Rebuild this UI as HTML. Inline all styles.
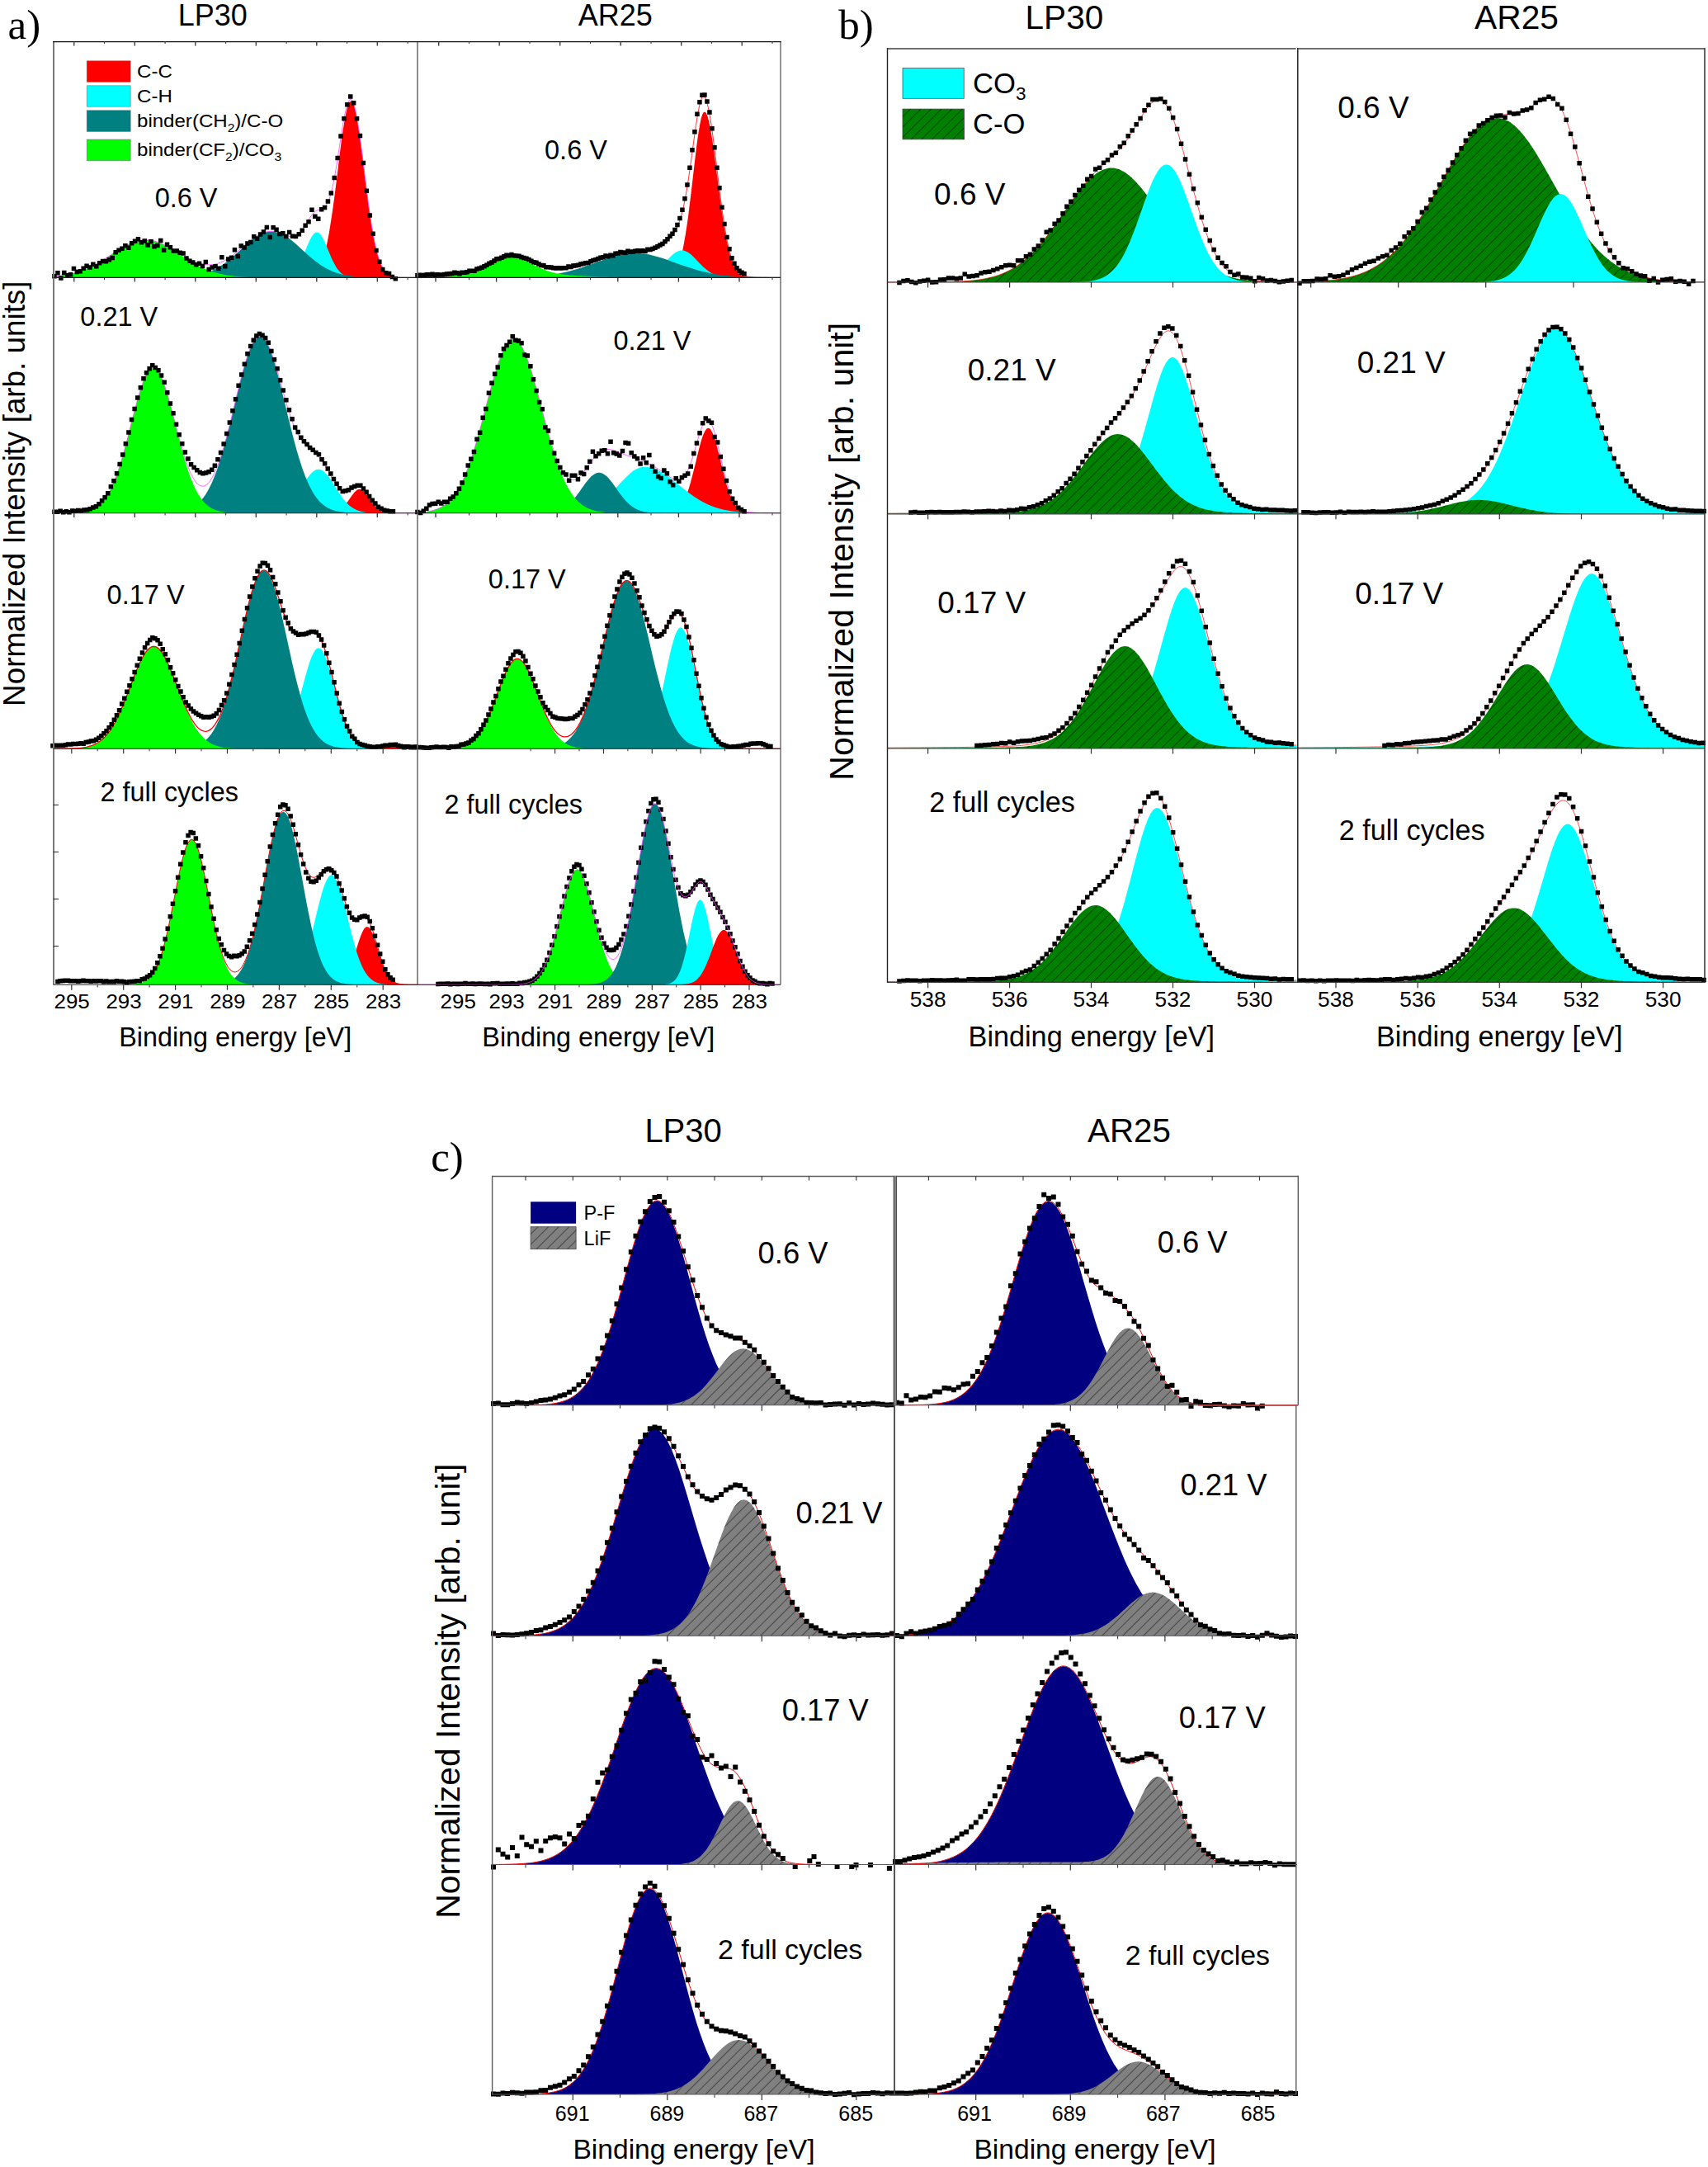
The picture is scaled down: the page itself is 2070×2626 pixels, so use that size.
<!DOCTYPE html><html><head><meta charset="utf-8"><title>XPS spectra</title><style>html,body{margin:0;padding:0;background:#fff}svg{display:block}</style></head><body><svg width="2070" height="2626" viewBox="0 0 2070 2626"><defs><pattern id="hatch" width="8.87" height="8.87" patternUnits="userSpaceOnUse" patternTransform="rotate(-45)"><line x1="-1" y1="4.4" x2="10" y2="4.4" stroke="#000" stroke-opacity="0.85" stroke-width="0.55"/></pattern></defs><rect width="2070" height="2626" fill="#fff"/><path d="M362.9,336.4L362.9,336.3L364.7,336.2L366.5,336.2L368.2,336L370,335.9L371.8,335.6L373.6,335.2L375.4,334.8L377.2,334.1L378.9,333.2L380.7,332L382.5,330.4L384.3,328.4L386.1,325.8L387.9,322.6L389.6,318.5L391.4,313.6L393.2,307.8L395,300.8L396.8,292.7L398.6,283.5L400.3,273L402.1,261.5L403.9,248.9L405.7,235.4L407.5,221.4L409.3,207L411,192.6L412.8,178.5L414.6,165.3L416.4,153.2L418.2,142.6L420,134L421.7,127.6L423.5,123.7L425.3,122.4L427.1,123.7L428.9,127.6L430.6,134L432.4,142.6L434.2,153.2L436,165.3L437.8,178.5L439.6,192.6L441.3,207L443.1,221.4L444.9,235.4L446.7,248.9L448.5,261.5L450.3,273L452,283.5L453.8,292.7L455.6,300.8L457.4,307.8L459.2,313.6L461,318.5L462.7,322.6L464.5,325.8L466.3,328.4L468.1,330.4L469.9,332L471.7,333.2L473.4,334.1L475.2,334.8L477,335.2L478.8,335.6L480.6,335.9L482.4,336L484.1,336.2L485.9,336.2L487.7,336.3L487.7,336.4Z" fill="#ff0000"/>
<path d="M330.6,336.4L330.6,336.4L332.1,336.4L333.6,336.3L335.1,336.3L336.7,336.3L338.2,336.2L339.7,336.1L341.3,336L342.8,335.8L344.3,335.6L345.8,335.3L347.4,334.9L348.9,334.3L350.4,333.7L351.9,332.8L353.5,331.8L355,330.6L356.5,329L358,327.3L359.6,325.2L361.1,322.8L362.6,320.1L364.2,317.1L365.7,313.9L367.2,310.5L368.7,306.8L370.3,303.1L371.8,299.4L373.3,295.8L374.8,292.4L376.4,289.3L377.9,286.6L379.4,284.4L380.9,282.7L382.5,281.7L384,281.4L385.5,281.7L387.1,282.7L388.6,284.4L390.1,286.6L391.6,289.3L393.2,292.4L394.7,295.8L396.2,299.4L397.7,303.1L399.3,306.8L400.8,310.5L402.3,313.9L403.8,317.1L405.4,320.1L406.9,322.8L408.4,325.2L410,327.3L411.5,329L413,330.6L414.5,331.8L416.1,332.8L417.6,333.7L419.1,334.3L420.6,334.9L422.2,335.3L423.7,335.6L425.2,335.8L426.7,336L428.3,336.1L429.8,336.2L431.3,336.3L432.9,336.3L434.4,336.3L435.9,336.4L437.4,336.4L437.4,336.4Z" fill="#00ffff"/>
<path d="M184.7,336.4L184.7,336.4L188.8,336.4L192.9,336.3L197.1,336.3L201.2,336.3L205.3,336.2L209.4,336.1L213.6,336L217.7,335.8L221.8,335.6L225.9,335.2L230.1,334.8L234.2,334.3L238.3,333.6L242.4,332.8L246.5,331.7L250.7,330.4L254.8,328.9L258.9,327.1L263,325L267.2,322.5L271.3,319.8L275.4,316.8L279.5,313.5L283.6,310L287.8,306.3L291.9,302.5L296,298.8L300.1,295.1L304.3,291.6L308.4,288.5L312.5,285.7L316.6,283.4L320.8,281.8L324.9,280.7L329,280.4L333.1,280.7L337.2,281.8L341.4,283.4L345.5,285.7L349.6,288.5L353.7,291.6L357.9,295.1L362,298.8L366.1,302.5L370.2,306.3L374.4,310L378.5,313.5L382.6,316.8L386.7,319.8L390.8,322.5L395,325L399.1,327.1L403.2,328.9L407.3,330.4L411.5,331.7L415.6,332.8L419.7,333.6L423.8,334.3L427.9,334.8L432.1,335.2L436.2,335.6L440.3,335.8L444.4,336L448.6,336.1L452.7,336.2L456.8,336.3L460.9,336.3L465.1,336.3L469.2,336.4L473.3,336.4L473.3,336.4Z" fill="#008080"/>
<path d="M64.5,336.4L64.5,335.1L69.2,334.7L73.9,334.1L78.5,333.4L83.2,332.6L87.9,331.5L92.6,330.2L97.2,328.8L101.9,327L106.6,325L111.3,322.8L115.9,320.3L120.6,317.6L125.3,314.8L130,311.8L134.6,308.7L139.3,305.6L144,302.7L148.7,299.8L153.3,297.3L158,295L162.7,293.2L167.4,291.9L172.1,291.1L176.7,290.8L181.4,291.1L186.1,291.9L190.8,293.3L195.4,295.2L200.1,297.4L204.8,300L209.5,302.8L214.1,305.8L218.8,308.9L223.5,312L228.2,314.9L232.8,317.8L237.5,320.5L242.2,322.9L246.9,325.2L251.6,327.1L256.2,328.8L260.9,330.3L265.6,331.6L270.3,332.6L274.9,333.5L279.6,334.1L284.3,334.7L289,335.1L293.6,335.5L298.3,335.7L303,335.9L307.7,336L312.3,336.2L317,336.2L321.7,336.3L326.4,336.3L331,336.3L335.7,336.4L340.4,336.4L340.4,336.4Z" fill="#00ff00"/>
<path d="M64.5,335.1L67,334.9L69.5,334.6L72,334.3L74.5,334L77,333.7L79.5,333.2L82,332.8L84.5,332.3L87.1,331.7L89.6,331.1L92.1,330.4L94.6,329.6L97.1,328.8L99.6,327.9L102.1,326.9L104.6,325.9L107.1,324.8L109.6,323.6L112.1,322.4L114.6,321.1L117.1,319.7L119.6,318.2L122.1,316.7L124.6,315.2L127.1,313.6L129.6,312L132.2,310.4L134.7,308.7L137.2,307.1L139.7,305.4L142.2,303.8L144.7,302.2L147.2,300.7L149.7,299.3L152.2,297.9L154.7,296.6L157.2,295.4L159.7,294.3L162.2,293.4L164.7,292.6L167.2,291.9L169.7,291.4L172.2,291L174.8,290.8L177.3,290.8L179.8,290.9L182.3,291.2L184.8,291.6L187.3,292.2L189.8,292.9L192.3,293.8L194.8,294.8L197.3,295.9L199.8,297.1L202.3,298.4L204.8,299.8L207.3,301.3L209.8,302.7L212.3,304.3L214.8,305.8L217.3,307.3L219.9,308.8L222.4,310.3L224.9,311.8L227.4,313.2L229.9,314.5L232.4,315.7L234.9,316.8L237.4,317.8L239.9,318.7L242.4,319.4L244.9,320L247.4,320.5L249.9,320.8L252.4,320.9L254.9,320.8L257.4,320.6L259.9,320.2L262.4,319.6L265,318.9L267.5,318L270,316.9L272.5,315.6L275,314.2L277.5,312.6L280,310.9L282.5,309.1L285,307.2L287.5,305.1L290,303.1L292.5,300.9L295,298.8L297.5,296.7L300,294.6L302.5,292.5L305,290.6L307.6,288.7L310.1,287L312.6,285.4L315.1,284L317.6,282.8L320.1,281.9L322.6,281.1L325.1,280.6L327.6,280.4L330.1,280.3L332.6,280.6L335.1,281L337.6,281.7L340.1,282.5L342.6,283.5L345.1,284.5L347.6,285.4L350.1,286.2L352.7,286.7L355.2,286.8L357.7,286.2L360.2,285L362.7,282.9L365.2,280.1L367.7,276.6L370.2,272.6L372.7,268.4L375.2,264.4L377.7,260.8L380.2,257.9L382.7,255.9L385.2,254.7L387.7,253.9L390.2,253.2L392.7,251.8L395.2,249.2L397.8,244.6L400.3,237.5L402.8,227.8L405.3,215.5L407.8,200.9L410.3,184.9L412.8,168.4L415.3,152.7L417.8,138.9L420.3,128.3L422.8,121.7L425.3,119.9L427.8,123.1L430.3,131.2L432.8,143.7L435.3,159.7L437.8,178.3L440.4,198.3L442.9,218.7L445.4,238.5L447.9,256.9L450.4,273.5L452.9,287.8L455.4,299.7L457.9,309.4L460.4,317L462.9,322.8L465.4,327.1L467.9,330.2L470.4,332.3L472.9,333.8L475.4,334.8L477.9,335.4L480.4,335.8L482.9,336.1L485.5,336.2L488,336.3L490.5,336.3L493,336.4L495.5,336.4L498,336.4L500.5,336.4L503,336.4L505.5,336.4" fill="none" stroke="#ff40ff" stroke-width="0.8"/>
<path d="M63.2,331.9h5.5v5.5h-5.5zM67.2,328.1h5.5v5.5h-5.5zM71.1,334.2h5.5v5.5h-5.5zM75,327.8h5.5v5.5h-5.5zM78.9,330.9h5.5v5.5h-5.5zM82.8,330.1h5.5v5.5h-5.5zM86.7,322.7h5.5v5.5h-5.5zM90.6,326.8h5.5v5.5h-5.5zM94.5,326.1h5.5v5.5h-5.5zM98.4,322.4h5.5v5.5h-5.5zM102.3,319.6h5.5v5.5h-5.5zM106.2,321.3h5.5v5.5h-5.5zM110.1,317.5h5.5v5.5h-5.5zM114,320.1h5.5v5.5h-5.5zM117.9,316h5.5v5.5h-5.5zM121.8,313.8h5.5v5.5h-5.5zM125.7,314h5.5v5.5h-5.5zM129.6,312h5.5v5.5h-5.5zM133.5,309.8h5.5v5.5h-5.5zM137.4,303.1h5.5v5.5h-5.5zM141.3,300.4h5.5v5.5h-5.5zM145.2,298.5h5.5v5.5h-5.5zM149.1,295.1h5.5v5.5h-5.5zM153,297.4h5.5v5.5h-5.5zM156.9,291.9h5.5v5.5h-5.5zM160.8,289.5h5.5v5.5h-5.5zM164.7,286.9h5.5v5.5h-5.5zM168.6,290.9h5.5v5.5h-5.5zM172.5,289.3h5.5v5.5h-5.5zM176.4,294.2h5.5v5.5h-5.5zM180.3,290.1h5.5v5.5h-5.5zM184.2,296h5.5v5.5h-5.5zM188.1,294.8h5.5v5.5h-5.5zM192,288.7h5.5v5.5h-5.5zM195.9,300.4h5.5v5.5h-5.5zM199.8,293.4h5.5v5.5h-5.5zM203.7,297h5.5v5.5h-5.5zM207.6,301.2h5.5v5.5h-5.5zM211.5,301.3h5.5v5.5h-5.5zM215.4,303.5h5.5v5.5h-5.5zM219.3,304.2h5.5v5.5h-5.5zM223.2,310.3h5.5v5.5h-5.5zM227.1,313.4h5.5v5.5h-5.5zM231,315.3h5.5v5.5h-5.5zM234.9,318.1h5.5v5.5h-5.5zM238.8,316.5h5.5v5.5h-5.5zM242.7,319.7h5.5v5.5h-5.5zM246.6,314.7h5.5v5.5h-5.5zM250.5,323.7h5.5v5.5h-5.5zM254.4,321.2h5.5v5.5h-5.5zM258.3,320.1h5.5v5.5h-5.5zM262.2,322.4h5.5v5.5h-5.5zM266.1,308.9h5.5v5.5h-5.5zM270,320h5.5v5.5h-5.5zM273.9,311.3h5.5v5.5h-5.5zM277.8,309.4h5.5v5.5h-5.5zM281.7,299.9h5.5v5.5h-5.5zM285.6,307.7h5.5v5.5h-5.5zM289.5,295.3h5.5v5.5h-5.5zM293.4,297.3h5.5v5.5h-5.5zM297.2,292.3h5.5v5.5h-5.5zM301.1,290.7h5.5v5.5h-5.5zM305,283.9h5.5v5.5h-5.5zM308.9,286.6h5.5v5.5h-5.5zM312.8,281.3h5.5v5.5h-5.5zM316.7,278.3h5.5v5.5h-5.5zM320.6,272.7h5.5v5.5h-5.5zM324.5,284.8h5.5v5.5h-5.5zM328.4,273.1h5.5v5.5h-5.5zM332.3,275.4h5.5v5.5h-5.5zM336.2,280.8h5.5v5.5h-5.5zM340.1,279.9h5.5v5.5h-5.5zM344,283.8h5.5v5.5h-5.5zM347.9,278.7h5.5v5.5h-5.5zM351.8,283.4h5.5v5.5h-5.5zM355.7,283.8h5.5v5.5h-5.5zM359.6,281.1h5.5v5.5h-5.5zM363.5,276.4h5.5v5.5h-5.5zM367.4,270.4h5.5v5.5h-5.5zM371.3,266h5.5v5.5h-5.5zM375.2,251.5h5.5v5.5h-5.5zM379.1,259.5h5.5v5.5h-5.5zM383,262.5h5.5v5.5h-5.5zM386.9,251h5.5v5.5h-5.5zM390.8,248.8h5.5v5.5h-5.5zM394.7,241.3h5.5v5.5h-5.5zM398.6,231.3h5.5v5.5h-5.5zM402.5,212.8h5.5v5.5h-5.5zM406.4,188.7h5.5v5.5h-5.5zM410.3,162.2h5.5v5.5h-5.5zM414.2,140.9h5.5v5.5h-5.5zM418.1,124.1h5.5v5.5h-5.5zM422,114.2h5.5v5.5h-5.5zM425.9,121.9h5.5v5.5h-5.5zM429.8,141.1h5.5v5.5h-5.5zM433.7,161.8h5.5v5.5h-5.5zM437.6,194.8h5.5v5.5h-5.5zM441.5,228.4h5.5v5.5h-5.5zM445.4,258.3h5.5v5.5h-5.5zM449.3,280.4h5.5v5.5h-5.5zM453.2,300.8h5.5v5.5h-5.5zM457.1,314.5h5.5v5.5h-5.5zM461,323.7h5.5v5.5h-5.5zM464.9,328h5.5v5.5h-5.5zM468.8,328.7h5.5v5.5h-5.5zM472.7,332.7h5.5v5.5h-5.5zM476.6,335.1h5.5v5.5h-5.5z" fill="#000"/>
<path d="M799.2,336.4L799.2,336.3L800.8,336.2L802.4,336.2L803.9,336L805.5,335.9L807.1,335.6L808.7,335.3L810.2,334.8L811.8,334.2L813.4,333.3L815,332.1L816.5,330.6L818.1,328.6L819.7,326.1L821.3,322.9L822.8,319L824.4,314.2L826,308.4L827.6,301.7L829.1,293.8L830.7,284.8L832.3,274.6L833.9,263.4L835.4,251.3L837,238.4L838.6,224.9L840.2,211.2L841.8,197.6L843.3,184.4L844.9,172.1L846.5,161.1L848.1,151.6L849.6,144.1L851.2,138.8L852.8,135.9L854.4,135.5L855.9,137.3L857.5,141.1L859.1,146.8L860.7,154.2L862.2,163.1L863.8,173.3L865.4,184.4L867,196.3L868.5,208.6L870.1,220.9L871.7,233.2L873.3,245.1L874.8,256.5L876.4,267.1L878,277L879.6,286L881.2,294L882.7,301.2L884.3,307.4L885.9,312.8L887.5,317.4L889,321.2L890.6,324.4L892.2,327L893.8,329.2L895.3,330.9L896.9,332.2L898.5,333.3L900.1,334.1L901.6,334.7L903.2,335.2L904.8,335.5L906.4,335.8L907.9,335.9L909.5,336.1L911.1,336.2L912.7,336.3L914.2,336.3L914.2,336.4Z" fill="#ff0000"/>
<path d="M752.3,336.4L752.3,336.4L754.4,336.4L756.5,336.4L758.7,336.3L760.8,336.3L762.9,336.3L765,336.2L767.1,336.1L769.2,336L771.4,335.9L773.5,335.7L775.6,335.5L777.7,335.2L779.8,334.8L781.9,334.3L784.1,333.6L786.2,332.9L788.3,332L790.4,330.9L792.5,329.7L794.6,328.2L796.8,326.6L798.9,324.8L801,322.9L803.1,320.8L805.2,318.7L807.3,316.4L809.5,314.2L811.6,312.1L813.7,310L815.8,308.1L817.9,306.5L820,305.2L822.2,304.2L824.3,303.6L826.4,303.4L828.5,303.6L830.6,304.2L832.8,305.2L834.9,306.5L837,308.1L839.1,310L841.2,312.1L843.3,314.2L845.5,316.4L847.6,318.7L849.7,320.8L851.8,322.9L853.9,324.8L856,326.6L858.2,328.2L860.3,329.7L862.4,330.9L864.5,332L866.6,332.9L868.7,333.6L870.9,334.3L873,334.8L875.1,335.2L877.2,335.5L879.3,335.7L881.4,335.9L883.6,336L885.7,336.1L887.8,336.2L889.9,336.3L892,336.3L894.1,336.3L896.3,336.4L898.4,336.4L900.5,336.4L900.5,336.4Z" fill="#00ffff"/>
<path d="M578.9,336.4L578.9,336.4L584.4,336.4L589.9,336.4L595.3,336.3L600.8,336.3L606.3,336.3L611.8,336.2L617.3,336.2L622.7,336.1L628.2,336L633.7,335.8L639.2,335.6L644.6,335.3L650.1,334.9L655.6,334.5L661.1,333.9L666.6,333.2L672,332.4L677.5,331.4L683,330.3L688.5,329L694,327.6L699.4,325.9L704.9,324.2L710.4,322.3L715.9,320.4L721.4,318.4L726.8,316.4L732.3,314.5L737.8,312.6L743.3,311L748.8,309.5L754.2,308.4L759.7,307.5L765.2,307L770.7,306.9L776.1,307.1L781.6,307.7L787.1,308.6L792.6,309.9L798.1,311.4L803.5,313.1L809,314.9L814.5,316.9L820,318.9L825.5,320.9L830.9,322.8L836.4,324.6L841.9,326.3L847.4,327.9L852.9,329.3L858.3,330.6L863.8,331.7L869.3,332.6L874.8,333.4L880.3,334.1L885.7,334.6L891.2,335L896.7,335.4L902.2,335.6L907.6,335.8L913.1,336L918.6,336.1L924.1,336.2L929.6,336.3L935,336.3L940.5,336.3L946,336.4L946,336.4Z" fill="#008080"/>
<path d="M505.5,336.4L505.5,335.7L508.2,335.6L510.9,335.5L513.5,335.4L516.2,335.4L518.9,335.3L521.6,335.2L524.2,335.1L526.9,335L529.6,334.8L532.3,334.7L535,334.6L537.6,334.4L540.3,334.3L543,334.1L545.7,333.9L548.3,333.7L551,333.5L553.7,333.2L556.4,332.9L559,332.6L561.7,332.2L564.4,331.7L567.1,331.2L569.8,330.6L572.4,329.9L575.1,329.1L577.8,328.2L580.5,327.2L583.1,326.1L585.8,324.9L588.5,323.6L591.2,322.3L593.9,320.9L596.5,319.5L599.2,318.1L601.9,316.7L604.6,315.4L607.2,314.3L609.9,313.3L612.6,312.5L615.3,311.9L617.9,311.5L620.6,311.4L623.3,311.6L626,312L628.7,312.6L631.3,313.4L634,314.5L636.7,315.6L639.4,316.9L642,318.3L644.7,319.7L647.4,321.1L650.1,322.5L652.8,323.8L655.4,325.1L658.1,326.2L660.8,327.3L663.5,328.3L666.1,329.1L668.8,329.9L671.5,330.6L674.2,331.2L676.9,331.7L679.5,332.1L682.2,332.5L684.9,332.8L687.6,333.1L690.2,333.4L692.9,333.6L695.6,333.8L698.3,334L700.9,334.2L703.6,334.3L706.3,334.5L709,334.6L711.7,334.7L714.3,334.8L717,335L719.7,335.1L722.4,335.2L725,335.3L727.7,335.4L730.4,335.4L733.1,335.5L735.8,335.6L738.4,335.7L741.1,335.7L743.8,335.8L746.5,335.8L749.1,335.9L751.8,336L754.5,336L757.2,336L759.8,336.1L762.5,336.1L765.2,336.1L767.9,336.2L770.6,336.2L773.2,336.2L775.9,336.2L778.6,336.3L781.3,336.3L783.9,336.3L786.6,336.3L789.3,336.3L792,336.3L794.7,336.3L797.3,336.3L800,336.4L802.7,336.4L805.4,336.4L808,336.4L810.7,336.4L813.4,336.4L816.1,336.4L818.7,336.4L821.4,336.4L824.1,336.4L826.8,336.4L829.5,336.4L832.1,336.4L834.8,336.4L837.5,336.4L840.2,336.4L842.8,336.4L845.5,336.4L848.2,336.4L848.2,336.4Z" fill="#00ff00"/>
<path d="M505.5,335.7L508,335.6L510.5,335.5L513,335.5L515.5,335.4L518,335.3L520.5,335.2L523,335.1L525.5,335L528,334.9L530.5,334.8L533,334.7L535.5,334.6L538,334.4L540.5,334.3L543,334.1L545.5,333.9L548,333.7L550.6,333.5L553.1,333.3L555.6,333L558.1,332.7L560.6,332.4L563.1,332L565.6,331.5L568.1,331L570.6,330.4L573.1,329.7L575.6,329L578.1,328.1L580.6,327.2L583.1,326.1L585.6,325L588.1,323.8L590.6,322.5L593.1,321.2L595.6,319.9L598.1,318.6L600.6,317.3L603.1,316L605.6,314.8L608.1,313.8L610.6,312.9L613.1,312.1L615.6,311.6L618.1,311.2L620.6,311.1L623.1,311.2L625.6,311.5L628.1,312L630.6,312.7L633.1,313.5L635.6,314.5L638.2,315.5L640.7,316.7L643.2,317.8L645.7,319L648.2,320.2L650.7,321.3L653.2,322.3L655.7,323.2L658.2,324.1L660.7,324.8L663.2,325.4L665.7,325.9L668.2,326.3L670.7,326.6L673.2,326.8L675.7,326.8L678.2,326.8L680.7,326.7L683.2,326.5L685.7,326.2L688.2,325.9L690.7,325.4L693.2,325L695.7,324.5L698.2,323.9L700.7,323.3L703.2,322.6L705.7,321.9L708.2,321.2L710.7,320.5L713.2,319.7L715.7,318.9L718.2,318.1L720.7,317.3L723.2,316.5L725.8,315.7L728.3,314.9L730.8,314L733.3,313.3L735.8,312.5L738.3,311.7L740.8,311L743.3,310.4L745.8,309.7L748.3,309.1L750.8,308.6L753.3,308.1L755.8,307.7L758.3,307.3L760.8,307L763.3,306.8L765.8,306.6L768.3,306.4L770.8,306.2L773.3,306.1L775.8,306L778.3,305.8L780.8,305.6L783.3,305.3L785.8,304.9L788.3,304.4L790.8,303.6L793.3,302.7L795.8,301.6L798.3,300.2L800.8,298.6L803.3,296.9L805.8,294.8L808.3,292.6L810.8,290.1L813.3,287.3L815.9,283.9L818.4,279.9L820.9,274.9L823.4,268.6L825.9,260.5L828.4,250.5L830.9,238.1L833.4,223.4L835.9,206.7L838.4,188.6L840.9,170L843.4,152.3L845.9,136.7L848.4,124.8L850.9,117.8L853.4,116.5L855.9,121L858.4,130.3L860.9,143.8L863.4,160.8L865.9,180.1L868.4,200.7L870.9,221.5L873.4,241.4L875.9,259.8L878.4,276.2L880.9,290.1L883.4,301.7L885.9,310.9L888.4,318.1L890.9,323.5L893.4,327.5L895.9,330.3L898.4,332.3L900.9,333.6L903.5,334.5L906,335.1L908.5,335.5L911,335.7L913.5,335.9L916,336L918.5,336.1L921,336.1L923.5,336.2L926,336.2L928.5,336.2L931,336.3L933.5,336.3L936,336.3L938.5,336.3L941,336.3L943.5,336.3L946,336.4" fill="none" stroke="#ff0000" stroke-width="0.8"/>
<path d="M503.2,330.9h5.5v5.5h-5.5zM506.2,330.6h5.5v5.5h-5.5zM509.2,331h5.5v5.5h-5.5zM512.2,330.5h5.5v5.5h-5.5zM515.2,330.1h5.5v5.5h-5.5zM518.2,330.2h5.5v5.5h-5.5zM521.2,329.5h5.5v5.5h-5.5zM524.2,330.6h5.5v5.5h-5.5zM527.2,330h5.5v5.5h-5.5zM530.2,330.3h5.5v5.5h-5.5zM533.2,330.2h5.5v5.5h-5.5zM536.2,329.7h5.5v5.5h-5.5zM539.2,329.3h5.5v5.5h-5.5zM542.2,329h5.5v5.5h-5.5zM545.2,328.7h5.5v5.5h-5.5zM548.2,327.6h5.5v5.5h-5.5zM551.2,328h5.5v5.5h-5.5zM554.2,328.9h5.5v5.5h-5.5zM557.2,327.6h5.5v5.5h-5.5zM560.2,327.6h5.5v5.5h-5.5zM563.2,326.9h5.5v5.5h-5.5zM566.2,325.4h5.5v5.5h-5.5zM569.2,325.4h5.5v5.5h-5.5zM572.2,325.4h5.5v5.5h-5.5zM575.2,323.2h5.5v5.5h-5.5zM578.2,322.4h5.5v5.5h-5.5zM581.2,321.6h5.5v5.5h-5.5zM584.2,320.1h5.5v5.5h-5.5zM587.2,318.4h5.5v5.5h-5.5zM590.2,316.6h5.5v5.5h-5.5zM593.2,315.2h5.5v5.5h-5.5zM596.2,313.3h5.5v5.5h-5.5zM599.2,310.9h5.5v5.5h-5.5zM602.2,310.8h5.5v5.5h-5.5zM605.2,309.5h5.5v5.5h-5.5zM608.2,308.1h5.5v5.5h-5.5zM611.2,306.6h5.5v5.5h-5.5zM614.2,307h5.5v5.5h-5.5zM617.2,305.7h5.5v5.5h-5.5zM620.2,307.1h5.5v5.5h-5.5zM623.2,307.3h5.5v5.5h-5.5zM626.2,307.5h5.5v5.5h-5.5zM629.2,308.8h5.5v5.5h-5.5zM632.2,309.8h5.5v5.5h-5.5zM635.2,310.5h5.5v5.5h-5.5zM638.2,311.7h5.5v5.5h-5.5zM641.2,313.4h5.5v5.5h-5.5zM644.2,315h5.5v5.5h-5.5zM647.2,315.5h5.5v5.5h-5.5zM650.2,317.3h5.5v5.5h-5.5zM653.2,318.7h5.5v5.5h-5.5zM656.2,319h5.5v5.5h-5.5zM659.2,320.9h5.5v5.5h-5.5zM662.2,321h5.5v5.5h-5.5zM665.2,321.2h5.5v5.5h-5.5zM668.2,321.9h5.5v5.5h-5.5zM671.2,322.3h5.5v5.5h-5.5zM674.2,321.9h5.5v5.5h-5.5zM677.2,322.2h5.5v5.5h-5.5zM680.2,322h5.5v5.5h-5.5zM683.2,321.9h5.5v5.5h-5.5zM686.2,320.3h5.5v5.5h-5.5zM689.2,320.7h5.5v5.5h-5.5zM692.2,319.3h5.5v5.5h-5.5zM695.2,319h5.5v5.5h-5.5zM698.2,318.6h5.5v5.5h-5.5zM701.2,317.3h5.5v5.5h-5.5zM704.2,316.7h5.5v5.5h-5.5zM707.2,315.9h5.5v5.5h-5.5zM710.2,315.7h5.5v5.5h-5.5zM713.2,314.1h5.5v5.5h-5.5zM716.2,312.7h5.5v5.5h-5.5zM719.2,311.9h5.5v5.5h-5.5zM722.2,310.7h5.5v5.5h-5.5zM725.2,309.4h5.5v5.5h-5.5zM728.2,309h5.5v5.5h-5.5zM731.2,307.3h5.5v5.5h-5.5zM734.2,308.1h5.5v5.5h-5.5zM737.2,306.6h5.5v5.5h-5.5zM740.2,306.9h5.5v5.5h-5.5zM743.2,304.5h5.5v5.5h-5.5zM746.2,304.2h5.5v5.5h-5.5zM749.2,302.8h5.5v5.5h-5.5zM752.2,303.3h5.5v5.5h-5.5zM755.2,303.6h5.5v5.5h-5.5zM758.2,301.6h5.5v5.5h-5.5zM761.2,302.6h5.5v5.5h-5.5zM764.2,302.3h5.5v5.5h-5.5zM767.2,301.6h5.5v5.5h-5.5zM770.2,301.1h5.5v5.5h-5.5zM773.2,301.5h5.5v5.5h-5.5zM776.2,300.9h5.5v5.5h-5.5zM779.2,301.7h5.5v5.5h-5.5zM782.2,299.5h5.5v5.5h-5.5zM785.2,299.7h5.5v5.5h-5.5zM788.2,298.8h5.5v5.5h-5.5zM791.2,297.4h5.5v5.5h-5.5zM794.2,296.1h5.5v5.5h-5.5zM797.2,294.3h5.5v5.5h-5.5zM800.2,292.8h5.5v5.5h-5.5zM803.2,290h5.5v5.5h-5.5zM806.2,287h5.5v5.5h-5.5zM809.2,283.6h5.5v5.5h-5.5zM812.2,280.5h5.5v5.5h-5.5zM815.2,275.8h5.5v5.5h-5.5zM818.2,269.7h5.5v5.5h-5.5zM821.2,261.7h5.5v5.5h-5.5zM824.2,251.4h5.5v5.5h-5.5zM827.2,238h5.5v5.5h-5.5zM830.2,221.3h5.5v5.5h-5.5zM833.2,200.6h5.5v5.5h-5.5zM836.2,179.1h5.5v5.5h-5.5zM839.2,157.1h5.5v5.5h-5.5zM842.2,135.4h5.5v5.5h-5.5zM845.2,121.1h5.5v5.5h-5.5zM848.2,112.4h5.5v5.5h-5.5zM851.2,112.3h5.5v5.5h-5.5zM854.2,120.3h5.5v5.5h-5.5zM857.2,133.2h5.5v5.5h-5.5zM860.2,153.1h5.5v5.5h-5.5zM863.2,176.1h5.5v5.5h-5.5zM866.2,200.4h5.5v5.5h-5.5zM869.2,225h5.5v5.5h-5.5zM872.2,248.4h5.5v5.5h-5.5zM875.2,268.8h5.5v5.5h-5.5zM878.2,284.7h5.5v5.5h-5.5zM881.2,298.9h5.5v5.5h-5.5zM884.2,310h5.5v5.5h-5.5zM887.2,316.5h5.5v5.5h-5.5zM890.2,322h5.5v5.5h-5.5zM893.2,325.6h5.5v5.5h-5.5zM896.2,327.5h5.5v5.5h-5.5zM899.2,329.1h5.5v5.5h-5.5z" fill="#000"/>
<path d="M389.2,621.7L389.2,621.7L390.7,621.7L392.2,621.7L393.7,621.6L395.2,621.6L396.7,621.6L398.3,621.5L399.8,621.4L401.3,621.3L402.8,621.1L404.3,620.8L405.8,620.5L407.3,620L408.8,619.5L410.3,618.8L411.8,617.9L413.4,616.8L414.9,615.6L416.4,614.1L417.9,612.4L419.4,610.6L420.9,608.6L422.4,606.4L423.9,604.2L425.4,602L426.9,599.9L428.5,597.9L430,596.1L431.5,594.7L433,593.6L434.5,592.9L436,592.7L437.5,592.9L439,593.6L440.5,594.7L442,596.1L443.5,597.9L445.1,599.9L446.6,602L448.1,604.2L449.6,606.4L451.1,608.6L452.6,610.6L454.1,612.4L455.6,614.1L457.1,615.6L458.6,616.8L460.2,617.9L461.7,618.8L463.2,619.5L464.7,620L466.2,620.5L467.7,620.8L469.2,621.1L470.7,621.3L472.2,621.4L473.7,621.5L475.3,621.6L476.8,621.6L478.3,621.6L479.8,621.7L481.3,621.7L482.8,621.7L482.8,621.7Z" fill="#ff0000"/>
<path d="M308,621.7L308,621.7L310.2,621.7L312.5,621.6L314.7,621.6L316.9,621.6L319.1,621.5L321.4,621.4L323.6,621.3L325.8,621.1L328.1,620.9L330.3,620.6L332.5,620.2L334.7,619.7L337,619.1L339.2,618.3L341.4,617.3L343.7,616.1L345.9,614.6L348.1,612.9L350.3,610.9L352.6,608.6L354.8,606L357,603.1L359.3,600L361.5,596.7L363.7,593.2L365.9,589.6L368.2,586.1L370.4,582.6L372.6,579.3L374.9,576.3L377.1,573.7L379.3,571.6L381.5,570L383.8,569L386,568.7L388.2,569L390.5,570L392.7,571.6L394.9,573.7L397.1,576.3L399.4,579.3L401.6,582.6L403.8,586.1L406.1,589.6L408.3,593.2L410.5,596.7L412.7,600L415,603.1L417.2,606L419.4,608.6L421.7,610.9L423.9,612.9L426.1,614.6L428.3,616.1L430.6,617.3L432.8,618.3L435,619.1L437.3,619.7L439.5,620.2L441.7,620.6L443.9,620.9L446.2,621.1L448.4,621.3L450.6,621.4L452.9,621.5L455.1,621.6L457.3,621.6L459.5,621.6L461.8,621.7L464,621.7L464,621.7Z" fill="#00ffff"/>
<path d="M194.1,621.7L194.1,621.6L197.6,621.5L201,621.5L204.5,621.3L207.9,621.2L211.4,620.9L214.8,620.5L218.3,620.1L221.7,619.4L225.2,618.5L228.6,617.3L232.1,615.7L235.6,613.7L239,611.1L242.5,607.9L245.9,603.8L249.4,598.9L252.8,593.1L256.3,586.1L259.7,578L263.2,568.8L266.6,558.3L270.1,546.8L273.5,534.2L277,520.7L280.5,506.7L283.9,492.3L287.4,477.9L290.8,463.8L294.3,450.6L297.7,438.5L301.2,427.9L304.6,419.3L308.1,412.9L311.5,409L315,407.7L318.5,409L321.9,412.9L325.4,419.3L328.8,427.9L332.3,438.5L335.7,450.6L339.2,463.8L342.6,477.9L346.1,492.3L349.5,506.7L353,520.7L356.5,534.2L359.9,546.8L363.4,558.3L366.8,568.8L370.3,578L373.7,586.1L377.2,593.1L380.6,598.9L384.1,603.8L387.5,607.9L391,611.1L394.4,613.7L397.9,615.7L401.4,617.3L404.8,618.5L408.3,619.4L411.7,620.1L415.2,620.5L418.6,620.9L422.1,621.2L425.5,621.3L429,621.5L432.4,621.5L435.9,621.6L435.9,621.7Z" fill="#008080"/>
<path d="M80.4,621.7L80.4,621.6L83.4,621.6L86.4,621.5L89.4,621.4L92.4,621.2L95.4,621L98.5,620.8L101.5,620.3L104.5,619.8L107.5,619.1L110.5,618.1L113.5,616.8L116.5,615.1L119.5,613L122.5,610.3L125.5,607L128.5,603L131.5,598.2L134.6,592.5L137.6,585.8L140.6,578.2L143.6,569.7L146.6,560.2L149.6,549.8L152.6,538.8L155.6,527.3L158.6,515.4L161.6,503.6L164.6,492.1L167.6,481.2L170.7,471.3L173.7,462.6L176.7,455.5L179.7,450.3L182.7,447.1L185.7,446L188.7,447.1L191.7,450.3L194.7,455.5L197.7,462.6L200.7,471.3L203.8,481.2L206.8,492.1L209.8,503.6L212.8,515.4L215.8,527.3L218.8,538.8L221.8,549.8L224.8,560.2L227.8,569.7L230.8,578.2L233.8,585.8L236.8,592.5L239.9,598.2L242.9,603L245.9,607L248.9,610.3L251.9,613L254.9,615.1L257.9,616.8L260.9,618.1L263.9,619.1L266.9,619.8L269.9,620.3L272.9,620.8L276,621L279,621.2L282,621.4L285,621.5L288,621.6L291,621.6L291,621.7Z" fill="#00ff00"/>
<path d="M64.5,621.7L67,621.7L69.5,621.7L72,621.7L74.5,621.7L77,621.6L79.5,621.6L82,621.6L84.5,621.5L87.1,621.5L89.6,621.4L92.1,621.3L94.6,621.1L97.1,620.9L99.6,620.6L102.1,620.2L104.6,619.8L107.1,619.2L109.6,618.4L112.1,617.4L114.6,616.2L117.1,614.7L119.6,612.9L122.1,610.7L124.6,608.1L127.1,605L129.6,601.3L132.2,597.1L134.7,592.3L137.2,586.8L139.7,580.6L142.2,573.8L144.7,566.3L147.2,558.2L149.7,549.5L152.2,540.3L154.7,530.8L157.2,521L159.7,511.1L162.2,501.3L164.7,491.8L167.2,482.6L169.7,474.2L172.2,466.5L174.8,459.9L177.3,454.4L179.8,450.2L182.3,447.4L184.8,446.1L187.3,446.3L189.8,447.9L192.3,451.1L194.8,455.6L197.3,461.3L199.8,468.2L202.3,476L204.8,484.6L207.3,493.7L209.8,503.2L212.3,512.8L214.8,522.4L217.3,531.8L219.9,540.8L222.4,549.3L224.9,557.2L227.4,564.4L229.9,570.7L232.4,576.1L234.9,580.7L237.4,584.3L239.9,586.9L242.4,588.5L244.9,589.2L247.4,588.9L249.9,587.7L252.4,585.5L254.9,582.4L257.4,578.4L259.9,573.5L262.4,567.7L265,561.2L267.5,553.9L270,545.9L272.5,537.2L275,528L277.5,518.3L280,508.2L282.5,497.9L285,487.5L287.5,477.1L290,467L292.5,457.1L295,447.8L297.5,439.1L300,431.2L302.5,424.3L305,418.4L307.6,413.8L310.1,410.4L312.6,408.3L315.1,407.6L317.6,408.3L320.1,410.3L322.6,413.7L325.1,418.2L327.6,423.9L330.1,430.6L332.6,438.1L335.1,446.2L337.6,454.9L340.1,463.8L342.6,472.8L345.1,481.7L347.6,490.3L350.1,498.5L352.7,506.2L355.2,513.1L357.7,519.3L360.2,524.7L362.7,529.3L365.2,533.1L367.7,536.4L370.2,539.1L372.7,541.4L375.2,543.4L377.7,545.4L380.2,547.5L382.7,549.7L385.2,552.3L387.7,555.2L390.2,558.6L392.7,562.4L395.2,566.5L397.8,570.9L400.3,575.4L402.8,579.9L405.3,584.2L407.8,588.2L410.3,591.5L412.8,594.1L415.3,595.9L417.8,596.7L420.3,596.5L422.8,595.6L425.3,594.1L427.8,592.5L430.3,591L432.8,590.1L435.3,590.1L437.8,591.1L440.4,593.2L442.9,596.1L445.4,599.6L447.9,603.5L450.4,607.2L452.9,610.7L455.4,613.7L457.9,616.1L460.4,618L462.9,619.3L465.4,620.2L467.9,620.8L470.4,621.2L472.9,621.4L475.4,621.6L477.9,621.6L480.4,621.7L482.9,621.7L485.5,621.7L488,621.7L490.5,621.7L493,621.7L495.5,621.7L498,621.7L500.5,621.7L503,621.7L505.5,621.7" fill="none" stroke="#ff40ff" stroke-width="0.8"/>
<path d="M63.2,617.5h5.5v5.5h-5.5zM66.8,617.5h5.5v5.5h-5.5zM70.4,616.6h5.5v5.5h-5.5zM74,618h5.5v5.5h-5.5zM77.6,616.9h5.5v5.5h-5.5zM81.2,617.9h5.5v5.5h-5.5zM84.8,616.2h5.5v5.5h-5.5zM88.4,616.5h5.5v5.5h-5.5zM92,615.7h5.5v5.5h-5.5zM95.6,616.3h5.5v5.5h-5.5zM99.2,615.3h5.5v5.5h-5.5zM102.8,614.9h5.5v5.5h-5.5zM106.4,614.1h5.5v5.5h-5.5zM110,612.3h5.5v5.5h-5.5zM113.6,611.1h5.5v5.5h-5.5zM117.2,608h5.5v5.5h-5.5zM120.8,604.1h5.5v5.5h-5.5zM124.4,600.1h5.5v5.5h-5.5zM128,594.9h5.5v5.5h-5.5zM131.6,587h5.5v5.5h-5.5zM135.2,580h5.5v5.5h-5.5zM138.8,571h5.5v5.5h-5.5zM142.4,559.8h5.5v5.5h-5.5zM146,548.2h5.5v5.5h-5.5zM149.6,535h5.5v5.5h-5.5zM153.2,521.2h5.5v5.5h-5.5zM156.8,505.8h5.5v5.5h-5.5zM160.4,492.8h5.5v5.5h-5.5zM164,479.3h5.5v5.5h-5.5zM167.6,467h5.5v5.5h-5.5zM171.2,456h5.5v5.5h-5.5zM174.8,449.1h5.5v5.5h-5.5zM178.4,444h5.5v5.5h-5.5zM182,440.1h5.5v5.5h-5.5zM185.6,442.8h5.5v5.5h-5.5zM189.2,446.1h5.5v5.5h-5.5zM192.8,452.2h5.5v5.5h-5.5zM196.4,460.4h5.5v5.5h-5.5zM200,473.1h5.5v5.5h-5.5zM203.6,486.3h5.5v5.5h-5.5zM207.2,497.9h5.5v5.5h-5.5zM210.8,511.6h5.5v5.5h-5.5zM214.4,524.1h5.5v5.5h-5.5zM218,535.1h5.5v5.5h-5.5zM221.6,545.2h5.5v5.5h-5.5zM225.2,553.3h5.5v5.5h-5.5zM228.8,560h5.5v5.5h-5.5zM232.4,563.8h5.5v5.5h-5.5zM236,567h5.5v5.5h-5.5zM239.6,569.8h5.5v5.5h-5.5zM243.2,571h5.5v5.5h-5.5zM246.8,570.3h5.5v5.5h-5.5zM250.4,568.9h5.5v5.5h-5.5zM254,566.6h5.5v5.5h-5.5zM257.6,561.5h5.5v5.5h-5.5zM261.2,554h5.5v5.5h-5.5zM264.8,545.8h5.5v5.5h-5.5zM268.4,535.2h5.5v5.5h-5.5zM272,522.7h5.5v5.5h-5.5zM275.6,509.3h5.5v5.5h-5.5zM279.2,494.9h5.5v5.5h-5.5zM282.8,481.1h5.5v5.5h-5.5zM286.4,464.5h5.5v5.5h-5.5zM290,451.2h5.5v5.5h-5.5zM293.6,438.6h5.5v5.5h-5.5zM297.2,426.1h5.5v5.5h-5.5zM300.9,416.8h5.5v5.5h-5.5zM304.5,409.6h5.5v5.5h-5.5zM308.1,404.3h5.5v5.5h-5.5zM311.7,401.8h5.5v5.5h-5.5zM315.3,403.5h5.5v5.5h-5.5zM318.9,406.7h5.5v5.5h-5.5zM322.5,412.6h5.5v5.5h-5.5zM326.1,422.8h5.5v5.5h-5.5zM329.7,432.9h5.5v5.5h-5.5zM333.3,444.1h5.5v5.5h-5.5zM336.9,458h5.5v5.5h-5.5zM340.5,470.2h5.5v5.5h-5.5zM344.1,482.1h5.5v5.5h-5.5zM347.7,494.1h5.5v5.5h-5.5zM351.3,504.9h5.5v5.5h-5.5zM354.9,515.3h5.5v5.5h-5.5zM358.5,520.7h5.5v5.5h-5.5zM362.1,527.6h5.5v5.5h-5.5zM365.7,532h5.5v5.5h-5.5zM369.3,535.7h5.5v5.5h-5.5zM372.9,539.8h5.5v5.5h-5.5zM376.5,542.6h5.5v5.5h-5.5zM380.1,545.7h5.5v5.5h-5.5zM383.7,547.9h5.5v5.5h-5.5zM387.3,553.9h5.5v5.5h-5.5zM390.9,559.1h5.5v5.5h-5.5zM394.5,565.3h5.5v5.5h-5.5zM398.1,571.3h5.5v5.5h-5.5zM401.7,577.7h5.5v5.5h-5.5zM405.3,583.6h5.5v5.5h-5.5zM408.9,588.9h5.5v5.5h-5.5zM412.5,592.7h5.5v5.5h-5.5zM416.1,591.9h5.5v5.5h-5.5zM419.7,590.9h5.5v5.5h-5.5zM423.3,588.3h5.5v5.5h-5.5zM426.9,586.7h5.5v5.5h-5.5zM430.5,585.6h5.5v5.5h-5.5zM434.1,585.6h5.5v5.5h-5.5zM437.7,589.2h5.5v5.5h-5.5zM441.3,593.4h5.5v5.5h-5.5zM444.9,598.8h5.5v5.5h-5.5zM448.5,603.5h5.5v5.5h-5.5zM452.1,607.3h5.5v5.5h-5.5zM455.7,611.4h5.5v5.5h-5.5zM459.3,613.6h5.5v5.5h-5.5zM462.9,615.4h5.5v5.5h-5.5zM466.5,616.2h5.5v5.5h-5.5zM470.1,616.9h5.5v5.5h-5.5zM473.7,617h5.5v5.5h-5.5z" fill="#000"/>
<path d="M799.9,621.7L799.9,621.6L801.6,621.6L803.2,621.6L804.9,621.5L806.6,621.4L808.3,621.3L809.9,621.1L811.6,620.9L813.3,620.6L814.9,620.2L816.6,619.6L818.3,618.8L820,617.8L821.6,616.6L823.3,615L825,613.1L826.6,610.7L828.3,607.9L830,604.6L831.7,600.7L833.3,596.2L835,591.2L836.7,585.6L838.3,579.6L840,573.1L841.7,566.3L843.4,559.4L845,552.5L846.7,545.7L848.4,539.3L850,533.5L851.7,528.4L853.4,524.3L855.1,521.2L856.7,519.3L858.4,518.7L860.1,519.3L861.7,521.2L863.4,524.3L865.1,528.4L866.8,533.5L868.4,539.3L870.1,545.7L871.8,552.5L873.4,559.4L875.1,566.3L876.8,573.1L878.5,579.6L880.1,585.6L881.8,591.2L883.5,596.2L885.1,600.7L886.8,604.6L888.5,607.9L890.2,610.7L891.8,613.1L893.5,615L895.2,616.6L896.8,617.8L898.5,618.8L900.2,619.6L901.9,620.2L903.5,620.6L905.2,620.9L906.9,621.1L908.5,621.3L910.2,621.4L911.9,621.5L913.6,621.6L915.2,621.6L916.9,621.6L916.9,621.7Z" fill="#ff0000"/>
<path d="M659.9,621.7L659.9,621.7L663.4,621.7L666.8,621.6L670.3,621.6L673.8,621.6L677.3,621.5L680.7,621.4L684.2,621.3L687.7,621.1L691.1,620.8L694.6,620.5L698.1,620.1L701.6,619.6L705,618.9L708.5,618L712,616.9L715.5,615.6L718.9,614.1L722.4,612.2L725.9,610L729.3,607.6L732.8,604.8L736.3,601.7L739.8,598.4L743.2,594.8L746.7,591.1L750.2,587.3L753.6,583.5L757.1,579.9L760.6,576.4L764.1,573.3L767.5,570.6L771,568.4L774.5,566.9L777.9,565.9L781.4,565.7L784.9,566L788.4,566.6L791.8,567.6L795.3,568.9L798.8,570.6L802.2,572.5L805.7,574.7L809.2,577.1L812.7,579.7L816.1,582.4L819.6,585.2L823.1,588L826.6,590.8L830,593.5L833.5,596.2L837,598.8L840.4,601.3L843.9,603.6L847.4,605.8L850.9,607.8L854.3,609.6L857.8,611.3L861.3,612.8L864.7,614.1L868.2,615.3L871.7,616.3L875.2,617.2L878.6,618L882.1,618.6L885.6,619.2L889,619.7L892.5,620.1L896,620.4L899.5,620.7L902.9,620.9L906.4,621.1L909.9,621.2L913.4,621.3L916.8,621.4L920.3,621.5L923.8,621.5L927.2,621.6L930.7,621.6L934.2,621.6L937.7,621.6L941.1,621.7L944.6,621.7L944.6,621.7Z" fill="#00ffff"/>
<path d="M644.1,621.7L644.1,621.7L646.4,621.7L648.8,621.6L651.1,621.6L653.5,621.6L655.8,621.5L658.1,621.4L660.5,621.3L662.8,621.2L665.2,621L667.5,620.7L669.8,620.3L672.2,619.9L674.5,619.3L676.9,618.5L679.2,617.6L681.5,616.5L683.9,615.1L686.2,613.6L688.6,611.7L690.9,609.6L693.2,607.2L695.6,604.5L697.9,601.7L700.3,598.6L702.6,595.4L704.9,592.1L707.3,588.8L709.6,585.6L712,582.5L714.3,579.7L716.6,577.3L719,575.4L721.3,573.9L723.7,573L726,572.7L728.3,573L730.7,573.9L733,575.4L735.4,577.3L737.7,579.7L740,582.5L742.4,585.6L744.7,588.8L747.1,592.1L749.4,595.4L751.7,598.6L754.1,601.7L756.4,604.5L758.8,607.2L761.1,609.6L763.4,611.7L765.8,613.6L768.1,615.1L770.5,616.5L772.8,617.6L775.1,618.5L777.5,619.3L779.8,619.9L782.2,620.3L784.5,620.7L786.8,621L789.2,621.2L791.5,621.3L793.9,621.4L796.2,621.5L798.5,621.6L800.9,621.6L803.2,621.6L805.6,621.7L807.9,621.7L807.9,621.7Z" fill="#008080"/>
<path d="M505.5,621.7L505.5,621.2L509.3,621L513,620.6L516.8,620.2L520.5,619.6L524.3,618.7L528,617.6L531.8,616.1L535.6,614.2L539.3,611.8L543.1,608.7L546.8,604.9L550.6,600.2L554.3,594.6L558.1,587.9L561.9,580.1L565.6,571.1L569.4,561L573.1,549.7L576.9,537.4L580.6,524.3L584.4,510.4L588.1,496.2L591.9,481.9L595.7,468L599.4,454.7L603.2,442.6L606.9,431.9L610.7,423.1L614.4,416.5L618.2,412.3L622,410.7L625.7,411.7L629.5,415.3L633.2,421.4L637,429.7L640.7,439.9L644.5,451.7L648.3,464.8L652,478.6L655.8,492.8L659.5,507.1L663.3,521L667,534.4L670.8,546.9L674.5,558.4L678.3,568.8L682.1,578.1L685.8,586.2L689.6,593.1L693.3,599L697.1,603.9L700.8,607.9L704.6,611.1L708.4,613.7L712.1,615.7L715.9,617.3L719.6,618.5L723.4,619.4L727.1,620.1L730.9,620.6L734.7,620.9L738.4,621.2L742.2,621.3L745.9,621.5L749.7,621.5L753.4,621.6L753.4,621.7Z" fill="#00ff00"/>
<path d="M505.5,621.2L508,621.1L510.5,620.9L513,620.6L515.5,620.4L518,620L520.5,619.6L523,619L525.5,618.4L528,617.6L530.5,616.7L533,615.6L535.5,614.2L538,612.7L540.5,610.9L543,608.7L545.5,606.3L548,603.5L550.6,600.3L553.1,596.6L555.6,592.5L558.1,588L560.6,582.9L563.1,577.3L565.6,571.2L568.1,564.6L570.6,557.5L573.1,549.9L575.6,541.8L578.1,533.3L580.6,524.4L583.1,515.3L585.6,505.9L588.1,496.4L590.6,486.9L593.1,477.4L595.6,468.2L598.1,459.2L600.6,450.7L603.1,442.8L605.6,435.5L608.1,428.9L610.6,423.3L613.1,418.6L615.6,414.9L618.1,412.4L620.6,411L623.1,410.7L625.6,411.7L628.1,413.8L630.6,417L633.1,421.2L635.6,426.5L638.2,432.6L640.7,439.6L643.2,447.3L645.7,455.6L648.2,464.4L650.7,473.5L653.2,482.8L655.7,492.2L658.2,501.7L660.7,511L663.2,520L665.7,528.7L668.2,537L670.7,544.8L673.2,551.9L675.7,558.5L678.2,564.3L680.7,569.3L683.2,573.5L685.7,576.8L688.2,579.3L690.7,580.9L693.2,581.6L695.7,581.6L698.2,580.7L700.7,579.1L703.2,576.9L705.7,574.1L708.2,571L710.7,567.6L713.2,564.1L715.7,560.5L718.2,557.1L720.7,554L723.2,551.2L725.8,548.9L728.3,547L730.8,545.7L733.3,544.8L735.8,544.4L738.3,544.5L740.8,544.9L743.3,545.6L745.8,546.4L748.3,547.4L750.8,548.5L753.3,549.5L755.8,550.5L758.3,551.4L760.8,552.3L763.3,553.1L765.8,553.8L768.3,554.5L770.8,555.3L773.3,556.1L775.8,556.9L778.3,557.9L780.8,559.1L783.3,560.3L785.8,561.6L788.3,562.9L790.8,564.2L793.3,565.7L795.8,567.2L798.3,568.8L800.8,570.4L803.3,572.1L805.8,573.8L808.3,575.6L810.8,577.2L813.3,578.8L815.9,580.1L818.4,581L820.9,581.5L823.4,581.4L825.9,580.3L828.4,578.3L830.9,575L833.4,570.5L835.9,564.6L838.4,557.5L840.9,549.5L843.4,540.8L845.9,532.1L848.4,523.9L850.9,516.9L853.4,511.7L855.9,508.8L858.4,508.5L860.9,511L863.4,516.2L865.9,523.6L868.4,532.9L870.9,543.4L873.4,554.4L875.9,565.3L878.4,575.7L880.9,585.1L883.4,593.3L885.9,600.1L888.4,605.7L890.9,610.1L893.4,613.4L895.9,615.9L898.4,617.7L900.9,618.9L903.5,619.8L906,620.4L908.5,620.8L911,621L913.5,621.2L916,621.3L918.5,621.4L921,621.5L923.5,621.5L926,621.6L928.5,621.6L931,621.6L933.5,621.6L936,621.6L938.5,621.7L941,621.7L943.5,621.7L946,621.7" fill="none" stroke="#ff40ff" stroke-width="0.8"/>
<path d="M503.2,617.7h5.5v5.5h-5.5zM506.9,618.8h5.5v5.5h-5.5zM510.5,616.5h5.5v5.5h-5.5zM514.1,613.4h5.5v5.5h-5.5zM517.7,609.3h5.5v5.5h-5.5zM521.3,607.7h5.5v5.5h-5.5zM524.9,607.4h5.5v5.5h-5.5zM528.5,605.6h5.5v5.5h-5.5zM532.1,607.3h5.5v5.5h-5.5zM535.7,605.4h5.5v5.5h-5.5zM539.3,605.6h5.5v5.5h-5.5zM542.9,601.4h5.5v5.5h-5.5zM546.5,599.2h5.5v5.5h-5.5zM550.1,595h5.5v5.5h-5.5zM553.7,589.5h5.5v5.5h-5.5zM557.3,582.2h5.5v5.5h-5.5zM560.9,572.2h5.5v5.5h-5.5zM564.5,561.2h5.5v5.5h-5.5zM568.1,553.4h5.5v5.5h-5.5zM571.7,544.7h5.5v5.5h-5.5zM575.3,529.6h5.5v5.5h-5.5zM578.9,521.6h5.5v5.5h-5.5zM582.5,503.4h5.5v5.5h-5.5zM586.1,492.8h5.5v5.5h-5.5zM589.7,473.6h5.5v5.5h-5.5zM593.3,461.5h5.5v5.5h-5.5zM596.9,450.4h5.5v5.5h-5.5zM600.5,442.3h5.5v5.5h-5.5zM604.1,428.1h5.5v5.5h-5.5zM607.7,420.1h5.5v5.5h-5.5zM611.3,415.8h5.5v5.5h-5.5zM614.9,411.6h5.5v5.5h-5.5zM618.5,404.9h5.5v5.5h-5.5zM622.1,409.5h5.5v5.5h-5.5zM625.7,410.2h5.5v5.5h-5.5zM629.3,412.9h5.5v5.5h-5.5zM632.9,427.3h5.5v5.5h-5.5zM636.5,428.3h5.5v5.5h-5.5zM640.1,440.9h5.5v5.5h-5.5zM643.7,457h5.5v5.5h-5.5zM647.3,470.7h5.5v5.5h-5.5zM650.9,484.7h5.5v5.5h-5.5zM654.5,492.9h5.5v5.5h-5.5zM658.1,515.1h5.5v5.5h-5.5zM661.7,519.2h5.5v5.5h-5.5zM665.3,533.2h5.5v5.5h-5.5zM668.9,546.4h5.5v5.5h-5.5zM672.5,555.8h5.5v5.5h-5.5zM676.1,563.7h5.5v5.5h-5.5zM679.7,570h5.5v5.5h-5.5zM683.3,572.2h5.5v5.5h-5.5zM686.9,579.6h5.5v5.5h-5.5zM690.5,573.4h5.5v5.5h-5.5zM694.1,573.6h5.5v5.5h-5.5zM697.7,577.9h5.5v5.5h-5.5zM701.3,570.3h5.5v5.5h-5.5zM704.9,571.8h5.5v5.5h-5.5zM708.5,563.9h5.5v5.5h-5.5zM712.1,556.6h5.5v5.5h-5.5zM715.7,544.5h5.5v5.5h-5.5zM719.3,550h5.5v5.5h-5.5zM722.9,547h5.5v5.5h-5.5zM726.5,543.5h5.5v5.5h-5.5zM730.1,543.1h5.5v5.5h-5.5zM733.7,547.1h5.5v5.5h-5.5zM737.3,532.6h5.5v5.5h-5.5zM740.9,546h5.5v5.5h-5.5zM744.5,547.2h5.5v5.5h-5.5zM748.1,549.3h5.5v5.5h-5.5zM751.7,543.8h5.5v5.5h-5.5zM755.3,533.7h5.5v5.5h-5.5zM758.9,534.6h5.5v5.5h-5.5zM762.5,546h5.5v5.5h-5.5zM766.1,550.2h5.5v5.5h-5.5zM769.7,553.1h5.5v5.5h-5.5zM773.3,559.3h5.5v5.5h-5.5zM776.9,552h5.5v5.5h-5.5zM780.5,557.9h5.5v5.5h-5.5zM784.1,548.8h5.5v5.5h-5.5zM787.7,562.6h5.5v5.5h-5.5zM791.3,568.4h5.5v5.5h-5.5zM794.9,574.8h5.5v5.5h-5.5zM798.5,576.8h5.5v5.5h-5.5zM802.1,567.3h5.5v5.5h-5.5zM805.7,571.1h5.5v5.5h-5.5zM809.3,581h5.5v5.5h-5.5zM812.9,584.9h5.5v5.5h-5.5zM816.5,577.1h5.5v5.5h-5.5zM820.1,580.5h5.5v5.5h-5.5zM823.7,576.1h5.5v5.5h-5.5zM827.3,573.6h5.5v5.5h-5.5zM830.9,571.2h5.5v5.5h-5.5zM834.5,562.6h5.5v5.5h-5.5zM838.1,546.7h5.5v5.5h-5.5zM841.7,534.3h5.5v5.5h-5.5zM845.3,521.9h5.5v5.5h-5.5zM848.9,510.1h5.5v5.5h-5.5zM852.5,504.3h5.5v5.5h-5.5zM856.1,507.2h5.5v5.5h-5.5zM859.7,509.6h5.5v5.5h-5.5zM863.3,526.7h5.5v5.5h-5.5zM866.9,533.3h5.5v5.5h-5.5zM870.5,550.7h5.5v5.5h-5.5zM874.1,565.5h5.5v5.5h-5.5zM877.7,579.7h5.5v5.5h-5.5zM881.3,593h5.5v5.5h-5.5zM884.9,601.4h5.5v5.5h-5.5zM888.5,606.8h5.5v5.5h-5.5zM892.1,612.6h5.5v5.5h-5.5zM895.7,614.8h5.5v5.5h-5.5zM899.3,617.1h5.5v5.5h-5.5z" fill="#000"/>
<path d="M436,907.3L436,907.3L437.5,907.3L439,907.3L440.5,907.3L442,907.3L443.6,907.3L445.1,907.3L446.6,907.2L448.1,907.2L449.6,907.2L451.1,907.1L452.6,907.1L454.1,907L455.6,906.8L457.2,906.7L458.7,906.5L460.2,906.3L461.7,906.1L463.2,905.8L464.7,905.5L466.2,905.3L467.7,905L469.2,904.8L470.8,904.6L472.3,904.4L473.8,904.3L475.3,904.3L476.8,904.3L478.3,904.5L479.8,904.6L481.3,904.8L482.8,905.1L484.3,905.4L485.9,905.6L487.4,905.9L488.9,906.2L490.4,906.4L491.9,906.6L493.4,906.7L494.9,906.9L496.4,907L497.9,907.1L499.5,907.1L501,907.2L502.5,907.2L504,907.3L505.5,907.3L505.5,907.3Z" fill="#ff0000"/>
<path d="M309.9,907.3L309.9,907.2L312.1,907.2L314.3,907.2L316.5,907.1L318.6,907L320.8,906.8L323,906.6L325.2,906.4L327.3,906L329.5,905.5L331.7,904.8L333.9,903.9L336,902.7L338.2,901.3L340.4,899.4L342.5,897.1L344.7,894.3L346.9,891L349.1,887L351.2,882.4L353.4,877.1L355.6,871.2L357.8,864.6L359.9,857.4L362.1,849.7L364.3,841.7L366.4,833.5L368.6,825.3L370.8,817.3L373,809.7L375.1,802.8L377.3,796.8L379.5,791.9L381.7,788.3L383.8,786.1L386,785.3L388.2,786.1L390.3,788.3L392.5,791.9L394.7,796.8L396.9,802.8L399,809.7L401.2,817.3L403.4,825.3L405.6,833.5L407.7,841.7L409.9,849.7L412.1,857.4L414.2,864.6L416.4,871.2L418.6,877.1L420.8,882.4L422.9,887L425.1,891L427.3,894.3L429.5,897.1L431.6,899.4L433.8,901.3L436,902.7L438.1,903.9L440.3,904.8L442.5,905.5L444.7,906L446.8,906.4L449,906.6L451.2,906.8L453.4,907L455.5,907.1L457.7,907.2L459.9,907.2L462.1,907.2L462.1,907.3Z" fill="#00ffff"/>
<path d="M208.6,907.3L208.6,907.2L211.7,907.1L214.9,907L218.1,906.9L221.3,906.7L224.4,906.5L227.6,906.1L230.8,905.6L234,905L237.1,904.1L240.3,902.8L243.5,901.3L246.7,899.2L249.8,896.6L253,893.3L256.2,889.3L259.4,884.3L262.5,878.4L265.7,871.4L268.9,863.2L272.1,853.9L275.2,843.3L278.4,831.7L281.6,819L284.8,805.4L287.9,791.2L291.1,776.7L294.3,762.1L297.5,748L300.6,734.6L303.8,722.4L307,711.7L310.2,703L313.3,696.6L316.5,692.6L319.7,691.3L322.9,692.6L326.1,696.6L329.2,703L332.4,711.7L335.6,722.4L338.8,734.6L341.9,748L345.1,762.1L348.3,776.7L351.5,791.2L354.6,805.4L357.8,819L361,831.7L364.2,843.3L367.3,853.9L370.5,863.2L373.7,871.4L376.9,878.4L380,884.3L383.2,889.3L386.4,893.3L389.6,896.6L392.7,899.2L395.9,901.3L399.1,902.8L402.3,904.1L405.4,905L408.6,905.6L411.8,906.1L415,906.5L418.1,906.7L421.3,906.9L424.5,907L427.7,907.1L430.8,907.2L430.8,907.3Z" fill="#008080"/>
<path d="M75.2,907.3L75.2,907.2L78.3,907.2L81.5,907.2L84.7,907.1L87.9,907L91,906.8L94.2,906.6L97.4,906.3L100.6,906L103.7,905.4L106.9,904.7L110.1,903.8L113.3,902.7L116.4,901.2L119.6,899.3L122.8,896.9L126,894.1L129.1,890.7L132.3,886.7L135.5,882L138.7,876.6L141.8,870.6L145,863.9L148.2,856.6L151.4,848.8L154.5,840.6L157.7,832.3L160.9,824L164.1,815.8L167.2,808.1L170.4,801.1L173.6,795L176.8,790L179.9,786.3L183.1,784.1L186.3,783.3L189.5,784.1L192.7,786.3L195.8,790L199,795L202.2,801.1L205.4,808.1L208.5,815.8L211.7,824L214.9,832.3L218.1,840.6L221.2,848.8L224.4,856.6L227.6,863.9L230.8,870.6L233.9,876.6L237.1,882L240.3,886.7L243.5,890.7L246.6,894.1L249.8,896.9L253,899.3L256.2,901.2L259.3,902.7L262.5,903.8L265.7,904.7L268.9,905.4L272,906L275.2,906.3L278.4,906.6L281.6,906.8L284.7,907L287.9,907.1L291.1,907.2L294.3,907.2L297.4,907.2L297.4,907.3Z" fill="#00ff00"/>
<path d="M64.5,907.3L67,907.3L69.5,907.3L72,907.3L74.5,907.2L77,907.2L79.5,907.2L82,907.1L84.5,907.1L87.1,907L89.6,906.9L92.1,906.8L94.6,906.6L97.1,906.4L99.6,906.1L102.1,905.7L104.6,905.3L107.1,904.7L109.6,904L112.1,903.1L114.6,902.1L117.1,900.8L119.6,899.3L122.1,897.5L124.6,895.4L127.1,892.9L129.6,890.1L132.2,886.9L134.7,883.3L137.2,879.2L139.7,874.8L142.2,869.9L144.7,864.6L147.2,858.9L149.7,853L152.2,846.7L154.7,840.2L157.2,833.6L159.7,827L162.2,820.5L164.7,814.2L167.2,808.2L169.7,802.6L172.2,797.5L174.8,793.1L177.3,789.4L179.8,786.5L182.3,784.5L184.8,783.5L187.3,783.4L189.8,784.2L192.3,786L194.8,788.7L197.3,792.2L199.8,796.4L202.3,801.4L204.8,806.8L207.3,812.7L209.8,819L212.3,825.4L214.8,831.9L217.3,838.5L219.9,844.8L222.4,851L224.9,856.8L227.4,862.3L229.9,867.3L232.4,871.8L234.9,875.7L237.4,879.1L239.9,881.9L242.4,884L244.9,885.4L247.4,886.2L249.9,886.3L252.4,885.6L254.9,884.1L257.4,881.9L259.9,878.9L262.4,875.1L265,870.4L267.5,864.9L270,858.5L272.5,851.3L275,843.3L277.5,834.5L280,824.9L282.5,814.8L285,804.1L287.5,793L290,781.6L292.5,770.1L295,758.7L297.5,747.6L300,737L302.5,727.1L305,718L307.6,710L310.1,703.2L312.6,697.9L315.1,694L317.6,691.6L320.1,690.9L322.6,691.8L325.1,694.2L327.6,698L330.1,703.2L332.6,709.4L335.1,716.5L337.6,724.1L340.1,732L342.6,739.7L345.1,747L347.6,753.4L350.1,758.9L352.7,763.1L355.2,766.3L357.7,768.4L360.2,769.8L362.7,770.5L365.2,770.7L367.7,770.4L370.2,769.8L372.7,768.9L375.2,767.9L377.7,767.2L380.2,767.1L382.7,767.8L385.2,769.8L387.7,773.2L390.2,778L392.7,784.3L395.2,791.8L397.8,800.5L400.3,810L402.8,819.9L405.3,830.1L407.8,840.1L410.3,849.7L412.8,858.8L415.3,867.1L417.8,874.4L420.3,880.9L422.8,886.5L425.3,891.1L427.8,894.9L430.3,898L432.8,900.4L435.3,902.3L437.8,903.7L440.4,904.8L442.9,905.5L445.4,906.1L447.9,906.4L450.4,906.6L452.9,906.7L455.4,906.6L457.9,906.5L460.4,906.2L462.9,905.8L465.4,905.4L467.9,904.9L470.4,904.6L472.9,904.4L475.4,904.3L477.9,904.4L480.4,904.7L482.9,905.1L485.5,905.6L488,906L490.5,906.4L493,906.7L495.5,906.9L498,907.1L500.5,907.2L503,907.2L505.5,907.3" fill="none" stroke="#ff0000" stroke-width="1.3"/>
<path d="M61.2,901.1h5.5v5.5h-5.5zM64.3,900.6h5.5v5.5h-5.5zM67.4,900.7h5.5v5.5h-5.5zM70.5,900.5h5.5v5.5h-5.5zM73.6,900.5h5.5v5.5h-5.5zM76.7,900h5.5v5.5h-5.5zM79.8,899.3h5.5v5.5h-5.5zM82.9,899.3h5.5v5.5h-5.5zM86,898.8h5.5v5.5h-5.5zM89.1,898.8h5.5v5.5h-5.5zM92.2,898.4h5.5v5.5h-5.5zM95.3,898.1h5.5v5.5h-5.5zM98.4,898.4h5.5v5.5h-5.5zM101.5,896.8h5.5v5.5h-5.5zM104.6,896.2h5.5v5.5h-5.5zM107.7,895.2h5.5v5.5h-5.5zM110.8,895h5.5v5.5h-5.5zM113.9,893.5h5.5v5.5h-5.5zM117,891.4h5.5v5.5h-5.5zM120.1,889h5.5v5.5h-5.5zM123.2,886h5.5v5.5h-5.5zM126.3,883h5.5v5.5h-5.5zM129.4,878.9h5.5v5.5h-5.5zM132.5,875h5.5v5.5h-5.5zM135.6,869.6h5.5v5.5h-5.5zM138.7,863.9h5.5v5.5h-5.5zM141.8,858h5.5v5.5h-5.5zM144.9,850.2h5.5v5.5h-5.5zM148,843.4h5.5v5.5h-5.5zM151.1,835.4h5.5v5.5h-5.5zM154.2,828.1h5.5v5.5h-5.5zM157.3,820h5.5v5.5h-5.5zM160.4,811.7h5.5v5.5h-5.5zM163.5,803.5h5.5v5.5h-5.5zM166.6,795.4h5.5v5.5h-5.5zM169.7,788.3h5.5v5.5h-5.5zM172.8,782h5.5v5.5h-5.5zM175.9,776.7h5.5v5.5h-5.5zM179,772.7h5.5v5.5h-5.5zM182.1,770.1h5.5v5.5h-5.5zM185.2,771.1h5.5v5.5h-5.5zM188.3,773.1h5.5v5.5h-5.5zM191.4,777.4h5.5v5.5h-5.5zM194.5,783.9h5.5v5.5h-5.5zM197.6,790h5.5v5.5h-5.5zM200.7,796.9h5.5v5.5h-5.5zM203.8,806h5.5v5.5h-5.5zM206.9,813.1h5.5v5.5h-5.5zM210,820.9h5.5v5.5h-5.5zM213.1,828.7h5.5v5.5h-5.5zM216.2,835.3h5.5v5.5h-5.5zM219.3,842h5.5v5.5h-5.5zM222.4,848.3h5.5v5.5h-5.5zM225.5,852.2h5.5v5.5h-5.5zM228.6,856.2h5.5v5.5h-5.5zM231.7,859.2h5.5v5.5h-5.5zM234.8,861.4h5.5v5.5h-5.5zM237.9,863.5h5.5v5.5h-5.5zM241,864.9h5.5v5.5h-5.5zM244.1,866.4h5.5v5.5h-5.5zM247.2,866.1h5.5v5.5h-5.5zM250.3,866.5h5.5v5.5h-5.5zM253.4,865.8h5.5v5.5h-5.5zM256.5,864.6h5.5v5.5h-5.5zM259.6,861.9h5.5v5.5h-5.5zM262.7,857.8h5.5v5.5h-5.5zM265.8,851.7h5.5v5.5h-5.5zM268.9,846h5.5v5.5h-5.5zM272,837.3h5.5v5.5h-5.5zM275.1,826.6h5.5v5.5h-5.5zM278.2,814.8h5.5v5.5h-5.5zM281.3,802.7h5.5v5.5h-5.5zM284.4,790.4h5.5v5.5h-5.5zM287.5,776.7h5.5v5.5h-5.5zM290.6,761.4h5.5v5.5h-5.5zM293.7,747.7h5.5v5.5h-5.5zM296.8,734.1h5.5v5.5h-5.5zM299.9,720.2h5.5v5.5h-5.5zM303.1,708.2h5.5v5.5h-5.5zM306.2,698.1h5.5v5.5h-5.5zM309.3,689.5h5.5v5.5h-5.5zM312.4,683.3h5.5v5.5h-5.5zM315.5,679.5h5.5v5.5h-5.5zM318.6,679.7h5.5v5.5h-5.5zM321.7,682.6h5.5v5.5h-5.5zM324.8,688.1h5.5v5.5h-5.5zM327.9,696.7h5.5v5.5h-5.5zM331,704.9h5.5v5.5h-5.5zM334.1,715.3h5.5v5.5h-5.5zM337.2,725.9h5.5v5.5h-5.5zM340.3,736.9h5.5v5.5h-5.5zM343.4,745.4h5.5v5.5h-5.5zM346.5,752.3h5.5v5.5h-5.5zM349.6,759h5.5v5.5h-5.5zM352.7,762.3h5.5v5.5h-5.5zM355.8,764.3h5.5v5.5h-5.5zM358.9,766.5h5.5v5.5h-5.5zM362,765.8h5.5v5.5h-5.5zM365.1,765.9h5.5v5.5h-5.5zM368.2,765.3h5.5v5.5h-5.5zM371.3,764h5.5v5.5h-5.5zM374.4,762.8h5.5v5.5h-5.5zM377.5,762.8h5.5v5.5h-5.5zM380.6,763.5h5.5v5.5h-5.5zM383.7,767.2h5.5v5.5h-5.5zM386.8,772.3h5.5v5.5h-5.5zM389.9,779.2h5.5v5.5h-5.5zM393,789.1h5.5v5.5h-5.5zM396.1,800.5h5.5v5.5h-5.5zM399.2,811.8h5.5v5.5h-5.5zM402.3,824.1h5.5v5.5h-5.5zM405.4,837.3h5.5v5.5h-5.5zM408.5,849.4h5.5v5.5h-5.5zM411.6,859.7h5.5v5.5h-5.5zM414.7,869.1h5.5v5.5h-5.5zM417.8,877.2h5.5v5.5h-5.5zM420.9,883.2h5.5v5.5h-5.5zM424,889.5h5.5v5.5h-5.5zM427.1,892.6h5.5v5.5h-5.5zM430.2,896.7h5.5v5.5h-5.5zM433.3,898.8h5.5v5.5h-5.5zM436.4,899.8h5.5v5.5h-5.5zM439.5,900.6h5.5v5.5h-5.5zM442.6,901.5h5.5v5.5h-5.5zM445.7,902.1h5.5v5.5h-5.5zM448.8,902.4h5.5v5.5h-5.5zM451.9,902.4h5.5v5.5h-5.5zM455,902h5.5v5.5h-5.5zM458.1,901.9h5.5v5.5h-5.5zM461.2,901.3h5.5v5.5h-5.5zM464.3,900.6h5.5v5.5h-5.5zM467.4,900.4h5.5v5.5h-5.5zM470.5,899.8h5.5v5.5h-5.5zM473.6,899.8h5.5v5.5h-5.5zM476.7,899.5h5.5v5.5h-5.5zM479.8,900.7h5.5v5.5h-5.5zM482.9,901.5h5.5v5.5h-5.5zM486,902h5.5v5.5h-5.5zM489.1,902.3h5.5v5.5h-5.5zM492.2,902.3h5.5v5.5h-5.5zM495.3,903h5.5v5.5h-5.5zM498.4,902.8h5.5v5.5h-5.5zM501.5,902.3h5.5v5.5h-5.5z" fill="#000"/>
<path d="M752.9,907.3L752.9,907.2L754.9,907.2L757,907.1L759,907L761.1,906.9L763.2,906.7L765.2,906.5L767.3,906.2L769.3,905.7L771.4,905.1L773.5,904.3L775.5,903.2L777.6,901.8L779.6,900L781.7,897.8L783.8,895L785.8,891.7L787.9,887.6L790,882.9L792,877.3L794.1,870.9L796.1,863.8L798.2,855.8L800.3,847.2L802.3,837.9L804.4,828.3L806.4,818.4L808.5,808.5L810.6,798.9L812.6,789.7L814.7,781.4L816.8,774.2L818.8,768.3L820.9,763.9L822.9,761.2L825,760.3L827.1,761.2L829.1,763.9L831.2,768.3L833.2,774.2L835.3,781.4L837.4,789.7L839.4,798.9L841.5,808.5L843.6,818.4L845.6,828.3L847.7,837.9L849.7,847.2L851.8,855.8L853.9,863.8L855.9,870.9L858,877.3L860,882.9L862.1,887.6L864.2,891.7L866.2,895L868.3,897.8L870.4,900L872.4,901.8L874.5,903.2L876.5,904.3L878.6,905.1L880.7,905.7L882.7,906.2L884.8,906.5L886.8,906.7L888.9,906.9L891,907L893,907.1L895.1,907.2L897.1,907.2L897.1,907.3Z" fill="#00ffff"/>
<path d="M646.3,907.3L646.3,907.2L649.5,907.1L652.8,907.1L656,906.9L659.2,906.8L662.5,906.5L665.7,906.2L668.9,905.7L672.2,905.1L675.4,904.2L678.6,903.1L681.8,901.6L685.1,899.7L688.3,897.2L691.5,894.1L694.8,890.3L698,885.7L701.2,880.1L704.5,873.5L707.7,865.8L710.9,857L714.2,847L717.4,836L720.6,824.1L723.9,811.3L727.1,797.9L730.3,784.2L733.5,770.5L736.8,757.2L740,744.6L743.2,733.1L746.5,723L749.7,714.9L752.9,708.8L756.2,705.1L759.4,703.8L762.6,705.1L765.9,708.8L769.1,714.9L772.3,723L775.6,733.1L778.8,744.6L782,757.2L785.3,770.5L788.5,784.2L791.7,797.9L794.9,811.3L798.2,824.1L801.4,836L804.6,847L807.9,857L811.1,865.8L814.3,873.5L817.6,880.1L820.8,885.7L824,890.3L827.3,894.1L830.5,897.2L833.7,899.7L837,901.6L840.2,903.1L843.4,904.2L846.6,905.1L849.9,905.7L853.1,906.2L856.3,906.5L859.6,906.8L862.8,906.9L866,907.1L869.3,907.1L872.5,907.2L872.5,907.3Z" fill="#008080"/>
<path d="M531.1,907.3L531.1,907.2L533.8,907.2L536.5,907.2L539.3,907.1L542,907L544.8,906.9L547.5,906.7L550.2,906.5L553,906.1L555.7,905.7L558.5,905L561.2,904.2L564,903.2L566.7,901.9L569.4,900.2L572.2,898.2L574.9,895.7L577.7,892.7L580.4,889.2L583.1,885.1L585.9,880.3L588.6,875L591.4,869.1L594.1,862.7L596.8,855.9L599.6,848.7L602.3,841.4L605.1,834L607.8,826.9L610.6,820.1L613.3,814L616,808.6L618.8,804.2L621.5,801L624.3,799L627,798.3L629.7,799L632.5,801L635.2,804.2L638,808.6L640.7,814L643.4,820.1L646.2,826.9L648.9,834L651.7,841.4L654.4,848.7L657.2,855.9L659.9,862.7L662.6,869.1L665.4,875L668.1,880.3L670.9,885.1L673.6,889.2L676.3,892.7L679.1,895.7L681.8,898.2L684.6,900.2L687.3,901.9L690,903.2L692.8,904.2L695.5,905L698.3,905.7L701,906.1L703.8,906.5L706.5,906.7L709.2,906.9L712,907L714.7,907.1L717.5,907.2L720.2,907.2L722.9,907.2L722.9,907.3Z" fill="#00ff00"/>
<path d="M505.5,907.3L508,907.3L510.5,907.3L513,907.3L515.5,907.3L518,907.3L520.5,907.3L523,907.3L525.5,907.3L528,907.3L530.5,907.3L533,907.2L535.5,907.2L538,907.1L540.5,907.1L543,907L545.5,906.8L548,906.7L550.6,906.4L553.1,906.1L555.6,905.7L558.1,905.2L560.6,904.5L563.1,903.6L565.6,902.5L568.1,901.1L570.6,899.4L573.1,897.4L575.6,895L578.1,892.2L580.6,888.9L583.1,885.1L585.6,880.9L588.1,876.1L590.6,870.8L593.1,865.1L595.6,859L598.1,852.6L600.6,846L603.1,839.3L605.6,832.6L608.1,826.1L610.6,820L613.1,814.3L615.6,809.4L618.1,805.2L620.6,801.9L623.1,799.6L625.6,798.5L628.1,798.4L630.6,799.5L633.1,801.6L635.6,804.8L638.2,808.9L640.7,813.8L643.2,819.4L645.7,825.5L648.2,831.9L650.7,838.5L653.2,845.1L655.7,851.7L658.2,858L660.7,864L663.2,869.5L665.7,874.5L668.2,879L670.7,882.9L673.2,886.1L675.7,888.8L678.2,890.8L680.7,892.1L683.2,892.8L685.7,892.9L688.2,892.4L690.7,891.2L693.2,889.3L695.7,886.8L698.2,883.7L700.7,879.8L703.2,875.2L705.7,869.9L708.2,863.9L710.7,857.2L713.2,849.7L715.7,841.6L718.2,832.9L720.7,823.5L723.2,813.7L725.8,803.5L728.3,793L730.8,782.3L733.3,771.7L735.8,761.3L738.3,751.3L740.8,741.7L743.3,733L745.8,725.1L748.3,718.2L750.8,712.6L753.3,708.2L755.8,705.2L758.3,703.7L760.8,703.7L763.3,705.1L765.8,707.8L768.3,711.8L770.8,716.9L773.3,722.9L775.8,729.6L778.3,736.7L780.8,743.9L783.3,750.8L785.8,757.3L788.3,762.9L790.8,767.5L793.3,770.7L795.8,772.4L798.3,772.6L800.8,771.3L803.3,768.7L805.8,764.9L808.3,760.3L810.8,755.4L813.3,750.7L815.9,746.6L818.4,743.7L820.9,742.4L823.4,743L825.9,745.7L828.4,750.7L830.9,757.7L833.4,766.7L835.9,777.3L838.4,789.1L840.9,801.7L843.4,814.5L845.9,827.2L848.4,839.4L850.9,850.7L853.4,861L855.9,870.1L858.4,877.9L860.9,884.5L863.4,889.9L865.9,894.3L868.4,897.8L870.9,900.4L873.4,902.4L875.9,903.9L878.4,905L880.9,905.7L883.4,906.3L885.9,906.6L888.4,906.9L890.9,907L893.4,907.1L895.9,907.2L898.4,907.2L900.9,907.3L903.5,907.3L906,907.3L908.5,907.3L911,907.3L913.5,907.3L916,907.3L918.5,907.3L921,907.3L923.5,907.3L926,907.3L928.5,907.3L931,907.3L933.5,907.3L936,907.3L938.5,907.3L941,907.3L943.5,907.3L946,907.3" fill="none" stroke="#ff0000" stroke-width="1.3"/>
<path d="M487.2,902.9h5.5v5.5h-5.5zM490.2,902h5.5v5.5h-5.5zM493.2,902.6h5.5v5.5h-5.5zM496.2,902.6h5.5v5.5h-5.5zM499.2,902.8h5.5v5.5h-5.5zM502.2,902.9h5.5v5.5h-5.5zM505.2,902.8h5.5v5.5h-5.5zM508.2,903h5.5v5.5h-5.5zM511.2,903.3h5.5v5.5h-5.5zM514.2,903.4h5.5v5.5h-5.5zM517.2,903.5h5.5v5.5h-5.5zM520.2,902.9h5.5v5.5h-5.5zM523.2,902.8h5.5v5.5h-5.5zM526.2,902.3h5.5v5.5h-5.5zM529.2,902.7h5.5v5.5h-5.5zM532.2,902.8h5.5v5.5h-5.5zM535.2,902.6h5.5v5.5h-5.5zM538.2,902.8h5.5v5.5h-5.5zM541.2,903.4h5.5v5.5h-5.5zM544.2,902h5.5v5.5h-5.5zM547.2,902.4h5.5v5.5h-5.5zM550.2,901.7h5.5v5.5h-5.5zM553.2,901.4h5.5v5.5h-5.5zM556.2,899.4h5.5v5.5h-5.5zM559.2,899.2h5.5v5.5h-5.5zM562.2,898.3h5.5v5.5h-5.5zM565.2,897.3h5.5v5.5h-5.5zM568.2,894.5h5.5v5.5h-5.5zM571.2,892.7h5.5v5.5h-5.5zM574.2,888.7h5.5v5.5h-5.5zM577.2,886.1h5.5v5.5h-5.5zM580.2,881h5.5v5.5h-5.5zM583.2,875.4h5.5v5.5h-5.5zM586.2,870.3h5.5v5.5h-5.5zM589.2,863.3h5.5v5.5h-5.5zM592.2,856.2h5.5v5.5h-5.5zM595.2,848.2h5.5v5.5h-5.5zM598.2,840.7h5.5v5.5h-5.5zM601.2,832h5.5v5.5h-5.5zM604.2,823.2h5.5v5.5h-5.5zM607.2,816.6h5.5v5.5h-5.5zM610.2,808.6h5.5v5.5h-5.5zM613.2,800.9h5.5v5.5h-5.5zM616.2,795.2h5.5v5.5h-5.5zM619.2,790.8h5.5v5.5h-5.5zM622.2,786.9h5.5v5.5h-5.5zM625.2,786.7h5.5v5.5h-5.5zM628.2,788.6h5.5v5.5h-5.5zM631.2,792.6h5.5v5.5h-5.5zM634.2,798.3h5.5v5.5h-5.5zM637.2,805.7h5.5v5.5h-5.5zM640.2,813.6h5.5v5.5h-5.5zM643.2,820h5.5v5.5h-5.5zM646.2,828.3h5.5v5.5h-5.5zM649.2,835.2h5.5v5.5h-5.5zM652.2,842h5.5v5.5h-5.5zM655.2,849h5.5v5.5h-5.5zM658.2,854.1h5.5v5.5h-5.5zM661.2,857.7h5.5v5.5h-5.5zM664.2,861.7h5.5v5.5h-5.5zM667.2,865.4h5.5v5.5h-5.5zM670.2,866.6h5.5v5.5h-5.5zM673.2,867.7h5.5v5.5h-5.5zM676.2,868.1h5.5v5.5h-5.5zM679.2,868.3h5.5v5.5h-5.5zM682.2,868.7h5.5v5.5h-5.5zM685.2,868.6h5.5v5.5h-5.5zM688.2,867.7h5.5v5.5h-5.5zM691.2,867.8h5.5v5.5h-5.5zM694.2,865.4h5.5v5.5h-5.5zM697.2,863.7h5.5v5.5h-5.5zM700.2,861h5.5v5.5h-5.5zM703.2,856.8h5.5v5.5h-5.5zM706.2,851h5.5v5.5h-5.5zM709.2,845h5.5v5.5h-5.5zM712.2,837.3h5.5v5.5h-5.5zM715.2,826.9h5.5v5.5h-5.5zM718.2,816h5.5v5.5h-5.5zM721.2,805.4h5.5v5.5h-5.5zM724.2,793.3h5.5v5.5h-5.5zM727.2,780.8h5.5v5.5h-5.5zM730.2,768.6h5.5v5.5h-5.5zM733.2,755.5h5.5v5.5h-5.5zM736.2,743h5.5v5.5h-5.5zM739.2,731.6h5.5v5.5h-5.5zM742.2,720.3h5.5v5.5h-5.5zM745.2,711.2h5.5v5.5h-5.5zM748.2,702.3h5.5v5.5h-5.5zM751.2,696.4h5.5v5.5h-5.5zM754.2,692.4h5.5v5.5h-5.5zM757.2,691.2h5.5v5.5h-5.5zM760.2,693.2h5.5v5.5h-5.5zM763.2,697.6h5.5v5.5h-5.5zM766.2,704.3h5.5v5.5h-5.5zM769.2,713.1h5.5v5.5h-5.5zM772.2,720.9h5.5v5.5h-5.5zM775.2,731.3h5.5v5.5h-5.5zM778.2,739.8h5.5v5.5h-5.5zM781.2,748.1h5.5v5.5h-5.5zM784.2,755.8h5.5v5.5h-5.5zM787.2,761.6h5.5v5.5h-5.5zM790.2,766.1h5.5v5.5h-5.5zM793.2,768.6h5.5v5.5h-5.5zM796.2,767.8h5.5v5.5h-5.5zM799.2,766h5.5v5.5h-5.5zM802.2,762.4h5.5v5.5h-5.5zM805.2,756.7h5.5v5.5h-5.5zM808.2,750.9h5.5v5.5h-5.5zM811.2,745.1h5.5v5.5h-5.5zM814.2,741.1h5.5v5.5h-5.5zM817.2,738.3h5.5v5.5h-5.5zM820.2,738.6h5.5v5.5h-5.5zM823.2,741h5.5v5.5h-5.5zM826.2,748.2h5.5v5.5h-5.5zM829.2,756.8h5.5v5.5h-5.5zM832.2,769.3h5.5v5.5h-5.5zM835.2,782.6h5.5v5.5h-5.5zM838.2,797.1h5.5v5.5h-5.5zM841.2,813.6h5.5v5.5h-5.5zM844.2,828.4h5.5v5.5h-5.5zM847.2,842.9h5.5v5.5h-5.5zM850.2,855.5h5.5v5.5h-5.5zM853.2,866.4h5.5v5.5h-5.5zM856.2,875.3h5.5v5.5h-5.5zM859.2,882.4h5.5v5.5h-5.5zM862.2,888.2h5.5v5.5h-5.5zM865.2,893.2h5.5v5.5h-5.5zM868.2,896.2h5.5v5.5h-5.5zM871.2,899.1h5.5v5.5h-5.5zM874.2,899.9h5.5v5.5h-5.5zM877.2,901.3h5.5v5.5h-5.5zM880.2,902.2h5.5v5.5h-5.5zM883.2,902.4h5.5v5.5h-5.5zM886.2,902h5.5v5.5h-5.5zM889.2,902h5.5v5.5h-5.5zM892.2,901.4h5.5v5.5h-5.5zM895.2,901.3h5.5v5.5h-5.5zM898.2,900.4h5.5v5.5h-5.5zM901.2,899.8h5.5v5.5h-5.5zM904.2,899.7h5.5v5.5h-5.5zM907.2,898.5h5.5v5.5h-5.5zM910.2,898.2h5.5v5.5h-5.5zM913.2,898.3h5.5v5.5h-5.5zM916.2,898h5.5v5.5h-5.5zM919.2,898h5.5v5.5h-5.5zM922.2,898.9h5.5v5.5h-5.5zM925.2,900.3h5.5v5.5h-5.5zM928.2,901.5h5.5v5.5h-5.5zM931.2,901.7h5.5v5.5h-5.5z" fill="#000"/>
<path d="M393.8,1193.2L393.8,1193.2L395.3,1193.1L396.8,1193.1L398.3,1193.1L399.8,1193L401.3,1192.9L402.8,1192.8L404.3,1192.6L405.8,1192.4L407.3,1192L408.8,1191.6L410.3,1191L411.8,1190.3L413.3,1189.3L414.8,1188.1L416.3,1186.7L417.9,1184.9L419.4,1182.7L420.9,1180.2L422.4,1177.2L423.9,1173.8L425.4,1170.1L426.9,1165.9L428.4,1161.5L429.9,1156.8L431.4,1151.9L432.9,1147.1L434.4,1142.3L435.9,1137.7L437.4,1133.6L438.9,1129.9L440.4,1126.9L441.9,1124.7L443.4,1123.4L444.9,1122.9L446.4,1123.4L447.9,1124.7L449.4,1126.9L450.9,1129.9L452.4,1133.6L453.9,1137.7L455.4,1142.3L456.9,1147.1L458.4,1151.9L459.9,1156.8L461.4,1161.5L462.9,1165.9L464.4,1170.1L465.9,1173.8L467.4,1177.2L468.9,1180.2L470.4,1182.7L471.9,1184.9L473.5,1186.7L475,1188.1L476.5,1189.3L478,1190.3L479.5,1191L481,1191.6L482.5,1192L484,1192.4L485.5,1192.6L487,1192.8L488.5,1192.9L490,1193L491.5,1193.1L493,1193.1L494.5,1193.1L496,1193.2L496,1193.2Z" fill="#ff0000"/>
<path d="M325.8,1193.2L325.8,1193.1L328,1193.1L330.2,1193L332.4,1193L334.5,1192.9L336.7,1192.7L338.9,1192.5L341.1,1192.2L343.2,1191.8L345.4,1191.2L347.6,1190.5L349.8,1189.5L351.9,1188.2L354.1,1186.6L356.3,1184.6L358.4,1182.1L360.6,1179.1L362.8,1175.4L365,1171.1L367.1,1166.1L369.3,1160.3L371.5,1153.8L373.7,1146.6L375.8,1138.8L378,1130.4L380.2,1121.7L382.3,1112.8L384.5,1103.8L386.7,1095.1L388.9,1086.8L391,1079.3L393.2,1072.8L395.4,1067.4L397.6,1063.5L399.7,1061L401.9,1060.2L404.1,1061L406.2,1063.5L408.4,1067.4L410.6,1072.8L412.8,1079.3L414.9,1086.8L417.1,1095.1L419.3,1103.8L421.5,1112.8L423.6,1121.7L425.8,1130.4L428,1138.8L430.1,1146.6L432.3,1153.8L434.5,1160.3L436.7,1166.1L438.8,1171.1L441,1175.4L443.2,1179.1L445.4,1182.1L447.5,1184.6L449.7,1186.6L451.9,1188.2L454,1189.5L456.2,1190.5L458.4,1191.2L460.6,1191.8L462.7,1192.2L464.9,1192.5L467.1,1192.7L469.3,1192.9L471.4,1193L473.6,1193L475.8,1193.1L477.9,1193.1L477.9,1193.2Z" fill="#00ffff"/>
<path d="M253.7,1193.2L253.7,1193.1L256.3,1193L258.8,1193L261.4,1192.8L264,1192.7L266.5,1192.4L269.1,1192.1L271.6,1191.6L274.2,1190.9L276.8,1190L279.3,1188.9L281.9,1187.3L284.5,1185.3L287,1182.8L289.6,1179.6L292.1,1175.7L294.7,1170.9L297.3,1165.2L299.8,1158.4L302.4,1150.4L305,1141.4L307.5,1131.2L310.1,1119.8L312.6,1107.5L315.2,1094.4L317.8,1080.6L320.3,1066.5L322.9,1052.4L325.5,1038.6L328,1025.7L330.6,1013.8L333.1,1003.5L335.7,995.1L338.3,988.8L340.8,985L343.4,983.7L346,985L348.5,988.8L351.1,995.1L353.7,1003.5L356.2,1013.8L358.8,1025.7L361.3,1038.6L363.9,1052.4L366.5,1066.5L369,1080.6L371.6,1094.4L374.2,1107.5L376.7,1119.8L379.3,1131.2L381.8,1141.4L384.4,1150.4L387,1158.4L389.5,1165.2L392.1,1170.9L394.7,1175.7L397.2,1179.6L399.8,1182.8L402.3,1185.3L404.9,1187.3L407.5,1188.9L410,1190L412.6,1190.9L415.2,1191.6L417.7,1192.1L420.3,1192.4L422.8,1192.7L425.4,1192.8L428,1193L430.5,1193L433.1,1193.1L433.1,1193.2Z" fill="#008080"/>
<path d="M151.6,1193.2L151.6,1193.1L153.9,1193.1L156.2,1193L158.5,1192.9L160.8,1192.7L163.1,1192.5L165.4,1192.2L167.7,1191.8L170,1191.3L172.3,1190.6L174.6,1189.6L176.9,1188.3L179.2,1186.6L181.6,1184.5L183.9,1181.8L186.2,1178.5L188.5,1174.5L190.8,1169.7L193.1,1163.9L195.4,1157.3L197.7,1149.7L200,1141.1L202.3,1131.6L204.6,1121.2L206.9,1110.2L209.2,1098.6L211.5,1086.8L213.8,1074.9L216.2,1063.4L218.5,1052.4L220.8,1042.5L223.1,1033.8L225.4,1026.8L227.7,1021.5L230,1018.3L232.3,1017.2L234.6,1018.3L236.9,1021.5L239.2,1026.8L241.5,1033.8L243.8,1042.5L246.1,1052.4L248.4,1063.4L250.8,1074.9L253.1,1086.8L255.4,1098.6L257.7,1110.2L260,1121.2L262.3,1131.6L264.6,1141.1L266.9,1149.7L269.2,1157.3L271.5,1163.9L273.8,1169.7L276.1,1174.5L278.4,1178.5L280.7,1181.8L283,1184.5L285.4,1186.6L287.7,1188.3L290,1189.6L292.3,1190.6L294.6,1191.3L296.9,1191.8L299.2,1192.2L301.5,1192.5L303.8,1192.7L306.1,1192.9L308.4,1193L310.7,1193.1L313,1193.1L313,1193.2Z" fill="#00ff00"/>
<path d="M180,1186L182.5,1183.5L185,1180.3L187.5,1176.3L190,1171.4L192.5,1165.4L195,1158.4L197.5,1150.3L200,1141L202.5,1130.6L205,1119.3L207.5,1107.1L210,1094.4L212.6,1081.6L215.1,1068.8L217.6,1056.6L220.1,1045.4L222.6,1035.6L225.1,1027.6L227.6,1021.7L230.1,1018.2L232.6,1017.2L235.1,1018.8L237.6,1022.8L240.1,1029.2L242.6,1037.7L245.1,1047.8L247.6,1059.3L250.1,1071.6L252.6,1084.4L255.1,1097.2L257.6,1109.7L260.1,1121.6L262.6,1132.6L265.1,1142.5L267.6,1151.3L270.1,1158.8L272.6,1165L275.1,1170L277.6,1173.7L280.2,1176.3L282.7,1177.7L285.2,1178L287.7,1177.2L290.2,1175.3L292.7,1172.3L295.2,1168.2L297.7,1162.9L300.2,1156.5L302.7,1148.9L305.2,1140.1L307.7,1130.2L310.2,1119.1L312.7,1107.1L315.2,1094.3L317.7,1080.9L320.2,1067.1L322.7,1053.3L325.2,1039.8L327.7,1027L330.2,1015.2L332.7,1004.8L335.2,996.1L337.7,989.3L340.2,984.8L342.8,982.4L345.3,982.4L347.8,984.6L350.3,988.8L352.8,994.8L355.3,1002.2L357.8,1010.6L360.3,1019.5L362.8,1028.5L365.3,1037.2L367.8,1045L370.3,1051.7L372.8,1057L375.3,1060.7L377.8,1062.8L380.3,1063.3L382.8,1062.6L385.3,1060.8L387.8,1058.3L390.3,1055.5L392.8,1053L395.3,1051.1L397.8,1050.3L400.3,1050.7L402.8,1052.7L405.3,1056.3L407.9,1061.4L410.4,1067.9L412.9,1075.5L415.4,1083.7L417.9,1092L420.4,1099.7L422.9,1106.4L425.4,1111.5L427.9,1114.8L430.4,1116.2L432.9,1116L435.4,1114.7L437.9,1113.1L440.4,1112L442.9,1112.2L445.4,1114L447.9,1117.9L450.4,1123.7L452.9,1131.1L455.4,1139.5L457.9,1148.3L460.4,1157L462.9,1165L465.4,1172L467.9,1177.8L470.4,1182.4L472.9,1185.9L475.5,1188.5L478,1190.2L480.5,1191.4L483,1192.1L485.5,1192.6L488,1192.9L490.5,1193L493,1193.1L495.5,1193.2L498,1193.2L500.5,1193.2L503,1193.2L505.5,1193.2" fill="none" stroke="#ff0000" stroke-width="1.0"/>
<path d="M67.2,1186.7h5.5v5.5h-5.5zM70.3,1186.1h5.5v5.5h-5.5zM73.4,1185.7h5.5v5.5h-5.5zM76.5,1185.5h5.5v5.5h-5.5zM79.6,1185.6h5.5v5.5h-5.5zM82.7,1186h5.5v5.5h-5.5zM85.8,1185.9h5.5v5.5h-5.5zM88.9,1186.1h5.5v5.5h-5.5zM92,1186.5h5.5v5.5h-5.5zM95.1,1186.1h5.5v5.5h-5.5zM98.2,1185.6h5.5v5.5h-5.5zM101.3,1185.9h5.5v5.5h-5.5zM104.4,1186.1h5.5v5.5h-5.5zM107.5,1186.4h5.5v5.5h-5.5zM110.6,1186.1h5.5v5.5h-5.5zM113.7,1186.3h5.5v5.5h-5.5zM116.8,1186.1h5.5v5.5h-5.5zM119.9,1186h5.5v5.5h-5.5zM123,1187.1h5.5v5.5h-5.5zM126.1,1186.3h5.5v5.5h-5.5zM129.2,1186.9h5.5v5.5h-5.5zM132.3,1186.8h5.5v5.5h-5.5zM135.4,1187h5.5v5.5h-5.5zM138.5,1186.1h5.5v5.5h-5.5zM141.6,1186.4h5.5v5.5h-5.5zM144.7,1186.5h5.5v5.5h-5.5zM147.8,1187.1h5.5v5.5h-5.5zM150.9,1187.4h5.5v5.5h-5.5zM154,1187h5.5v5.5h-5.5zM157.1,1186.7h5.5v5.5h-5.5zM160.2,1186.6h5.5v5.5h-5.5zM163.3,1186h5.5v5.5h-5.5zM166.4,1185.9h5.5v5.5h-5.5zM169.5,1184.1h5.5v5.5h-5.5zM172.6,1183.3h5.5v5.5h-5.5zM175.7,1180.9h5.5v5.5h-5.5zM178.8,1178.9h5.5v5.5h-5.5zM181.9,1175.4h5.5v5.5h-5.5zM185,1170.8h5.5v5.5h-5.5zM188.1,1163.9h5.5v5.5h-5.5zM191.2,1155.9h5.5v5.5h-5.5zM194.3,1146.6h5.5v5.5h-5.5zM197.4,1135.2h5.5v5.5h-5.5zM200.5,1122.4h5.5v5.5h-5.5zM203.6,1108h5.5v5.5h-5.5zM206.7,1092.4h5.5v5.5h-5.5zM209.8,1076.9h5.5v5.5h-5.5zM212.9,1060.4h5.5v5.5h-5.5zM216,1044.4h5.5v5.5h-5.5zM219.1,1030.2h5.5v5.5h-5.5zM222.2,1018h5.5v5.5h-5.5zM225.3,1009.8h5.5v5.5h-5.5zM228.4,1005.8h5.5v5.5h-5.5zM231.5,1006.8h5.5v5.5h-5.5zM234.6,1013.3h5.5v5.5h-5.5zM237.7,1022h5.5v5.5h-5.5zM240.8,1034.9h5.5v5.5h-5.5zM243.9,1048.9h5.5v5.5h-5.5zM247,1064.8h5.5v5.5h-5.5zM250.1,1080.7h5.5v5.5h-5.5zM253.2,1096.3h5.5v5.5h-5.5zM256.3,1110.6h5.5v5.5h-5.5zM259.4,1124h5.5v5.5h-5.5zM262.5,1134.7h5.5v5.5h-5.5zM265.6,1142.1h5.5v5.5h-5.5zM268.7,1148.7h5.5v5.5h-5.5zM271.8,1153.3h5.5v5.5h-5.5zM274.9,1155.8h5.5v5.5h-5.5zM278,1156.9h5.5v5.5h-5.5zM281.1,1155.6h5.5v5.5h-5.5zM284.2,1156.1h5.5v5.5h-5.5zM287.3,1154.9h5.5v5.5h-5.5zM290.4,1152.9h5.5v5.5h-5.5zM293.5,1150.2h5.5v5.5h-5.5zM296.6,1144.4h5.5v5.5h-5.5zM299.8,1137.1h5.5v5.5h-5.5zM302.9,1128.5h5.5v5.5h-5.5zM306,1117.8h5.5v5.5h-5.5zM309.1,1105.2h5.5v5.5h-5.5zM312.2,1090.7h5.5v5.5h-5.5zM315.3,1074.2h5.5v5.5h-5.5zM318.4,1057.6h5.5v5.5h-5.5zM321.5,1040.9h5.5v5.5h-5.5zM324.6,1023.2h5.5v5.5h-5.5zM327.7,1008.8h5.5v5.5h-5.5zM330.8,994.9h5.5v5.5h-5.5zM333.9,984.5h5.5v5.5h-5.5zM337,975.1h5.5v5.5h-5.5zM340.1,972.2h5.5v5.5h-5.5zM343.2,973h5.5v5.5h-5.5zM346.3,977.6h5.5v5.5h-5.5zM349.4,986.2h5.5v5.5h-5.5zM352.5,996.5h5.5v5.5h-5.5zM355.6,1008h5.5v5.5h-5.5zM358.7,1021h5.5v5.5h-5.5zM361.8,1033h5.5v5.5h-5.5zM364.9,1044.3h5.5v5.5h-5.5zM368,1054.3h5.5v5.5h-5.5zM371.1,1061.4h5.5v5.5h-5.5zM374.2,1065.6h5.5v5.5h-5.5zM377.3,1066.1h5.5v5.5h-5.5zM380.4,1064.6h5.5v5.5h-5.5zM383.5,1060.8h5.5v5.5h-5.5zM386.6,1057.1h5.5v5.5h-5.5zM389.7,1053h5.5v5.5h-5.5zM392.8,1050.9h5.5v5.5h-5.5zM395.9,1050.1h5.5v5.5h-5.5zM399,1051.9h5.5v5.5h-5.5zM402.1,1054.8h5.5v5.5h-5.5zM405.2,1059.3h5.5v5.5h-5.5zM408.3,1068h5.5v5.5h-5.5zM411.4,1076.3h5.5v5.5h-5.5zM414.5,1086h5.5v5.5h-5.5zM417.6,1095.9h5.5v5.5h-5.5zM420.7,1103.6h5.5v5.5h-5.5zM423.8,1109.2h5.5v5.5h-5.5zM426.9,1111.6h5.5v5.5h-5.5zM430,1112.1h5.5v5.5h-5.5zM433.1,1109.2h5.5v5.5h-5.5zM436.2,1108h5.5v5.5h-5.5zM439.3,1107.2h5.5v5.5h-5.5zM442.4,1108.6h5.5v5.5h-5.5zM445.5,1113.7h5.5v5.5h-5.5zM448.6,1122h5.5v5.5h-5.5zM451.7,1131.6h5.5v5.5h-5.5zM454.8,1142.5h5.5v5.5h-5.5zM457.9,1153.2h5.5v5.5h-5.5zM461,1162.6h5.5v5.5h-5.5zM464.1,1171.9h5.5v5.5h-5.5zM467.2,1177.9h5.5v5.5h-5.5zM470.3,1181.9h5.5v5.5h-5.5zM473.4,1184.6h5.5v5.5h-5.5z" fill="#000"/>
<path d="M618.8,1193.2L618.8,1193.1L621.1,1193.1L623.4,1193L625.7,1193L628,1192.8L630.3,1192.7L632.6,1192.4L634.9,1192.1L637.2,1191.7L639.5,1191.1L641.8,1190.3L644.1,1189.3L646.4,1188L648.8,1186.3L651.1,1184.2L653.4,1181.6L655.7,1178.4L658,1174.5L660.3,1170L662.6,1164.7L664.9,1158.7L667.2,1151.9L669.5,1144.3L671.8,1136.1L674.1,1127.4L676.4,1118.2L678.7,1108.8L681,1099.4L683.4,1090.3L685.7,1081.6L688,1073.8L690.3,1066.9L692.6,1061.3L694.9,1057.1L697.2,1054.6L699.5,1053.7L701.8,1054.6L704.1,1057.1L706.4,1061.3L708.7,1066.9L711,1073.8L713.3,1081.6L715.6,1090.3L718,1099.4L720.3,1108.8L722.6,1118.2L724.9,1127.4L727.2,1136.1L729.5,1144.3L731.8,1151.9L734.1,1158.7L736.4,1164.7L738.7,1170L741,1174.5L743.3,1178.4L745.6,1181.6L747.9,1184.2L750.2,1186.3L752.6,1188L754.9,1189.3L757.2,1190.3L759.5,1191.1L761.8,1191.7L764.1,1192.1L766.4,1192.4L768.7,1192.7L771,1192.8L773.3,1193L775.6,1193L777.9,1193.1L780.2,1193.1L780.2,1193.2Z" fill="#00ff00"/>
<path d="M708,1193.2L708,1193.1L710.5,1193L712.9,1192.9L715.4,1192.8L717.8,1192.6L720.3,1192.4L722.7,1192L725.2,1191.5L727.6,1190.8L730.1,1189.9L732.5,1188.7L735,1187.1L737.4,1185L739.9,1182.3L742.3,1179L744.8,1174.9L747.2,1169.9L749.7,1163.8L752.1,1156.7L754.6,1148.4L757,1138.9L759.5,1128.2L761.9,1116.3L764.4,1103.4L766.8,1089.6L769.3,1075.2L771.7,1060.4L774.2,1045.7L776.6,1031.3L779.1,1017.7L781.5,1005.3L784,994.5L786.4,985.6L788.9,979.1L791.3,975.1L793.8,973.7L796.3,975.1L798.7,979.1L801.2,985.6L803.6,994.5L806.1,1005.3L808.5,1017.7L811,1031.3L813.4,1045.7L815.9,1060.4L818.3,1075.2L820.8,1089.6L823.2,1103.4L825.7,1116.3L828.1,1128.2L830.6,1138.9L833,1148.4L835.5,1156.7L837.9,1163.8L840.4,1169.9L842.8,1174.9L845.3,1179L847.7,1182.3L850.2,1185L852.6,1187.1L855.1,1188.7L857.5,1189.9L860,1190.8L862.4,1191.5L864.9,1192L867.3,1192.4L869.8,1192.6L872.2,1192.8L874.7,1192.9L877.1,1193L879.6,1193.1L879.6,1193.2Z" fill="#008080"/>
<path d="M799.1,1193.2L799.1,1193.1L800.6,1193.1L802.1,1193.1L803.6,1193L805.1,1192.9L806.6,1192.8L808.1,1192.6L809.6,1192.3L811.1,1191.9L812.6,1191.4L814.1,1190.6L815.6,1189.7L817.1,1188.5L818.6,1186.9L820.1,1184.9L821.6,1182.5L823.1,1179.5L824.6,1176L826.1,1171.8L827.6,1167L829.1,1161.6L830.6,1155.5L832.1,1149L833.6,1142L835.1,1134.7L836.6,1127.3L838.1,1120L839.6,1113.1L841.1,1106.7L842.6,1101.1L844.1,1096.5L845.6,1093L847.1,1090.9L848.6,1090.2L850.1,1090.9L851.6,1093L853.1,1096.5L854.6,1101.1L856.1,1106.7L857.6,1113.1L859.1,1120L860.6,1127.3L862.1,1134.7L863.6,1142L865.1,1149L866.6,1155.5L868.1,1161.6L869.6,1167L871.1,1171.8L872.6,1176L874.1,1179.5L875.6,1182.5L877.1,1184.9L878.6,1186.9L880.1,1188.5L881.6,1189.7L883.1,1190.6L884.6,1191.4L886.1,1191.9L887.6,1192.3L889.1,1192.6L890.6,1192.8L892.1,1192.9L893.6,1193L895.1,1193.1L896.6,1193.1L898.1,1193.1L898.1,1193.2Z" fill="#00ffff"/>
<path d="M818.8,1193.2L818.8,1193.2L820.5,1193.1L822.1,1193.1L823.8,1193.1L825.5,1193L827.2,1193L828.8,1192.8L830.5,1192.7L832.2,1192.5L833.8,1192.2L835.5,1191.8L837.2,1191.3L838.9,1190.7L840.5,1189.9L842.2,1188.9L843.9,1187.7L845.5,1186.1L847.2,1184.3L848.9,1182.2L850.6,1179.6L852.2,1176.8L853.9,1173.5L855.6,1169.9L857.2,1166L858.9,1161.9L860.6,1157.5L862.3,1153L863.9,1148.6L865.6,1144.2L867.3,1140.1L868.9,1136.3L870.6,1133.1L872.3,1130.4L874,1128.4L875.6,1127.2L877.3,1126.8L879,1127.2L880.6,1128.4L882.3,1130.4L884,1133.1L885.7,1136.3L887.3,1140.1L889,1144.2L890.7,1148.6L892.3,1153L894,1157.5L895.7,1161.9L897.4,1166L899,1169.9L900.7,1173.5L902.4,1176.8L904,1179.6L905.7,1182.2L907.4,1184.3L909.1,1186.1L910.7,1187.7L912.4,1188.9L914.1,1189.9L915.7,1190.7L917.4,1191.3L919.1,1191.8L920.8,1192.2L922.4,1192.5L924.1,1192.7L925.8,1192.8L927.4,1193L929.1,1193L930.8,1193.1L932.5,1193.1L934.1,1193.1L935.8,1193.2L935.8,1193.2Z" fill="#ff0000"/>
<path d="M528.2,1189.7h5.5v5.5h-5.5zM531.2,1189.6h5.5v5.5h-5.5zM534.2,1189.6h5.5v5.5h-5.5zM537.2,1189.5h5.5v5.5h-5.5zM540.2,1189.2h5.5v5.5h-5.5zM543.2,1190h5.5v5.5h-5.5zM546.2,1189.6h5.5v5.5h-5.5zM549.2,1189.6h5.5v5.5h-5.5zM552.2,1189.7h5.5v5.5h-5.5zM555.2,1189.5h5.5v5.5h-5.5zM558.2,1189.4h5.5v5.5h-5.5zM561.2,1188.7h5.5v5.5h-5.5zM564.2,1189.4h5.5v5.5h-5.5zM567.2,1189.5h5.5v5.5h-5.5zM570.2,1189.2h5.5v5.5h-5.5zM573.2,1189.8h5.5v5.5h-5.5zM576.2,1189.6h5.5v5.5h-5.5zM579.2,1189.3h5.5v5.5h-5.5zM582.2,1189.6h5.5v5.5h-5.5zM585.2,1189.7h5.5v5.5h-5.5zM588.2,1189.6h5.5v5.5h-5.5zM591.2,1189.9h5.5v5.5h-5.5zM594.2,1189.1h5.5v5.5h-5.5zM597.2,1189.1h5.5v5.5h-5.5zM600.2,1188.7h5.5v5.5h-5.5zM603.2,1189.5h5.5v5.5h-5.5zM606.2,1189.5h5.5v5.5h-5.5zM609.2,1189.5h5.5v5.5h-5.5zM612.2,1189.3h5.5v5.5h-5.5zM615.2,1189.4h5.5v5.5h-5.5zM618.2,1189.1h5.5v5.5h-5.5zM621.2,1189.4h5.5v5.5h-5.5zM624.2,1189.6h5.5v5.5h-5.5zM627.2,1188.5h5.5v5.5h-5.5zM630.2,1188.8h5.5v5.5h-5.5zM633.2,1187.8h5.5v5.5h-5.5zM636.2,1187.6h5.5v5.5h-5.5zM639.2,1186.5h5.5v5.5h-5.5zM642.2,1185.6h5.5v5.5h-5.5zM645.2,1183.4h5.5v5.5h-5.5zM648.2,1180.4h5.5v5.5h-5.5zM651.2,1176.8h5.5v5.5h-5.5zM654.2,1172.6h5.5v5.5h-5.5zM657.2,1166.8h5.5v5.5h-5.5zM660.2,1160.5h5.5v5.5h-5.5zM663.2,1151.8h5.5v5.5h-5.5zM666.2,1142.5h5.5v5.5h-5.5zM669.2,1132h5.5v5.5h-5.5zM672.2,1120h5.5v5.5h-5.5zM675.2,1108.1h5.5v5.5h-5.5zM678.2,1095.7h5.5v5.5h-5.5zM681.2,1083.3h5.5v5.5h-5.5zM684.2,1071.7h5.5v5.5h-5.5zM687.2,1061.3h5.5v5.5h-5.5zM690.2,1052.9h5.5v5.5h-5.5zM693.2,1047.4h5.5v5.5h-5.5zM696.2,1044.7h5.5v5.5h-5.5zM699.2,1045.8h5.5v5.5h-5.5zM702.2,1050.6h5.5v5.5h-5.5zM705.2,1058.6h5.5v5.5h-5.5zM708.2,1068.3h5.5v5.5h-5.5zM711.2,1079h5.5v5.5h-5.5zM714.2,1090.9h5.5v5.5h-5.5zM717.2,1102.3h5.5v5.5h-5.5zM720.2,1114.1h5.5v5.5h-5.5zM723.2,1124.4h5.5v5.5h-5.5zM726.2,1133.6h5.5v5.5h-5.5zM729.2,1140.4h5.5v5.5h-5.5zM732.2,1145.5h5.5v5.5h-5.5zM735.2,1148.4h5.5v5.5h-5.5zM738.2,1148.7h5.5v5.5h-5.5zM741.2,1148.2h5.5v5.5h-5.5zM744.2,1145.8h5.5v5.5h-5.5zM747.2,1141.7h5.5v5.5h-5.5zM750.2,1136.1h5.5v5.5h-5.5zM753.2,1129.2h5.5v5.5h-5.5zM756.2,1119.8h5.5v5.5h-5.5zM759.2,1107.5h5.5v5.5h-5.5zM762.2,1093.2h5.5v5.5h-5.5zM765.2,1077.3h5.5v5.5h-5.5zM768.2,1060.5h5.5v5.5h-5.5zM771.2,1042.5h5.5v5.5h-5.5zM774.2,1024.4h5.5v5.5h-5.5zM777.2,1008.3h5.5v5.5h-5.5zM780.2,992.9h5.5v5.5h-5.5zM783.2,979.9h5.5v5.5h-5.5zM786.2,970.7h5.5v5.5h-5.5zM789.2,966h5.5v5.5h-5.5zM792.2,965.4h5.5v5.5h-5.5zM795.2,969.5h5.5v5.5h-5.5zM798.2,978.2h5.5v5.5h-5.5zM801.2,989.7h5.5v5.5h-5.5zM804.2,1004.3h5.5v5.5h-5.5zM807.2,1019.6h5.5v5.5h-5.5zM810.2,1036h5.5v5.5h-5.5zM813.2,1050.7h5.5v5.5h-5.5zM816.2,1063.4h5.5v5.5h-5.5zM819.2,1072.8h5.5v5.5h-5.5zM822.2,1079.9h5.5v5.5h-5.5zM825.2,1082.1h5.5v5.5h-5.5zM828.2,1083.1h5.5v5.5h-5.5zM831.2,1081.5h5.5v5.5h-5.5zM834.2,1077.9h5.5v5.5h-5.5zM837.2,1073.9h5.5v5.5h-5.5zM840.2,1069.2h5.5v5.5h-5.5zM843.2,1065.8h5.5v5.5h-5.5zM846.2,1064.3h5.5v5.5h-5.5zM849.2,1065.8h5.5v5.5h-5.5zM852.2,1069.6h5.5v5.5h-5.5zM855.2,1075.3h5.5v5.5h-5.5zM858.2,1081.5h5.5v5.5h-5.5zM861.2,1086.8h5.5v5.5h-5.5zM864.2,1092.5h5.5v5.5h-5.5zM867.2,1097.3h5.5v5.5h-5.5zM870.2,1102.6h5.5v5.5h-5.5zM873.2,1108.8h5.5v5.5h-5.5zM876.2,1114.5h5.5v5.5h-5.5zM879.2,1121.5h5.5v5.5h-5.5zM882.2,1129.1h5.5v5.5h-5.5zM885.2,1137.3h5.5v5.5h-5.5zM888.2,1145h5.5v5.5h-5.5zM891.2,1153.3h5.5v5.5h-5.5zM894.2,1161.7h5.5v5.5h-5.5zM897.2,1168.6h5.5v5.5h-5.5zM900.2,1174.4h5.5v5.5h-5.5zM903.2,1179.1h5.5v5.5h-5.5zM906.2,1182.2h5.5v5.5h-5.5zM909.2,1185.2h5.5v5.5h-5.5zM912.2,1186.4h5.5v5.5h-5.5zM915.2,1188.5h5.5v5.5h-5.5zM918.2,1189h5.5v5.5h-5.5zM921.2,1188.7h5.5v5.5h-5.5zM924.2,1189.3h5.5v5.5h-5.5zM927.2,1189.9h5.5v5.5h-5.5zM930.2,1188.7h5.5v5.5h-5.5zM933.2,1189.2h5.5v5.5h-5.5z" fill="#000"/>
<path d="M505.5,1193.2L508,1193.2L510.5,1193.2L513,1193.2L515.5,1193.2L518,1193.2L520.5,1193.2L523,1193.2L525.5,1193.2L528,1193.2L530.5,1193.2L533,1193.2L535.5,1193.2L538,1193.2L540.5,1193.2L543,1193.2L545.5,1193.2L548,1193.2L550.6,1193.2L553.1,1193.2L555.6,1193.2L558.1,1193.2L560.6,1193.2L563.1,1193.2L565.6,1193.2L568.1,1193.2L570.6,1193.2L573.1,1193.2L575.6,1193.2L578.1,1193.2L580.6,1193.2L583.1,1193.2L585.6,1193.2L588.1,1193.2L590.6,1193.2L593.1,1193.2L595.6,1193.2L598.1,1193.2L600.6,1193.2L603.1,1193.2L605.6,1193.2L608.1,1193.2L610.6,1193.2L613.1,1193.2L615.6,1193.2L618.1,1193.1L620.6,1193.1L623.1,1193L625.6,1193L628.1,1192.8L630.6,1192.6L633.1,1192.4L635.6,1192L638.2,1191.5L640.7,1190.7L643.2,1189.8L645.7,1188.5L648.2,1186.8L650.7,1184.6L653.2,1181.8L655.7,1178.4L658.2,1174.2L660.7,1169.2L663.2,1163.3L665.7,1156.5L668.2,1148.8L670.7,1140.2L673.2,1131L675.7,1121.2L678.2,1111.1L680.7,1100.8L683.2,1090.9L685.7,1081.5L688.2,1073L690.7,1065.7L693.2,1060L695.7,1056L698.2,1053.9L700.7,1053.9L703.2,1055.9L705.7,1059.8L708.2,1065.5L710.7,1072.6L713.2,1081L715.7,1090.2L718.2,1100L720.7,1109.9L723.2,1119.7L725.8,1128.9L728.3,1137.4L730.8,1145L733.3,1151.3L735.8,1156.4L738.3,1160L740.8,1162.1L743.3,1162.6L745.8,1161.5L748.3,1158.7L750.8,1154.3L753.3,1148.2L755.8,1140.4L758.3,1131.1L760.8,1120.2L763.3,1108.1L765.8,1094.7L768.3,1080.5L770.8,1065.7L773.3,1050.7L775.8,1035.9L778.3,1021.8L780.8,1008.7L783.3,997.2L785.8,987.7L788.3,980.4L790.8,975.7L793.3,973.7L795.8,974.6L798.3,978.3L800.8,984.5L803.3,993.2L805.8,1003.7L808.3,1015.7L810.8,1028.6L813.3,1041.5L815.9,1053.7L818.4,1064.5L820.9,1073.3L823.4,1079.9L825.9,1084.1L828.4,1086.3L830.9,1086.8L833.4,1085.7L835.9,1083.4L838.4,1080.1L840.9,1076.3L843.4,1072.5L845.9,1069.7L848.4,1068.4L850.9,1068.9L853.4,1071.3L855.9,1075.2L858.4,1079.8L860.9,1084.7L863.4,1089.5L865.9,1094L868.4,1098.3L870.9,1102.6L873.4,1107L875.9,1111.8L878.4,1116.9L880.9,1122.4L883.4,1128.4L885.9,1134.9L888.4,1141.7L890.9,1148.7L893.4,1155.7L895.9,1162.4L898.4,1168.6L900.9,1174L903.5,1178.7L906,1182.5L908.5,1185.5L911,1187.8L913.5,1189.6L916,1190.8L918.5,1191.7L921,1192.2L923.5,1192.6L926,1192.9L928.5,1193L931,1193.1L933.5,1193.1L936,1193.2L938.5,1193.2L941,1193.2L943.5,1193.2L946,1193.2" fill="none" stroke="#ff40ff" stroke-width="0.8"/>
<path d="M1120.8,342L1120.8,341.9L1127.3,341.9L1133.9,341.8L1140.4,341.8L1146.9,341.6L1153.5,341.5L1160,341.2L1166.5,340.9L1173.1,340.5L1179.6,339.8L1186.1,339L1192.7,338L1199.2,336.6L1205.7,334.9L1212.2,332.7L1218.8,330L1225.3,326.7L1231.8,322.7L1238.4,318L1244.9,312.6L1251.4,306.3L1258,299.3L1264.5,291.6L1271,283.2L1277.6,274.3L1284.1,265L1290.6,255.6L1297.2,246.2L1303.7,237.1L1310.2,228.6L1316.8,221L1323.3,214.5L1329.8,209.3L1336.4,205.7L1342.9,203.7L1349.4,203.5L1355.9,205L1362.5,208.2L1369,213L1375.5,219.2L1382.1,226.6L1388.6,234.8L1395.1,243.8L1401.7,253.1L1408.2,262.6L1414.7,271.9L1421.3,280.9L1427.8,289.5L1434.3,297.4L1440.9,304.6L1447.4,311L1453.9,316.7L1460.5,321.5L1467,325.7L1473.5,329.2L1480.1,332L1486.6,334.3L1493.1,336.2L1499.6,337.7L1506.2,338.8L1512.7,339.7L1519.2,340.3L1525.8,340.8L1532.3,341.2L1538.8,341.4L1545.4,341.6L1551.9,341.7L1558.4,341.8L1565,341.9L1571.5,341.9L1571.5,342Z" fill="#008000"/>
<path d="M1120.8,342L1120.8,341.9L1127.3,341.9L1133.9,341.8L1140.4,341.8L1146.9,341.6L1153.5,341.5L1160,341.2L1166.5,340.9L1173.1,340.5L1179.6,339.8L1186.1,339L1192.7,338L1199.2,336.6L1205.7,334.9L1212.2,332.7L1218.8,330L1225.3,326.7L1231.8,322.7L1238.4,318L1244.9,312.6L1251.4,306.3L1258,299.3L1264.5,291.6L1271,283.2L1277.6,274.3L1284.1,265L1290.6,255.6L1297.2,246.2L1303.7,237.1L1310.2,228.6L1316.8,221L1323.3,214.5L1329.8,209.3L1336.4,205.7L1342.9,203.7L1349.4,203.5L1355.9,205L1362.5,208.2L1369,213L1375.5,219.2L1382.1,226.6L1388.6,234.8L1395.1,243.8L1401.7,253.1L1408.2,262.6L1414.7,271.9L1421.3,280.9L1427.8,289.5L1434.3,297.4L1440.9,304.6L1447.4,311L1453.9,316.7L1460.5,321.5L1467,325.7L1473.5,329.2L1480.1,332L1486.6,334.3L1493.1,336.2L1499.6,337.7L1506.2,338.8L1512.7,339.7L1519.2,340.3L1525.8,340.8L1532.3,341.2L1538.8,341.4L1545.4,341.6L1551.9,341.7L1558.4,341.8L1565,341.9L1571.5,341.9L1571.5,342Z" fill="url(#hatch)"/>
<path d="M1295.4,342L1295.4,341.9L1298.8,341.9L1302.2,341.8L1305.6,341.8L1308.9,341.6L1312.3,341.5L1315.7,341.2L1319.1,340.9L1322.4,340.5L1325.8,339.9L1329.2,339.1L1332.6,338L1335.9,336.7L1339.3,334.9L1342.7,332.8L1346.1,330.1L1349.5,326.8L1352.8,322.9L1356.2,318.3L1359.6,312.9L1363,306.7L1366.3,299.7L1369.7,292L1373.1,283.6L1376.5,274.7L1379.8,265.3L1383.2,255.7L1386.6,246.1L1390,236.7L1393.3,227.9L1396.7,219.8L1400.1,212.8L1403.5,207.1L1406.8,202.8L1410.2,200.2L1413.6,199.3L1417,200.2L1420.4,202.8L1423.7,207.1L1427.1,212.8L1430.5,219.8L1433.9,227.9L1437.2,236.7L1440.6,246.1L1444,255.7L1447.4,265.3L1450.7,274.7L1454.1,283.6L1457.5,292L1460.9,299.7L1464.2,306.7L1467.6,312.9L1471,318.3L1474.4,322.9L1477.7,326.8L1481.1,330.1L1484.5,332.8L1487.9,334.9L1491.3,336.7L1494.6,338L1498,339.1L1501.4,339.9L1504.8,340.5L1508.1,340.9L1511.5,341.2L1514.9,341.5L1518.3,341.6L1521.6,341.8L1525,341.8L1528.4,341.9L1531.8,341.9L1531.8,342Z" fill="#00ffff"/>
<path d="M1075.5,342L1078,342L1080.5,342L1083,342L1085.5,342L1088,342L1090.5,342L1093,342L1095.5,342L1098,342L1100.6,342L1103.1,342L1105.6,342L1108.1,342L1110.6,342L1113.1,342L1115.6,342L1118.1,341.9L1120.6,341.9L1123.1,341.9L1125.6,341.9L1128.1,341.9L1130.6,341.9L1133.1,341.8L1135.6,341.8L1138.1,341.8L1140.6,341.8L1143.1,341.7L1145.6,341.7L1148.1,341.6L1150.7,341.6L1153.2,341.5L1155.7,341.4L1158.2,341.3L1160.7,341.2L1163.2,341.1L1165.7,341L1168.2,340.8L1170.7,340.6L1173.2,340.4L1175.7,340.2L1178.2,340L1180.7,339.7L1183.2,339.4L1185.7,339.1L1188.2,338.7L1190.7,338.3L1193.2,337.9L1195.7,337.4L1198.2,336.8L1200.8,336.2L1203.3,335.6L1205.8,334.9L1208.3,334.1L1210.8,333.2L1213.3,332.3L1215.8,331.3L1218.3,330.2L1220.8,329L1223.3,327.7L1225.8,326.4L1228.3,324.9L1230.8,323.4L1233.3,321.7L1235.8,319.9L1238.3,318L1240.8,316L1243.3,313.9L1245.8,311.7L1248.3,309.4L1250.9,306.9L1253.4,304.4L1255.9,301.7L1258.4,298.9L1260.9,296L1263.4,293L1265.9,289.9L1268.4,286.7L1270.9,283.4L1273.4,280L1275.9,276.6L1278.4,273.1L1280.9,269.6L1283.4,266L1285.9,262.4L1288.4,258.7L1290.9,255.1L1293.4,251.5L1295.9,247.8L1298.4,244.3L1301,240.7L1303.5,237.2L1306,233.8L1308.5,230.5L1311,227.3L1313.5,224.1L1316,221.1L1318.5,218.1L1321,215.3L1323.5,212.6L1326,210L1328.5,207.5L1331,205.1L1333.5,202.8L1336,200.5L1338.5,198.2L1341,196L1343.5,193.8L1346,191.5L1348.6,189.2L1351.1,186.8L1353.6,184.2L1356.1,181.6L1358.6,178.7L1361.1,175.7L1363.6,172.4L1366.1,169L1368.6,165.3L1371.1,161.5L1373.6,157.5L1376.1,153.4L1378.6,149.3L1381.1,145.1L1383.6,141L1386.1,137L1388.6,133.3L1391.1,129.8L1393.6,126.8L1396.1,124.3L1398.7,122.4L1401.2,121.2L1403.7,120.8L1406.2,121.2L1408.7,122.4L1411.2,124.6L1413.7,127.7L1416.2,131.8L1418.7,136.7L1421.2,142.6L1423.7,149.2L1426.2,156.6L1428.7,164.6L1431.2,173.2L1433.7,182.2L1436.2,191.6L1438.7,201.2L1441.2,210.8L1443.7,220.5L1446.2,230.1L1448.8,239.4L1451.3,248.5L1453.8,257.3L1456.3,265.6L1458.8,273.4L1461.3,280.7L1463.8,287.5L1466.3,293.8L1468.8,299.6L1471.3,304.8L1473.8,309.5L1476.3,313.7L1478.8,317.4L1481.3,320.8L1483.8,323.7L1486.3,326.3L1488.8,328.5L1491.3,330.4L1493.8,332.1L1496.3,333.5L1498.9,334.8L1501.4,335.8L1503.9,336.7L1506.4,337.5L1508.9,338.2L1511.4,338.7L1513.9,339.2L1516.4,339.6L1518.9,339.9L1521.4,340.2L1523.9,340.5L1526.4,340.7L1528.9,340.9L1531.4,341L1533.9,341.2L1536.4,341.3L1538.9,341.4L1541.4,341.5L1543.9,341.6L1546.4,341.6L1549,341.7L1551.5,341.7L1554,341.8L1556.5,341.8L1559,341.8L1561.5,341.9L1564,341.9L1566.5,341.9L1569,341.9L1571.5,341.9" fill="none" stroke="#ff0000" stroke-width="0.7"/>
<path d="M1087.2,339.8h5.5v5.5h-5.5zM1092.2,337.7h5.5v5.5h-5.5zM1097.2,336.9h5.5v5.5h-5.5zM1102.1,338.8h5.5v5.5h-5.5zM1107.1,339.9h5.5v5.5h-5.5zM1112,338.2h5.5v5.5h-5.5zM1117,337.4h5.5v5.5h-5.5zM1121.9,336.4h5.5v5.5h-5.5zM1126.9,339.3h5.5v5.5h-5.5zM1131.8,339.1h5.5v5.5h-5.5zM1136.8,336.2h5.5v5.5h-5.5zM1141.7,336.1h5.5v5.5h-5.5zM1146.7,334.2h5.5v5.5h-5.5zM1151.6,334.2h5.5v5.5h-5.5zM1156.6,334.9h5.5v5.5h-5.5zM1161.5,334.2h5.5v5.5h-5.5zM1166.5,329.5h5.5v5.5h-5.5zM1171.4,332.2h5.5v5.5h-5.5zM1176.4,331.7h5.5v5.5h-5.5zM1181.3,331h5.5v5.5h-5.5zM1186.3,328.2h5.5v5.5h-5.5zM1191.2,326.9h5.5v5.5h-5.5zM1196.2,326.4h5.5v5.5h-5.5zM1201.1,324.8h5.5v5.5h-5.5zM1206.1,323.1h5.5v5.5h-5.5zM1211,321.1h5.5v5.5h-5.5zM1216,319.1h5.5v5.5h-5.5zM1220.9,318.4h5.5v5.5h-5.5zM1225.9,318.9h5.5v5.5h-5.5zM1230.8,313.1h5.5v5.5h-5.5zM1235.8,312.9h5.5v5.5h-5.5zM1240.7,307.9h5.5v5.5h-5.5zM1245.7,305.6h5.5v5.5h-5.5zM1250.6,299.2h5.5v5.5h-5.5zM1255.6,295.2h5.5v5.5h-5.5zM1260.5,288.3h5.5v5.5h-5.5zM1265.5,278.4h5.5v5.5h-5.5zM1270.4,276.3h5.5v5.5h-5.5zM1275.4,268.5h5.5v5.5h-5.5zM1280.3,264.3h5.5v5.5h-5.5zM1285.3,255.9h5.5v5.5h-5.5zM1290.2,247.5h5.5v5.5h-5.5zM1295.2,241.4h5.5v5.5h-5.5zM1300.1,233.8h5.5v5.5h-5.5zM1305.1,227.5h5.5v5.5h-5.5zM1310,222.6h5.5v5.5h-5.5zM1315,214.6h5.5v5.5h-5.5zM1319.9,210.8h5.5v5.5h-5.5zM1324.9,202.2h5.5v5.5h-5.5zM1329.8,200.6h5.5v5.5h-5.5zM1334.8,194.5h5.5v5.5h-5.5zM1339.7,191h5.5v5.5h-5.5zM1344.7,185.3h5.5v5.5h-5.5zM1349.6,182.5h5.5v5.5h-5.5zM1354.6,175.1h5.5v5.5h-5.5zM1359.5,170.6h5.5v5.5h-5.5zM1364.5,162h5.5v5.5h-5.5zM1369.4,155.3h5.5v5.5h-5.5zM1374.4,147.9h5.5v5.5h-5.5zM1379.3,140.8h5.5v5.5h-5.5zM1384.3,130.9h5.5v5.5h-5.5zM1389.2,124.4h5.5v5.5h-5.5zM1394.2,117.8h5.5v5.5h-5.5zM1399.1,117.8h5.5v5.5h-5.5zM1404.1,116.9h5.5v5.5h-5.5zM1409,120.8h5.5v5.5h-5.5zM1414,128.6h5.5v5.5h-5.5zM1418.9,139.7h5.5v5.5h-5.5zM1423.9,153.8h5.5v5.5h-5.5zM1428.8,171.4h5.5v5.5h-5.5zM1433.8,190.2h5.5v5.5h-5.5zM1438.7,208.4h5.5v5.5h-5.5zM1443.7,226.1h5.5v5.5h-5.5zM1448.6,243.1h5.5v5.5h-5.5zM1453.6,260.6h5.5v5.5h-5.5zM1458.5,275.5h5.5v5.5h-5.5zM1463.5,288.8h5.5v5.5h-5.5zM1468.4,299.8h5.5v5.5h-5.5zM1473.4,309.4h5.5v5.5h-5.5zM1478.3,315.7h5.5v5.5h-5.5zM1483.3,319.9h5.5v5.5h-5.5zM1488.2,326.8h5.5v5.5h-5.5zM1493.2,330.4h5.5v5.5h-5.5zM1498.1,329.3h5.5v5.5h-5.5zM1503.1,333.3h5.5v5.5h-5.5zM1508,333.6h5.5v5.5h-5.5zM1513,334.6h5.5v5.5h-5.5zM1517.9,337.9h5.5v5.5h-5.5zM1522.9,333.7h5.5v5.5h-5.5zM1527.8,334.9h5.5v5.5h-5.5zM1532.8,337.3h5.5v5.5h-5.5zM1537.7,336.7h5.5v5.5h-5.5zM1542.7,337.7h5.5v5.5h-5.5zM1547.6,339.1h5.5v5.5h-5.5zM1552.6,338.2h5.5v5.5h-5.5zM1557.5,337.6h5.5v5.5h-5.5zM1562.5,336.7h5.5v5.5h-5.5z" fill="#000"/>
<path d="M1571.5,342L1571.5,341.7L1579.1,341.5L1586.7,341.3L1594.3,341L1601.9,340.5L1609.5,339.9L1617.1,339.1L1624.8,338L1632.4,336.6L1640,334.7L1647.6,332.3L1655.2,329.3L1662.8,325.6L1670.4,321L1678,315.6L1685.6,309.1L1693.2,301.5L1700.8,292.9L1708.4,283.1L1716,272.3L1723.7,260.5L1731.3,247.9L1738.9,234.7L1746.5,221.2L1754.1,207.7L1761.7,194.5L1769.3,182.1L1776.9,170.8L1784.5,161L1792.1,153.1L1799.7,147.2L1807.3,143.7L1814.9,142.7L1822.6,144.2L1830.2,148.1L1837.8,154.3L1845.4,162.6L1853,172.6L1860.6,184.1L1868.2,196.7L1875.8,209.9L1883.4,223.5L1891,236.9L1898.6,250L1906.2,262.5L1913.8,274.2L1921.5,284.8L1929.1,294.4L1936.7,302.9L1944.3,310.3L1951.9,316.6L1959.5,321.9L1967.1,326.3L1974.7,329.9L1982.3,332.8L1989.9,335L1997.5,336.8L2005.1,338.2L2012.7,339.3L2020.4,340L2028,340.6L2035.6,341L2043.2,341.3L2050.8,341.5L2058.4,341.7L2066,341.8L2066,342Z" fill="#008000"/>
<path d="M1571.5,342L1571.5,341.7L1579.1,341.5L1586.7,341.3L1594.3,341L1601.9,340.5L1609.5,339.9L1617.1,339.1L1624.8,338L1632.4,336.6L1640,334.7L1647.6,332.3L1655.2,329.3L1662.8,325.6L1670.4,321L1678,315.6L1685.6,309.1L1693.2,301.5L1700.8,292.9L1708.4,283.1L1716,272.3L1723.7,260.5L1731.3,247.9L1738.9,234.7L1746.5,221.2L1754.1,207.7L1761.7,194.5L1769.3,182.1L1776.9,170.8L1784.5,161L1792.1,153.1L1799.7,147.2L1807.3,143.7L1814.9,142.7L1822.6,144.2L1830.2,148.1L1837.8,154.3L1845.4,162.6L1853,172.6L1860.6,184.1L1868.2,196.7L1875.8,209.9L1883.4,223.5L1891,236.9L1898.6,250L1906.2,262.5L1913.8,274.2L1921.5,284.8L1929.1,294.4L1936.7,302.9L1944.3,310.3L1951.9,316.6L1959.5,321.9L1967.1,326.3L1974.7,329.9L1982.3,332.8L1989.9,335L1997.5,336.8L2005.1,338.2L2012.7,339.3L2020.4,340L2028,340.6L2035.6,341L2043.2,341.3L2050.8,341.5L2058.4,341.7L2066,341.8L2066,342Z" fill="url(#hatch)"/>
<path d="M1782.2,342L1782.2,341.9L1785.3,341.9L1788.4,341.9L1791.6,341.8L1794.7,341.7L1797.8,341.6L1800.9,341.4L1804,341.2L1807.2,340.8L1810.3,340.4L1813.4,339.8L1816.5,339L1819.6,338L1822.8,336.7L1825.9,335.1L1829,333.1L1832.1,330.6L1835.2,327.7L1838.4,324.2L1841.5,320.2L1844.6,315.5L1847.7,310.3L1850.8,304.5L1854,298.2L1857.1,291.5L1860.2,284.5L1863.3,277.3L1866.4,270.1L1869.6,263.1L1872.7,256.4L1875.8,250.4L1878.9,245.1L1882,240.8L1885.2,237.6L1888.3,235.7L1891.4,235L1894.5,235.7L1897.6,237.6L1900.8,240.8L1903.9,245.1L1907,250.4L1910.1,256.4L1913.2,263.1L1916.4,270.1L1919.5,277.3L1922.6,284.5L1925.7,291.5L1928.8,298.2L1932,304.5L1935.1,310.3L1938.2,315.5L1941.3,320.2L1944.4,324.2L1947.6,327.7L1950.7,330.6L1953.8,333.1L1956.9,335.1L1960,336.7L1963.2,338L1966.3,339L1969.4,339.8L1972.5,340.4L1975.6,340.8L1978.8,341.2L1981.9,341.4L1985,341.6L1988.1,341.7L1991.2,341.8L1994.4,341.9L1997.5,341.9L2000.6,341.9L2000.6,342Z" fill="#00ffff"/>
<path d="M1571.5,341.7L1574,341.6L1576.5,341.6L1579,341.5L1581.5,341.5L1584.1,341.4L1586.6,341.3L1589.1,341.2L1591.6,341.1L1594.1,341L1596.6,340.8L1599.1,340.7L1601.6,340.5L1604.1,340.4L1606.6,340.2L1609.2,340L1611.7,339.7L1614.2,339.4L1616.7,339.2L1619.2,338.8L1621.7,338.5L1624.2,338.1L1626.7,337.7L1629.2,337.2L1631.7,336.7L1634.3,336.1L1636.8,335.5L1639.3,334.9L1641.8,334.2L1644.3,333.4L1646.8,332.6L1649.3,331.7L1651.8,330.7L1654.3,329.7L1656.8,328.6L1659.4,327.4L1661.9,326.1L1664.4,324.7L1666.9,323.3L1669.4,321.7L1671.9,320L1674.4,318.3L1676.9,316.4L1679.4,314.4L1681.9,312.4L1684.5,310.2L1687,307.8L1689.5,305.4L1692,302.8L1694.5,300.2L1697,297.4L1699.5,294.5L1702,291.4L1704.5,288.2L1707,285L1709.6,281.6L1712.1,278.1L1714.6,274.4L1717.1,270.7L1719.6,266.9L1722.1,262.9L1724.6,258.9L1727.1,254.8L1729.6,250.6L1732.1,246.3L1734.7,242L1737.2,237.7L1739.7,233.2L1742.2,228.8L1744.7,224.3L1747.2,219.9L1749.7,215.4L1752.2,210.9L1754.7,206.5L1757.3,202.1L1759.8,197.8L1762.3,193.5L1764.8,189.4L1767.3,185.3L1769.8,181.3L1772.3,177.5L1774.8,173.8L1777.3,170.2L1779.8,166.8L1782.4,163.6L1784.9,160.5L1787.4,157.7L1789.9,155.1L1792.4,152.6L1794.9,150.4L1797.4,148.4L1799.9,146.6L1802.4,145L1804.9,143.7L1807.5,142.5L1810,141.5L1812.5,140.8L1815,140.1L1817.5,139.6L1820,139.3L1822.5,139L1825,138.7L1827.5,138.5L1830,138.3L1832.6,138L1835.1,137.7L1837.6,137.2L1840.1,136.6L1842.6,135.9L1845.1,135L1847.6,133.9L1850.1,132.6L1852.6,131.1L1855.1,129.5L1857.7,127.8L1860.2,126L1862.7,124.3L1865.2,122.6L1867.7,121.1L1870.2,119.8L1872.7,118.9L1875.2,118.3L1877.7,118.4L1880.2,119L1882.8,120.3L1885.3,122.3L1887.8,125.1L1890.3,128.7L1892.8,133.2L1895.3,138.4L1897.8,144.5L1900.3,151.2L1902.8,158.6L1905.4,166.6L1907.9,175.1L1910.4,183.9L1912.9,193L1915.4,202.3L1917.9,211.6L1920.4,220.9L1922.9,230L1925.4,238.9L1927.9,247.4L1930.5,255.6L1933,263.4L1935.5,270.6L1938,277.4L1940.5,283.7L1943,289.5L1945.5,294.8L1948,299.7L1950.5,304L1953,308L1955.6,311.5L1958.1,314.7L1960.6,317.5L1963.1,320L1965.6,322.3L1968.1,324.3L1970.6,326.1L1973.1,327.7L1975.6,329.1L1978.1,330.4L1980.7,331.5L1983.2,332.5L1985.7,333.5L1988.2,334.3L1990.7,335L1993.2,335.7L1995.7,336.3L1998.2,336.9L2000.7,337.4L2003.2,337.9L2005.8,338.3L2008.3,338.7L2010.8,339L2013.3,339.3L2015.8,339.6L2018.3,339.8L2020.8,340.1L2023.3,340.3L2025.8,340.5L2028.3,340.6L2030.9,340.8L2033.4,340.9L2035.9,341L2038.4,341.2L2040.9,341.3L2043.4,341.3L2045.9,341.4L2048.4,341.5L2050.9,341.5L2053.4,341.6L2056,341.7L2058.5,341.7L2061,341.7L2063.5,341.8L2066,341.8" fill="none" stroke="#ff0000" stroke-width="0.7"/>
<path d="M1572.2,340.4h5.5v5.5h-5.5zM1577.5,337.9h5.5v5.5h-5.5zM1582.8,338.1h5.5v5.5h-5.5zM1588.1,337.8h5.5v5.5h-5.5zM1593.4,335.3h5.5v5.5h-5.5zM1598.7,335.6h5.5v5.5h-5.5zM1604,334.9h5.5v5.5h-5.5zM1609.3,331h5.5v5.5h-5.5zM1614.6,332.5h5.5v5.5h-5.5zM1619.9,331.9h5.5v5.5h-5.5zM1625.2,330.4h5.5v5.5h-5.5zM1630.5,327.4h5.5v5.5h-5.5zM1635.8,324h5.5v5.5h-5.5zM1641.1,321.8h5.5v5.5h-5.5zM1646.4,319.5h5.5v5.5h-5.5zM1651.7,316.5h5.5v5.5h-5.5zM1657,314.6h5.5v5.5h-5.5zM1662.3,313.6h5.5v5.5h-5.5zM1667.6,310.2h5.5v5.5h-5.5zM1672.9,308.1h5.5v5.5h-5.5zM1678.2,306.4h5.5v5.5h-5.5zM1683.5,300.7h5.5v5.5h-5.5zM1688.8,297.3h5.5v5.5h-5.5zM1694.1,292.6h5.5v5.5h-5.5zM1699.4,284h5.5v5.5h-5.5zM1704.7,279.3h5.5v5.5h-5.5zM1710,273.9h5.5v5.5h-5.5zM1715.3,265.8h5.5v5.5h-5.5zM1720.6,254.6h5.5v5.5h-5.5zM1725.9,249.4h5.5v5.5h-5.5zM1731.2,239.2h5.5v5.5h-5.5zM1736.5,230.2h5.5v5.5h-5.5zM1741.8,221h5.5v5.5h-5.5zM1747.1,211.4h5.5v5.5h-5.5zM1752.4,203.5h5.5v5.5h-5.5zM1757.7,194.3h5.5v5.5h-5.5zM1763,185.1h5.5v5.5h-5.5zM1768.3,177h5.5v5.5h-5.5zM1773.6,167.6h5.5v5.5h-5.5zM1778.9,159.6h5.5v5.5h-5.5zM1784.2,156.5h5.5v5.5h-5.5zM1789.5,149.2h5.5v5.5h-5.5zM1794.8,146.7h5.5v5.5h-5.5zM1800.1,142.9h5.5v5.5h-5.5zM1805.4,139.7h5.5v5.5h-5.5zM1810.7,137.5h5.5v5.5h-5.5zM1816,137.2h5.5v5.5h-5.5zM1821.3,139.4h5.5v5.5h-5.5zM1826.6,133.7h5.5v5.5h-5.5zM1831.9,135.3h5.5v5.5h-5.5zM1837.2,134.7h5.5v5.5h-5.5zM1842.5,131.2h5.5v5.5h-5.5zM1847.8,130.3h5.5v5.5h-5.5zM1853.1,128.1h5.5v5.5h-5.5zM1858.4,121.8h5.5v5.5h-5.5zM1863.7,118.4h5.5v5.5h-5.5zM1869,117.4h5.5v5.5h-5.5zM1874.3,114.4h5.5v5.5h-5.5zM1879.6,116.7h5.5v5.5h-5.5zM1884.9,123.7h5.5v5.5h-5.5zM1890.2,128.4h5.5v5.5h-5.5zM1895.5,142.5h5.5v5.5h-5.5zM1900.8,159.6h5.5v5.5h-5.5zM1906.1,175.3h5.5v5.5h-5.5zM1911.4,194.9h5.5v5.5h-5.5zM1916.7,213.4h5.5v5.5h-5.5zM1922,235.6h5.5v5.5h-5.5zM1927.3,250.3h5.5v5.5h-5.5zM1932.6,266.4h5.5v5.5h-5.5zM1937.9,280.5h5.5v5.5h-5.5zM1943.2,292.2h5.5v5.5h-5.5zM1948.5,300.7h5.5v5.5h-5.5zM1953.8,309.1h5.5v5.5h-5.5zM1959.1,315.9h5.5v5.5h-5.5zM1964.4,321.9h5.5v5.5h-5.5zM1969.7,323h5.5v5.5h-5.5zM1975,326.1h5.5v5.5h-5.5zM1980.3,329.3h5.5v5.5h-5.5zM1985.6,331.3h5.5v5.5h-5.5zM1990.9,332.1h5.5v5.5h-5.5zM1996.2,337.6h5.5v5.5h-5.5zM2001.5,334.8h5.5v5.5h-5.5zM2006.8,339.3h5.5v5.5h-5.5zM2012.1,336.4h5.5v5.5h-5.5zM2017.4,335.8h5.5v5.5h-5.5zM2022.7,335.1h5.5v5.5h-5.5zM2028,338.6h5.5v5.5h-5.5zM2033.3,337.7h5.5v5.5h-5.5zM2038.6,338.5h5.5v5.5h-5.5zM2043.9,341.6h5.5v5.5h-5.5zM2049.2,337.8h5.5v5.5h-5.5z" fill="#000"/>
<path d="M1075.5,622.8L1075.5,622.4L1078.9,622.4L1082.2,622.4L1085.6,622.4L1089,622.4L1092.4,622.4L1095.7,622.3L1099.1,622.3L1102.5,622.3L1105.9,622.3L1109.2,622.3L1112.6,622.3L1116,622.3L1119.4,622.3L1122.7,622.3L1126.1,622.3L1129.5,622.2L1132.9,622.2L1136.2,622.2L1139.6,622.2L1143,622.2L1146.4,622.2L1149.7,622.2L1153.1,622.1L1156.5,622.1L1159.9,622.1L1163.2,622.1L1166.6,622.1L1170,622L1173.4,622L1176.7,622L1180.1,622L1183.5,622L1186.8,621.9L1190.2,621.9L1193.6,621.9L1197,621.9L1200.3,621.8L1203.7,621.8L1207.1,621.8L1210.5,621.7L1213.8,621.7L1217.2,621.7L1220.6,621.6L1224,621.6L1227.3,621.6L1230.7,621.5L1234.1,621.5L1237.5,621.4L1240.8,621.4L1244.2,621.3L1247.6,621.3L1251,621.2L1254.3,621.1L1257.7,621.1L1261.1,621L1264.5,620.9L1267.8,620.8L1271.2,620.8L1274.6,620.7L1277.9,620.6L1281.3,620.5L1284.7,620.4L1288.1,620.2L1291.4,620.1L1294.8,620L1298.2,619.8L1301.6,619.6L1304.9,619.4L1308.3,619.2L1311.7,618.9L1315.1,618.6L1318.4,618.2L1321.8,617.7L1325.2,617.1L1328.6,616.4L1331.9,615.5L1335.3,614.4L1338.7,613L1342.1,611.3L1345.4,609.1L1348.8,606.4L1352.2,603.2L1355.6,599.3L1358.9,594.7L1362.3,589.3L1365.7,582.9L1369.1,575.7L1372.4,567.4L1375.8,558.3L1379.2,548.2L1382.5,537.3L1385.9,525.7L1389.3,513.6L1392.7,501.3L1396,489L1399.4,477L1402.8,465.8L1406.2,455.6L1409.5,446.8L1412.9,440L1416.3,435.3L1419.7,433L1423,433.3L1426.4,436.1L1429.8,441.2L1433.2,448.5L1436.5,457.6L1439.9,468L1443.3,479.5L1446.7,491.5L1450,503.9L1453.4,516.2L1456.8,528.2L1460.2,539.6L1463.5,550.3L1466.9,560.2L1470.3,569.2L1473.6,577.3L1477,584.3L1480.4,590.5L1483.8,595.7L1487.1,600.2L1490.5,603.9L1493.9,607L1497.3,609.6L1500.6,611.6L1504,613.3L1507.4,614.7L1510.8,615.7L1514.1,616.6L1517.5,617.3L1520.9,617.8L1524.3,618.3L1527.6,618.7L1531,619L1534.4,619.2L1537.8,619.5L1541.1,619.7L1544.5,619.8L1547.9,620L1551.3,620.1L1554.6,620.3L1558,620.4L1561.4,620.5L1564.8,620.6L1568.1,620.7L1571.5,620.8L1571.5,622.8Z" fill="#00ffff"/>
<path d="M1075.5,622.8L1075.5,622.5L1080.2,622.5L1084.9,622.5L1089.7,622.5L1094.4,622.5L1099.1,622.4L1103.8,622.4L1108.6,622.4L1113.3,622.4L1118,622.4L1122.7,622.4L1127.5,622.4L1132.2,622.3L1136.9,622.3L1141.6,622.3L1146.4,622.3L1151.1,622.2L1155.8,622.2L1160.5,622.2L1165.3,622.2L1170,622.1L1174.7,622.1L1179.4,622.1L1184.1,622L1188.9,622L1193.6,621.9L1198.3,621.8L1203,621.7L1207.8,621.6L1212.5,621.4L1217.2,621.2L1221.9,620.9L1226.7,620.6L1231.4,620.1L1236.1,619.6L1240.8,618.8L1245.6,617.9L1250.3,616.8L1255,615.3L1259.7,613.6L1264.5,611.4L1269.2,608.9L1273.9,605.9L1278.6,602.4L1283.3,598.4L1288.1,593.9L1292.8,588.9L1297.5,583.5L1302.2,577.6L1307,571.5L1311.7,565.2L1316.4,558.8L1321.1,552.5L1325.9,546.5L1330.6,540.9L1335.3,536L1340,531.9L1344.8,528.8L1349.5,526.8L1354.2,526L1358.9,526.5L1363.7,528.2L1368.4,531L1373.1,534.9L1377.8,539.6L1382.5,545L1387.3,550.9L1392,557.2L1396.7,563.5L1401.4,569.9L1406.2,576.1L1410.9,582L1415.6,587.6L1420.3,592.7L1425.1,597.3L1429.8,601.4L1434.5,605.1L1439.2,608.2L1444,610.8L1448.7,613.1L1453.4,614.9L1458.1,616.4L1462.9,617.7L1467.6,618.6L1472.3,619.4L1477,620L1481.7,620.5L1486.5,620.9L1491.2,621.1L1495.9,621.4L1500.6,621.5L1505.4,621.7L1510.1,621.8L1514.8,621.9L1519.5,621.9L1524.3,622L1529,622L1533.7,622.1L1538.4,622.1L1543.2,622.2L1547.9,622.2L1552.6,622.2L1557.3,622.2L1562.1,622.3L1566.8,622.3L1571.5,622.3L1571.5,622.8Z" fill="#008000"/>
<path d="M1075.5,622.8L1075.5,622.5L1080.2,622.5L1084.9,622.5L1089.7,622.5L1094.4,622.5L1099.1,622.4L1103.8,622.4L1108.6,622.4L1113.3,622.4L1118,622.4L1122.7,622.4L1127.5,622.4L1132.2,622.3L1136.9,622.3L1141.6,622.3L1146.4,622.3L1151.1,622.2L1155.8,622.2L1160.5,622.2L1165.3,622.2L1170,622.1L1174.7,622.1L1179.4,622.1L1184.1,622L1188.9,622L1193.6,621.9L1198.3,621.8L1203,621.7L1207.8,621.6L1212.5,621.4L1217.2,621.2L1221.9,620.9L1226.7,620.6L1231.4,620.1L1236.1,619.6L1240.8,618.8L1245.6,617.9L1250.3,616.8L1255,615.3L1259.7,613.6L1264.5,611.4L1269.2,608.9L1273.9,605.9L1278.6,602.4L1283.3,598.4L1288.1,593.9L1292.8,588.9L1297.5,583.5L1302.2,577.6L1307,571.5L1311.7,565.2L1316.4,558.8L1321.1,552.5L1325.9,546.5L1330.6,540.9L1335.3,536L1340,531.9L1344.8,528.8L1349.5,526.8L1354.2,526L1358.9,526.5L1363.7,528.2L1368.4,531L1373.1,534.9L1377.8,539.6L1382.5,545L1387.3,550.9L1392,557.2L1396.7,563.5L1401.4,569.9L1406.2,576.1L1410.9,582L1415.6,587.6L1420.3,592.7L1425.1,597.3L1429.8,601.4L1434.5,605.1L1439.2,608.2L1444,610.8L1448.7,613.1L1453.4,614.9L1458.1,616.4L1462.9,617.7L1467.6,618.6L1472.3,619.4L1477,620L1481.7,620.5L1486.5,620.9L1491.2,621.1L1495.9,621.4L1500.6,621.5L1505.4,621.7L1510.1,621.8L1514.8,621.9L1519.5,621.9L1524.3,622L1529,622L1533.7,622.1L1538.4,622.1L1543.2,622.2L1547.9,622.2L1552.6,622.2L1557.3,622.2L1562.1,622.3L1566.8,622.3L1571.5,622.3L1571.5,622.8Z" fill="url(#hatch)"/>
<path d="M1075.5,622.1L1078,622.1L1080.5,622.1L1083,622.1L1085.5,622.1L1088,622L1090.5,622L1093,622L1095.5,622L1098,622L1100.6,622L1103.1,622L1105.6,621.9L1108.1,621.9L1110.6,621.9L1113.1,621.9L1115.6,621.9L1118.1,621.9L1120.6,621.8L1123.1,621.8L1125.6,621.8L1128.1,621.8L1130.6,621.8L1133.1,621.8L1135.6,621.7L1138.1,621.7L1140.6,621.7L1143.1,621.7L1145.6,621.6L1148.1,621.6L1150.7,621.6L1153.2,621.6L1155.7,621.5L1158.2,621.5L1160.7,621.5L1163.2,621.5L1165.7,621.4L1168.2,621.4L1170.7,621.4L1173.2,621.3L1175.7,621.3L1178.2,621.3L1180.7,621.2L1183.2,621.2L1185.7,621.1L1188.2,621.1L1190.7,621L1193.2,621L1195.7,620.9L1198.2,620.9L1200.8,620.8L1203.3,620.7L1205.8,620.6L1208.3,620.5L1210.8,620.4L1213.3,620.3L1215.8,620.2L1218.3,620L1220.8,619.8L1223.3,619.7L1225.8,619.4L1228.3,619.2L1230.8,618.9L1233.3,618.6L1235.8,618.3L1238.3,617.9L1240.8,617.4L1243.3,616.9L1245.8,616.3L1248.3,615.7L1250.9,615L1253.4,614.2L1255.9,613.3L1258.4,612.4L1260.9,611.3L1263.4,610.1L1265.9,608.8L1268.4,607.4L1270.9,605.8L1273.4,604.1L1275.9,602.3L1278.4,600.3L1280.9,598.2L1283.4,596L1285.9,593.5L1288.4,591L1290.9,588.3L1293.4,585.4L1295.9,582.5L1298.4,579.3L1301,576.1L1303.5,572.8L1306,569.4L1308.5,565.9L1311,562.3L1313.5,558.7L1316,555L1318.5,551.4L1321,547.7L1323.5,544.1L1326,540.5L1328.5,536.9L1331,533.4L1333.5,530L1336,526.6L1338.5,523.3L1341,520.2L1343.5,517L1346,514L1348.6,511L1351.1,508L1353.6,505L1356.1,501.9L1358.6,498.8L1361.1,495.6L1363.6,492.3L1366.1,488.8L1368.6,485.1L1371.1,481.1L1373.6,476.9L1376.1,472.3L1378.6,467.6L1381.1,462.5L1383.6,457.2L1386.1,451.6L1388.6,445.9L1391.1,440.1L1393.6,434.3L1396.1,428.6L1398.7,423.1L1401.2,417.8L1403.7,413.1L1406.2,408.9L1408.7,405.4L1411.2,402.9L1413.7,401.3L1416.2,400.8L1418.7,401.6L1421.2,403.6L1423.7,406.9L1426.2,411.4L1428.7,417.1L1431.2,423.9L1433.7,431.6L1436.2,440.1L1438.7,449.3L1441.2,459L1443.7,469L1446.2,479.2L1448.8,489.5L1451.3,499.7L1453.8,509.7L1456.3,519.4L1458.8,528.8L1461.3,537.7L1463.8,546.2L1466.3,554.1L1468.8,561.4L1471.3,568.2L1473.8,574.4L1476.3,580L1478.8,585.1L1481.3,589.6L1483.8,593.7L1486.3,597.2L1488.8,600.4L1491.3,603.1L1493.8,605.5L1496.3,607.5L1498.9,609.3L1501.4,610.8L1503.9,612.1L1506.4,613.2L1508.9,614.1L1511.4,614.9L1513.9,615.6L1516.4,616.2L1518.9,616.6L1521.4,617.1L1523.9,617.4L1526.4,617.8L1528.9,618L1531.4,618.3L1533.9,618.5L1536.4,618.7L1538.9,618.9L1541.4,619L1543.9,619.2L1546.4,619.3L1549,619.4L1551.5,619.6L1554,619.7L1556.5,619.8L1559,619.9L1561.5,620L1564,620L1566.5,620.1L1569,620.2L1571.5,620.3" fill="none" stroke="#ff0000" stroke-width="0.7"/>
<path d="M1101.2,618.2h5.5v5.5h-5.5zM1106.2,617.7h5.5v5.5h-5.5zM1111.2,618.4h5.5v5.5h-5.5zM1116.1,618.6h5.5v5.5h-5.5zM1121.1,618h5.5v5.5h-5.5zM1126,617.8h5.5v5.5h-5.5zM1131,617.9h5.5v5.5h-5.5zM1135.9,617.8h5.5v5.5h-5.5zM1140.9,617.9h5.5v5.5h-5.5zM1145.8,618h5.5v5.5h-5.5zM1150.8,618h5.5v5.5h-5.5zM1155.7,617.8h5.5v5.5h-5.5zM1160.7,617.8h5.5v5.5h-5.5zM1165.6,617.3h5.5v5.5h-5.5zM1170.6,617.4h5.5v5.5h-5.5zM1175.5,617.9h5.5v5.5h-5.5zM1180.5,617.2h5.5v5.5h-5.5zM1185.4,617.3h5.5v5.5h-5.5zM1190.4,616.9h5.5v5.5h-5.5zM1195.3,616.6h5.5v5.5h-5.5zM1200.3,616.8h5.5v5.5h-5.5zM1205.2,617.3h5.5v5.5h-5.5zM1210.2,616.3h5.5v5.5h-5.5zM1215.1,616.7h5.5v5.5h-5.5zM1220.1,615.4h5.5v5.5h-5.5zM1225,615.7h5.5v5.5h-5.5zM1230,615h5.5v5.5h-5.5zM1234.9,613.6h5.5v5.5h-5.5zM1239.9,613.8h5.5v5.5h-5.5zM1244.8,612.1h5.5v5.5h-5.5zM1249.8,611h5.5v5.5h-5.5zM1254.7,609.1h5.5v5.5h-5.5zM1259.7,607h5.5v5.5h-5.5zM1264.6,604h5.5v5.5h-5.5zM1269.6,601.2h5.5v5.5h-5.5zM1274.5,597.4h5.5v5.5h-5.5zM1279.5,593.1h5.5v5.5h-5.5zM1284.4,589h5.5v5.5h-5.5zM1289.4,582.8h5.5v5.5h-5.5zM1294.3,577.4h5.5v5.5h-5.5zM1299.3,571.5h5.5v5.5h-5.5zM1304.2,564.4h5.5v5.5h-5.5zM1309.2,556.9h5.5v5.5h-5.5zM1314.1,549.7h5.5v5.5h-5.5zM1319.1,543h5.5v5.5h-5.5zM1324,535.6h5.5v5.5h-5.5zM1329,528.6h5.5v5.5h-5.5zM1333.9,521.7h5.5v5.5h-5.5zM1338.9,515.7h5.5v5.5h-5.5zM1343.8,509.3h5.5v5.5h-5.5zM1348.8,503.9h5.5v5.5h-5.5zM1353.7,497.9h5.5v5.5h-5.5zM1358.7,491.2h5.5v5.5h-5.5zM1363.6,484.4h5.5v5.5h-5.5zM1368.6,477h5.5v5.5h-5.5zM1373.5,468.1h5.5v5.5h-5.5zM1378.5,458.3h5.5v5.5h-5.5zM1383.4,447.2h5.5v5.5h-5.5zM1388.4,435.1h5.5v5.5h-5.5zM1393.3,423h5.5v5.5h-5.5zM1398.3,411.1h5.5v5.5h-5.5zM1403.2,401.3h5.5v5.5h-5.5zM1408.2,394.6h5.5v5.5h-5.5zM1413.1,392.9h5.5v5.5h-5.5zM1418.1,395.2h5.5v5.5h-5.5zM1423,403.8h5.5v5.5h-5.5zM1428,416.8h5.5v5.5h-5.5zM1432.9,434.1h5.5v5.5h-5.5zM1437.9,452.5h5.5v5.5h-5.5zM1442.8,472.6h5.5v5.5h-5.5zM1447.8,493.4h5.5v5.5h-5.5zM1452.7,512.2h5.5v5.5h-5.5zM1457.7,530.5h5.5v5.5h-5.5zM1462.6,547.8h5.5v5.5h-5.5zM1467.6,561.7h5.5v5.5h-5.5zM1472.5,573.4h5.5v5.5h-5.5zM1477.5,584.3h5.5v5.5h-5.5zM1482.4,591.5h5.5v5.5h-5.5zM1487.4,597.5h5.5v5.5h-5.5zM1492.3,602.1h5.5v5.5h-5.5zM1497.3,606.6h5.5v5.5h-5.5zM1502.2,609.1h5.5v5.5h-5.5zM1507.2,610.6h5.5v5.5h-5.5zM1512.1,611.7h5.5v5.5h-5.5zM1517.1,613.4h5.5v5.5h-5.5zM1522,614h5.5v5.5h-5.5zM1527,614.7h5.5v5.5h-5.5zM1531.9,614.4h5.5v5.5h-5.5zM1536.9,615.3h5.5v5.5h-5.5zM1541.8,615.2h5.5v5.5h-5.5zM1546.8,615.5h5.5v5.5h-5.5zM1551.7,615.5h5.5v5.5h-5.5zM1556.7,616h5.5v5.5h-5.5zM1561.6,616.2h5.5v5.5h-5.5zM1566.6,616.1h5.5v5.5h-5.5z" fill="#000"/>
<path d="M1571.5,622.8L1571.5,622.1L1576.5,622L1581.5,622L1586.5,622L1591.5,622L1596.5,621.9L1601.5,621.9L1606.5,621.9L1611.5,621.8L1616.5,621.8L1621.4,621.8L1626.4,621.7L1631.4,621.7L1636.4,621.6L1641.4,621.6L1646.4,621.6L1651.4,621.5L1656.4,621.4L1661.4,621.4L1666.4,621.3L1671.4,621.3L1676.4,621.2L1681.4,621.1L1686.4,621L1691.4,620.9L1696.4,620.8L1701.4,620.7L1706.4,620.6L1711.4,620.4L1716.4,620.3L1721.3,620.1L1726.3,619.8L1731.3,619.5L1736.3,619.1L1741.3,618.6L1746.3,617.9L1751.3,617L1756.3,616L1761.3,614.6L1766.3,612.8L1771.3,610.6L1776.3,607.8L1781.3,604.3L1786.3,600.1L1791.3,595.1L1796.3,589L1801.3,581.9L1806.3,573.6L1811.3,564.2L1816.3,553.6L1821.2,541.8L1826.2,529.1L1831.2,515.4L1836.2,501L1841.2,486.2L1846.2,471.4L1851.2,456.8L1856.2,442.9L1861.2,430.2L1866.2,419.1L1871.2,410L1876.2,403.3L1881.2,399.2L1886.2,398.1L1891.2,399.9L1896.2,404.6L1901.2,411.9L1906.2,421.5L1911.2,433.1L1916.2,446.1L1921.1,460.1L1926.1,474.8L1931.1,489.7L1936.1,504.4L1941.1,518.6L1946.1,532.1L1951.1,544.7L1956.1,556.2L1961.1,566.5L1966.1,575.7L1971.1,583.6L1976.1,590.5L1981.1,596.3L1986.1,601.2L1991.1,605.2L1996.1,608.5L2001.1,611.1L2006.1,613.2L2011.1,614.9L2016.1,616.2L2021,617.3L2026,618.1L2031,618.7L2036,619.2L2041,619.6L2046,619.9L2051,620.1L2056,620.3L2061,620.5L2066,620.6L2066,622.8Z" fill="#00ffff"/>
<path d="M1636.2,622.8L1636.2,622.8L1640.7,622.8L1645.1,622.8L1649.6,622.8L1654,622.8L1658.5,622.7L1662.9,622.7L1667.4,622.7L1671.9,622.6L1676.3,622.5L1680.8,622.4L1685.2,622.3L1689.7,622.2L1694.1,622L1698.6,621.7L1703.1,621.4L1707.5,621L1712,620.5L1716.4,620L1720.9,619.3L1725.3,618.6L1729.8,617.8L1734.3,616.8L1738.7,615.8L1743.2,614.8L1747.6,613.7L1752.1,612.5L1756.5,611.4L1761,610.3L1765.5,609.2L1769.9,608.2L1774.4,607.4L1778.8,606.7L1783.3,606.2L1787.7,605.9L1792.2,605.8L1796.7,605.9L1801.1,606.2L1805.6,606.7L1810,607.4L1814.5,608.2L1818.9,609.2L1823.4,610.3L1827.9,611.4L1832.3,612.5L1836.8,613.7L1841.2,614.8L1845.7,615.8L1850.1,616.8L1854.6,617.8L1859.1,618.6L1863.5,619.3L1868,620L1872.4,620.5L1876.9,621L1881.3,621.4L1885.8,621.7L1890.3,622L1894.7,622.2L1899.2,622.3L1903.6,622.4L1908.1,622.5L1912.5,622.6L1917,622.7L1921.5,622.7L1925.9,622.7L1930.4,622.8L1934.8,622.8L1939.3,622.8L1943.7,622.8L1948.2,622.8L1948.2,622.8Z" fill="#008000"/>
<path d="M1636.2,622.8L1636.2,622.8L1640.7,622.8L1645.1,622.8L1649.6,622.8L1654,622.8L1658.5,622.7L1662.9,622.7L1667.4,622.7L1671.9,622.6L1676.3,622.5L1680.8,622.4L1685.2,622.3L1689.7,622.2L1694.1,622L1698.6,621.7L1703.1,621.4L1707.5,621L1712,620.5L1716.4,620L1720.9,619.3L1725.3,618.6L1729.8,617.8L1734.3,616.8L1738.7,615.8L1743.2,614.8L1747.6,613.7L1752.1,612.5L1756.5,611.4L1761,610.3L1765.5,609.2L1769.9,608.2L1774.4,607.4L1778.8,606.7L1783.3,606.2L1787.7,605.9L1792.2,605.8L1796.7,605.9L1801.1,606.2L1805.6,606.7L1810,607.4L1814.5,608.2L1818.9,609.2L1823.4,610.3L1827.9,611.4L1832.3,612.5L1836.8,613.7L1841.2,614.8L1845.7,615.8L1850.1,616.8L1854.6,617.8L1859.1,618.6L1863.5,619.3L1868,620L1872.4,620.5L1876.9,621L1881.3,621.4L1885.8,621.7L1890.3,622L1894.7,622.2L1899.2,622.3L1903.6,622.4L1908.1,622.5L1912.5,622.6L1917,622.7L1921.5,622.7L1925.9,622.7L1930.4,622.8L1934.8,622.8L1939.3,622.8L1943.7,622.8L1948.2,622.8L1948.2,622.8Z" fill="url(#hatch)"/>
<path d="M1571.5,622.1L1574,622.1L1576.5,622L1579,622L1581.5,622L1584.1,622L1586.6,622L1589.1,622L1591.6,622L1594.1,621.9L1596.6,621.9L1599.1,621.9L1601.6,621.9L1604.1,621.9L1606.6,621.9L1609.2,621.9L1611.7,621.8L1614.2,621.8L1616.7,621.8L1619.2,621.8L1621.7,621.8L1624.2,621.7L1626.7,621.7L1629.2,621.7L1631.7,621.7L1634.3,621.7L1636.8,621.6L1639.3,621.6L1641.8,621.6L1644.3,621.6L1646.8,621.5L1649.3,621.5L1651.8,621.5L1654.3,621.4L1656.8,621.4L1659.4,621.3L1661.9,621.3L1664.4,621.3L1666.9,621.2L1669.4,621.1L1671.9,621.1L1674.4,621L1676.9,620.9L1679.4,620.8L1681.9,620.7L1684.5,620.6L1687,620.5L1689.5,620.3L1692,620.2L1694.5,620L1697,619.8L1699.5,619.6L1702,619.4L1704.5,619.1L1707,618.8L1709.6,618.5L1712.1,618.1L1714.6,617.7L1717.1,617.3L1719.6,616.9L1722.1,616.4L1724.6,615.8L1727.1,615.2L1729.6,614.6L1732.1,613.9L1734.7,613.2L1737.2,612.4L1739.7,611.6L1742.2,610.7L1744.7,609.7L1747.2,608.7L1749.7,607.7L1752.2,606.5L1754.7,605.4L1757.3,604.1L1759.8,602.8L1762.3,601.4L1764.8,599.9L1767.3,598.4L1769.8,596.8L1772.3,595L1774.8,593.2L1777.3,591.3L1779.8,589.2L1782.4,587L1784.9,584.7L1787.4,582.2L1789.9,579.6L1792.4,576.8L1794.9,573.8L1797.4,570.6L1799.9,567.2L1802.4,563.6L1804.9,559.8L1807.5,555.7L1810,551.4L1812.5,546.8L1815,541.9L1817.5,536.9L1820,531.5L1822.5,525.9L1825,520.1L1827.5,514.1L1830,507.8L1832.6,501.4L1835.1,494.8L1837.6,488.1L1840.1,481.3L1842.6,474.5L1845.1,467.6L1847.6,460.7L1850.1,454L1852.6,447.3L1855.1,440.9L1857.7,434.7L1860.2,428.7L1862.7,423.2L1865.2,418L1867.7,413.3L1870.2,409.1L1872.7,405.4L1875.2,402.4L1877.7,400L1880.2,398.3L1882.8,397.3L1885.3,397L1887.8,397.4L1890.3,398.6L1892.8,400.4L1895.3,403L1897.8,406.2L1900.3,410.1L1902.8,414.5L1905.4,419.5L1907.9,425L1910.4,430.9L1912.9,437.2L1915.4,443.9L1917.9,450.8L1920.4,457.9L1922.9,465.2L1925.4,472.6L1927.9,480.1L1930.5,487.6L1933,495.1L1935.5,502.4L1938,509.7L1940.5,516.8L1943,523.8L1945.5,530.5L1948,537L1950.5,543.3L1953,549.2L1955.6,554.9L1958.1,560.3L1960.6,565.5L1963.1,570.3L1965.6,574.8L1968.1,579L1970.6,582.9L1973.1,586.6L1975.6,589.9L1978.1,593L1980.7,595.9L1983.2,598.5L1985.7,600.8L1988.2,603L1990.7,604.9L1993.2,606.7L1995.7,608.3L1998.2,609.7L2000.7,611L2003.2,612.1L2005.8,613.1L2008.3,614L2010.8,614.8L2013.3,615.5L2015.8,616.2L2018.3,616.7L2020.8,617.2L2023.3,617.6L2025.8,618L2028.3,618.4L2030.9,618.7L2033.4,618.9L2035.9,619.2L2038.4,619.4L2040.9,619.5L2043.4,619.7L2045.9,619.9L2048.4,620L2050.9,620.1L2053.4,620.2L2056,620.3L2058.5,620.4L2061,620.5L2063.5,620.6L2066,620.6" fill="none" stroke="#ff0000" stroke-width="0.7"/>
<path d="M1577.2,617.9h5.5v5.5h-5.5zM1582.2,618h5.5v5.5h-5.5zM1587.2,618.6h5.5v5.5h-5.5zM1592.1,618.8h5.5v5.5h-5.5zM1597.1,618.2h5.5v5.5h-5.5zM1602,617.9h5.5v5.5h-5.5zM1607,618.1h5.5v5.5h-5.5zM1611.9,618.5h5.5v5.5h-5.5zM1616.9,618.2h5.5v5.5h-5.5zM1621.8,617.6h5.5v5.5h-5.5zM1626.8,618.4h5.5v5.5h-5.5zM1631.7,617.6h5.5v5.5h-5.5zM1636.7,617.7h5.5v5.5h-5.5zM1641.6,617.7h5.5v5.5h-5.5zM1646.6,617.5h5.5v5.5h-5.5zM1651.5,617.8h5.5v5.5h-5.5zM1656.5,617.6h5.5v5.5h-5.5zM1661.4,617h5.5v5.5h-5.5zM1666.4,617.5h5.5v5.5h-5.5zM1671.3,617.4h5.5v5.5h-5.5zM1676.3,617.5h5.5v5.5h-5.5zM1681.2,617h5.5v5.5h-5.5zM1686.2,616.4h5.5v5.5h-5.5zM1691.1,615.9h5.5v5.5h-5.5zM1696.1,615.7h5.5v5.5h-5.5zM1701,615.3h5.5v5.5h-5.5zM1706,614.7h5.5v5.5h-5.5zM1710.9,614h5.5v5.5h-5.5zM1715.9,613h5.5v5.5h-5.5zM1720.8,612.3h5.5v5.5h-5.5zM1725.8,610.8h5.5v5.5h-5.5zM1730.7,609.8h5.5v5.5h-5.5zM1735.7,608.7h5.5v5.5h-5.5zM1740.6,606.9h5.5v5.5h-5.5zM1745.6,604.6h5.5v5.5h-5.5zM1750.5,602.5h5.5v5.5h-5.5zM1755.5,600.2h5.5v5.5h-5.5zM1760.4,597.4h5.5v5.5h-5.5zM1765.4,594.1h5.5v5.5h-5.5zM1770.3,590.6h5.5v5.5h-5.5zM1775.3,586.7h5.5v5.5h-5.5zM1780.2,583h5.5v5.5h-5.5zM1785.2,577.8h5.5v5.5h-5.5zM1790.1,572.2h5.5v5.5h-5.5zM1795.1,566.3h5.5v5.5h-5.5zM1800,558.9h5.5v5.5h-5.5zM1805,551.7h5.5v5.5h-5.5zM1809.9,542.7h5.5v5.5h-5.5zM1814.9,532.8h5.5v5.5h-5.5zM1819.8,522.2h5.5v5.5h-5.5zM1824.8,510.4h5.5v5.5h-5.5zM1829.7,497.9h5.5v5.5h-5.5zM1834.7,484.9h5.5v5.5h-5.5zM1839.6,471.5h5.5v5.5h-5.5zM1844.6,458h5.5v5.5h-5.5zM1849.5,444.6h5.5v5.5h-5.5zM1854.5,432.5h5.5v5.5h-5.5zM1859.4,420.5h5.5v5.5h-5.5zM1864.4,410.9h5.5v5.5h-5.5zM1869.3,402.7h5.5v5.5h-5.5zM1874.3,397.2h5.5v5.5h-5.5zM1879.2,393.7h5.5v5.5h-5.5zM1884.2,393.5h5.5v5.5h-5.5zM1889.1,396h5.5v5.5h-5.5zM1894.1,401.3h5.5v5.5h-5.5zM1899,408.7h5.5v5.5h-5.5zM1904,418.2h5.5v5.5h-5.5zM1908.9,430.9h5.5v5.5h-5.5zM1913.9,443.3h5.5v5.5h-5.5zM1918.8,457.4h5.5v5.5h-5.5zM1923.8,472.2h5.5v5.5h-5.5zM1928.7,487.2h5.5v5.5h-5.5zM1933.7,500.9h5.5v5.5h-5.5zM1938.6,515.4h5.5v5.5h-5.5zM1943.6,528.5h5.5v5.5h-5.5zM1948.5,541.4h5.5v5.5h-5.5zM1953.5,552.8h5.5v5.5h-5.5zM1958.4,562.5h5.5v5.5h-5.5zM1963.4,571.7h5.5v5.5h-5.5zM1968.3,579.9h5.5v5.5h-5.5zM1973.3,586.7h5.5v5.5h-5.5zM1978.2,592.2h5.5v5.5h-5.5zM1983.2,597.5h5.5v5.5h-5.5zM1988.1,601.5h5.5v5.5h-5.5zM1993.1,604.6h5.5v5.5h-5.5zM1998,606.9h5.5v5.5h-5.5zM2003,609.1h5.5v5.5h-5.5zM2007.9,611h5.5v5.5h-5.5zM2012.9,612h5.5v5.5h-5.5zM2017.8,613.5h5.5v5.5h-5.5zM2022.8,614.4h5.5v5.5h-5.5zM2027.7,614.2h5.5v5.5h-5.5zM2032.7,615.5h5.5v5.5h-5.5zM2037.6,615.6h5.5v5.5h-5.5zM2042.6,615.9h5.5v5.5h-5.5zM2047.5,616.3h5.5v5.5h-5.5zM2052.5,616.5h5.5v5.5h-5.5zM2057.4,616.5h5.5v5.5h-5.5zM2062.4,616.7h5.5v5.5h-5.5z" fill="#000"/>
<path d="M1075.5,907L1075.5,906.5L1078.9,906.5L1082.4,906.5L1085.8,906.5L1089.3,906.5L1092.7,906.5L1096.2,906.4L1099.6,906.4L1103.1,906.4L1106.5,906.4L1109.9,906.4L1113.4,906.4L1116.8,906.4L1120.3,906.4L1123.7,906.3L1127.2,906.3L1130.6,906.3L1134.1,906.3L1137.5,906.3L1140.9,906.3L1144.4,906.2L1147.8,906.2L1151.3,906.2L1154.7,906.2L1158.2,906.2L1161.6,906.2L1165.1,906.1L1168.5,906.1L1171.9,906.1L1175.4,906.1L1178.8,906L1182.3,906L1185.7,906L1189.2,906L1192.6,905.9L1196.1,905.9L1199.5,905.9L1202.9,905.8L1206.4,905.8L1209.8,905.8L1213.3,905.7L1216.7,905.7L1220.2,905.6L1223.6,905.6L1227.1,905.6L1230.5,905.5L1233.9,905.5L1237.4,905.4L1240.8,905.4L1244.3,905.3L1247.7,905.2L1251.2,905.2L1254.6,905.1L1258.1,905L1261.5,905L1264.9,904.9L1268.4,904.8L1271.8,904.7L1275.3,904.6L1278.7,904.5L1282.2,904.4L1285.6,904.3L1289.1,904.2L1292.5,904L1295.9,903.9L1299.4,903.8L1302.8,903.6L1306.3,903.4L1309.7,903.2L1313.2,903L1316.6,902.8L1320.1,902.5L1323.5,902.2L1326.9,901.8L1330.4,901.4L1333.8,900.9L1337.3,900.3L1340.7,899.5L1344.2,898.6L1347.6,897.5L1351.1,896.1L1354.5,894.4L1357.9,892.3L1361.4,889.8L1364.8,886.7L1368.3,882.9L1371.7,878.5L1375.2,873.3L1378.6,867.2L1382.1,860.2L1385.5,852.2L1388.9,843.3L1392.4,833.5L1395.8,822.7L1399.3,811.3L1402.7,799.3L1406.2,786.8L1409.6,774.3L1413.1,761.9L1416.5,750.1L1419.9,739.2L1423.4,729.6L1426.8,721.7L1430.3,716L1433.7,712.7L1437.2,712.1L1440.6,714.1L1444.1,718.6L1447.5,725.4L1450.9,734.2L1454.4,744.5L1457.8,755.9L1461.3,768.1L1464.7,780.6L1468.2,793.1L1471.6,805.4L1475.1,817.1L1478.5,828.2L1481.9,838.5L1485.4,847.9L1488.8,856.3L1492.3,863.8L1495.7,870.4L1499.2,876L1502.6,880.8L1506.1,884.9L1509.5,888.3L1512.9,891.1L1516.4,893.4L1519.8,895.3L1523.3,896.8L1526.7,898.1L1530.2,899.1L1533.6,899.9L1537.1,900.6L1540.5,901.2L1543.9,901.6L1547.4,902L1550.8,902.3L1554.3,902.6L1557.7,902.9L1561.2,903.1L1564.6,903.3L1568.1,903.5L1571.5,903.7L1571.5,907Z" fill="#00ffff"/>
<path d="M1075.5,907L1075.5,906.7L1079.9,906.7L1084.2,906.7L1088.6,906.7L1092.9,906.7L1097.3,906.6L1101.6,906.6L1106,906.6L1110.3,906.6L1114.7,906.6L1119,906.6L1123.4,906.6L1127.7,906.5L1132.1,906.5L1136.4,906.5L1140.8,906.5L1145.1,906.5L1149.5,906.5L1153.8,906.4L1158.2,906.4L1162.5,906.4L1166.9,906.4L1171.2,906.3L1175.6,906.3L1179.9,906.3L1184.3,906.2L1188.6,906.2L1193,906.2L1197.3,906.1L1201.7,906.1L1206,906L1210.4,905.9L1214.7,905.8L1219.1,905.7L1223.4,905.6L1227.8,905.5L1232.1,905.3L1236.5,905L1240.8,904.7L1245.2,904.2L1249.5,903.7L1253.9,903L1258.2,902L1262.6,900.9L1266.9,899.4L1271.3,897.6L1275.6,895.4L1280,892.7L1284.3,889.5L1288.7,885.7L1293,881.3L1297.4,876.2L1301.7,870.4L1306.1,864.1L1310.4,857.1L1314.8,849.6L1319.1,841.8L1323.5,833.6L1327.9,825.4L1332.2,817.3L1336.6,809.5L1340.9,802.3L1345.3,796L1349.6,790.7L1354,786.7L1358.3,784.1L1362.7,783L1367,783.6L1371.4,785.7L1375.7,789.4L1380.1,794.3L1384.4,800.4L1388.8,807.3L1393.1,815L1397.5,823L1401.8,831.2L1406.2,839.4L1410.5,847.3L1414.9,855L1419.2,862.1L1423.6,868.6L1427.9,874.6L1432.3,879.8L1436.6,884.4L1441,888.4L1445.3,891.8L1449.7,894.7L1454,897L1458.4,898.9L1462.7,900.5L1467.1,901.7L1471.4,902.7L1475.8,903.5L1480.1,904.1L1484.5,904.5L1488.8,904.9L1493.2,905.2L1497.5,905.4L1501.9,905.6L1506.2,905.7L1510.6,905.8L1514.9,905.9L1519.3,906L1523.6,906L1528,906.1L1532.3,906.1L1536.7,906.2L1541,906.2L1545.4,906.3L1549.7,906.3L1554.1,906.3L1558.4,906.3L1562.8,906.4L1567.1,906.4L1571.5,906.4L1571.5,907Z" fill="#008000"/>
<path d="M1075.5,907L1075.5,906.7L1079.9,906.7L1084.2,906.7L1088.6,906.7L1092.9,906.7L1097.3,906.6L1101.6,906.6L1106,906.6L1110.3,906.6L1114.7,906.6L1119,906.6L1123.4,906.6L1127.7,906.5L1132.1,906.5L1136.4,906.5L1140.8,906.5L1145.1,906.5L1149.5,906.5L1153.8,906.4L1158.2,906.4L1162.5,906.4L1166.9,906.4L1171.2,906.3L1175.6,906.3L1179.9,906.3L1184.3,906.2L1188.6,906.2L1193,906.2L1197.3,906.1L1201.7,906.1L1206,906L1210.4,905.9L1214.7,905.8L1219.1,905.7L1223.4,905.6L1227.8,905.5L1232.1,905.3L1236.5,905L1240.8,904.7L1245.2,904.2L1249.5,903.7L1253.9,903L1258.2,902L1262.6,900.9L1266.9,899.4L1271.3,897.6L1275.6,895.4L1280,892.7L1284.3,889.5L1288.7,885.7L1293,881.3L1297.4,876.2L1301.7,870.4L1306.1,864.1L1310.4,857.1L1314.8,849.6L1319.1,841.8L1323.5,833.6L1327.9,825.4L1332.2,817.3L1336.6,809.5L1340.9,802.3L1345.3,796L1349.6,790.7L1354,786.7L1358.3,784.1L1362.7,783L1367,783.6L1371.4,785.7L1375.7,789.4L1380.1,794.3L1384.4,800.4L1388.8,807.3L1393.1,815L1397.5,823L1401.8,831.2L1406.2,839.4L1410.5,847.3L1414.9,855L1419.2,862.1L1423.6,868.6L1427.9,874.6L1432.3,879.8L1436.6,884.4L1441,888.4L1445.3,891.8L1449.7,894.7L1454,897L1458.4,898.9L1462.7,900.5L1467.1,901.7L1471.4,902.7L1475.8,903.5L1480.1,904.1L1484.5,904.5L1488.8,904.9L1493.2,905.2L1497.5,905.4L1501.9,905.6L1506.2,905.7L1510.6,905.8L1514.9,905.9L1519.3,906L1523.6,906L1528,906.1L1532.3,906.1L1536.7,906.2L1541,906.2L1545.4,906.3L1549.7,906.3L1554.1,906.3L1558.4,906.3L1562.8,906.4L1567.1,906.4L1571.5,906.4L1571.5,907Z" fill="url(#hatch)"/>
<path d="M1075.5,906.2L1078,906.2L1080.5,906.2L1083,906.2L1085.5,906.1L1088,906.1L1090.5,906.1L1093,906.1L1095.5,906.1L1098,906.1L1100.6,906.1L1103.1,906L1105.6,906L1108.1,906L1110.6,906L1113.1,906L1115.6,906L1118.1,905.9L1120.6,905.9L1123.1,905.9L1125.6,905.9L1128.1,905.9L1130.6,905.8L1133.1,905.8L1135.6,905.8L1138.1,905.8L1140.6,905.8L1143.1,905.7L1145.6,905.7L1148.1,905.7L1150.7,905.7L1153.2,905.6L1155.7,905.6L1158.2,905.6L1160.7,905.6L1163.2,905.5L1165.7,905.5L1168.2,905.5L1170.7,905.4L1173.2,905.4L1175.7,905.4L1178.2,905.3L1180.7,905.3L1183.2,905.2L1185.7,905.2L1188.2,905.2L1190.7,905.1L1193.2,905.1L1195.7,905L1198.2,905L1200.8,904.9L1203.3,904.9L1205.8,904.8L1208.3,904.7L1210.8,904.7L1213.3,904.6L1215.8,904.5L1218.3,904.4L1220.8,904.3L1223.3,904.2L1225.8,904.1L1228.3,904L1230.8,903.8L1233.3,903.7L1235.8,903.5L1238.3,903.3L1240.8,903L1243.3,902.7L1245.8,902.4L1248.3,902.1L1250.9,901.7L1253.4,901.2L1255.9,900.7L1258.4,900L1260.9,899.4L1263.4,898.6L1265.9,897.7L1268.4,896.7L1270.9,895.5L1273.4,894.3L1275.9,892.9L1278.4,891.3L1280.9,889.5L1283.4,887.6L1285.9,885.5L1288.4,883.1L1290.9,880.6L1293.4,877.8L1295.9,874.9L1298.4,871.7L1301,868.2L1303.5,864.6L1306,860.7L1308.5,856.6L1311,852.4L1313.5,847.9L1316,843.3L1318.5,838.6L1321,833.7L1323.5,828.8L1326,823.8L1328.5,818.8L1331,813.8L1333.5,808.8L1336,804L1338.5,799.2L1341,794.6L1343.5,790.2L1346,786L1348.6,782L1351.1,778.3L1353.6,774.9L1356.1,771.7L1358.6,768.8L1361.1,766.2L1363.6,763.9L1366.1,761.7L1368.6,759.7L1371.1,757.9L1373.6,756.2L1376.1,754.4L1378.6,752.7L1381.1,750.9L1383.6,748.9L1386.1,746.7L1388.6,744.3L1391.1,741.6L1393.6,738.6L1396.1,735.3L1398.7,731.6L1401.2,727.7L1403.7,723.6L1406.2,719.2L1408.7,714.7L1411.2,710.1L1413.7,705.6L1416.2,701.3L1418.7,697.2L1421.2,693.6L1423.7,690.6L1426.2,688.3L1428.7,686.9L1431.2,686.5L1433.7,687.2L1436.2,689.1L1438.7,692.1L1441.2,696.4L1443.7,701.8L1446.2,708.2L1448.8,715.5L1451.3,723.7L1453.8,732.4L1456.3,741.7L1458.8,751.3L1461.3,761.1L1463.8,771L1466.3,780.8L1468.8,790.5L1471.3,800L1473.8,809.1L1476.3,817.8L1478.8,826.1L1481.3,833.9L1483.8,841.2L1486.3,848L1488.8,854.2L1491.3,859.9L1493.8,865.1L1496.3,869.8L1498.9,874L1501.4,877.7L1503.9,881L1506.4,883.9L1508.9,886.5L1511.4,888.7L1513.9,890.7L1516.4,892.3L1518.9,893.8L1521.4,895.1L1523.9,896.1L1526.4,897.1L1528.9,897.9L1531.4,898.6L1533.9,899.1L1536.4,899.7L1538.9,900.1L1541.4,900.5L1543.9,900.9L1546.4,901.2L1549,901.5L1551.5,901.7L1554,901.9L1556.5,902.1L1559,902.3L1561.5,902.5L1564,902.7L1566.5,902.8L1569,903L1571.5,903.1" fill="none" stroke="#ff0000" stroke-width="0.7"/>
<path d="M1181.2,900.7h5.5v5.5h-5.5zM1186.2,900.5h5.5v5.5h-5.5zM1191.2,900.1h5.5v5.5h-5.5zM1196.1,899.8h5.5v5.5h-5.5zM1201.1,899.1h5.5v5.5h-5.5zM1206,898.7h5.5v5.5h-5.5zM1211,897.8h5.5v5.5h-5.5zM1215.9,897.9h5.5v5.5h-5.5zM1220.9,896.2h5.5v5.5h-5.5zM1225.8,897.5h5.5v5.5h-5.5zM1230.8,896h5.5v5.5h-5.5zM1235.7,895.2h5.5v5.5h-5.5zM1240.7,895.1h5.5v5.5h-5.5zM1245.6,894.7h5.5v5.5h-5.5zM1250.6,893.8h5.5v5.5h-5.5zM1255.5,892.8h5.5v5.5h-5.5zM1260.5,891.5h5.5v5.5h-5.5zM1265.4,890.9h5.5v5.5h-5.5zM1270.4,888.4h5.5v5.5h-5.5zM1275.3,886.2h5.5v5.5h-5.5zM1280.3,882.4h5.5v5.5h-5.5zM1285.2,878.9h5.5v5.5h-5.5zM1290.2,873.8h5.5v5.5h-5.5zM1295.1,867.7h5.5v5.5h-5.5zM1300.1,861.5h5.5v5.5h-5.5zM1305,853.7h5.5v5.5h-5.5zM1310,845.6h5.5v5.5h-5.5zM1314.9,836.4h5.5v5.5h-5.5zM1319.9,827.4h5.5v5.5h-5.5zM1324.8,817.2h5.5v5.5h-5.5zM1329.8,807.2h5.5v5.5h-5.5zM1334.7,797.7h5.5v5.5h-5.5zM1339.7,787.8h5.5v5.5h-5.5zM1344.6,780.9h5.5v5.5h-5.5zM1349.6,773.5h5.5v5.5h-5.5zM1354.5,766.5h5.5v5.5h-5.5zM1359.5,761.2h5.5v5.5h-5.5zM1364.4,757.1h5.5v5.5h-5.5zM1369.4,753.1h5.5v5.5h-5.5zM1374.3,749.4h5.5v5.5h-5.5zM1379.3,746.6h5.5v5.5h-5.5zM1384.2,742.6h5.5v5.5h-5.5zM1389.2,736.9h5.5v5.5h-5.5zM1394.1,729.9h5.5v5.5h-5.5zM1399.1,722.1h5.5v5.5h-5.5zM1404,712.8h5.5v5.5h-5.5zM1409,702.3h5.5v5.5h-5.5zM1413.9,691.9h5.5v5.5h-5.5zM1418.9,683.6h5.5v5.5h-5.5zM1423.8,677.2h5.5v5.5h-5.5zM1428.8,676.5h5.5v5.5h-5.5zM1433.7,680.5h5.5v5.5h-5.5zM1438.7,689.7h5.5v5.5h-5.5zM1443.6,702.8h5.5v5.5h-5.5zM1448.6,718.9h5.5v5.5h-5.5zM1453.5,737.6h5.5v5.5h-5.5zM1458.5,756.9h5.5v5.5h-5.5zM1463.4,776.2h5.5v5.5h-5.5zM1468.4,795.4h5.5v5.5h-5.5zM1473.3,813.4h5.5v5.5h-5.5zM1478.3,829h5.5v5.5h-5.5zM1483.2,843.4h5.5v5.5h-5.5zM1488.2,855.3h5.5v5.5h-5.5zM1493.1,865.1h5.5v5.5h-5.5zM1498.1,872.7h5.5v5.5h-5.5zM1503,879.8h5.5v5.5h-5.5zM1508,884.5h5.5v5.5h-5.5zM1512.9,888.1h5.5v5.5h-5.5zM1517.9,891.2h5.5v5.5h-5.5zM1522.8,893h5.5v5.5h-5.5zM1527.8,894.2h5.5v5.5h-5.5zM1532.7,896.3h5.5v5.5h-5.5zM1537.7,896.6h5.5v5.5h-5.5zM1542.6,897.5h5.5v5.5h-5.5zM1547.6,897.2h5.5v5.5h-5.5zM1552.5,898.1h5.5v5.5h-5.5zM1557.5,898.5h5.5v5.5h-5.5zM1562.4,899.1h5.5v5.5h-5.5z" fill="#000"/>
<path d="M1571.5,907L1571.5,906.2L1575.6,906.2L1579.7,906.2L1583.9,906.2L1588,906.1L1592.1,906.1L1596.2,906.1L1600.3,906.1L1604.5,906.1L1608.6,906L1612.7,906L1616.8,906L1621,906L1625.1,905.9L1629.2,905.9L1633.3,905.9L1637.4,905.8L1641.6,905.8L1645.7,905.8L1649.8,905.7L1653.9,905.7L1658,905.7L1662.2,905.6L1666.3,905.6L1670.4,905.5L1674.5,905.5L1678.6,905.4L1682.8,905.4L1686.9,905.3L1691,905.3L1695.1,905.2L1699.2,905.2L1703.4,905.1L1707.5,905L1711.6,905L1715.7,904.9L1719.8,904.8L1724,904.7L1728.1,904.6L1732.2,904.5L1736.3,904.4L1740.5,904.3L1744.6,904.2L1748.7,904.1L1752.8,903.9L1756.9,903.8L1761.1,903.7L1765.2,903.5L1769.3,903.3L1773.4,903.1L1777.5,902.9L1781.7,902.7L1785.8,902.4L1789.9,902.1L1794,901.8L1798.1,901.4L1802.3,900.9L1806.4,900.4L1810.5,899.7L1814.6,898.9L1818.8,898L1822.9,896.8L1827,895.3L1831.1,893.4L1835.2,891.2L1839.4,888.4L1843.5,885.1L1847.6,881.1L1851.7,876.3L1855.8,870.6L1860,864L1864.1,856.4L1868.2,847.8L1872.3,838.1L1876.4,827.4L1880.6,815.8L1884.7,803.4L1888.8,790.2L1892.9,776.7L1897,763L1901.2,749.5L1905.3,736.6L1909.4,724.7L1913.5,714.2L1917.7,705.7L1921.8,699.4L1925.9,695.8L1930,695.1L1934.1,697.2L1938.3,702.2L1942.4,709.6L1946.5,719.2L1950.6,730.4L1954.7,742.9L1958.9,756.1L1963,769.8L1967.1,783.4L1971.2,796.8L1975.3,809.6L1979.5,821.6L1983.6,832.8L1987.7,843L1991.8,852.2L1995.9,860.3L2000.1,867.4L2004.2,873.5L2008.3,878.7L2012.4,883.1L2016.5,886.8L2020.7,889.8L2024.8,892.3L2028.9,894.4L2033,896L2037.2,897.4L2041.3,898.5L2045.4,899.4L2049.5,900.1L2053.6,900.7L2057.8,901.2L2061.9,901.6L2066,902L2066,907Z" fill="#00ffff"/>
<path d="M1571.5,907L1571.5,906.8L1575.6,906.8L1579.7,906.7L1583.9,906.7L1588,906.7L1592.1,906.7L1596.2,906.7L1600.3,906.7L1604.5,906.7L1608.6,906.7L1612.7,906.7L1616.8,906.7L1621,906.6L1625.1,906.6L1629.2,906.6L1633.3,906.6L1637.4,906.6L1641.6,906.6L1645.7,906.6L1649.8,906.5L1653.9,906.5L1658,906.5L1662.2,906.5L1666.3,906.5L1670.4,906.4L1674.5,906.4L1678.6,906.4L1682.8,906.4L1686.9,906.3L1691,906.3L1695.1,906.3L1699.2,906.2L1703.4,906.2L1707.5,906.1L1711.6,906L1715.7,905.9L1719.8,905.8L1724,905.7L1728.1,905.5L1732.2,905.3L1736.3,905L1740.5,904.6L1744.6,904.1L1748.7,903.5L1752.8,902.6L1756.9,901.6L1761.1,900.3L1765.2,898.7L1769.3,896.7L1773.4,894.4L1777.5,891.6L1781.7,888.2L1785.8,884.4L1789.9,880L1794,875.1L1798.1,869.6L1802.3,863.7L1806.4,857.4L1810.5,850.8L1814.6,844L1818.8,837.3L1822.9,830.7L1827,824.4L1831.1,818.7L1835.2,813.8L1839.4,809.8L1843.5,807L1847.6,805.4L1851.7,805L1855.8,806.1L1860,808.4L1864.1,811.9L1868.2,816.4L1872.3,821.7L1876.4,827.7L1880.6,834.2L1884.7,840.9L1888.8,847.7L1892.9,854.4L1897,860.9L1901.2,867L1905.3,872.6L1909.4,877.8L1913.5,882.4L1917.7,886.5L1921.8,890.1L1925.9,893.1L1930,895.7L1934.1,897.9L1938.3,899.6L1942.4,901L1946.5,902.2L1950.6,903.1L1954.7,903.8L1958.9,904.4L1963,904.8L1967.1,905.1L1971.2,905.4L1975.3,905.6L1979.5,905.8L1983.6,905.9L1987.7,906L1991.8,906.1L1995.9,906.1L2000.1,906.2L2004.2,906.2L2008.3,906.3L2012.4,906.3L2016.5,906.3L2020.7,906.4L2024.8,906.4L2028.9,906.4L2033,906.5L2037.2,906.5L2041.3,906.5L2045.4,906.5L2049.5,906.5L2053.6,906.6L2057.8,906.6L2061.9,906.6L2066,906.6L2066,907Z" fill="#008000"/>
<path d="M1571.5,907L1571.5,906.8L1575.6,906.8L1579.7,906.7L1583.9,906.7L1588,906.7L1592.1,906.7L1596.2,906.7L1600.3,906.7L1604.5,906.7L1608.6,906.7L1612.7,906.7L1616.8,906.7L1621,906.6L1625.1,906.6L1629.2,906.6L1633.3,906.6L1637.4,906.6L1641.6,906.6L1645.7,906.6L1649.8,906.5L1653.9,906.5L1658,906.5L1662.2,906.5L1666.3,906.5L1670.4,906.4L1674.5,906.4L1678.6,906.4L1682.8,906.4L1686.9,906.3L1691,906.3L1695.1,906.3L1699.2,906.2L1703.4,906.2L1707.5,906.1L1711.6,906L1715.7,905.9L1719.8,905.8L1724,905.7L1728.1,905.5L1732.2,905.3L1736.3,905L1740.5,904.6L1744.6,904.1L1748.7,903.5L1752.8,902.6L1756.9,901.6L1761.1,900.3L1765.2,898.7L1769.3,896.7L1773.4,894.4L1777.5,891.6L1781.7,888.2L1785.8,884.4L1789.9,880L1794,875.1L1798.1,869.6L1802.3,863.7L1806.4,857.4L1810.5,850.8L1814.6,844L1818.8,837.3L1822.9,830.7L1827,824.4L1831.1,818.7L1835.2,813.8L1839.4,809.8L1843.5,807L1847.6,805.4L1851.7,805L1855.8,806.1L1860,808.4L1864.1,811.9L1868.2,816.4L1872.3,821.7L1876.4,827.7L1880.6,834.2L1884.7,840.9L1888.8,847.7L1892.9,854.4L1897,860.9L1901.2,867L1905.3,872.6L1909.4,877.8L1913.5,882.4L1917.7,886.5L1921.8,890.1L1925.9,893.1L1930,895.7L1934.1,897.9L1938.3,899.6L1942.4,901L1946.5,902.2L1950.6,903.1L1954.7,903.8L1958.9,904.4L1963,904.8L1967.1,905.1L1971.2,905.4L1975.3,905.6L1979.5,905.8L1983.6,905.9L1987.7,906L1991.8,906.1L1995.9,906.1L2000.1,906.2L2004.2,906.2L2008.3,906.3L2012.4,906.3L2016.5,906.3L2020.7,906.4L2024.8,906.4L2028.9,906.4L2033,906.5L2037.2,906.5L2041.3,906.5L2045.4,906.5L2049.5,906.5L2053.6,906.6L2057.8,906.6L2061.9,906.6L2066,906.6L2066,907Z" fill="url(#hatch)"/>
<path d="M1571.5,906L1574,906L1576.5,906L1579,905.9L1581.5,905.9L1584.1,905.9L1586.6,905.9L1589.1,905.9L1591.6,905.9L1594.1,905.8L1596.6,905.8L1599.1,905.8L1601.6,905.8L1604.1,905.8L1606.6,905.7L1609.2,905.7L1611.7,905.7L1614.2,905.7L1616.7,905.7L1619.2,905.6L1621.7,905.6L1624.2,905.6L1626.7,905.6L1629.2,905.5L1631.7,905.5L1634.3,905.5L1636.8,905.4L1639.3,905.4L1641.8,905.4L1644.3,905.4L1646.8,905.3L1649.3,905.3L1651.8,905.3L1654.3,905.2L1656.8,905.2L1659.4,905.2L1661.9,905.1L1664.4,905.1L1666.9,905L1669.4,905L1671.9,905L1674.4,904.9L1676.9,904.9L1679.4,904.8L1681.9,904.8L1684.5,904.7L1687,904.7L1689.5,904.6L1692,904.6L1694.5,904.5L1697,904.4L1699.5,904.4L1702,904.3L1704.5,904.2L1707,904.1L1709.6,904.1L1712.1,904L1714.6,903.9L1717.1,903.8L1719.6,903.6L1722.1,903.5L1724.6,903.4L1727.1,903.2L1729.6,903L1732.1,902.8L1734.7,902.6L1737.2,902.3L1739.7,902L1742.2,901.7L1744.7,901.3L1747.2,900.8L1749.7,900.3L1752.2,899.7L1754.7,899.1L1757.3,898.3L1759.8,897.4L1762.3,896.5L1764.8,895.4L1767.3,894.2L1769.8,892.8L1772.3,891.2L1774.8,889.5L1777.3,887.6L1779.8,885.5L1782.4,883.3L1784.9,880.8L1787.4,878.1L1789.9,875.2L1792.4,872L1794.9,868.7L1797.4,865.1L1799.9,861.3L1802.4,857.4L1804.9,853.3L1807.5,849L1810,844.5L1812.5,840L1815,835.3L1817.5,830.6L1820,825.8L1822.5,821.1L1825,816.3L1827.5,811.7L1830,807.1L1832.6,802.6L1835.1,798.3L1837.6,794.1L1840.1,790.1L1842.6,786.3L1845.1,782.8L1847.6,779.4L1850.1,776.2L1852.6,773.2L1855.1,770.4L1857.7,767.8L1860.2,765.2L1862.7,762.7L1865.2,760.2L1867.7,757.7L1870.2,755.1L1872.7,752.4L1875.2,749.6L1877.7,746.6L1880.2,743.4L1882.8,740L1885.3,736.4L1887.8,732.6L1890.3,728.5L1892.8,724.3L1895.3,720L1897.8,715.5L1900.3,711L1902.8,706.5L1905.4,702.2L1907.9,698L1910.4,694.1L1912.9,690.5L1915.4,687.5L1917.9,685L1920.4,683.2L1922.9,682.1L1925.4,681.9L1927.9,682.6L1930.5,684.1L1933,686.6L1935.5,690L1938,694.3L1940.5,699.4L1943,705.2L1945.5,711.7L1948,718.7L1950.5,726.3L1953,734.2L1955.6,742.4L1958.1,750.8L1960.6,759.3L1963.1,767.9L1965.6,776.5L1968.1,784.9L1970.6,793.2L1973.1,801.3L1975.6,809.1L1978.1,816.6L1980.7,823.8L1983.2,830.6L1985.7,837.1L1988.2,843.1L1990.7,848.8L1993.2,854.1L1995.7,859L1998.2,863.5L2000.7,867.6L2003.2,871.4L2005.8,874.8L2008.3,878L2010.8,880.8L2013.3,883.3L2015.8,885.5L2018.3,887.5L2020.8,889.3L2023.3,890.9L2025.8,892.3L2028.3,893.6L2030.9,894.7L2033.4,895.6L2035.9,896.5L2038.4,897.2L2040.9,897.9L2043.4,898.5L2045.9,899L2048.4,899.4L2050.9,899.8L2053.4,900.2L2056,900.5L2058.5,900.8L2061,901.1L2063.5,901.3L2066,901.6" fill="none" stroke="#ff0000" stroke-width="0.7"/>
<path d="M1675.2,900.7h5.5v5.5h-5.5zM1680.2,899.8h5.5v5.5h-5.5zM1685.2,900h5.5v5.5h-5.5zM1690.1,899.1h5.5v5.5h-5.5zM1695.1,899.2h5.5v5.5h-5.5zM1700,898h5.5v5.5h-5.5zM1705,897.7h5.5v5.5h-5.5zM1709.9,896.7h5.5v5.5h-5.5zM1714.9,896.3h5.5v5.5h-5.5zM1719.8,896h5.5v5.5h-5.5zM1724.8,895.6h5.5v5.5h-5.5zM1729.7,894.9h5.5v5.5h-5.5zM1734.7,894.6h5.5v5.5h-5.5zM1739.6,894.3h5.5v5.5h-5.5zM1744.6,893.2h5.5v5.5h-5.5zM1749.5,893.3h5.5v5.5h-5.5zM1754.5,891.5h5.5v5.5h-5.5zM1759.4,889.5h5.5v5.5h-5.5zM1764.4,888.1h5.5v5.5h-5.5zM1769.3,886.2h5.5v5.5h-5.5zM1774.3,882.3h5.5v5.5h-5.5zM1779.2,878.7h5.5v5.5h-5.5zM1784.2,874.1h5.5v5.5h-5.5zM1789.1,868.5h5.5v5.5h-5.5zM1794.1,861.7h5.5v5.5h-5.5zM1799,854.1h5.5v5.5h-5.5zM1804,846.3h5.5v5.5h-5.5zM1808.9,837h5.5v5.5h-5.5zM1813.9,828.6h5.5v5.5h-5.5zM1818.8,818.8h5.5v5.5h-5.5zM1823.8,810.3h5.5v5.5h-5.5zM1828.7,801.4h5.5v5.5h-5.5zM1833.7,792.3h5.5v5.5h-5.5zM1838.6,784.3h5.5v5.5h-5.5zM1843.6,776.8h5.5v5.5h-5.5zM1848.5,771.2h5.5v5.5h-5.5zM1853.5,765.5h5.5v5.5h-5.5zM1858.4,760.8h5.5v5.5h-5.5zM1863.4,755.5h5.5v5.5h-5.5zM1868.3,750.3h5.5v5.5h-5.5zM1873.3,745.1h5.5v5.5h-5.5zM1878.2,738.4h5.5v5.5h-5.5zM1883.2,731.3h5.5v5.5h-5.5zM1888.1,723.7h5.5v5.5h-5.5zM1893.1,715.4h5.5v5.5h-5.5zM1898,706.6h5.5v5.5h-5.5zM1903,697.6h5.5v5.5h-5.5zM1907.9,690.2h5.5v5.5h-5.5zM1912.9,683.2h5.5v5.5h-5.5zM1917.8,679.5h5.5v5.5h-5.5zM1922.8,678.1h5.5v5.5h-5.5zM1927.7,680.7h5.5v5.5h-5.5zM1932.7,686.4h5.5v5.5h-5.5zM1937.6,695.5h5.5v5.5h-5.5zM1942.6,707.2h5.5v5.5h-5.5zM1947.5,721.6h5.5v5.5h-5.5zM1952.5,737.4h5.5v5.5h-5.5zM1957.4,753.8h5.5v5.5h-5.5zM1962.4,771.3h5.5v5.5h-5.5zM1967.3,787.3h5.5v5.5h-5.5zM1972.3,803.5h5.5v5.5h-5.5zM1977.2,818.3h5.5v5.5h-5.5zM1982.2,831.5h5.5v5.5h-5.5zM1987.1,842.9h5.5v5.5h-5.5zM1992.1,853h5.5v5.5h-5.5zM1997,862.5h5.5v5.5h-5.5zM2002,870h5.5v5.5h-5.5zM2006.9,876.2h5.5v5.5h-5.5zM2011.9,880.7h5.5v5.5h-5.5zM2016.8,884.6h5.5v5.5h-5.5zM2021.8,887.7h5.5v5.5h-5.5zM2026.7,890.2h5.5v5.5h-5.5zM2031.7,891.8h5.5v5.5h-5.5zM2036.6,893.7h5.5v5.5h-5.5zM2041.6,894.8h5.5v5.5h-5.5zM2046.5,895.9h5.5v5.5h-5.5zM2051.5,896.8h5.5v5.5h-5.5zM2056.4,897.8h5.5v5.5h-5.5zM2061.4,897.6h5.5v5.5h-5.5z" fill="#000"/>
<path d="M1075.5,1190.3L1075.5,1189.8L1079,1189.7L1082.6,1189.7L1086.1,1189.7L1089.7,1189.7L1093.2,1189.7L1096.8,1189.7L1100.3,1189.7L1103.8,1189.6L1107.4,1189.6L1110.9,1189.6L1114.5,1189.6L1118,1189.6L1121.6,1189.6L1125.1,1189.5L1128.6,1189.5L1132.2,1189.5L1135.7,1189.5L1139.3,1189.5L1142.8,1189.4L1146.4,1189.4L1149.9,1189.4L1153.4,1189.4L1157,1189.3L1160.5,1189.3L1164.1,1189.3L1167.6,1189.3L1171.2,1189.2L1174.7,1189.2L1178.2,1189.2L1181.8,1189.1L1185.3,1189.1L1188.9,1189L1192.4,1189L1196,1189L1199.5,1188.9L1203,1188.9L1206.6,1188.8L1210.1,1188.8L1213.7,1188.7L1217.2,1188.6L1220.8,1188.6L1224.3,1188.5L1227.8,1188.5L1231.4,1188.4L1234.9,1188.3L1238.5,1188.2L1242,1188.1L1245.6,1188L1249.1,1187.9L1252.6,1187.8L1256.2,1187.7L1259.7,1187.6L1263.3,1187.4L1266.8,1187.3L1270.4,1187.1L1273.9,1187L1277.4,1186.8L1281,1186.5L1284.5,1186.3L1288.1,1186L1291.6,1185.6L1295.2,1185.2L1298.7,1184.6L1302.2,1184L1305.8,1183.2L1309.3,1182.2L1312.9,1180.9L1316.4,1179.3L1320,1177.4L1323.5,1174.9L1327,1171.9L1330.6,1168.3L1334.1,1163.9L1337.7,1158.7L1341.2,1152.6L1344.8,1145.4L1348.3,1137.2L1351.8,1127.9L1355.4,1117.6L1358.9,1106.3L1362.5,1094L1366,1081.1L1369.6,1067.5L1373.1,1053.7L1376.6,1040L1380.2,1026.7L1383.7,1014.2L1387.3,1003L1390.8,993.4L1394.4,986L1397.9,981.1L1401.4,978.9L1405,979.6L1408.5,983L1412.1,989.2L1415.6,997.6L1419.2,1008L1422.7,1019.8L1426.2,1032.7L1429.8,1046.3L1433.3,1060.1L1436.9,1073.8L1440.4,1087.1L1444,1099.8L1447.5,1111.6L1451,1122.5L1454.6,1132.3L1458.1,1141.1L1461.7,1148.8L1465.2,1155.5L1468.8,1161.2L1472.3,1166L1475.8,1170.1L1479.4,1173.4L1482.9,1176.1L1486.5,1178.3L1490,1180.1L1493.6,1181.5L1497.1,1182.7L1500.6,1183.6L1504.2,1184.3L1507.7,1184.9L1511.3,1185.4L1514.8,1185.8L1518.4,1186.1L1521.9,1186.4L1525.4,1186.6L1529,1186.9L1532.5,1187L1536.1,1187.2L1539.6,1187.4L1543.2,1187.5L1546.7,1187.6L1550.2,1187.8L1553.8,1187.9L1557.3,1188L1560.9,1188.1L1564.4,1188.2L1568,1188.3L1571.5,1188.3L1571.5,1190.3Z" fill="#00ffff"/>
<path d="M1075.5,1190.3L1075.5,1190L1079.9,1190L1084.2,1190L1088.6,1190L1092.9,1190L1097.3,1189.9L1101.6,1189.9L1106,1189.9L1110.3,1189.9L1114.7,1189.9L1119,1189.9L1123.4,1189.9L1127.7,1189.8L1132.1,1189.8L1136.4,1189.8L1140.8,1189.8L1145.1,1189.7L1149.5,1189.7L1153.8,1189.7L1158.2,1189.7L1162.5,1189.6L1166.9,1189.6L1171.2,1189.5L1175.6,1189.5L1179.9,1189.4L1184.3,1189.3L1188.6,1189.2L1193,1189.1L1197.3,1189L1201.7,1188.8L1206,1188.5L1210.4,1188.2L1214.7,1187.7L1219.1,1187.1L1223.4,1186.4L1227.8,1185.5L1232.1,1184.4L1236.5,1183L1240.8,1181.2L1245.2,1179.1L1249.5,1176.6L1253.9,1173.7L1258.2,1170.3L1262.6,1166.4L1266.9,1162L1271.3,1157.1L1275.6,1151.8L1280,1146.1L1284.3,1140.1L1288.7,1134L1293,1127.8L1297.4,1121.7L1301.7,1115.9L1306.1,1110.6L1310.4,1106L1314.8,1102.2L1319.1,1099.3L1323.5,1097.6L1327.9,1097L1332.2,1097.6L1336.6,1099.5L1340.9,1102.4L1345.3,1106.3L1349.6,1111L1354,1116.3L1358.3,1122.1L1362.7,1128.2L1367,1134.4L1371.4,1140.5L1375.7,1146.5L1380.1,1152.1L1384.4,1157.4L1388.8,1162.3L1393.1,1166.7L1397.5,1170.5L1401.8,1173.9L1406.2,1176.8L1410.5,1179.3L1414.9,1181.4L1419.2,1183.1L1423.6,1184.5L1427.9,1185.6L1432.3,1186.5L1436.6,1187.2L1441,1187.7L1445.3,1188.2L1449.7,1188.5L1454,1188.8L1458.4,1189L1462.7,1189.1L1467.1,1189.2L1471.4,1189.3L1475.8,1189.4L1480.1,1189.5L1484.5,1189.5L1488.8,1189.6L1493.2,1189.6L1497.5,1189.7L1501.9,1189.7L1506.2,1189.7L1510.6,1189.7L1514.9,1189.8L1519.3,1189.8L1523.6,1189.8L1528,1189.8L1532.3,1189.9L1536.7,1189.9L1541,1189.9L1545.4,1189.9L1549.7,1189.9L1554.1,1189.9L1558.4,1189.9L1562.8,1190L1567.1,1190L1571.5,1190L1571.5,1190.3Z" fill="#008000"/>
<path d="M1075.5,1190.3L1075.5,1190L1079.9,1190L1084.2,1190L1088.6,1190L1092.9,1190L1097.3,1189.9L1101.6,1189.9L1106,1189.9L1110.3,1189.9L1114.7,1189.9L1119,1189.9L1123.4,1189.9L1127.7,1189.8L1132.1,1189.8L1136.4,1189.8L1140.8,1189.8L1145.1,1189.7L1149.5,1189.7L1153.8,1189.7L1158.2,1189.7L1162.5,1189.6L1166.9,1189.6L1171.2,1189.5L1175.6,1189.5L1179.9,1189.4L1184.3,1189.3L1188.6,1189.2L1193,1189.1L1197.3,1189L1201.7,1188.8L1206,1188.5L1210.4,1188.2L1214.7,1187.7L1219.1,1187.1L1223.4,1186.4L1227.8,1185.5L1232.1,1184.4L1236.5,1183L1240.8,1181.2L1245.2,1179.1L1249.5,1176.6L1253.9,1173.7L1258.2,1170.3L1262.6,1166.4L1266.9,1162L1271.3,1157.1L1275.6,1151.8L1280,1146.1L1284.3,1140.1L1288.7,1134L1293,1127.8L1297.4,1121.7L1301.7,1115.9L1306.1,1110.6L1310.4,1106L1314.8,1102.2L1319.1,1099.3L1323.5,1097.6L1327.9,1097L1332.2,1097.6L1336.6,1099.5L1340.9,1102.4L1345.3,1106.3L1349.6,1111L1354,1116.3L1358.3,1122.1L1362.7,1128.2L1367,1134.4L1371.4,1140.5L1375.7,1146.5L1380.1,1152.1L1384.4,1157.4L1388.8,1162.3L1393.1,1166.7L1397.5,1170.5L1401.8,1173.9L1406.2,1176.8L1410.5,1179.3L1414.9,1181.4L1419.2,1183.1L1423.6,1184.5L1427.9,1185.6L1432.3,1186.5L1436.6,1187.2L1441,1187.7L1445.3,1188.2L1449.7,1188.5L1454,1188.8L1458.4,1189L1462.7,1189.1L1467.1,1189.2L1471.4,1189.3L1475.8,1189.4L1480.1,1189.5L1484.5,1189.5L1488.8,1189.6L1493.2,1189.6L1497.5,1189.7L1501.9,1189.7L1506.2,1189.7L1510.6,1189.7L1514.9,1189.8L1519.3,1189.8L1523.6,1189.8L1528,1189.8L1532.3,1189.9L1536.7,1189.9L1541,1189.9L1545.4,1189.9L1549.7,1189.9L1554.1,1189.9L1558.4,1189.9L1562.8,1190L1567.1,1190L1571.5,1190L1571.5,1190.3Z" fill="url(#hatch)"/>
<path d="M1075.5,1189.5L1078,1189.4L1080.5,1189.4L1083,1189.4L1085.5,1189.4L1088,1189.4L1090.5,1189.4L1093,1189.3L1095.5,1189.3L1098,1189.3L1100.6,1189.3L1103.1,1189.3L1105.6,1189.3L1108.1,1189.2L1110.6,1189.2L1113.1,1189.2L1115.6,1189.2L1118.1,1189.2L1120.6,1189.1L1123.1,1189.1L1125.6,1189.1L1128.1,1189.1L1130.6,1189L1133.1,1189L1135.6,1189L1138.1,1189L1140.6,1188.9L1143.1,1188.9L1145.6,1188.9L1148.1,1188.8L1150.7,1188.8L1153.2,1188.8L1155.7,1188.7L1158.2,1188.7L1160.7,1188.7L1163.2,1188.6L1165.7,1188.6L1168.2,1188.5L1170.7,1188.5L1173.2,1188.4L1175.7,1188.4L1178.2,1188.3L1180.7,1188.2L1183.2,1188.2L1185.7,1188.1L1188.2,1188L1190.7,1187.9L1193.2,1187.8L1195.7,1187.7L1198.2,1187.5L1200.8,1187.4L1203.3,1187.2L1205.8,1187L1208.3,1186.8L1210.8,1186.6L1213.3,1186.3L1215.8,1186L1218.3,1185.6L1220.8,1185.2L1223.3,1184.7L1225.8,1184.2L1228.3,1183.5L1230.8,1182.8L1233.3,1182.1L1235.8,1181.2L1238.3,1180.2L1240.8,1179.1L1243.3,1177.9L1245.8,1176.5L1248.3,1175L1250.9,1173.4L1253.4,1171.6L1255.9,1169.6L1258.4,1167.5L1260.9,1165.2L1263.4,1162.7L1265.9,1160.1L1268.4,1157.3L1270.9,1154.4L1273.4,1151.2L1275.9,1148L1278.4,1144.6L1280.9,1141.1L1283.4,1137.5L1285.9,1133.7L1288.4,1130L1290.9,1126.2L1293.4,1122.3L1295.9,1118.5L1298.4,1114.7L1301,1110.9L1303.5,1107.2L1306,1103.6L1308.5,1100.1L1311,1096.8L1313.5,1093.6L1316,1090.5L1318.5,1087.6L1321,1084.8L1323.5,1082.2L1326,1079.7L1328.5,1077.2L1331,1074.9L1333.5,1072.5L1336,1070.1L1338.5,1067.7L1341,1065.1L1343.5,1062.3L1346,1059.3L1348.6,1056.1L1351.1,1052.5L1353.6,1048.6L1356.1,1044.3L1358.6,1039.7L1361.1,1034.6L1363.6,1029.3L1366.1,1023.6L1368.6,1017.6L1371.1,1011.4L1373.6,1005.1L1376.1,998.8L1378.6,992.5L1381.1,986.5L1383.6,980.8L1386.1,975.5L1388.6,970.9L1391.1,967.1L1393.6,964.2L1396.1,962.3L1398.7,961.6L1401.2,962.1L1403.7,963.9L1406.2,966.9L1408.7,971.2L1411.2,976.7L1413.7,983.3L1416.2,990.8L1418.7,999.1L1421.2,1008.1L1423.7,1017.6L1426.2,1027.5L1428.7,1037.6L1431.2,1047.9L1433.7,1058.1L1436.2,1068.2L1438.7,1078L1441.2,1087.6L1443.7,1096.8L1446.2,1105.5L1448.8,1113.7L1451.3,1121.4L1453.8,1128.6L1456.3,1135.2L1458.8,1141.3L1461.3,1146.8L1463.8,1151.8L1466.3,1156.3L1468.8,1160.3L1471.3,1163.8L1473.8,1166.9L1476.3,1169.7L1478.8,1172.1L1481.3,1174.1L1483.8,1175.9L1486.3,1177.5L1488.8,1178.8L1491.3,1180L1493.8,1180.9L1496.3,1181.8L1498.9,1182.5L1501.4,1183.1L1503.9,1183.7L1506.4,1184.1L1508.9,1184.5L1511.4,1184.8L1513.9,1185.2L1516.4,1185.4L1518.9,1185.7L1521.4,1185.9L1523.9,1186.1L1526.4,1186.2L1528.9,1186.4L1531.4,1186.5L1533.9,1186.7L1536.4,1186.8L1538.9,1186.9L1541.4,1187L1543.9,1187.1L1546.4,1187.2L1549,1187.3L1551.5,1187.4L1554,1187.5L1556.5,1187.6L1559,1187.7L1561.5,1187.7L1564,1187.8L1566.5,1187.9L1569,1188L1571.5,1188" fill="none" stroke="#ff0000" stroke-width="0.7"/>
<path d="M1087.2,1186.2h5.5v5.5h-5.5zM1092.2,1185.7h5.5v5.5h-5.5zM1097.2,1185.3h5.5v5.5h-5.5zM1102.1,1185.6h5.5v5.5h-5.5zM1107.1,1185.4h5.5v5.5h-5.5zM1112,1185.9h5.5v5.5h-5.5zM1117,1185.5h5.5v5.5h-5.5zM1121.9,1185.5h5.5v5.5h-5.5zM1126.9,1185h5.5v5.5h-5.5zM1131.8,1185.2h5.5v5.5h-5.5zM1136.8,1185.2h5.5v5.5h-5.5zM1141.7,1185.4h5.5v5.5h-5.5zM1146.7,1185.3h5.5v5.5h-5.5zM1151.6,1185h5.5v5.5h-5.5zM1156.6,1184.5h5.5v5.5h-5.5zM1161.5,1185.4h5.5v5.5h-5.5zM1166.5,1185.6h5.5v5.5h-5.5zM1171.4,1184h5.5v5.5h-5.5zM1176.4,1184h5.5v5.5h-5.5zM1181.3,1184.2h5.5v5.5h-5.5zM1186.3,1184.1h5.5v5.5h-5.5zM1191.2,1184.1h5.5v5.5h-5.5zM1196.2,1183.9h5.5v5.5h-5.5zM1201.1,1183.8h5.5v5.5h-5.5zM1206.1,1182.8h5.5v5.5h-5.5zM1211,1182.5h5.5v5.5h-5.5zM1216,1182.4h5.5v5.5h-5.5zM1220.9,1181h5.5v5.5h-5.5zM1225.9,1179.9h5.5v5.5h-5.5zM1230.8,1178.4h5.5v5.5h-5.5zM1235.8,1175.8h5.5v5.5h-5.5zM1240.7,1173.7h5.5v5.5h-5.5zM1245.7,1172.2h5.5v5.5h-5.5zM1250.6,1167.7h5.5v5.5h-5.5zM1255.6,1163.5h5.5v5.5h-5.5zM1260.5,1158.7h5.5v5.5h-5.5zM1265.5,1153.5h5.5v5.5h-5.5zM1270.4,1148.4h5.5v5.5h-5.5zM1275.4,1141h5.5v5.5h-5.5zM1280.3,1134.2h5.5v5.5h-5.5zM1285.3,1126.4h5.5v5.5h-5.5zM1290.2,1119.2h5.5v5.5h-5.5zM1295.2,1112.2h5.5v5.5h-5.5zM1300.1,1103.8h5.5v5.5h-5.5zM1305.1,1097.7h5.5v5.5h-5.5zM1310,1090.4h5.5v5.5h-5.5zM1315,1084.6h5.5v5.5h-5.5zM1319.9,1079.5h5.5v5.5h-5.5zM1324.9,1075.1h5.5v5.5h-5.5zM1329.8,1069.9h5.5v5.5h-5.5zM1334.8,1065.2h5.5v5.5h-5.5zM1339.7,1059.9h5.5v5.5h-5.5zM1344.7,1053.9h5.5v5.5h-5.5zM1349.6,1046.2h5.5v5.5h-5.5zM1354.6,1038.2h5.5v5.5h-5.5zM1359.5,1028h5.5v5.5h-5.5zM1364.5,1017.5h5.5v5.5h-5.5zM1369.4,1005.2h5.5v5.5h-5.5zM1374.4,992.2h5.5v5.5h-5.5zM1379.3,980.2h5.5v5.5h-5.5zM1384.3,969.9h5.5v5.5h-5.5zM1389.2,962.4h5.5v5.5h-5.5zM1394.2,958.6h5.5v5.5h-5.5zM1399.1,958.1h5.5v5.5h-5.5zM1404.1,964.4h5.5v5.5h-5.5zM1409,974.5h5.5v5.5h-5.5zM1414,988.2h5.5v5.5h-5.5zM1418.9,1006h5.5v5.5h-5.5zM1423.9,1025.5h5.5v5.5h-5.5zM1428.8,1045.2h5.5v5.5h-5.5zM1433.8,1065.6h5.5v5.5h-5.5zM1438.7,1084.2h5.5v5.5h-5.5zM1443.7,1102.3h5.5v5.5h-5.5zM1448.6,1118.2h5.5v5.5h-5.5zM1453.6,1130.8h5.5v5.5h-5.5zM1458.5,1142.6h5.5v5.5h-5.5zM1463.5,1152.3h5.5v5.5h-5.5zM1468.4,1159.9h5.5v5.5h-5.5zM1473.4,1166.1h5.5v5.5h-5.5zM1478.3,1170.4h5.5v5.5h-5.5zM1483.3,1173.9h5.5v5.5h-5.5zM1488.2,1175.8h5.5v5.5h-5.5zM1493.2,1177.5h5.5v5.5h-5.5zM1498.1,1179.4h5.5v5.5h-5.5zM1503.1,1180.4h5.5v5.5h-5.5zM1508,1180.9h5.5v5.5h-5.5zM1513,1181.6h5.5v5.5h-5.5zM1517.9,1181.9h5.5v5.5h-5.5zM1522.9,1182.3h5.5v5.5h-5.5zM1527.8,1182.6h5.5v5.5h-5.5zM1532.8,1182.8h5.5v5.5h-5.5zM1537.7,1183.6h5.5v5.5h-5.5zM1542.7,1183.2h5.5v5.5h-5.5zM1547.6,1184.3h5.5v5.5h-5.5zM1552.6,1183.8h5.5v5.5h-5.5zM1557.5,1184h5.5v5.5h-5.5zM1562.5,1184h5.5v5.5h-5.5z" fill="#000"/>
<path d="M1571.5,1190.3L1571.5,1189.8L1575.1,1189.8L1578.8,1189.8L1582.4,1189.7L1586,1189.7L1589.7,1189.7L1593.3,1189.7L1597,1189.7L1600.6,1189.7L1604.2,1189.7L1607.9,1189.6L1611.5,1189.6L1615.1,1189.6L1618.8,1189.6L1622.4,1189.6L1626,1189.6L1629.7,1189.5L1633.3,1189.5L1636.9,1189.5L1640.6,1189.5L1644.2,1189.5L1647.9,1189.4L1651.5,1189.4L1655.1,1189.4L1658.8,1189.4L1662.4,1189.3L1666,1189.3L1669.7,1189.3L1673.3,1189.2L1676.9,1189.2L1680.6,1189.2L1684.2,1189.1L1687.9,1189.1L1691.5,1189L1695.1,1189L1698.8,1189L1702.4,1188.9L1706,1188.9L1709.7,1188.8L1713.3,1188.7L1716.9,1188.7L1720.6,1188.6L1724.2,1188.6L1727.8,1188.5L1731.5,1188.4L1735.1,1188.3L1738.8,1188.2L1742.4,1188.1L1746,1188.1L1749.7,1187.9L1753.3,1187.8L1756.9,1187.7L1760.6,1187.6L1764.2,1187.4L1767.8,1187.3L1771.5,1187.1L1775.1,1186.9L1778.8,1186.6L1782.4,1186.4L1786,1186L1789.7,1185.6L1793.3,1185.2L1796.9,1184.6L1800.6,1183.8L1804.2,1182.9L1807.8,1181.8L1811.5,1180.3L1815.1,1178.6L1818.8,1176.4L1822.4,1173.7L1826,1170.4L1829.7,1166.4L1833.3,1161.7L1836.9,1156.2L1840.6,1149.7L1844.2,1142.3L1847.8,1133.9L1851.5,1124.6L1855.1,1114.3L1858.7,1103.3L1862.4,1091.6L1866,1079.3L1869.7,1066.9L1873.3,1054.4L1876.9,1042.4L1880.6,1031L1884.2,1020.8L1887.8,1012.1L1891.5,1005.3L1895.1,1000.7L1898.7,998.6L1902.4,999.1L1906,1002.1L1909.7,1007.5L1913.3,1015.1L1916.9,1024.4L1920.6,1035L1924.2,1046.7L1927.8,1058.9L1931.5,1071.4L1935.1,1083.8L1938.7,1095.9L1942.4,1107.4L1946,1118.2L1949.6,1128.1L1953.3,1137.1L1956.9,1145.1L1960.6,1152.2L1964.2,1158.3L1967.8,1163.5L1971.5,1167.9L1975.1,1171.6L1978.7,1174.7L1982.4,1177.2L1986,1179.3L1989.6,1180.9L1993.3,1182.2L1996.9,1183.3L2000.6,1184.1L2004.2,1184.8L2007.8,1185.4L2011.5,1185.8L2015.1,1186.2L2018.7,1186.5L2022.4,1186.7L2026,1187L2029.6,1187.2L2033.3,1187.3L2036.9,1187.5L2040.5,1187.6L2044.2,1187.8L2047.8,1187.9L2051.5,1188L2055.1,1188.1L2058.7,1188.2L2062.4,1188.3L2066,1188.4L2066,1190.3Z" fill="#00ffff"/>
<path d="M1571.5,1190.3L1571.5,1190L1576.1,1190L1580.7,1190L1585.2,1190L1589.8,1190L1594.4,1190L1599,1189.9L1603.6,1189.9L1608.1,1189.9L1612.7,1189.9L1617.3,1189.9L1621.9,1189.9L1626.4,1189.8L1631,1189.8L1635.6,1189.8L1640.2,1189.8L1644.8,1189.8L1649.3,1189.7L1653.9,1189.7L1658.5,1189.7L1663.1,1189.6L1667.7,1189.6L1672.2,1189.5L1676.8,1189.5L1681.4,1189.4L1686,1189.3L1690.5,1189.2L1695.1,1189.1L1699.7,1188.9L1704.3,1188.7L1708.9,1188.4L1713.4,1188L1718,1187.6L1722.6,1187L1727.2,1186.2L1731.8,1185.2L1736.3,1184L1740.9,1182.5L1745.5,1180.7L1750.1,1178.5L1754.6,1175.9L1759.2,1172.8L1763.8,1169.3L1768.4,1165.3L1773,1160.8L1777.5,1155.9L1782.1,1150.6L1786.7,1145L1791.3,1139.1L1795.9,1133.1L1800.4,1127.2L1805,1121.4L1809.6,1116.1L1814.2,1111.2L1818.8,1107.1L1823.3,1103.8L1827.9,1101.6L1832.5,1100.4L1837.1,1100.5L1841.6,1101.6L1846.2,1103.9L1850.8,1107.2L1855.4,1111.4L1860,1116.2L1864.5,1121.6L1869.1,1127.4L1873.7,1133.3L1878.3,1139.3L1882.9,1145.1L1887.4,1150.8L1892,1156.1L1896.6,1161L1901.2,1165.4L1905.7,1169.4L1910.3,1172.9L1914.9,1176L1919.5,1178.5L1924.1,1180.7L1928.6,1182.6L1933.2,1184L1937.8,1185.3L1942.4,1186.2L1947,1187L1951.5,1187.6L1956.1,1188.1L1960.7,1188.4L1965.3,1188.7L1969.8,1188.9L1974.4,1189.1L1979,1189.2L1983.6,1189.3L1988.2,1189.4L1992.7,1189.5L1997.3,1189.5L2001.9,1189.6L2006.5,1189.6L2011.1,1189.7L2015.6,1189.7L2020.2,1189.7L2024.8,1189.8L2029.4,1189.8L2033.9,1189.8L2038.5,1189.8L2043.1,1189.8L2047.7,1189.9L2052.3,1189.9L2056.8,1189.9L2061.4,1189.9L2066,1189.9L2066,1190.3Z" fill="#008000"/>
<path d="M1571.5,1190.3L1571.5,1190L1576.1,1190L1580.7,1190L1585.2,1190L1589.8,1190L1594.4,1190L1599,1189.9L1603.6,1189.9L1608.1,1189.9L1612.7,1189.9L1617.3,1189.9L1621.9,1189.9L1626.4,1189.8L1631,1189.8L1635.6,1189.8L1640.2,1189.8L1644.8,1189.8L1649.3,1189.7L1653.9,1189.7L1658.5,1189.7L1663.1,1189.6L1667.7,1189.6L1672.2,1189.5L1676.8,1189.5L1681.4,1189.4L1686,1189.3L1690.5,1189.2L1695.1,1189.1L1699.7,1188.9L1704.3,1188.7L1708.9,1188.4L1713.4,1188L1718,1187.6L1722.6,1187L1727.2,1186.2L1731.8,1185.2L1736.3,1184L1740.9,1182.5L1745.5,1180.7L1750.1,1178.5L1754.6,1175.9L1759.2,1172.8L1763.8,1169.3L1768.4,1165.3L1773,1160.8L1777.5,1155.9L1782.1,1150.6L1786.7,1145L1791.3,1139.1L1795.9,1133.1L1800.4,1127.2L1805,1121.4L1809.6,1116.1L1814.2,1111.2L1818.8,1107.1L1823.3,1103.8L1827.9,1101.6L1832.5,1100.4L1837.1,1100.5L1841.6,1101.6L1846.2,1103.9L1850.8,1107.2L1855.4,1111.4L1860,1116.2L1864.5,1121.6L1869.1,1127.4L1873.7,1133.3L1878.3,1139.3L1882.9,1145.1L1887.4,1150.8L1892,1156.1L1896.6,1161L1901.2,1165.4L1905.7,1169.4L1910.3,1172.9L1914.9,1176L1919.5,1178.5L1924.1,1180.7L1928.6,1182.6L1933.2,1184L1937.8,1185.3L1942.4,1186.2L1947,1187L1951.5,1187.6L1956.1,1188.1L1960.7,1188.4L1965.3,1188.7L1969.8,1188.9L1974.4,1189.1L1979,1189.2L1983.6,1189.3L1988.2,1189.4L1992.7,1189.5L1997.3,1189.5L2001.9,1189.6L2006.5,1189.6L2011.1,1189.7L2015.6,1189.7L2020.2,1189.7L2024.8,1189.8L2029.4,1189.8L2033.9,1189.8L2038.5,1189.8L2043.1,1189.8L2047.7,1189.9L2052.3,1189.9L2056.8,1189.9L2061.4,1189.9L2066,1189.9L2066,1190.3Z" fill="url(#hatch)"/>
<path d="M1571.5,1189.5L1574,1189.5L1576.5,1189.5L1579,1189.4L1581.5,1189.4L1584.1,1189.4L1586.6,1189.4L1589.1,1189.4L1591.6,1189.4L1594.1,1189.4L1596.6,1189.3L1599.1,1189.3L1601.6,1189.3L1604.1,1189.3L1606.6,1189.3L1609.2,1189.2L1611.7,1189.2L1614.2,1189.2L1616.7,1189.2L1619.2,1189.2L1621.7,1189.1L1624.2,1189.1L1626.7,1189.1L1629.2,1189.1L1631.7,1189L1634.3,1189L1636.8,1189L1639.3,1189L1641.8,1188.9L1644.3,1188.9L1646.8,1188.9L1649.3,1188.8L1651.8,1188.8L1654.3,1188.8L1656.8,1188.7L1659.4,1188.7L1661.9,1188.7L1664.4,1188.6L1666.9,1188.6L1669.4,1188.5L1671.9,1188.5L1674.4,1188.4L1676.9,1188.4L1679.4,1188.3L1681.9,1188.3L1684.5,1188.2L1687,1188.1L1689.5,1188L1692,1187.9L1694.5,1187.8L1697,1187.7L1699.5,1187.6L1702,1187.4L1704.5,1187.3L1707,1187.1L1709.6,1186.9L1712.1,1186.6L1714.6,1186.4L1717.1,1186.1L1719.6,1185.7L1722.1,1185.3L1724.6,1184.9L1727.1,1184.4L1729.6,1183.8L1732.1,1183.2L1734.7,1182.5L1737.2,1181.7L1739.7,1180.8L1742.2,1179.9L1744.7,1178.8L1747.2,1177.6L1749.7,1176.3L1752.2,1174.9L1754.7,1173.3L1757.3,1171.6L1759.8,1169.7L1762.3,1167.7L1764.8,1165.6L1767.3,1163.3L1769.8,1160.8L1772.3,1158.2L1774.8,1155.5L1777.3,1152.6L1779.8,1149.5L1782.4,1146.4L1784.9,1143.1L1787.4,1139.7L1789.9,1136.2L1792.4,1132.6L1794.9,1129L1797.4,1125.3L1799.9,1121.5L1802.4,1117.7L1804.9,1113.9L1807.5,1110.1L1810,1106.3L1812.5,1102.5L1815,1098.8L1817.5,1095L1820,1091.3L1822.5,1087.6L1825,1083.9L1827.5,1080.2L1830,1076.6L1832.6,1072.9L1835.1,1069.1L1837.6,1065.3L1840.1,1061.4L1842.6,1057.4L1845.1,1053.3L1847.6,1049L1850.1,1044.5L1852.6,1039.9L1855.1,1035.1L1857.7,1030.1L1860.2,1024.9L1862.7,1019.7L1865.2,1014.3L1867.7,1008.9L1870.2,1003.4L1872.7,998.1L1875.2,993L1877.7,988L1880.2,983.5L1882.8,979.4L1885.3,975.9L1887.8,973.1L1890.3,971.1L1892.8,970L1895.3,969.9L1897.8,970.8L1900.3,972.9L1902.8,976L1905.4,980.2L1907.9,985.4L1910.4,991.5L1912.9,998.5L1915.4,1006.2L1917.9,1014.5L1920.4,1023.3L1922.9,1032.4L1925.4,1041.8L1927.9,1051.3L1930.5,1060.8L1933,1070.2L1935.5,1079.4L1938,1088.4L1940.5,1097.1L1943,1105.3L1945.5,1113.2L1948,1120.6L1950.5,1127.5L1953,1134L1955.6,1139.9L1958.1,1145.4L1960.6,1150.3L1963.1,1154.8L1965.6,1158.8L1968.1,1162.4L1970.6,1165.6L1973.1,1168.5L1975.6,1171L1978.1,1173.2L1980.7,1175.1L1983.2,1176.7L1985.7,1178.2L1988.2,1179.4L1990.7,1180.5L1993.2,1181.4L1995.7,1182.2L1998.2,1182.9L2000.7,1183.4L2003.2,1183.9L2005.8,1184.4L2008.3,1184.8L2010.8,1185.1L2013.3,1185.4L2015.8,1185.6L2018.3,1185.9L2020.8,1186.1L2023.3,1186.2L2025.8,1186.4L2028.3,1186.6L2030.9,1186.7L2033.4,1186.8L2035.9,1187L2038.4,1187.1L2040.9,1187.2L2043.4,1187.3L2045.9,1187.4L2048.4,1187.5L2050.9,1187.5L2053.4,1187.6L2056,1187.7L2058.5,1187.8L2061,1187.8L2063.5,1187.9L2066,1188" fill="none" stroke="#ff0000" stroke-width="0.7"/>
<path d="M1572.2,1185.5h5.5v5.5h-5.5zM1577.2,1185.3h5.5v5.5h-5.5zM1582.2,1185.8h5.5v5.5h-5.5zM1587.1,1185.5h5.5v5.5h-5.5zM1592.1,1186h5.5v5.5h-5.5zM1597,1185.5h5.5v5.5h-5.5zM1602,1185.9h5.5v5.5h-5.5zM1606.9,1185.5h5.5v5.5h-5.5zM1611.9,1185.5h5.5v5.5h-5.5zM1616.8,1185.2h5.5v5.5h-5.5zM1621.8,1185.5h5.5v5.5h-5.5zM1626.7,1185.6h5.5v5.5h-5.5zM1631.7,1185.5h5.5v5.5h-5.5zM1636.6,1185.7h5.5v5.5h-5.5zM1641.6,1184.7h5.5v5.5h-5.5zM1646.5,1185.6h5.5v5.5h-5.5zM1651.5,1185h5.5v5.5h-5.5zM1656.4,1184.7h5.5v5.5h-5.5zM1661.4,1184.9h5.5v5.5h-5.5zM1666.3,1185.2h5.5v5.5h-5.5zM1671.3,1184.6h5.5v5.5h-5.5zM1676.2,1184.1h5.5v5.5h-5.5zM1681.2,1184h5.5v5.5h-5.5zM1686.1,1184.7h5.5v5.5h-5.5zM1691.1,1184h5.5v5.5h-5.5zM1696,1183.6h5.5v5.5h-5.5zM1701,1182.8h5.5v5.5h-5.5zM1705.9,1183.2h5.5v5.5h-5.5zM1710.9,1182.6h5.5v5.5h-5.5zM1715.8,1181.6h5.5v5.5h-5.5zM1720.8,1181.7h5.5v5.5h-5.5zM1725.7,1180.5h5.5v5.5h-5.5zM1730.7,1179.7h5.5v5.5h-5.5zM1735.6,1177.7h5.5v5.5h-5.5zM1740.6,1175.9h5.5v5.5h-5.5zM1745.5,1173.5h5.5v5.5h-5.5zM1750.5,1170.3h5.5v5.5h-5.5zM1755.4,1167h5.5v5.5h-5.5zM1760.4,1163.1h5.5v5.5h-5.5zM1765.3,1158.9h5.5v5.5h-5.5zM1770.3,1153.9h5.5v5.5h-5.5zM1775.2,1148.5h5.5v5.5h-5.5zM1780.2,1141.8h5.5v5.5h-5.5zM1785.1,1135.1h5.5v5.5h-5.5zM1790.1,1128.4h5.5v5.5h-5.5zM1795,1121.3h5.5v5.5h-5.5zM1800,1113.9h5.5v5.5h-5.5zM1804.9,1105.9h5.5v5.5h-5.5zM1809.9,1098.2h5.5v5.5h-5.5zM1814.8,1090.9h5.5v5.5h-5.5zM1819.8,1084.2h5.5v5.5h-5.5zM1824.7,1076.8h5.5v5.5h-5.5zM1829.7,1069.6h5.5v5.5h-5.5zM1834.6,1061.4h5.5v5.5h-5.5zM1839.6,1054h5.5v5.5h-5.5zM1844.5,1046.2h5.5v5.5h-5.5zM1849.5,1036.7h5.5v5.5h-5.5zM1854.4,1027h5.5v5.5h-5.5zM1859.4,1016.5h5.5v5.5h-5.5zM1864.3,1005.2h5.5v5.5h-5.5zM1869.3,993.8h5.5v5.5h-5.5zM1874.2,982.5h5.5v5.5h-5.5zM1879.2,971.7h5.5v5.5h-5.5zM1884.1,963.3h5.5v5.5h-5.5zM1889.1,960h5.5v5.5h-5.5zM1894,960.2h5.5v5.5h-5.5zM1899,964.7h5.5v5.5h-5.5zM1903.9,975.1h5.5v5.5h-5.5zM1908.9,989h5.5v5.5h-5.5zM1913.8,1004.7h5.5v5.5h-5.5zM1918.8,1022.3h5.5v5.5h-5.5zM1923.7,1041.2h5.5v5.5h-5.5zM1928.7,1060.2h5.5v5.5h-5.5zM1933.6,1079h5.5v5.5h-5.5zM1938.6,1095.9h5.5v5.5h-5.5zM1943.5,1111.8h5.5v5.5h-5.5zM1948.5,1125.8h5.5v5.5h-5.5zM1953.4,1137.4h5.5v5.5h-5.5zM1958.4,1147.9h5.5v5.5h-5.5zM1963.3,1155.5h5.5v5.5h-5.5zM1968.3,1162.2h5.5v5.5h-5.5zM1973.2,1167.3h5.5v5.5h-5.5zM1978.2,1171.3h5.5v5.5h-5.5zM1983.1,1174.7h5.5v5.5h-5.5zM1988.1,1176.1h5.5v5.5h-5.5zM1993,1177.7h5.5v5.5h-5.5zM1998,1179.7h5.5v5.5h-5.5zM2002.9,1180.6h5.5v5.5h-5.5zM2007.9,1181.5h5.5v5.5h-5.5zM2012.8,1181.9h5.5v5.5h-5.5zM2017.8,1182h5.5v5.5h-5.5zM2022.7,1182.2h5.5v5.5h-5.5zM2027.7,1183.1h5.5v5.5h-5.5zM2032.6,1183.4h5.5v5.5h-5.5zM2037.6,1183.8h5.5v5.5h-5.5zM2042.5,1183.6h5.5v5.5h-5.5zM2047.5,1183.9h5.5v5.5h-5.5zM2052.4,1183.9h5.5v5.5h-5.5zM2057.4,1184h5.5v5.5h-5.5zM2062.3,1184.7h5.5v5.5h-5.5z" fill="#000"/>
<path d="M638.9,1702.8L638.9,1702.7L643.4,1702.6L647.9,1702.5L652.4,1702.4L656.9,1702.2L661.4,1701.9L665.9,1701.5L670.4,1700.9L674.9,1700.1L679.3,1699.1L683.8,1697.7L688.3,1695.9L692.8,1693.5L697.3,1690.5L701.8,1686.8L706.3,1682.1L710.8,1676.5L715.3,1669.7L719.8,1661.6L724.3,1652.3L728.7,1641.5L733.2,1629.4L737.7,1616L742.2,1601.5L746.7,1585.9L751.2,1569.7L755.7,1553L760.2,1536.3L764.7,1520.1L769.2,1504.7L773.6,1490.7L778.1,1478.5L782.6,1468.6L787.1,1461.2L791.6,1456.6L796.1,1455.1L800.6,1456.6L805.1,1461.2L809.6,1468.6L814.1,1478.5L818.6,1490.7L823,1504.7L827.5,1520.1L832,1536.3L836.5,1553L841,1569.7L845.5,1585.9L850,1601.5L854.5,1616L859,1629.4L863.5,1641.5L867.9,1652.3L872.4,1661.6L876.9,1669.7L881.4,1676.5L885.9,1682.1L890.4,1686.8L894.9,1690.5L899.4,1693.5L903.9,1695.9L908.4,1697.7L912.9,1699.1L917.3,1700.1L921.8,1700.9L926.3,1701.5L930.8,1701.9L935.3,1702.2L939.8,1702.4L944.3,1702.5L948.8,1702.6L953.3,1702.7L953.3,1702.8Z" fill="#000080"/>
<path d="M778.4,1702.8L778.4,1702.8L781.9,1702.7L785.4,1702.7L788.9,1702.7L792.4,1702.6L795.9,1702.5L799.4,1702.4L802.8,1702.3L806.3,1702.1L809.8,1701.8L813.3,1701.4L816.8,1700.9L820.3,1700.2L823.8,1699.4L827.3,1698.4L830.7,1697.1L834.2,1695.5L837.7,1693.6L841.2,1691.4L844.7,1688.8L848.2,1685.9L851.7,1682.5L855.2,1678.8L858.6,1674.8L862.1,1670.5L865.6,1666L869.1,1661.4L872.6,1656.8L876.1,1652.3L879.6,1648L883.1,1644.1L886.5,1640.8L890,1638L893.5,1636L897,1634.7L900.5,1634.3L904,1634.7L907.5,1636L911,1638L914.5,1640.8L917.9,1644.1L921.4,1648L924.9,1652.3L928.4,1656.8L931.9,1661.4L935.4,1666L938.9,1670.5L942.4,1674.8L945.8,1678.8L949.3,1682.5L952.8,1685.9L956.3,1688.8L959.8,1691.4L963.3,1693.6L966.8,1695.5L970.3,1697.1L973.7,1698.4L977.2,1699.4L980.7,1700.2L984.2,1700.9L987.7,1701.4L991.2,1701.8L994.7,1702.1L998.2,1702.3L1001.6,1702.4L1005.1,1702.5L1008.6,1702.6L1012.1,1702.7L1015.6,1702.7L1019.1,1702.7L1022.6,1702.8L1022.6,1702.8Z" fill="#808080"/>
<path d="M778.4,1702.8L778.4,1702.8L781.9,1702.7L785.4,1702.7L788.9,1702.7L792.4,1702.6L795.9,1702.5L799.4,1702.4L802.8,1702.3L806.3,1702.1L809.8,1701.8L813.3,1701.4L816.8,1700.9L820.3,1700.2L823.8,1699.4L827.3,1698.4L830.7,1697.1L834.2,1695.5L837.7,1693.6L841.2,1691.4L844.7,1688.8L848.2,1685.9L851.7,1682.5L855.2,1678.8L858.6,1674.8L862.1,1670.5L865.6,1666L869.1,1661.4L872.6,1656.8L876.1,1652.3L879.6,1648L883.1,1644.1L886.5,1640.8L890,1638L893.5,1636L897,1634.7L900.5,1634.3L904,1634.7L907.5,1636L911,1638L914.5,1640.8L917.9,1644.1L921.4,1648L924.9,1652.3L928.4,1656.8L931.9,1661.4L935.4,1666L938.9,1670.5L942.4,1674.8L945.8,1678.8L949.3,1682.5L952.8,1685.9L956.3,1688.8L959.8,1691.4L963.3,1693.6L966.8,1695.5L970.3,1697.1L973.7,1698.4L977.2,1699.4L980.7,1700.2L984.2,1700.9L987.7,1701.4L991.2,1701.8L994.7,1702.1L998.2,1702.3L1001.6,1702.4L1005.1,1702.5L1008.6,1702.6L1012.1,1702.7L1015.6,1702.7L1019.1,1702.7L1022.6,1702.8L1022.6,1702.8Z" fill="url(#hatch)"/>
<path d="M596.6,1702.8L599.1,1702.8L601.6,1702.8L604.1,1702.8L606.6,1702.8L609.1,1702.8L611.6,1702.8L614.1,1702.8L616.6,1702.8L619.1,1702.8L621.6,1702.8L624.1,1702.8L626.6,1702.8L629.1,1702.8L631.6,1702.7L634.1,1702.7L636.6,1702.7L639.1,1702.7L641.6,1702.6L644.1,1702.6L646.6,1702.5L649.1,1702.5L651.6,1702.4L654.1,1702.3L656.6,1702.2L659.2,1702L661.7,1701.9L664.2,1701.6L666.7,1701.4L669.2,1701.1L671.7,1700.7L674.2,1700.3L676.7,1699.7L679.2,1699.1L681.7,1698.4L684.2,1697.6L686.7,1696.6L689.2,1695.5L691.7,1694.2L694.2,1692.7L696.7,1691L699.2,1689.1L701.7,1686.9L704.2,1684.4L706.7,1681.7L709.2,1678.6L711.7,1675.2L714.2,1671.4L716.7,1667.2L719.2,1662.7L721.7,1657.7L724.2,1652.4L726.7,1646.6L729.2,1640.3L731.7,1633.7L734.2,1626.6L736.7,1619.2L739.2,1611.3L741.7,1603.1L744.2,1594.6L746.7,1585.9L749.2,1576.9L751.7,1567.7L754.2,1558.4L756.7,1549.1L759.2,1539.8L761.7,1530.6L764.2,1521.6L766.7,1512.8L769.2,1504.4L771.7,1496.4L774.2,1489L776.7,1482L779.2,1475.8L781.8,1470.3L784.3,1465.5L786.8,1461.6L789.3,1458.5L791.8,1456.4L794.3,1455.1L796.8,1454.9L799.3,1455.5L801.8,1457.1L804.3,1459.5L806.8,1462.9L809.3,1467L811.8,1471.9L814.3,1477.5L816.8,1483.7L819.3,1490.5L821.8,1497.7L824.3,1505.3L826.8,1513.2L829.3,1521.2L831.8,1529.3L834.3,1537.4L836.8,1545.4L839.3,1553.2L841.8,1560.8L844.3,1568L846.8,1574.8L849.3,1581.2L851.8,1587.1L854.3,1592.5L856.8,1597.3L859.3,1601.6L861.8,1605.3L864.3,1608.6L866.8,1611.3L869.3,1613.6L871.8,1615.4L874.3,1616.9L876.8,1618L879.3,1618.9L881.8,1619.7L884.3,1620.3L886.8,1620.9L889.3,1621.5L891.8,1622.1L894.3,1622.9L896.8,1623.9L899.3,1625L901.9,1626.4L904.4,1628.1L906.9,1630L909.4,1632.2L911.9,1634.7L914.4,1637.4L916.9,1640.3L919.4,1643.4L921.9,1646.6L924.4,1650L926.9,1653.5L929.4,1657L931.9,1660.5L934.4,1664L936.9,1667.4L939.4,1670.7L941.9,1673.9L944.4,1676.9L946.9,1679.7L949.4,1682.4L951.9,1684.9L954.4,1687.1L956.9,1689.2L959.4,1691.1L961.9,1692.7L964.4,1694.2L966.9,1695.6L969.4,1696.7L971.9,1697.7L974.4,1698.6L976.9,1699.3L979.4,1699.9L981.9,1700.5L984.4,1700.9L986.9,1701.3L989.4,1701.6L991.9,1701.8L994.4,1702L996.9,1702.2L999.4,1702.3L1001.9,1702.4L1004.4,1702.5L1006.9,1702.6L1009.4,1702.6L1011.9,1702.7L1014.4,1702.7L1016.9,1702.7L1019.4,1702.7L1021.9,1702.8L1024.5,1702.8L1027,1702.8L1029.5,1702.8L1032,1702.8L1034.5,1702.8L1037,1702.8L1039.5,1702.8L1042,1702.8L1044.5,1702.8L1047,1702.8L1049.5,1702.8L1052,1702.8L1054.5,1702.8L1057,1702.8L1059.5,1702.8L1062,1702.8L1064.5,1702.8L1067,1702.8L1069.5,1702.8L1072,1702.8L1074.5,1702.8L1077,1702.8L1079.5,1702.8L1082,1702.8L1084.5,1702.8" fill="none" stroke="#ff0000" stroke-width="1.0"/>
<path d="M595,1698.1h6v6h-6zM600.8,1697.6h6v6h-6zM606.5,1699.2h6v6h-6zM612.2,1699.2h6v6h-6zM618,1698h6v6h-6zM623.8,1696.6h6v6h-6zM629.5,1697.3h6v6h-6zM635.2,1698h6v6h-6zM641,1697h6v6h-6zM646.8,1695.6h6v6h-6zM652.5,1693.9h6v6h-6zM658.2,1693.4h6v6h-6zM664,1692.4h6v6h-6zM669.8,1690.7h6v6h-6zM675.5,1688.6h6v6h-6zM681.2,1687.2h6v6h-6zM687,1684h6v6h-6zM692.8,1680.5h6v6h-6zM698.5,1675.2h6v6h-6zM704.2,1671.1h6v6h-6zM710,1663.2h6v6h-6zM715.8,1655.9h6v6h-6zM721.5,1643.4h6v6h-6zM727.2,1630.6h6v6h-6zM733,1615.6h6v6h-6zM738.8,1597.4h6v6h-6zM744.5,1577.2h6v6h-6zM750.2,1557.5h6v6h-6zM756,1535.3h6v6h-6zM761.8,1514.2h6v6h-6zM767.5,1494.7h6v6h-6zM773.2,1477.4h6v6h-6zM779,1465.2h6v6h-6zM784.8,1453.1h6v6h-6zM790.5,1448h6v6h-6zM796.2,1446.9h6v6h-6zM802,1453.7h6v6h-6zM807.8,1464.3h6v6h-6zM813.5,1478.1h6v6h-6zM819.2,1495.4h6v6h-6zM825,1512.9h6v6h-6zM830.8,1532.2h6v6h-6zM836.5,1548.2h6v6h-6zM842.2,1567h6v6h-6zM848,1581.2h6v6h-6zM853.8,1594.5h6v6h-6zM859.5,1603.4h6v6h-6zM865.2,1609.3h6v6h-6zM871,1612h6v6h-6zM876.8,1614.4h6v6h-6zM882.5,1616.3h6v6h-6zM888.2,1618.4h6v6h-6zM894,1618.5h6v6h-6zM899.8,1623.8h6v6h-6zM905.5,1628.1h6v6h-6zM911.2,1632.8h6v6h-6zM917,1640.9h6v6h-6zM922.8,1647.7h6v6h-6zM928.5,1655.2h6v6h-6zM934.2,1663.9h6v6h-6zM940,1670.9h6v6h-6zM945.8,1677.7h6v6h-6zM951.5,1683.7h6v6h-6zM957.2,1690.1h6v6h-6zM963,1692h6v6h-6zM968.8,1693.6h6v6h-6zM974.5,1696.7h6v6h-6zM980.2,1697.1h6v6h-6zM986,1697.3h6v6h-6zM991.8,1697h6v6h-6zM997.5,1699.4h6v6h-6zM1003.2,1699h6v6h-6zM1009,1698.5h6v6h-6zM1014.8,1698.3h6v6h-6zM1020.5,1699.8h6v6h-6zM1026.2,1697.3h6v6h-6zM1032,1699.4h6v6h-6zM1037.8,1697.9h6v6h-6zM1043.5,1698.9h6v6h-6zM1049.2,1698.4h6v6h-6zM1055,1697.5h6v6h-6zM1060.8,1698.2h6v6h-6zM1066.5,1698.7h6v6h-6zM1072.2,1699.6h6v6h-6zM1078,1699.3h6v6h-6z" fill="#000"/>
<path d="M1103.6,1702.8L1103.6,1702.7L1108.3,1702.6L1113.1,1702.5L1117.9,1702.4L1122.7,1702.2L1127.4,1701.9L1132.2,1701.5L1137,1700.9L1141.7,1700.1L1146.5,1699.1L1151.3,1697.7L1156,1695.9L1160.8,1693.5L1165.6,1690.6L1170.3,1686.8L1175.1,1682.2L1179.9,1676.5L1184.7,1669.8L1189.4,1661.7L1194.2,1652.4L1199,1641.7L1203.7,1629.6L1208.5,1616.3L1213.3,1601.8L1218,1586.3L1222.8,1570L1227.6,1553.4L1232.3,1536.8L1237.1,1520.6L1241.9,1505.3L1246.7,1491.3L1251.4,1479.2L1256.2,1469.2L1261,1461.9L1265.7,1457.3L1270.5,1455.8L1275.3,1457.3L1280,1461.9L1284.8,1469.2L1289.6,1479.2L1294.3,1491.3L1299.1,1505.3L1303.9,1520.6L1308.7,1536.8L1313.4,1553.4L1318.2,1570L1323,1586.3L1327.7,1601.8L1332.5,1616.3L1337.3,1629.6L1342,1641.7L1346.8,1652.4L1351.6,1661.7L1356.3,1669.8L1361.1,1676.5L1365.9,1682.2L1370.7,1686.8L1375.4,1690.6L1380.2,1693.5L1385,1695.9L1389.7,1697.7L1394.5,1699.1L1399.3,1700.1L1404,1700.9L1408.8,1701.5L1413.6,1701.9L1418.3,1702.2L1423.1,1702.4L1427.9,1702.5L1432.7,1702.6L1437.4,1702.7L1437.4,1702.8Z" fill="#000080"/>
<path d="M1254,1702.8L1254,1702.8L1257.2,1702.7L1260.5,1702.7L1263.7,1702.6L1266.9,1702.6L1270.2,1702.5L1273.4,1702.3L1276.6,1702.1L1279.9,1701.8L1283.1,1701.4L1286.3,1700.9L1289.5,1700.2L1292.8,1699.3L1296,1698.2L1299.2,1696.8L1302.5,1695L1305.7,1692.9L1308.9,1690.3L1312.2,1687.3L1315.4,1683.7L1318.6,1679.7L1321.9,1675.1L1325.1,1670.1L1328.3,1664.6L1331.6,1658.7L1334.8,1652.6L1338,1646.3L1341.2,1640L1344.5,1633.9L1347.7,1628.1L1350.9,1622.8L1354.2,1618.2L1357.4,1614.5L1360.6,1611.7L1363.9,1610L1367.1,1609.4L1370.3,1610L1373.6,1611.7L1376.8,1614.5L1380,1618.2L1383.3,1622.8L1386.5,1628.1L1389.7,1633.9L1393,1640L1396.2,1646.3L1399.4,1652.6L1402.6,1658.7L1405.9,1664.6L1409.1,1670.1L1412.3,1675.1L1415.6,1679.7L1418.8,1683.7L1422,1687.3L1425.3,1690.3L1428.5,1692.9L1431.7,1695L1435,1696.8L1438.2,1698.2L1441.4,1699.3L1444.7,1700.2L1447.9,1700.9L1451.1,1701.4L1454.3,1701.8L1457.6,1702.1L1460.8,1702.3L1464,1702.5L1467.3,1702.6L1470.5,1702.6L1473.7,1702.7L1477,1702.7L1480.2,1702.8L1480.2,1702.8Z" fill="#808080"/>
<path d="M1254,1702.8L1254,1702.8L1257.2,1702.7L1260.5,1702.7L1263.7,1702.6L1266.9,1702.6L1270.2,1702.5L1273.4,1702.3L1276.6,1702.1L1279.9,1701.8L1283.1,1701.4L1286.3,1700.9L1289.5,1700.2L1292.8,1699.3L1296,1698.2L1299.2,1696.8L1302.5,1695L1305.7,1692.9L1308.9,1690.3L1312.2,1687.3L1315.4,1683.7L1318.6,1679.7L1321.9,1675.1L1325.1,1670.1L1328.3,1664.6L1331.6,1658.7L1334.8,1652.6L1338,1646.3L1341.2,1640L1344.5,1633.9L1347.7,1628.1L1350.9,1622.8L1354.2,1618.2L1357.4,1614.5L1360.6,1611.7L1363.9,1610L1367.1,1609.4L1370.3,1610L1373.6,1611.7L1376.8,1614.5L1380,1618.2L1383.3,1622.8L1386.5,1628.1L1389.7,1633.9L1393,1640L1396.2,1646.3L1399.4,1652.6L1402.6,1658.7L1405.9,1664.6L1409.1,1670.1L1412.3,1675.1L1415.6,1679.7L1418.8,1683.7L1422,1687.3L1425.3,1690.3L1428.5,1692.9L1431.7,1695L1435,1696.8L1438.2,1698.2L1441.4,1699.3L1444.7,1700.2L1447.9,1700.9L1451.1,1701.4L1454.3,1701.8L1457.6,1702.1L1460.8,1702.3L1464,1702.5L1467.3,1702.6L1470.5,1702.6L1473.7,1702.7L1477,1702.7L1480.2,1702.8L1480.2,1702.8Z" fill="url(#hatch)"/>
<path d="M1084.5,1702.8L1087,1702.8L1089.5,1702.8L1092,1702.8L1094.5,1702.7L1097,1702.7L1099.5,1702.7L1102,1702.7L1104.5,1702.7L1107,1702.6L1109.5,1702.6L1112,1702.5L1114.5,1702.5L1117,1702.4L1119.5,1702.3L1122,1702.2L1124.5,1702.1L1127,1701.9L1129.5,1701.7L1132,1701.5L1134.5,1701.2L1137,1700.9L1139.5,1700.5L1142,1700.1L1144.5,1699.6L1147,1699L1149.5,1698.3L1152,1697.5L1154.5,1696.5L1157,1695.5L1159.5,1694.2L1162,1692.9L1164.5,1691.3L1167,1689.5L1169.5,1687.5L1172,1685.3L1174.5,1682.8L1177,1680.1L1179.5,1677L1182,1673.7L1184.5,1670L1187,1666L1189.5,1661.6L1192,1656.9L1194.5,1651.7L1197,1646.3L1199.5,1640.4L1202,1634.2L1204.5,1627.6L1207,1620.6L1209.5,1613.3L1212,1605.7L1214.5,1597.9L1217,1589.7L1219.5,1581.4L1222,1572.8L1224.5,1564.2L1227,1555.4L1229.5,1546.7L1232,1538L1234.5,1529.4L1237,1521L1239.5,1512.8L1242,1504.9L1244.5,1497.4L1247,1490.3L1249.5,1483.8L1252,1477.8L1254.5,1472.4L1257,1467.7L1259.5,1463.7L1262,1460.5L1264.5,1458L1267,1456.4L1269.5,1455.5L1272,1455.5L1274.5,1456.3L1277,1457.9L1279.5,1460.2L1282,1463.3L1284.5,1467L1287,1471.4L1289.5,1476.4L1292,1481.8L1294.5,1487.7L1297,1493.8L1299.5,1500.2L1302,1506.8L1304.5,1513.4L1307,1519.9L1309.5,1526.3L1312,1532.3L1314.5,1537.9L1317,1543L1319.5,1547.5L1322,1551.3L1324.5,1554.4L1327,1556.9L1329.5,1558.8L1332,1560.3L1334.5,1561.6L1337,1562.8L1339.5,1564.1L1342,1565.6L1344.5,1567.3L1347,1569.2L1349.5,1571.4L1352,1573.7L1354.5,1576L1357,1578.5L1359.5,1580.9L1362,1583.5L1364.5,1586.1L1367,1589L1369.5,1592.1L1372,1595.5L1374.5,1599.3L1377,1603.4L1379.5,1607.9L1382,1612.6L1384.5,1617.7L1387,1622.9L1389.5,1628.3L1392,1633.8L1394.5,1639.3L1397,1644.8L1399.5,1650.1L1402,1655.3L1404.5,1660.3L1407,1665L1409.5,1669.5L1412,1673.6L1414.5,1677.4L1417,1680.8L1419.5,1684L1422,1686.8L1424.5,1689.2L1427,1691.4L1429.5,1693.3L1432,1695L1434.5,1696.4L1437,1697.6L1439.5,1698.6L1442,1699.4L1444.5,1700.1L1447,1700.7L1449.5,1701.1L1452,1701.5L1454.5,1701.8L1457,1702L1459.5,1702.2L1462,1702.3L1464.5,1702.5L1467,1702.5L1469.5,1702.6L1472,1702.7L1474.5,1702.7L1477,1702.7L1479.5,1702.7L1482,1702.8L1484.5,1702.8L1487,1702.8L1489.5,1702.8L1492,1702.8L1494.5,1702.8L1497,1702.8L1499.5,1702.8L1502,1702.8L1504.5,1702.8L1507,1702.8L1509.5,1702.8L1512,1702.8L1514.5,1702.8L1517,1702.8L1519.5,1702.8L1522,1702.8L1524.5,1702.8L1527,1702.8L1529.5,1702.8L1532,1702.8L1534.5,1702.8L1537,1702.8L1539.5,1702.8L1542,1702.8L1544.5,1702.8L1547,1702.8L1549.5,1702.8L1552,1702.8L1554.5,1702.8L1557,1702.8L1559.5,1702.8L1562,1702.8L1564.5,1702.8L1567,1702.8L1569.5,1702.8L1572,1702.8" fill="none" stroke="#ff0000" stroke-width="1.0"/>
<path d="M1084,1696.8h6v6h-6zM1089.8,1697.5h6v6h-6zM1095.5,1688.2h6v6h-6zM1101.2,1693.5h6v6h-6zM1107,1692.6h6v6h-6zM1112.8,1690.1h6v6h-6zM1118.5,1690.2h6v6h-6zM1124.2,1688.5h6v6h-6zM1130,1683.5h6v6h-6zM1135.8,1683.7h6v6h-6zM1141.5,1679h6v6h-6zM1147.2,1679.5h6v6h-6zM1153,1681.3h6v6h-6zM1158.8,1678.2h6v6h-6zM1164.5,1674.6h6v6h-6zM1170.2,1673.8h6v6h-6zM1176,1664.8h6v6h-6zM1181.8,1659.1h6v6h-6zM1187.5,1648.2h6v6h-6zM1193.2,1642.1h6v6h-6zM1199,1628.1h6v6h-6zM1204.8,1611.6h6v6h-6zM1210.5,1594.6h6v6h-6zM1216.2,1580.4h6v6h-6zM1222,1555.2h6v6h-6zM1227.8,1540.3h6v6h-6zM1233.5,1516.6h6v6h-6zM1239.2,1501.7h6v6h-6zM1245,1485.4h6v6h-6zM1250.8,1473.2h6v6h-6zM1256.5,1458.9h6v6h-6zM1262.2,1444.7h6v6h-6zM1268,1448.9h6v6h-6zM1273.8,1447.6h6v6h-6zM1279.5,1456.5h6v6h-6zM1285.2,1471.4h6v6h-6zM1291,1480.8h6v6h-6zM1296.8,1494.7h6v6h-6zM1302.5,1513.7h6v6h-6zM1308.2,1528.7h6v6h-6zM1314,1537.4h6v6h-6zM1319.8,1548.5h6v6h-6zM1325.5,1550.2h6v6h-6zM1331.2,1557.5h6v6h-6zM1337,1564h6v6h-6zM1342.8,1565.3h6v6h-6zM1348.5,1572.9h6v6h-6zM1354.2,1574h6v6h-6zM1360,1579.9h6v6h-6zM1365.8,1589.1h6v6h-6zM1371.5,1598.3h6v6h-6zM1377.2,1604.2h6v6h-6zM1383,1618.7h6v6h-6zM1388.8,1627.4h6v6h-6zM1394.5,1645.1h6v6h-6zM1400.2,1655.5h6v6h-6zM1406,1666.8h6v6h-6zM1411.8,1677.1h6v6h-6zM1417.5,1675.8h6v6h-6zM1423.2,1683.9h6v6h-6zM1429,1693.4h6v6h-6zM1434.8,1693h6v6h-6zM1440.5,1701h6v6h-6zM1446.2,1695.2h6v6h-6zM1452,1696.3h6v6h-6zM1457.8,1700.1h6v6h-6zM1463.5,1700.3h6v6h-6zM1469.2,1699.1h6v6h-6zM1475,1698.7h6v6h-6zM1480.8,1700.6h6v6h-6zM1486.5,1701.7h6v6h-6zM1492.2,1700.4h6v6h-6zM1498,1700.8h6v6h-6zM1503.8,1698h6v6h-6zM1509.5,1699.6h6v6h-6zM1515.2,1699.2h6v6h-6zM1521,1703.6h6v6h-6zM1526.8,1700.7h6v6h-6z" fill="#000"/>
<path d="M618.6,1982.3L618.6,1982.2L623.6,1982.1L628.6,1982L633.6,1981.9L638.5,1981.7L643.5,1981.4L648.5,1980.9L653.5,1980.4L658.5,1979.6L663.5,1978.5L668.5,1977.1L673.5,1975.3L678.5,1972.9L683.5,1969.9L688.5,1966.1L693.5,1961.3L698.5,1955.6L703.4,1948.7L708.4,1940.6L713.4,1931.1L718.4,1920.2L723.4,1908L728.4,1894.4L733.4,1879.6L738.4,1863.9L743.4,1847.4L748.4,1830.5L753.4,1813.6L758.4,1797.1L763.3,1781.6L768.3,1767.4L773.3,1755L778.3,1744.9L783.3,1737.5L788.3,1732.9L793.3,1731.3L798.3,1732.9L803.3,1737.5L808.3,1744.9L813.3,1755L818.3,1767.4L823.3,1781.6L828.2,1797.1L833.2,1813.6L838.2,1830.5L843.2,1847.4L848.2,1863.9L853.2,1879.6L858.2,1894.4L863.2,1908L868.2,1920.2L873.2,1931.1L878.2,1940.6L883.2,1948.7L888.1,1955.6L893.1,1961.3L898.1,1966.1L903.1,1969.9L908.1,1972.9L913.1,1975.3L918.1,1977.1L923.1,1978.5L928.1,1979.6L933.1,1980.4L938.1,1980.9L943.1,1981.4L948.1,1981.7L953,1981.9L958,1982L963,1982.1L968,1982.2L968,1982.3Z" fill="#000080"/>
<path d="M765,1982.3L765,1982.2L768.9,1982.2L772.8,1982.1L776.7,1982L780.6,1981.9L784.5,1981.7L788.4,1981.4L792.3,1981L796.2,1980.5L800.1,1979.8L804,1978.9L807.9,1977.7L811.8,1976.1L815.7,1974.1L819.6,1971.6L823.5,1968.5L827.4,1964.8L831.3,1960.2L835.2,1954.9L839.1,1948.6L843,1941.5L846.9,1933.4L850.8,1924.5L854.7,1914.8L858.6,1904.5L862.5,1893.6L866.4,1882.5L870.3,1871.4L874.2,1860.6L878.1,1850.3L882,1841L885.9,1832.9L889.8,1826.3L893.7,1821.3L897.6,1818.3L901.5,1817.3L905.4,1818.3L909.3,1821.3L913.2,1826.3L917.1,1832.9L921,1841L924.9,1850.3L928.8,1860.6L932.7,1871.4L936.6,1882.5L940.5,1893.6L944.4,1904.5L948.3,1914.8L952.2,1924.5L956.1,1933.4L960,1941.5L963.9,1948.6L967.8,1954.9L971.7,1960.2L975.6,1964.8L979.5,1968.5L983.4,1971.6L987.3,1974.1L991.2,1976.1L995.1,1977.7L999,1978.9L1002.9,1979.8L1006.8,1980.5L1010.7,1981L1014.6,1981.4L1018.5,1981.7L1022.4,1981.9L1026.3,1982L1030.2,1982.1L1034.1,1982.2L1038,1982.2L1038,1982.3Z" fill="#808080"/>
<path d="M765,1982.3L765,1982.2L768.9,1982.2L772.8,1982.1L776.7,1982L780.6,1981.9L784.5,1981.7L788.4,1981.4L792.3,1981L796.2,1980.5L800.1,1979.8L804,1978.9L807.9,1977.7L811.8,1976.1L815.7,1974.1L819.6,1971.6L823.5,1968.5L827.4,1964.8L831.3,1960.2L835.2,1954.9L839.1,1948.6L843,1941.5L846.9,1933.4L850.8,1924.5L854.7,1914.8L858.6,1904.5L862.5,1893.6L866.4,1882.5L870.3,1871.4L874.2,1860.6L878.1,1850.3L882,1841L885.9,1832.9L889.8,1826.3L893.7,1821.3L897.6,1818.3L901.5,1817.3L905.4,1818.3L909.3,1821.3L913.2,1826.3L917.1,1832.9L921,1841L924.9,1850.3L928.8,1860.6L932.7,1871.4L936.6,1882.5L940.5,1893.6L944.4,1904.5L948.3,1914.8L952.2,1924.5L956.1,1933.4L960,1941.5L963.9,1948.6L967.8,1954.9L971.7,1960.2L975.6,1964.8L979.5,1968.5L983.4,1971.6L987.3,1974.1L991.2,1976.1L995.1,1977.7L999,1978.9L1002.9,1979.8L1006.8,1980.5L1010.7,1981L1014.6,1981.4L1018.5,1981.7L1022.4,1981.9L1026.3,1982L1030.2,1982.1L1034.1,1982.2L1038,1982.2L1038,1982.3Z" fill="url(#hatch)"/>
<path d="M596.6,1982.3L599.1,1982.3L601.6,1982.3L604.1,1982.3L606.6,1982.3L609.1,1982.2L611.6,1982.2L614.1,1982.2L616.6,1982.2L619.1,1982.2L621.6,1982.1L624.1,1982.1L626.6,1982.1L629.1,1982L631.6,1981.9L634.1,1981.8L636.6,1981.7L639.1,1981.6L641.6,1981.5L644.1,1981.3L646.6,1981.1L649.1,1980.9L651.6,1980.6L654.1,1980.3L656.6,1979.9L659.2,1979.5L661.7,1979L664.2,1978.4L666.7,1977.7L669.2,1976.9L671.7,1976L674.2,1975L676.7,1973.8L679.2,1972.5L681.7,1971L684.2,1969.4L686.7,1967.5L689.2,1965.4L691.7,1963.1L694.2,1960.6L696.7,1957.8L699.2,1954.7L701.7,1951.3L704.2,1947.6L706.7,1943.6L709.2,1939.2L711.7,1934.5L714.2,1929.5L716.7,1924.1L719.2,1918.4L721.7,1912.3L724.2,1905.9L726.7,1899.1L729.2,1892.1L731.7,1884.7L734.2,1877.1L736.7,1869.3L739.2,1861.2L741.7,1852.9L744.2,1844.6L746.7,1836.1L749.2,1827.6L751.7,1819.1L754.2,1810.7L756.7,1802.4L759.2,1794.3L761.7,1786.4L764.2,1778.9L766.7,1771.7L769.2,1764.9L771.7,1758.6L774.2,1752.8L776.7,1747.6L779.2,1743L781.8,1739L784.3,1735.8L786.8,1733.2L789.3,1731.4L791.8,1730.2L794.3,1729.8L796.8,1730.2L799.3,1731.2L801.8,1732.9L804.3,1735.2L806.8,1738.2L809.3,1741.6L811.8,1745.6L814.3,1750L816.8,1754.7L819.3,1759.7L821.8,1764.9L824.3,1770.2L826.8,1775.6L829.3,1780.9L831.8,1786.1L834.3,1791L836.8,1795.8L839.3,1800.1L841.8,1804.1L844.3,1807.6L846.8,1810.6L849.3,1813.1L851.8,1815.1L854.3,1816.5L856.8,1817.4L859.3,1817.7L861.8,1817.6L864.3,1817L866.8,1816L869.3,1814.7L871.8,1813.1L874.3,1811.3L876.8,1809.5L879.3,1807.6L881.8,1805.8L884.3,1804.2L886.8,1802.8L889.3,1801.7L891.8,1801.1L894.3,1801L896.8,1801.4L899.3,1802.4L901.9,1804L904.4,1806.2L906.9,1809.1L909.4,1812.6L911.9,1816.8L914.4,1821.6L916.9,1826.9L919.4,1832.7L921.9,1838.9L924.4,1845.5L926.9,1852.5L929.4,1859.6L931.9,1867L934.4,1874.4L936.9,1881.8L939.4,1889.2L941.9,1896.5L944.4,1903.6L946.9,1910.4L949.4,1917L951.9,1923.3L954.4,1929.2L956.9,1934.8L959.4,1940L961.9,1944.9L964.4,1949.3L966.9,1953.4L969.4,1957.1L971.9,1960.4L974.4,1963.4L976.9,1966L979.4,1968.4L981.9,1970.5L984.4,1972.3L986.9,1973.9L989.4,1975.2L991.9,1976.4L994.4,1977.4L996.9,1978.3L999.4,1979L1001.9,1979.6L1004.4,1980.1L1006.9,1980.5L1009.4,1980.9L1011.9,1981.2L1014.4,1981.4L1016.9,1981.6L1019.4,1981.7L1021.9,1981.9L1024.5,1982L1027,1982L1029.5,1982.1L1032,1982.1L1034.5,1982.2L1037,1982.2L1039.5,1982.2L1042,1982.2L1044.5,1982.3L1047,1982.3L1049.5,1982.3L1052,1982.3L1054.5,1982.3L1057,1982.3L1059.5,1982.3L1062,1982.3L1064.5,1982.3L1067,1982.3L1069.5,1982.3L1072,1982.3L1074.5,1982.3L1077,1982.3L1079.5,1982.3L1082,1982.3L1084.5,1982.3" fill="none" stroke="#ff0000" stroke-width="1.0"/>
<path d="M595,1976.5h6v6h-6zM600.8,1979.1h6v6h-6zM606.5,1977.9h6v6h-6zM612.2,1978.2h6v6h-6zM618,1978.5h6v6h-6zM623.8,1977.9h6v6h-6zM629.5,1977.3h6v6h-6zM635.2,1976.3h6v6h-6zM641,1974.9h6v6h-6zM646.8,1973.1h6v6h-6zM652.5,1972.2h6v6h-6zM658.2,1969.6h6v6h-6zM664,1968h6v6h-6zM669.8,1965.8h6v6h-6zM675.5,1963.1h6v6h-6zM681.2,1960.2h6v6h-6zM687,1956.5h6v6h-6zM692.8,1950h6v6h-6zM698.5,1943.6h6v6h-6zM704.2,1935.1h6v6h-6zM710,1925.2h6v6h-6zM715.8,1914.7h6v6h-6zM721.5,1900.5h6v6h-6zM727.2,1885.2h6v6h-6zM733,1866.3h6v6h-6zM738.8,1848.7h6v6h-6zM744.5,1829.2h6v6h-6zM750.2,1810.6h6v6h-6zM756,1792h6v6h-6zM761.8,1773.8h6v6h-6zM767.5,1757.8h6v6h-6zM773.2,1744.2h6v6h-6zM779,1735.9h6v6h-6zM784.8,1728.2h6v6h-6zM790.5,1726.6h6v6h-6zM796.2,1727.7h6v6h-6zM802,1732.3h6v6h-6zM807.8,1740.3h6v6h-6zM813.5,1749.8h6v6h-6zM819.2,1761.2h6v6h-6zM825,1773.9h6v6h-6zM830.8,1786.5h6v6h-6zM836.5,1796.2h6v6h-6zM842.2,1804.6h6v6h-6zM848,1809.9h6v6h-6zM853.8,1813.2h6v6h-6zM859.5,1814.8h6v6h-6zM865.2,1811.9h6v6h-6zM871,1807.9h6v6h-6zM876.8,1802.6h6v6h-6zM882.5,1799.6h6v6h-6zM888.2,1796.6h6v6h-6zM894,1797.3h6v6h-6zM899.8,1801.7h6v6h-6zM905.5,1807.4h6v6h-6zM911.2,1817h6v6h-6zM917,1829.9h6v6h-6zM922.8,1846.6h6v6h-6zM928.5,1861.6h6v6h-6zM934.2,1879.4h6v6h-6zM940,1897.4h6v6h-6zM945.8,1911.9h6v6h-6zM951.5,1927.1h6v6h-6zM957.2,1938.8h6v6h-6zM963,1946.9h6v6h-6zM968.8,1954.3h6v6h-6zM974.5,1961.8h6v6h-6zM980.2,1967.2h6v6h-6zM986,1969.6h6v6h-6zM991.8,1973.3h6v6h-6zM997.5,1976.1h6v6h-6zM1003.2,1978.4h6v6h-6zM1009,1976.5h6v6h-6zM1014.8,1979.5h6v6h-6zM1020.5,1980.2h6v6h-6zM1026.2,1978.7h6v6h-6zM1032,1978.2h6v6h-6zM1037.8,1979h6v6h-6zM1043.5,1977.5h6v6h-6zM1049.2,1978.4h6v6h-6zM1055,1978.2h6v6h-6zM1060.8,1978h6v6h-6zM1066.5,1978.8h6v6h-6zM1072.2,1978.2h6v6h-6zM1078,1976.5h6v6h-6z" fill="#000"/>
<path d="M1084.5,1982.3L1084.5,1981.7L1090.9,1981.5L1097.2,1981.1L1103.6,1980.6L1109.9,1979.9L1116.3,1979L1122.6,1977.7L1129,1976L1135.3,1973.8L1141.7,1971L1148,1967.5L1154.4,1963L1160.8,1957.6L1167.1,1951.1L1173.5,1943.3L1179.8,1934.2L1186.2,1923.8L1192.5,1911.9L1198.9,1898.7L1205.2,1884.2L1211.6,1868.7L1218,1852.3L1224.3,1835.5L1230.7,1818.5L1237,1801.8L1243.4,1786L1249.7,1771.4L1256.1,1758.6L1262.4,1747.9L1268.8,1739.8L1275.1,1734.6L1281.5,1732.4L1287.9,1733.3L1294.2,1737.3L1300.6,1744.3L1306.9,1753.9L1313.3,1765.9L1319.6,1779.9L1326,1795.3L1332.3,1811.6L1338.7,1828.5L1345.1,1845.5L1351.4,1862.1L1357.8,1878L1364.1,1892.9L1370.5,1906.7L1376.8,1919.1L1383.2,1930.1L1389.5,1939.8L1395.9,1948.1L1402.2,1955.1L1408.6,1961L1415,1965.8L1421.3,1969.7L1427.7,1972.7L1434,1975.2L1440.4,1977L1446.7,1978.5L1453.1,1979.6L1459.4,1980.3L1465.8,1980.9L1472.2,1981.4L1478.5,1981.7L1484.9,1981.9L1491.2,1982L1497.6,1982.1L1503.9,1982.2L1503.9,1982.3Z" fill="#000080"/>
<path d="M1263.2,1982.3L1263.2,1982.3L1267.1,1982.3L1270.9,1982.2L1274.7,1982.2L1278.5,1982.2L1282.3,1982.1L1286.2,1982L1290,1981.9L1293.8,1981.7L1297.6,1981.5L1301.5,1981.2L1305.3,1980.8L1309.1,1980.3L1312.9,1979.7L1316.7,1978.9L1320.6,1977.9L1324.4,1976.7L1328.2,1975.2L1332,1973.5L1335.8,1971.5L1339.7,1969.3L1343.5,1966.7L1347.3,1963.8L1351.1,1960.7L1355,1957.4L1358.8,1954L1362.6,1950.4L1366.4,1946.9L1370.2,1943.4L1374.1,1940.2L1377.9,1937.2L1381.7,1934.6L1385.5,1932.5L1389.4,1930.9L1393.2,1929.9L1397,1929.6L1400.8,1929.9L1404.6,1930.9L1408.5,1932.5L1412.3,1934.6L1416.1,1937.2L1419.9,1940.2L1423.8,1943.4L1427.6,1946.9L1431.4,1950.4L1435.2,1954L1439,1957.4L1442.9,1960.7L1446.7,1963.8L1450.5,1966.7L1454.3,1969.3L1458.2,1971.5L1462,1973.5L1465.8,1975.2L1469.6,1976.7L1473.4,1977.9L1477.3,1978.9L1481.1,1979.7L1484.9,1980.3L1488.7,1980.8L1492.5,1981.2L1496.4,1981.5L1500.2,1981.7L1504,1981.9L1507.8,1982L1511.7,1982.1L1515.5,1982.2L1519.3,1982.2L1523.1,1982.2L1526.9,1982.3L1530.8,1982.3L1530.8,1982.3Z" fill="#808080"/>
<path d="M1263.2,1982.3L1263.2,1982.3L1267.1,1982.3L1270.9,1982.2L1274.7,1982.2L1278.5,1982.2L1282.3,1982.1L1286.2,1982L1290,1981.9L1293.8,1981.7L1297.6,1981.5L1301.5,1981.2L1305.3,1980.8L1309.1,1980.3L1312.9,1979.7L1316.7,1978.9L1320.6,1977.9L1324.4,1976.7L1328.2,1975.2L1332,1973.5L1335.8,1971.5L1339.7,1969.3L1343.5,1966.7L1347.3,1963.8L1351.1,1960.7L1355,1957.4L1358.8,1954L1362.6,1950.4L1366.4,1946.9L1370.2,1943.4L1374.1,1940.2L1377.9,1937.2L1381.7,1934.6L1385.5,1932.5L1389.4,1930.9L1393.2,1929.9L1397,1929.6L1400.8,1929.9L1404.6,1930.9L1408.5,1932.5L1412.3,1934.6L1416.1,1937.2L1419.9,1940.2L1423.8,1943.4L1427.6,1946.9L1431.4,1950.4L1435.2,1954L1439,1957.4L1442.9,1960.7L1446.7,1963.8L1450.5,1966.7L1454.3,1969.3L1458.2,1971.5L1462,1973.5L1465.8,1975.2L1469.6,1976.7L1473.4,1977.9L1477.3,1978.9L1481.1,1979.7L1484.9,1980.3L1488.7,1980.8L1492.5,1981.2L1496.4,1981.5L1500.2,1981.7L1504,1981.9L1507.8,1982L1511.7,1982.1L1515.5,1982.2L1519.3,1982.2L1523.1,1982.2L1526.9,1982.3L1530.8,1982.3L1530.8,1982.3Z" fill="url(#hatch)"/>
<path d="M1084.5,1981.7L1087,1981.7L1089.5,1981.6L1092,1981.4L1094.5,1981.3L1097,1981.1L1099.5,1981L1102,1980.8L1104.5,1980.5L1107,1980.3L1109.5,1980L1112,1979.6L1114.5,1979.2L1117,1978.8L1119.5,1978.3L1122,1977.8L1124.5,1977.2L1127,1976.6L1129.5,1975.8L1132,1975L1134.5,1974.1L1137,1973.1L1139.5,1972L1142,1970.8L1144.5,1969.5L1147,1968.1L1149.5,1966.5L1152,1964.8L1154.5,1963L1157,1961L1159.5,1958.8L1162,1956.5L1164.5,1953.9L1167,1951.2L1169.5,1948.3L1172,1945.3L1174.5,1942L1177,1938.5L1179.5,1934.7L1182,1930.8L1184.5,1926.7L1187,1922.3L1189.5,1917.7L1192,1912.9L1194.5,1907.9L1197,1902.7L1199.5,1897.3L1202,1891.7L1204.5,1886L1207,1880L1209.5,1873.9L1212,1867.7L1214.5,1861.3L1217,1854.8L1219.5,1848.2L1222,1841.6L1224.5,1834.9L1227,1828.3L1229.5,1821.6L1232,1814.9L1234.5,1808.4L1237,1801.9L1239.5,1795.5L1242,1789.3L1244.5,1783.3L1247,1777.5L1249.5,1771.9L1252,1766.6L1254.5,1761.6L1257,1756.9L1259.5,1752.5L1262,1748.5L1264.5,1745L1267,1741.8L1269.5,1739L1272,1736.7L1274.5,1734.9L1277,1733.5L1279.5,1732.6L1282,1732.1L1284.5,1732.2L1287,1732.7L1289.5,1733.7L1292,1735.1L1294.5,1737L1297,1739.3L1299.5,1742L1302,1745.1L1304.5,1748.6L1307,1752.4L1309.5,1756.5L1312,1760.9L1314.5,1765.6L1317,1770.4L1319.5,1775.4L1322,1780.6L1324.5,1785.9L1327,1791.2L1329.5,1796.6L1332,1802L1334.5,1807.3L1337,1812.6L1339.5,1817.7L1342,1822.8L1344.5,1827.7L1347,1832.4L1349.5,1836.9L1352,1841.3L1354.5,1845.5L1357,1849.4L1359.5,1853.2L1362,1856.7L1364.5,1860.1L1367,1863.4L1369.5,1866.4L1372,1869.4L1374.5,1872.2L1377,1874.9L1379.5,1877.6L1382,1880.3L1384.5,1882.9L1387,1885.6L1389.5,1888.3L1392,1891L1394.5,1893.8L1397,1896.7L1399.5,1899.7L1402,1902.7L1404.5,1905.9L1407,1909.1L1409.5,1912.4L1412,1915.8L1414.5,1919.2L1417,1922.7L1419.5,1926.1L1422,1929.6L1424.5,1933.1L1427,1936.5L1429.5,1939.9L1432,1943.1L1434.5,1946.3L1437,1949.4L1439.5,1952.4L1442,1955.2L1444.5,1957.8L1447,1960.3L1449.5,1962.6L1452,1964.8L1454.5,1966.8L1457,1968.7L1459.5,1970.3L1462,1971.9L1464.5,1973.2L1467,1974.5L1469.5,1975.5L1472,1976.5L1474.5,1977.4L1477,1978.1L1479.5,1978.8L1482,1979.3L1484.5,1979.8L1487,1980.2L1489.5,1980.6L1492,1980.9L1494.5,1981.1L1497,1981.3L1499.5,1981.5L1502,1981.7L1504.5,1981.8L1507,1981.9L1509.5,1982L1512,1982L1514.5,1982.1L1517,1982.1L1519.5,1982.2L1522,1982.2L1524.5,1982.2L1527,1982.2L1529.5,1982.3L1532,1982.3L1534.5,1982.3L1537,1982.3L1539.5,1982.3L1542,1982.3L1544.5,1982.3L1547,1982.3L1549.5,1982.3L1552,1982.3L1554.5,1982.3L1557,1982.3L1559.5,1982.3L1562,1982.3L1564.5,1982.3L1567,1982.3L1569.5,1982.3L1572,1982.3" fill="none" stroke="#ff0000" stroke-width="1.0"/>
<path d="M1084,1979.1h6v6h-6zM1089.8,1980.3h6v6h-6zM1095.5,1976.6h6v6h-6zM1101.2,1974.3h6v6h-6zM1107,1976.4h6v6h-6zM1112.8,1974.6h6v6h-6zM1118.5,1973.5h6v6h-6zM1124.2,1972.6h6v6h-6zM1130,1970.8h6v6h-6zM1135.8,1968.1h6v6h-6zM1141.5,1966.8h6v6h-6zM1147.2,1964.7h6v6h-6zM1153,1960.7h6v6h-6zM1158.8,1953h6v6h-6zM1164.5,1947.2h6v6h-6zM1170.2,1940.7h6v6h-6zM1176,1935h6v6h-6zM1181.8,1923.5h6v6h-6zM1187.5,1912.9h6v6h-6zM1193.2,1902.4h6v6h-6zM1199,1889.6h6v6h-6zM1204.8,1872.9h6v6h-6zM1210.5,1859.4h6v6h-6zM1216.2,1845h6v6h-6zM1222,1830.3h6v6h-6zM1227.8,1815.7h6v6h-6zM1233.5,1800.6h6v6h-6zM1239.2,1784.9h6v6h-6zM1245,1773.1h6v6h-6zM1250.8,1760h6v6h-6zM1256.5,1747h6v6h-6zM1262.2,1740.7h6v6h-6zM1268,1732.4h6v6h-6zM1273.8,1724.3h6v6h-6zM1279.5,1723.7h6v6h-6zM1285.2,1725.4h6v6h-6zM1291,1731.2h6v6h-6zM1296.8,1738.9h6v6h-6zM1302.5,1744.9h6v6h-6zM1308.2,1759.1h6v6h-6zM1314,1766.8h6v6h-6zM1319.8,1779.8h6v6h-6zM1325.5,1791.6h6v6h-6zM1331.2,1806.1h6v6h-6zM1337,1814.8h6v6h-6zM1342.8,1826.4h6v6h-6zM1348.5,1837.1h6v6h-6zM1354.2,1846.3h6v6h-6zM1360,1856.6h6v6h-6zM1365.8,1862.3h6v6h-6zM1371.5,1868.7h6v6h-6zM1377.2,1875.5h6v6h-6zM1383,1885h6v6h-6zM1388.8,1887.9h6v6h-6zM1394.5,1894.2h6v6h-6zM1400.2,1902.5h6v6h-6zM1406,1908.7h6v6h-6zM1411.8,1915.1h6v6h-6zM1417.5,1924.6h6v6h-6zM1423.2,1931h6v6h-6zM1429,1940.7h6v6h-6zM1434.8,1948.1h6v6h-6zM1440.5,1953.5h6v6h-6zM1446.2,1960.4h6v6h-6zM1452,1966.1h6v6h-6zM1457.8,1967.7h6v6h-6zM1463.5,1971.2h6v6h-6zM1469.2,1973h6v6h-6zM1475,1976.3h6v6h-6zM1480.8,1977.2h6v6h-6zM1486.5,1977.1h6v6h-6zM1492.2,1978.7h6v6h-6zM1498,1978.9h6v6h-6zM1503.8,1978.6h6v6h-6zM1509.5,1979.9h6v6h-6zM1515.2,1978.9h6v6h-6zM1521,1980.8h6v6h-6zM1526.8,1978.7h6v6h-6zM1532.5,1976.3h6v6h-6zM1538.2,1978.6h6v6h-6zM1544,1979.7h6v6h-6zM1549.8,1981.1h6v6h-6zM1555.5,1980.6h6v6h-6zM1561.2,1979.6h6v6h-6zM1567,1980.1h6v6h-6z" fill="#000"/>
<path d="M603.2,2259.5L603.2,2259.4L608.7,2259.3L614.2,2259.2L619.7,2259.1L625.1,2258.9L630.6,2258.6L636.1,2258.2L641.6,2257.7L647.1,2256.9L652.6,2255.9L658,2254.6L663.5,2252.8L669,2250.6L674.5,2247.7L680,2244.1L685.5,2239.7L690.9,2234.2L696.4,2227.7L701.9,2220L707.4,2211L712.9,2200.7L718.3,2189.1L723.8,2176.2L729.3,2162.2L734.8,2147.3L740.3,2131.7L745.8,2115.7L751.2,2099.7L756.7,2084.1L762.2,2069.3L767.7,2055.9L773.2,2044.2L778.7,2034.6L784.1,2027.5L789.6,2023.2L795.1,2021.7L800.6,2023.2L806.1,2027.5L811.5,2034.6L817,2044.2L822.5,2055.9L828,2069.3L833.5,2084.1L839,2099.7L844.4,2115.7L849.9,2131.7L855.4,2147.3L860.9,2162.2L866.4,2176.2L871.9,2189.1L877.3,2200.7L882.8,2211L888.3,2220L893.8,2227.7L899.3,2234.2L904.7,2239.7L910.2,2244.1L915.7,2247.7L921.2,2250.6L926.7,2252.8L932.2,2254.6L937.6,2255.9L943.1,2256.9L948.6,2257.7L954.1,2258.2L959.6,2258.6L965.1,2258.9L970.5,2259.1L976,2259.2L981.5,2259.3L987,2259.4L987,2259.5Z" fill="#000080"/>
<path d="M806.7,2259.5L806.7,2259.5L809.2,2259.4L811.7,2259.4L814.2,2259.4L816.7,2259.3L819.2,2259.2L821.7,2259.1L824.2,2258.9L826.7,2258.7L829.2,2258.3L831.7,2257.9L834.2,2257.3L836.7,2256.6L839.2,2255.7L841.7,2254.5L844.2,2253L846.7,2251.3L849.2,2249.2L851.7,2246.6L854.2,2243.7L856.7,2240.4L859.2,2236.6L861.7,2232.4L864.1,2227.9L866.6,2223L869.1,2218L871.6,2212.7L874.1,2207.5L876.6,2202.5L879.1,2197.7L881.6,2193.3L884.1,2189.5L886.6,2186.4L889.1,2184.1L891.6,2182.7L894.1,2182.2L896.6,2182.7L899.1,2184.1L901.6,2186.4L904.1,2189.5L906.6,2193.3L909.1,2197.7L911.6,2202.5L914.1,2207.5L916.6,2212.7L919.1,2218L921.6,2223L924.1,2227.9L926.5,2232.4L929,2236.6L931.5,2240.4L934,2243.7L936.5,2246.6L939,2249.2L941.5,2251.3L944,2253L946.5,2254.5L949,2255.7L951.5,2256.6L954,2257.3L956.5,2257.9L959,2258.3L961.5,2258.7L964,2258.9L966.5,2259.1L969,2259.2L971.5,2259.3L974,2259.4L976.5,2259.4L979,2259.4L981.5,2259.5L981.5,2259.5Z" fill="#808080"/>
<path d="M806.7,2259.5L806.7,2259.5L809.2,2259.4L811.7,2259.4L814.2,2259.4L816.7,2259.3L819.2,2259.2L821.7,2259.1L824.2,2258.9L826.7,2258.7L829.2,2258.3L831.7,2257.9L834.2,2257.3L836.7,2256.6L839.2,2255.7L841.7,2254.5L844.2,2253L846.7,2251.3L849.2,2249.2L851.7,2246.6L854.2,2243.7L856.7,2240.4L859.2,2236.6L861.7,2232.4L864.1,2227.9L866.6,2223L869.1,2218L871.6,2212.7L874.1,2207.5L876.6,2202.5L879.1,2197.7L881.6,2193.3L884.1,2189.5L886.6,2186.4L889.1,2184.1L891.6,2182.7L894.1,2182.2L896.6,2182.7L899.1,2184.1L901.6,2186.4L904.1,2189.5L906.6,2193.3L909.1,2197.7L911.6,2202.5L914.1,2207.5L916.6,2212.7L919.1,2218L921.6,2223L924.1,2227.9L926.5,2232.4L929,2236.6L931.5,2240.4L934,2243.7L936.5,2246.6L939,2249.2L941.5,2251.3L944,2253L946.5,2254.5L949,2255.7L951.5,2256.6L954,2257.3L956.5,2257.9L959,2258.3L961.5,2258.7L964,2258.9L966.5,2259.1L969,2259.2L971.5,2259.3L974,2259.4L976.5,2259.4L979,2259.4L981.5,2259.5L981.5,2259.5Z" fill="url(#hatch)"/>
<path d="M596.6,2259.4L599.1,2259.4L601.6,2259.4L604.1,2259.4L606.6,2259.3L609.1,2259.3L611.6,2259.3L614.1,2259.2L616.6,2259.2L619.1,2259.1L621.6,2259L624.1,2258.9L626.6,2258.8L629.1,2258.7L631.6,2258.5L634.1,2258.4L636.6,2258.2L639.1,2257.9L641.6,2257.7L644.1,2257.4L646.6,2257L649.1,2256.6L651.6,2256.1L654.1,2255.6L656.6,2255L659.2,2254.3L661.7,2253.5L664.2,2252.6L666.7,2251.6L669.2,2250.5L671.7,2249.3L674.2,2247.9L676.7,2246.4L679.2,2244.7L681.7,2242.8L684.2,2240.8L686.7,2238.5L689.2,2236.1L691.7,2233.4L694.2,2230.5L696.7,2227.3L699.2,2223.9L701.7,2220.3L704.2,2216.4L706.7,2212.2L709.2,2207.7L711.7,2203L714.2,2198L716.7,2192.7L719.2,2187.2L721.7,2181.3L724.2,2175.3L726.7,2169L729.2,2162.5L731.7,2155.8L734.2,2148.9L736.7,2141.9L739.2,2134.7L741.7,2127.5L744.2,2120.2L746.7,2112.9L749.2,2105.5L751.7,2098.3L754.2,2091.1L756.7,2084.1L759.2,2077.2L761.7,2070.5L764.2,2064.2L766.7,2058.1L769.2,2052.4L771.7,2047L774.2,2042.1L776.7,2037.7L779.2,2033.7L781.8,2030.3L784.3,2027.4L786.8,2025.1L789.3,2023.4L791.8,2022.2L794.3,2021.7L796.8,2021.8L799.3,2022.5L801.8,2023.9L804.3,2025.8L806.8,2028.3L809.3,2031.3L811.8,2034.9L814.3,2039L816.8,2043.5L819.3,2048.5L821.8,2053.8L824.3,2059.5L826.8,2065.4L829.3,2071.5L831.8,2077.8L834.3,2084.2L836.8,2090.5L839.3,2096.8L841.8,2102.9L844.3,2108.7L846.8,2114.3L849.3,2119.4L851.8,2124.1L854.3,2128.3L856.8,2131.9L859.3,2134.9L861.8,2137.3L864.3,2139.2L866.8,2140.5L869.3,2141.4L871.8,2141.9L874.3,2142.1L876.8,2142.2L879.3,2142.4L881.8,2142.7L884.3,2143.3L886.8,2144.3L889.3,2145.9L891.8,2148.2L894.3,2151.1L896.8,2154.8L899.3,2159.1L901.9,2164.1L904.4,2169.7L906.9,2175.7L909.4,2182.2L911.9,2188.8L914.4,2195.6L916.9,2202.3L919.4,2208.8L921.9,2215L924.4,2220.9L926.9,2226.4L929.4,2231.4L931.9,2235.9L934.4,2239.8L936.9,2243.3L939.4,2246.3L941.9,2248.8L944.4,2250.9L946.9,2252.6L949.4,2254.1L951.9,2255.2L954.4,2256.2L956.9,2256.9L959.4,2257.5L961.9,2257.9L964.4,2258.3L966.9,2258.6L969.4,2258.8L971.9,2258.9L974.4,2259.1L976.9,2259.2L979.4,2259.2L981.9,2259.3L984.4,2259.3L986.9,2259.4L989.4,2259.4L991.9,2259.4L994.4,2259.4L996.9,2259.4L999.4,2259.5L1001.9,2259.5L1004.4,2259.5L1006.9,2259.5L1009.4,2259.5L1011.9,2259.5L1014.4,2259.5L1016.9,2259.5L1019.4,2259.5L1021.9,2259.5L1024.5,2259.5L1027,2259.5L1029.5,2259.5L1032,2259.5L1034.5,2259.5L1037,2259.5L1039.5,2259.5L1042,2259.5L1044.5,2259.5L1047,2259.5L1049.5,2259.5L1052,2259.5L1054.5,2259.5L1057,2259.5L1059.5,2259.5L1062,2259.5L1064.5,2259.5L1067,2259.5L1069.5,2259.5L1072,2259.5L1074.5,2259.5L1077,2259.5L1079.5,2259.5L1082,2259.5L1084.5,2259.5" fill="none" stroke="#ff0000" stroke-width="1.0"/>
<path d="M595,2259.6h6v6h-6zM600.8,2238.4h6v6h-6zM606.5,2243.8h6v6h-6zM612.2,2247.5h6v6h-6zM618,2235.9h6v6h-6zM623.8,2245.9h6v6h-6zM629.5,2223.5h6v6h-6zM635.2,2232.2h6v6h-6zM641,2234.8h6v6h-6zM646.8,2228.3h6v6h-6zM652.5,2239.6h6v6h-6zM658.2,2228h6v6h-6zM664,2224.2h6v6h-6zM669.8,2223.1h6v6h-6zM675.5,2224.2h6v6h-6zM681.2,2231.6h6v6h-6zM687,2219.5h6v6h-6zM692.8,2225.1h6v6h-6zM698.5,2209.1h6v6h-6zM704.2,2206.3h6v6h-6zM710,2197.7h6v6h-6zM715.8,2177h6v6h-6zM721.5,2156.7h6v6h-6zM727.2,2145.5h6v6h-6zM733,2141.7h6v6h-6zM738.8,2125.8h6v6h-6zM744.5,2112.6h6v6h-6zM750.2,2093.7h6v6h-6zM756,2073.3h6v6h-6zM761.8,2056.5h6v6h-6zM767.5,2048.8h6v6h-6zM773.2,2034.9h6v6h-6zM779,2033.6h6v6h-6zM784.8,2024.1h6v6h-6zM790.5,2010.3h6v6h-6zM796.2,2010.8h6v6h-6zM802,2019.9h6v6h-6zM807.8,2029.4h6v6h-6zM813.5,2038.2h6v6h-6zM819.2,2055.7h6v6h-6zM825,2072.2h6v6h-6zM830.8,2076.3h6v6h-6zM836.5,2100.7h6v6h-6zM842.2,2105.1h6v6h-6zM848,2126.5h6v6h-6zM853.8,2129h6v6h-6zM859.5,2124.5h6v6h-6zM865.2,2134.1h6v6h-6zM871,2139.5h6v6h-6zM876.8,2137.6h6v6h-6zM882.5,2150h6v6h-6zM888.2,2138.6h6v6h-6zM894,2156.6h6v6h-6zM899.8,2167.8h6v6h-6zM905.5,2178.3h6v6h-6zM911.2,2192.1h6v6h-6zM917,2208.8h6v6h-6zM922.8,2222.3h6v6h-6zM928.5,2231.3h6v6h-6zM934.2,2240.3h6v6h-6zM940,2244.2h6v6h-6zM945.8,2249.1h6v6h-6zM960.7,2259h6v6h-6zM978.3,2252h6v6h-6zM983.5,2247h6v6h-6zM988.8,2256h6v6h-6zM1011.6,2259h6v6h-6zM1029.2,2259h6v6h-6zM1034.5,2257h6v6h-6zM1052,2257h6v6h-6zM1074.9,2261h6v6h-6z" fill="#000"/>
<path d="M1085.2,2259.5L1085.2,2259.4L1091,2259.3L1096.9,2259.2L1102.7,2259.1L1108.5,2258.9L1114.3,2258.6L1120.1,2258.2L1125.9,2257.6L1131.8,2256.9L1137.6,2255.9L1143.4,2254.5L1149.2,2252.8L1155,2250.5L1160.8,2247.6L1166.7,2243.9L1172.5,2239.4L1178.3,2233.9L1184.1,2227.3L1189.9,2219.5L1195.7,2210.4L1201.6,2200L1207.4,2188.2L1213.2,2175.2L1219,2161.1L1224.8,2146L1230.6,2130.2L1236.5,2114L1242.3,2097.8L1248.1,2082L1253.9,2067.1L1259.7,2053.5L1265.5,2041.7L1271.4,2032L1277.2,2024.8L1283,2020.4L1288.8,2018.9L1294.6,2020.4L1300.4,2024.8L1306.2,2032L1312.1,2041.7L1317.9,2053.5L1323.7,2067.1L1329.5,2082L1335.3,2097.8L1341.1,2114L1347,2130.2L1352.8,2146L1358.6,2161.1L1364.4,2175.2L1370.2,2188.2L1376,2200L1381.9,2210.4L1387.7,2219.5L1393.5,2227.3L1399.3,2233.9L1405.1,2239.4L1410.9,2243.9L1416.8,2247.6L1422.6,2250.5L1428.4,2252.8L1434.2,2254.5L1440,2255.9L1445.8,2256.9L1451.7,2257.6L1457.5,2258.2L1463.3,2258.6L1469.1,2258.9L1474.9,2259.1L1480.7,2259.2L1486.6,2259.3L1492.4,2259.4L1492.4,2259.5Z" fill="#000080"/>
<path d="M1084.5,2259.5L1084.5,2258L1087.6,2258L1090.7,2257.9L1093.8,2257.9L1096.8,2257.9L1099.9,2257.8L1103,2257.8L1106.1,2257.7L1109.2,2257.7L1112.3,2257.7L1115.4,2257.6L1118.4,2257.6L1121.5,2257.5L1124.6,2257.5L1127.7,2257.5L1130.8,2257.4L1133.9,2257.4L1137,2257.3L1140,2257.3L1143.1,2257.3L1146.2,2257.2L1149.3,2257.2L1152.4,2257.1L1155.5,2257.1L1158.6,2257.1L1161.6,2257L1164.7,2257L1167.8,2257L1170.9,2256.9L1174,2256.9L1177.1,2256.9L1180.1,2256.9L1183.2,2256.8L1186.3,2256.8L1189.4,2256.8L1192.5,2256.7L1195.6,2256.7L1198.7,2256.7L1201.7,2256.7L1204.8,2256.7L1207.9,2256.6L1211,2256.6L1214.1,2256.6L1217.2,2256.6L1220.3,2256.6L1223.3,2256.6L1226.4,2256.5L1229.5,2256.5L1232.6,2256.5L1235.7,2256.5L1238.8,2256.5L1241.9,2256.5L1244.9,2256.5L1248,2256.5L1251.1,2256.5L1254.2,2256.5L1257.3,2256.5L1260.4,2256.5L1263.5,2256.5L1266.5,2256.5L1269.6,2256.5L1272.7,2256.5L1275.8,2256.5L1278.9,2256.6L1282,2256.6L1285.1,2256.6L1288.1,2256.6L1291.2,2256.6L1294.3,2256.6L1297.4,2256.6L1300.5,2256.6L1303.6,2256.6L1306.7,2256.5L1309.7,2256.4L1312.8,2256.3L1315.9,2256.1L1319,2255.9L1322.1,2255.5L1325.2,2255L1328.2,2254.3L1331.3,2253.5L1334.4,2252.3L1337.5,2250.9L1340.6,2249.1L1343.7,2246.9L1346.8,2244.3L1349.8,2241.1L1352.9,2237.3L1356,2233L1359.1,2228.2L1362.2,2222.7L1365.3,2216.7L1368.4,2210.3L1371.4,2203.5L1374.5,2196.5L1377.6,2189.4L1380.7,2182.5L1383.8,2175.8L1386.9,2169.7L1390,2164.3L1393,2159.7L1396.1,2156.2L1399.2,2153.9L1402.3,2152.9L1405.4,2153.2L1408.5,2154.7L1411.6,2157.6L1414.6,2161.5L1417.7,2166.4L1420.8,2172.2L1423.9,2178.6L1427,2185.5L1430.1,2192.6L1433.2,2199.7L1436.2,2206.8L1439.3,2213.5L1442.4,2219.9L1445.5,2225.7L1448.6,2231.1L1451.7,2235.8L1454.8,2240L1457.8,2243.6L1460.9,2246.7L1464,2249.2L1467.1,2251.3L1470.2,2253.1L1473.3,2254.4L1476.4,2255.5L1479.4,2256.4L1482.5,2257L1485.6,2257.5L1488.7,2257.9L1491.8,2258.2L1494.9,2258.4L1497.9,2258.6L1501,2258.7L1504.1,2258.8L1507.2,2258.9L1510.3,2258.9L1513.4,2259L1516.5,2259L1519.5,2259L1522.6,2259L1525.7,2259.1L1528.8,2259.1L1531.9,2259.1L1535,2259.1L1538.1,2259.1L1541.1,2259.2L1544.2,2259.2L1547.3,2259.2L1550.4,2259.2L1553.5,2259.2L1556.6,2259.2L1559.7,2259.2L1562.7,2259.3L1565.8,2259.3L1568.9,2259.3L1572,2259.3L1572,2259.5Z" fill="#808080"/>
<path d="M1084.5,2259.5L1084.5,2258L1087.6,2258L1090.7,2257.9L1093.8,2257.9L1096.8,2257.9L1099.9,2257.8L1103,2257.8L1106.1,2257.7L1109.2,2257.7L1112.3,2257.7L1115.4,2257.6L1118.4,2257.6L1121.5,2257.5L1124.6,2257.5L1127.7,2257.5L1130.8,2257.4L1133.9,2257.4L1137,2257.3L1140,2257.3L1143.1,2257.3L1146.2,2257.2L1149.3,2257.2L1152.4,2257.1L1155.5,2257.1L1158.6,2257.1L1161.6,2257L1164.7,2257L1167.8,2257L1170.9,2256.9L1174,2256.9L1177.1,2256.9L1180.1,2256.9L1183.2,2256.8L1186.3,2256.8L1189.4,2256.8L1192.5,2256.7L1195.6,2256.7L1198.7,2256.7L1201.7,2256.7L1204.8,2256.7L1207.9,2256.6L1211,2256.6L1214.1,2256.6L1217.2,2256.6L1220.3,2256.6L1223.3,2256.6L1226.4,2256.5L1229.5,2256.5L1232.6,2256.5L1235.7,2256.5L1238.8,2256.5L1241.9,2256.5L1244.9,2256.5L1248,2256.5L1251.1,2256.5L1254.2,2256.5L1257.3,2256.5L1260.4,2256.5L1263.5,2256.5L1266.5,2256.5L1269.6,2256.5L1272.7,2256.5L1275.8,2256.5L1278.9,2256.6L1282,2256.6L1285.1,2256.6L1288.1,2256.6L1291.2,2256.6L1294.3,2256.6L1297.4,2256.6L1300.5,2256.6L1303.6,2256.6L1306.7,2256.5L1309.7,2256.4L1312.8,2256.3L1315.9,2256.1L1319,2255.9L1322.1,2255.5L1325.2,2255L1328.2,2254.3L1331.3,2253.5L1334.4,2252.3L1337.5,2250.9L1340.6,2249.1L1343.7,2246.9L1346.8,2244.3L1349.8,2241.1L1352.9,2237.3L1356,2233L1359.1,2228.2L1362.2,2222.7L1365.3,2216.7L1368.4,2210.3L1371.4,2203.5L1374.5,2196.5L1377.6,2189.4L1380.7,2182.5L1383.8,2175.8L1386.9,2169.7L1390,2164.3L1393,2159.7L1396.1,2156.2L1399.2,2153.9L1402.3,2152.9L1405.4,2153.2L1408.5,2154.7L1411.6,2157.6L1414.6,2161.5L1417.7,2166.4L1420.8,2172.2L1423.9,2178.6L1427,2185.5L1430.1,2192.6L1433.2,2199.7L1436.2,2206.8L1439.3,2213.5L1442.4,2219.9L1445.5,2225.7L1448.6,2231.1L1451.7,2235.8L1454.8,2240L1457.8,2243.6L1460.9,2246.7L1464,2249.2L1467.1,2251.3L1470.2,2253.1L1473.3,2254.4L1476.4,2255.5L1479.4,2256.4L1482.5,2257L1485.6,2257.5L1488.7,2257.9L1491.8,2258.2L1494.9,2258.4L1497.9,2258.6L1501,2258.7L1504.1,2258.8L1507.2,2258.9L1510.3,2258.9L1513.4,2259L1516.5,2259L1519.5,2259L1522.6,2259L1525.7,2259.1L1528.8,2259.1L1531.9,2259.1L1535,2259.1L1538.1,2259.1L1541.1,2259.2L1544.2,2259.2L1547.3,2259.2L1550.4,2259.2L1553.5,2259.2L1556.6,2259.2L1559.7,2259.2L1562.7,2259.3L1565.8,2259.3L1568.9,2259.3L1572,2259.3L1572,2259.5Z" fill="url(#hatch)"/>
<path d="M1084.5,2259.4L1087,2259.4L1089.5,2259.3L1092,2259.3L1094.5,2259.3L1097,2259.2L1099.5,2259.2L1102,2259.1L1104.5,2259L1107,2258.9L1109.5,2258.8L1112,2258.7L1114.5,2258.6L1117,2258.4L1119.5,2258.2L1122,2258L1124.5,2257.8L1127,2257.5L1129.5,2257.2L1132,2256.9L1134.5,2256.5L1137,2256L1139.5,2255.5L1142,2254.9L1144.5,2254.2L1147,2253.5L1149.5,2252.7L1152,2251.7L1154.5,2250.7L1157,2249.6L1159.5,2248.3L1162,2246.9L1164.5,2245.4L1167,2243.7L1169.5,2241.8L1172,2239.8L1174.5,2237.6L1177,2235.2L1179.5,2232.6L1182,2229.8L1184.5,2226.8L1187,2223.6L1189.5,2220.1L1192,2216.4L1194.5,2212.4L1197,2208.2L1199.5,2203.8L1202,2199.1L1204.5,2194.2L1207,2189L1209.5,2183.6L1212,2178L1214.5,2172.1L1217,2166.1L1219.5,2159.8L1222,2153.4L1224.5,2146.8L1227,2140.1L1229.5,2133.3L1232,2126.4L1234.5,2119.4L1237,2112.5L1239.5,2105.5L1242,2098.5L1244.5,2091.7L1247,2084.9L1249.5,2078.3L1252,2071.8L1254.5,2065.6L1257,2059.6L1259.5,2054L1262,2048.6L1264.5,2043.6L1267,2039L1269.5,2034.8L1272,2031L1274.5,2027.8L1277,2025L1279.5,2022.7L1282,2020.9L1284.5,2019.7L1287,2019L1289.5,2018.9L1292,2019.3L1294.5,2020.3L1297,2021.8L1299.5,2023.8L1302,2026.3L1304.5,2029.4L1307,2032.8L1309.5,2036.8L1312,2041.1L1314.5,2045.8L1317,2050.8L1319.5,2056.1L1322,2061.6L1324.5,2067.3L1327,2073.1L1329.5,2079L1332,2084.9L1334.5,2090.8L1337,2096.5L1339.5,2102.1L1342,2107.5L1344.5,2112.5L1347,2117.2L1349.5,2121.4L1352,2125.2L1354.5,2128.5L1357,2131.3L1359.5,2133.5L1362,2135.2L1364.5,2136.3L1367,2136.9L1369.5,2137.1L1372,2136.7L1374.5,2136.1L1377,2135.1L1379.5,2133.9L1382,2132.7L1384.5,2131.4L1387,2130.3L1389.5,2129.4L1392,2128.9L1394.5,2128.7L1397,2129.1L1399.5,2130.1L1402,2131.7L1404.5,2134L1407,2136.9L1409.5,2140.5L1412,2144.7L1414.5,2149.6L1417,2154.9L1419.5,2160.6L1422,2166.8L1424.5,2173.1L1427,2179.6L1429.5,2186.2L1432,2192.8L1434.5,2199.2L1437,2205.4L1439.5,2211.3L1442,2217L1444.5,2222.2L1447,2227.1L1449.5,2231.5L1452,2235.5L1454.5,2239.1L1457,2242.3L1459.5,2245.1L1462,2247.6L1464.5,2249.7L1467,2251.5L1469.5,2253L1472,2254.3L1474.5,2255.3L1477,2256.2L1479.5,2256.9L1482,2257.4L1484.5,2257.9L1487,2258.3L1489.5,2258.6L1492,2258.8L1494.5,2259L1497,2259.1L1499.5,2259.2L1502,2259.3L1504.5,2259.3L1507,2259.4L1509.5,2259.4L1512,2259.4L1514.5,2259.4L1517,2259.5L1519.5,2259.5L1522,2259.5L1524.5,2259.5L1527,2259.5L1529.5,2259.5L1532,2259.5L1534.5,2259.5L1537,2259.5L1539.5,2259.5L1542,2259.5L1544.5,2259.5L1547,2259.5L1549.5,2259.5L1552,2259.5L1554.5,2259.5L1557,2259.5L1559.5,2259.5L1562,2259.5L1564.5,2259.5L1567,2259.5L1569.5,2259.5L1572,2259.5" fill="none" stroke="#ff0000" stroke-width="1.0"/>
<path d="M1082,2253h6v6h-6zM1087.8,2252.9h6v6h-6zM1093.5,2251.3h6v6h-6zM1099.2,2249.6h6v6h-6zM1105,2248.1h6v6h-6zM1110.8,2247.3h6v6h-6zM1116.5,2245.9h6v6h-6zM1122.2,2244h6v6h-6zM1128,2241.6h6v6h-6zM1133.8,2239.3h6v6h-6zM1139.5,2236.6h6v6h-6zM1145.2,2233.4h6v6h-6zM1151,2227.5h6v6h-6zM1156.8,2224.6h6v6h-6zM1162.5,2219.6h6v6h-6zM1168.2,2217.1h6v6h-6zM1174,2210.8h6v6h-6zM1179.8,2205.5h6v6h-6zM1185.5,2198.6h6v6h-6zM1191.2,2192.1h6v6h-6zM1197,2182.9h6v6h-6zM1202.8,2173.3h6v6h-6zM1208.5,2162.3h6v6h-6zM1214.2,2153h6v6h-6zM1220,2139.1h6v6h-6zM1225.8,2122.9h6v6h-6zM1231.5,2107.1h6v6h-6zM1237.2,2093.6h6v6h-6zM1243,2079h6v6h-6zM1248.8,2063h6v6h-6zM1254.5,2049.5h6v6h-6zM1260.2,2036h6v6h-6zM1266,2022.5h6v6h-6zM1271.8,2012.5h6v6h-6zM1277.5,2005.4h6v6h-6zM1283.2,2000h6v6h-6zM1289,1999.2h6v6h-6zM1294.8,2005.5h6v6h-6zM1300.5,2013.4h6v6h-6zM1306.2,2025.5h6v6h-6zM1312,2037.3h6v6h-6zM1317.8,2051.6h6v6h-6zM1323.5,2064.3h6v6h-6zM1329.2,2079.2h6v6h-6zM1335,2093.2h6v6h-6zM1340.8,2104.2h6v6h-6zM1346.5,2114.8h6v6h-6zM1352.2,2123h6v6h-6zM1358,2129.6h6v6h-6zM1363.8,2131.1h6v6h-6zM1369.5,2129.8h6v6h-6zM1375.2,2128.3h6v6h-6zM1381,2126.7h6v6h-6zM1386.8,2122.5h6v6h-6zM1392.5,2122.7h6v6h-6zM1398.2,2125.5h6v6h-6zM1404,2131.7h6v6h-6zM1409.8,2140.7h6v6h-6zM1415.5,2152.4h6v6h-6zM1421.2,2169h6v6h-6zM1427,2182.5h6v6h-6zM1432.8,2198.1h6v6h-6zM1438.5,2210.3h6v6h-6zM1444.2,2222.3h6v6h-6zM1450,2232h6v6h-6zM1455.8,2239h6v6h-6zM1461.5,2243.4h6v6h-6zM1467.2,2247h6v6h-6zM1473,2252h6v6h-6zM1478.8,2251.2h6v6h-6zM1484.5,2253.5h6v6h-6zM1490.2,2255.6h6v6h-6zM1496,2253.5h6v6h-6zM1501.8,2255.4h6v6h-6zM1507.5,2255.4h6v6h-6zM1513.2,2254.2h6v6h-6zM1519,2255.2h6v6h-6zM1524.8,2254.9h6v6h-6zM1530.5,2254.1h6v6h-6zM1536.2,2254.9h6v6h-6zM1542,2257.3h6v6h-6zM1547.8,2255.5h6v6h-6zM1553.5,2256.3h6v6h-6zM1559.2,2256.3h6v6h-6zM1565,2256.3h6v6h-6z" fill="#000"/>
<path d="M634.9,2538L634.9,2537.9L639.3,2537.8L643.6,2537.7L648,2537.6L652.3,2537.4L656.7,2537.1L661.1,2536.7L665.4,2536.1L669.8,2535.3L674.1,2534.2L678.5,2532.9L682.8,2531L687.2,2528.7L691.5,2525.6L695.9,2521.9L700.3,2517.2L704.6,2511.5L709,2504.6L713.3,2496.5L717.7,2487.1L722,2476.3L726.4,2464.1L730.8,2450.7L735.1,2436L739.5,2420.3L743.8,2403.9L748.2,2387.2L752.5,2370.4L756.9,2354L761.3,2338.5L765.6,2324.5L770,2312.2L774.3,2302.2L778.7,2294.7L783,2290.1L787.4,2288.6L791.8,2290.1L796.1,2294.7L800.5,2302.2L804.8,2312.2L809.2,2324.5L813.5,2338.5L817.9,2354L822.3,2370.4L826.6,2387.2L831,2403.9L835.3,2420.3L839.7,2436L844,2450.7L848.4,2464.1L852.8,2476.3L857.1,2487.1L861.5,2496.5L865.8,2504.6L870.2,2511.5L874.5,2517.2L878.9,2521.9L883.3,2525.6L887.6,2528.7L892,2531L896.3,2532.9L900.7,2534.2L905,2535.3L909.4,2536.1L913.7,2536.7L918.1,2537.1L922.5,2537.4L926.8,2537.6L931.2,2537.7L935.5,2537.8L939.9,2537.9L939.9,2538Z" fill="#000080"/>
<path d="M758.7,2538L758.7,2538L762.6,2537.9L766.5,2537.9L770.4,2537.9L774.3,2537.8L778.2,2537.8L782.1,2537.6L786,2537.5L789.9,2537.3L793.8,2537L797.7,2536.6L801.6,2536.2L805.5,2535.5L809.4,2534.7L813.3,2533.7L817.2,2532.5L821.1,2531L825,2529.2L828.9,2527L832.8,2524.5L836.7,2521.7L840.6,2518.5L844.5,2514.9L848.4,2511L852.3,2506.9L856.2,2502.5L860.1,2498.1L864,2493.6L867.9,2489.3L871.8,2485.2L875.7,2481.5L879.6,2478.2L883.5,2475.6L887.4,2473.6L891.3,2472.4L895.2,2472L899.1,2472.4L903,2473.6L906.9,2475.6L910.8,2478.2L914.7,2481.5L918.6,2485.2L922.5,2489.3L926.4,2493.6L930.3,2498.1L934.2,2502.5L938.1,2506.9L942,2511L945.9,2514.9L949.8,2518.5L953.7,2521.7L957.6,2524.5L961.5,2527L965.4,2529.2L969.3,2531L973.2,2532.5L977.1,2533.7L981,2534.7L984.9,2535.5L988.8,2536.2L992.7,2536.6L996.6,2537L1000.5,2537.3L1004.4,2537.5L1008.3,2537.6L1012.2,2537.8L1016.1,2537.8L1020,2537.9L1023.9,2537.9L1027.8,2537.9L1031.7,2538L1031.7,2538Z" fill="#808080"/>
<path d="M758.7,2538L758.7,2538L762.6,2537.9L766.5,2537.9L770.4,2537.9L774.3,2537.8L778.2,2537.8L782.1,2537.6L786,2537.5L789.9,2537.3L793.8,2537L797.7,2536.6L801.6,2536.2L805.5,2535.5L809.4,2534.7L813.3,2533.7L817.2,2532.5L821.1,2531L825,2529.2L828.9,2527L832.8,2524.5L836.7,2521.7L840.6,2518.5L844.5,2514.9L848.4,2511L852.3,2506.9L856.2,2502.5L860.1,2498.1L864,2493.6L867.9,2489.3L871.8,2485.2L875.7,2481.5L879.6,2478.2L883.5,2475.6L887.4,2473.6L891.3,2472.4L895.2,2472L899.1,2472.4L903,2473.6L906.9,2475.6L910.8,2478.2L914.7,2481.5L918.6,2485.2L922.5,2489.3L926.4,2493.6L930.3,2498.1L934.2,2502.5L938.1,2506.9L942,2511L945.9,2514.9L949.8,2518.5L953.7,2521.7L957.6,2524.5L961.5,2527L965.4,2529.2L969.3,2531L973.2,2532.5L977.1,2533.7L981,2534.7L984.9,2535.5L988.8,2536.2L992.7,2536.6L996.6,2537L1000.5,2537.3L1004.4,2537.5L1008.3,2537.6L1012.2,2537.8L1016.1,2537.8L1020,2537.9L1023.9,2537.9L1027.8,2537.9L1031.7,2538L1031.7,2538Z" fill="url(#hatch)"/>
<path d="M596.6,2538L599.1,2538L601.6,2538L604.1,2538L606.6,2538L609.1,2538L611.6,2538L614.1,2538L616.6,2538L619.1,2538L621.6,2538L624.1,2538L626.6,2537.9L629.1,2537.9L631.6,2537.9L634.1,2537.9L636.6,2537.9L639.1,2537.8L641.6,2537.8L644.1,2537.7L646.6,2537.6L649.1,2537.5L651.6,2537.4L654.1,2537.3L656.6,2537.1L659.2,2536.8L661.7,2536.6L664.2,2536.3L666.7,2535.9L669.2,2535.4L671.7,2534.9L674.2,2534.2L676.7,2533.5L679.2,2532.6L681.7,2531.6L684.2,2530.4L686.7,2529L689.2,2527.4L691.7,2525.5L694.2,2523.5L696.7,2521.1L699.2,2518.4L701.7,2515.4L704.2,2512.1L706.7,2508.4L709.2,2504.3L711.7,2499.7L714.2,2494.8L716.7,2489.4L719.2,2483.5L721.7,2477.2L724.2,2470.4L726.7,2463.2L729.2,2455.6L731.7,2447.6L734.2,2439.1L736.7,2430.3L739.2,2421.3L741.7,2412L744.2,2402.5L746.7,2392.8L749.2,2383.1L751.7,2373.5L754.2,2364L756.7,2354.6L759.2,2345.6L761.7,2336.9L764.2,2328.7L766.7,2321L769.2,2314L771.7,2307.7L774.2,2302.2L776.7,2297.5L779.2,2293.7L781.8,2290.8L784.3,2289L786.8,2288.1L789.3,2288.2L791.8,2289.3L794.3,2291.4L796.8,2294.4L799.3,2298.3L801.8,2303L804.3,2308.5L806.8,2314.7L809.3,2321.5L811.8,2328.8L814.3,2336.5L816.8,2344.6L819.3,2352.9L821.8,2361.3L824.3,2369.7L826.8,2378.1L829.3,2386.3L831.8,2394.3L834.3,2402L836.8,2409.3L839.3,2416.2L841.8,2422.6L844.3,2428.6L846.8,2434L849.3,2438.9L851.8,2443.2L854.3,2447L856.8,2450.2L859.3,2453L861.8,2455.4L864.3,2457.3L866.8,2458.8L869.3,2460L871.8,2461L874.3,2461.7L876.8,2462.3L879.3,2462.7L881.8,2463.1L884.3,2463.6L886.8,2464L889.3,2464.6L891.8,2465.3L894.3,2466.1L896.8,2467.1L899.3,2468.3L901.9,2469.7L904.4,2471.4L906.9,2473.2L909.4,2475.3L911.9,2477.5L914.4,2479.9L916.9,2482.5L919.4,2485.2L921.9,2488L924.4,2490.8L926.9,2493.7L929.4,2496.7L931.9,2499.6L934.4,2502.5L936.9,2505.4L939.4,2508.1L941.9,2510.8L944.4,2513.3L946.9,2515.8L949.4,2518L951.9,2520.2L954.4,2522.2L956.9,2524L959.4,2525.7L961.9,2527.2L964.4,2528.6L966.9,2529.9L969.4,2531L971.9,2532L974.4,2532.9L976.9,2533.7L979.4,2534.3L981.9,2534.9L984.4,2535.4L986.9,2535.9L989.4,2536.2L991.9,2536.6L994.4,2536.8L996.9,2537L999.4,2537.2L1001.9,2537.4L1004.4,2537.5L1006.9,2537.6L1009.4,2537.7L1011.9,2537.7L1014.4,2537.8L1016.9,2537.8L1019.4,2537.9L1021.9,2537.9L1024.5,2537.9L1027,2537.9L1029.5,2538L1032,2538L1034.5,2538L1037,2538L1039.5,2538L1042,2538L1044.5,2538L1047,2538L1049.5,2538L1052,2538L1054.5,2538L1057,2538L1059.5,2538L1062,2538L1064.5,2538L1067,2538L1069.5,2538L1072,2538L1074.5,2538L1077,2538L1079.5,2538L1082,2538L1084.5,2538" fill="none" stroke="#ff0000" stroke-width="1.0"/>
<path d="M595,2534.5h6v6h-6zM600.8,2534.7h6v6h-6zM606.5,2533.6h6v6h-6zM612.2,2534h6v6h-6zM618,2532.8h6v6h-6zM623.8,2533.3h6v6h-6zM629.5,2533.8h6v6h-6zM635.2,2532.6h6v6h-6zM641,2532.4h6v6h-6zM646.8,2532.2h6v6h-6zM652.5,2530.3h6v6h-6zM658.2,2529.9h6v6h-6zM664,2526.7h6v6h-6zM669.8,2525.3h6v6h-6zM675.5,2523.7h6v6h-6zM681.2,2520.6h6v6h-6zM687,2516.2h6v6h-6zM692.8,2513h6v6h-6zM698.5,2506.3h6v6h-6zM704.2,2499.6h6v6h-6zM710,2489.2h6v6h-6zM715.8,2477.5h6v6h-6zM721.5,2462.5h6v6h-6zM727.2,2446.8h6v6h-6zM733,2427.8h6v6h-6zM738.8,2406.3h6v6h-6zM744.5,2385.8h6v6h-6zM750.2,2362.7h6v6h-6zM756,2342.5h6v6h-6zM761.8,2323.6h6v6h-6zM767.5,2305.7h6v6h-6zM773.2,2292.3h6v6h-6zM779,2283.6h6v6h-6zM784.8,2279.1h6v6h-6zM790.5,2282.8h6v6h-6zM796.2,2293.4h6v6h-6zM802,2306.3h6v6h-6zM807.8,2321.8h6v6h-6zM813.5,2339.8h6v6h-6zM819.2,2359.3h6v6h-6zM825,2377.7h6v6h-6zM830.8,2396.3h6v6h-6zM836.5,2412.6h6v6h-6zM842.2,2426.7h6v6h-6zM848,2437.7h6v6h-6zM853.8,2446.7h6v6h-6zM859.5,2452.5h6v6h-6zM865.2,2455.8h6v6h-6zM871,2457.8h6v6h-6zM876.8,2458.2h6v6h-6zM882.5,2459.5h6v6h-6zM888.2,2461.6h6v6h-6zM894,2463.9h6v6h-6zM899.8,2465.5h6v6h-6zM905.5,2470.3h6v6h-6zM911.2,2475.3h6v6h-6zM917,2482.6h6v6h-6zM922.8,2488.5h6v6h-6zM928.5,2494.7h6v6h-6zM934.2,2500.9h6v6h-6zM940,2508.2h6v6h-6zM945.8,2513.5h6v6h-6zM951.5,2518.4h6v6h-6zM957.2,2522.1h6v6h-6zM963,2525.6h6v6h-6zM968.8,2527.7h6v6h-6zM974.5,2529.9h6v6h-6zM980.2,2530.4h6v6h-6zM986,2532.4h6v6h-6zM991.8,2533.3h6v6h-6zM997.5,2534h6v6h-6zM1003.2,2533.4h6v6h-6zM1009,2534.9h6v6h-6zM1014.8,2534.5h6v6h-6zM1020.5,2533.7h6v6h-6zM1026.2,2532.9h6v6h-6zM1032,2535.2h6v6h-6zM1037.8,2534.4h6v6h-6zM1043.5,2534h6v6h-6zM1049.2,2534h6v6h-6zM1055,2533h6v6h-6zM1060.8,2533.6h6v6h-6zM1066.5,2534.2h6v6h-6zM1072.2,2533.2h6v6h-6zM1078,2533.4h6v6h-6z" fill="#000"/>
<path d="M1104,2538L1104,2537.9L1108.8,2537.8L1113.5,2537.7L1118.3,2537.6L1123,2537.4L1127.7,2537.2L1132.5,2536.8L1137.2,2536.3L1141.9,2535.6L1146.7,2534.7L1151.4,2533.5L1156.1,2531.8L1160.9,2529.8L1165.6,2527.1L1170.3,2523.8L1175.1,2519.6L1179.8,2514.6L1184.6,2508.6L1189.3,2501.4L1194,2493.1L1198.8,2483.6L1203.5,2472.8L1208.2,2461L1213,2448L1217.7,2434.2L1222.4,2419.7L1227.2,2404.9L1231.9,2390.1L1236.6,2375.7L1241.4,2362.1L1246.1,2349.6L1250.9,2338.8L1255.6,2330L1260.3,2323.4L1265.1,2319.4L1269.8,2318L1274.5,2319.4L1279.3,2323.4L1284,2330L1288.7,2338.8L1293.5,2349.6L1298.2,2362.1L1303,2375.7L1307.7,2390.1L1312.4,2404.9L1317.2,2419.7L1321.9,2434.2L1326.6,2448L1331.4,2461L1336.1,2472.8L1340.8,2483.6L1345.6,2493.1L1350.3,2501.4L1355,2508.6L1359.8,2514.6L1364.5,2519.6L1369.2,2523.8L1374,2527.1L1378.7,2529.8L1383.5,2531.8L1388.2,2533.5L1392.9,2534.7L1397.7,2535.6L1402.4,2536.3L1407.1,2536.8L1411.9,2537.2L1416.6,2537.4L1421.3,2537.6L1426.1,2537.7L1430.8,2537.8L1435.5,2537.9L1435.5,2538Z" fill="#000080"/>
<path d="M1260.1,2538L1260.1,2538L1263.5,2538L1266.9,2538L1270.3,2537.9L1273.7,2537.9L1277.1,2537.9L1280.5,2537.8L1283.9,2537.7L1287.3,2537.6L1290.7,2537.4L1294.2,2537.2L1297.6,2536.9L1301,2536.5L1304.4,2536L1307.8,2535.4L1311.2,2534.7L1314.6,2533.8L1318,2532.7L1321.4,2531.4L1324.8,2529.9L1328.3,2528.2L1331.7,2526.2L1335.1,2524.1L1338.5,2521.8L1341.9,2519.3L1345.3,2516.7L1348.7,2514L1352.1,2511.3L1355.5,2508.7L1358.9,2506.3L1362.4,2504L1365.8,2502.1L1369.2,2500.5L1372.6,2499.3L1376,2498.5L1379.4,2498.3L1382.8,2498.5L1386.2,2499.3L1389.6,2500.5L1393,2502.1L1396.4,2504L1399.9,2506.3L1403.3,2508.7L1406.7,2511.3L1410.1,2514L1413.5,2516.7L1416.9,2519.3L1420.3,2521.8L1423.7,2524.1L1427.1,2526.2L1430.5,2528.2L1434,2529.9L1437.4,2531.4L1440.8,2532.7L1444.2,2533.8L1447.6,2534.7L1451,2535.4L1454.4,2536L1457.8,2536.5L1461.2,2536.9L1464.6,2537.2L1468.1,2537.4L1471.5,2537.6L1474.9,2537.7L1478.3,2537.8L1481.7,2537.9L1485.1,2537.9L1488.5,2537.9L1491.9,2538L1495.3,2538L1498.7,2538L1498.7,2538Z" fill="#808080"/>
<path d="M1260.1,2538L1260.1,2538L1263.5,2538L1266.9,2538L1270.3,2537.9L1273.7,2537.9L1277.1,2537.9L1280.5,2537.8L1283.9,2537.7L1287.3,2537.6L1290.7,2537.4L1294.2,2537.2L1297.6,2536.9L1301,2536.5L1304.4,2536L1307.8,2535.4L1311.2,2534.7L1314.6,2533.8L1318,2532.7L1321.4,2531.4L1324.8,2529.9L1328.3,2528.2L1331.7,2526.2L1335.1,2524.1L1338.5,2521.8L1341.9,2519.3L1345.3,2516.7L1348.7,2514L1352.1,2511.3L1355.5,2508.7L1358.9,2506.3L1362.4,2504L1365.8,2502.1L1369.2,2500.5L1372.6,2499.3L1376,2498.5L1379.4,2498.3L1382.8,2498.5L1386.2,2499.3L1389.6,2500.5L1393,2502.1L1396.4,2504L1399.9,2506.3L1403.3,2508.7L1406.7,2511.3L1410.1,2514L1413.5,2516.7L1416.9,2519.3L1420.3,2521.8L1423.7,2524.1L1427.1,2526.2L1430.5,2528.2L1434,2529.9L1437.4,2531.4L1440.8,2532.7L1444.2,2533.8L1447.6,2534.7L1451,2535.4L1454.4,2536L1457.8,2536.5L1461.2,2536.9L1464.6,2537.2L1468.1,2537.4L1471.5,2537.6L1474.9,2537.7L1478.3,2537.8L1481.7,2537.9L1485.1,2537.9L1488.5,2537.9L1491.9,2538L1495.3,2538L1498.7,2538L1498.7,2538Z" fill="url(#hatch)"/>
<path d="M1084.5,2538L1087,2538L1089.5,2538L1092,2538L1094.5,2538L1097,2537.9L1099.5,2537.9L1102,2537.9L1104.5,2537.9L1107,2537.9L1109.5,2537.8L1112,2537.8L1114.5,2537.7L1117,2537.7L1119.5,2537.6L1122,2537.5L1124.5,2537.4L1127,2537.2L1129.5,2537.1L1132,2536.9L1134.5,2536.6L1137,2536.3L1139.5,2536L1142,2535.6L1144.5,2535.1L1147,2534.6L1149.5,2534L1152,2533.3L1154.5,2532.5L1157,2531.5L1159.5,2530.4L1162,2529.2L1164.5,2527.8L1167,2526.2L1169.5,2524.4L1172,2522.4L1174.5,2520.2L1177,2517.7L1179.5,2515L1182,2512L1184.5,2508.6L1187,2505L1189.5,2501.1L1192,2496.8L1194.5,2492.2L1197,2487.3L1199.5,2482L1202,2476.4L1204.5,2470.4L1207,2464.2L1209.5,2457.6L1212,2450.7L1214.5,2443.6L1217,2436.3L1219.5,2428.8L1222,2421.1L1224.5,2413.3L1227,2405.5L1229.5,2397.7L1232,2389.9L1234.5,2382.2L1237,2374.7L1239.5,2367.4L1242,2360.4L1244.5,2353.7L1247,2347.5L1249.5,2341.7L1252,2336.5L1254.5,2331.8L1257,2327.7L1259.5,2324.3L1262,2321.6L1264.5,2319.7L1267,2318.4L1269.5,2317.9L1272,2318.2L1274.5,2319.2L1277,2321L1279.5,2323.5L1282,2326.6L1284.5,2330.5L1287,2334.9L1289.5,2339.9L1292,2345.4L1294.5,2351.3L1297,2357.7L1299.5,2364.4L1302,2371.3L1304.5,2378.4L1307,2385.6L1309.5,2392.9L1312,2400.1L1314.5,2407.3L1317,2414.3L1319.5,2421.1L1322,2427.7L1324.5,2434L1327,2439.9L1329.5,2445.5L1332,2450.6L1334.5,2455.4L1337,2459.8L1339.5,2463.7L1342,2467.2L1344.5,2470.3L1347,2473.1L1349.5,2475.5L1352,2477.5L1354.5,2479.3L1357,2480.8L1359.5,2482.1L1362,2483.3L1364.5,2484.4L1367,2485.3L1369.5,2486.3L1372,2487.2L1374.5,2488.2L1377,2489.3L1379.5,2490.4L1382,2491.7L1384.5,2493.1L1387,2494.6L1389.5,2496.2L1392,2498L1394.5,2499.9L1397,2501.9L1399.5,2503.9L1402,2506L1404.5,2508.2L1407,2510.4L1409.5,2512.5L1412,2514.7L1414.5,2516.8L1417,2518.8L1419.5,2520.7L1422,2522.6L1424.5,2524.3L1427,2525.9L1429.5,2527.4L1432,2528.8L1434.5,2530L1437,2531.2L1439.5,2532.2L1442,2533L1444.5,2533.8L1447,2534.5L1449.5,2535.1L1452,2535.6L1454.5,2536L1457,2536.4L1459.5,2536.7L1462,2537L1464.5,2537.2L1467,2537.3L1469.5,2537.5L1472,2537.6L1474.5,2537.7L1477,2537.8L1479.5,2537.8L1482,2537.9L1484.5,2537.9L1487,2537.9L1489.5,2537.9L1492,2538L1494.5,2538L1497,2538L1499.5,2538L1502,2538L1504.5,2538L1507,2538L1509.5,2538L1512,2538L1514.5,2538L1517,2538L1519.5,2538L1522,2538L1524.5,2538L1527,2538L1529.5,2538L1532,2538L1534.5,2538L1537,2538L1539.5,2538L1542,2538L1544.5,2538L1547,2538L1549.5,2538L1552,2538L1554.5,2538L1557,2538L1559.5,2538L1562,2538L1564.5,2538L1567,2538L1569.5,2538L1572,2538" fill="none" stroke="#ff0000" stroke-width="1.0"/>
<path d="M1084,2533.6h6v6h-6zM1089.8,2533.5h6v6h-6zM1095.5,2533.8h6v6h-6zM1101.2,2533.5h6v6h-6zM1107,2532.4h6v6h-6zM1112.8,2531.8h6v6h-6zM1118.5,2532h6v6h-6zM1124.2,2530.5h6v6h-6zM1130,2530.4h6v6h-6zM1135.8,2527.3h6v6h-6zM1141.5,2526h6v6h-6zM1147.2,2523.9h6v6h-6zM1153,2521.2h6v6h-6zM1158.8,2518.5h6v6h-6zM1164.5,2513.4h6v6h-6zM1170.2,2509.4h6v6h-6zM1176,2505.6h6v6h-6zM1181.8,2496.4h6v6h-6zM1187.5,2489h6v6h-6zM1193.2,2479.1h6v6h-6zM1199,2469.3h6v6h-6zM1204.8,2455.1h6v6h-6zM1210.5,2440.3h6v6h-6zM1216.2,2424.1h6v6h-6zM1222,2406.4h6v6h-6zM1227.8,2387.9h6v6h-6zM1233.5,2371.5h6v6h-6zM1239.2,2355.2h6v6h-6zM1245,2340.6h6v6h-6zM1250.8,2329.1h6v6h-6zM1256.5,2318.1h6v6h-6zM1262.2,2310h6v6h-6zM1268,2308.3h6v6h-6zM1273.8,2313h6v6h-6zM1279.5,2320.6h6v6h-6zM1285.2,2331.4h6v6h-6zM1291,2344.2h6v6h-6zM1296.8,2358.5h6v6h-6zM1302.5,2373.7h6v6h-6zM1308.2,2390.6h6v6h-6zM1314,2406.4h6v6h-6zM1319.8,2421.9h6v6h-6zM1325.5,2435h6v6h-6zM1331.2,2445.7h6v6h-6zM1337,2454.3h6v6h-6zM1342.8,2463.2h6v6h-6zM1348.5,2468.7h6v6h-6zM1354.2,2473h6v6h-6zM1360,2475.5h6v6h-6zM1365.8,2477.9h6v6h-6zM1371.5,2481.3h6v6h-6zM1377.2,2483.9h6v6h-6zM1383,2488.6h6v6h-6zM1388.8,2492.6h6v6h-6zM1394.5,2497h6v6h-6zM1400.2,2501.3h6v6h-6zM1406,2508.1h6v6h-6zM1411.8,2511.9h6v6h-6zM1417.5,2517.3h6v6h-6zM1423.2,2522h6v6h-6zM1429,2525.9h6v6h-6zM1434.8,2527.4h6v6h-6zM1440.5,2529.6h6v6h-6zM1446.2,2531.8h6v6h-6zM1452,2532.7h6v6h-6zM1457.8,2533h6v6h-6zM1463.5,2534.1h6v6h-6zM1469.2,2533.2h6v6h-6zM1475,2533.7h6v6h-6zM1480.8,2532.7h6v6h-6zM1486.5,2534.1h6v6h-6zM1492.2,2533.6h6v6h-6zM1498,2533.9h6v6h-6zM1503.8,2534h6v6h-6zM1509.5,2534.6h6v6h-6zM1515.2,2533.6h6v6h-6zM1521,2535h6v6h-6zM1526.8,2533.6h6v6h-6zM1532.5,2534.3h6v6h-6zM1538.2,2534.6h6v6h-6zM1544,2532.3h6v6h-6zM1549.8,2534h6v6h-6zM1555.5,2534.4h6v6h-6zM1561.2,2533.6h6v6h-6zM1567,2533.9h6v6h-6z" fill="#000"/>
<line x1="65" y1="50.2" x2="65" y2="1193.2" stroke="#7a7a7a" stroke-width="2.0"/>
<line x1="946" y1="50.2" x2="946" y2="1193.2" stroke="#7a7a7a" stroke-width="1.6"/>
<line x1="506" y1="50.2" x2="506" y2="1193.2" stroke="#707070" stroke-width="1.6"/>
<line x1="64" y1="50.6" x2="946.8" y2="50.6" stroke="#111" stroke-width="1.3"/>
<line x1="64.5" y1="336.4" x2="946" y2="336.4" stroke="#222" stroke-width="1.1"/>
<line x1="64.5" y1="621.7" x2="946" y2="621.7" stroke="#222" stroke-width="1.1"/>
<line x1="64.5" y1="907.3" x2="946" y2="907.3" stroke="#222" stroke-width="1.1"/>
<line x1="64.5" y1="1193.2" x2="946" y2="1193.2" stroke="#222" stroke-width="1.1"/>
<line x1="89.8" y1="50.2" x2="89.8" y2="55.4" stroke="#333" stroke-width="1.3"/>
<line x1="163.3" y1="50.2" x2="163.3" y2="55.4" stroke="#333" stroke-width="1.3"/>
<line x1="236.8" y1="50.2" x2="236.8" y2="55.4" stroke="#333" stroke-width="1.3"/>
<line x1="310.3" y1="50.2" x2="310.3" y2="55.4" stroke="#333" stroke-width="1.3"/>
<line x1="383.8" y1="50.2" x2="383.8" y2="55.4" stroke="#333" stroke-width="1.3"/>
<line x1="457.3" y1="50.2" x2="457.3" y2="55.4" stroke="#333" stroke-width="1.3"/>
<line x1="531.7" y1="50.2" x2="531.7" y2="55.4" stroke="#333" stroke-width="1.3"/>
<line x1="605.2" y1="50.2" x2="605.2" y2="55.4" stroke="#333" stroke-width="1.3"/>
<line x1="678.7" y1="50.2" x2="678.7" y2="55.4" stroke="#333" stroke-width="1.3"/>
<line x1="752.2" y1="50.2" x2="752.2" y2="55.4" stroke="#333" stroke-width="1.3"/>
<line x1="825.7" y1="50.2" x2="825.7" y2="55.4" stroke="#333" stroke-width="1.3"/>
<line x1="899.2" y1="50.2" x2="899.2" y2="55.4" stroke="#333" stroke-width="1.3"/>
<line x1="126.5" y1="50.2" x2="126.5" y2="53" stroke="#333" stroke-width="1.0"/>
<line x1="200.1" y1="50.2" x2="200.1" y2="53" stroke="#333" stroke-width="1.0"/>
<line x1="273.6" y1="50.2" x2="273.6" y2="53" stroke="#333" stroke-width="1.0"/>
<line x1="347.1" y1="50.2" x2="347.1" y2="53" stroke="#333" stroke-width="1.0"/>
<line x1="420.6" y1="50.2" x2="420.6" y2="53" stroke="#333" stroke-width="1.0"/>
<line x1="494.1" y1="50.2" x2="494.1" y2="53" stroke="#333" stroke-width="1.0"/>
<line x1="568.5" y1="50.2" x2="568.5" y2="53" stroke="#333" stroke-width="1.0"/>
<line x1="642" y1="50.2" x2="642" y2="53" stroke="#333" stroke-width="1.0"/>
<line x1="715.5" y1="50.2" x2="715.5" y2="53" stroke="#333" stroke-width="1.0"/>
<line x1="789" y1="50.2" x2="789" y2="53" stroke="#333" stroke-width="1.0"/>
<line x1="862.5" y1="50.2" x2="862.5" y2="53" stroke="#333" stroke-width="1.0"/>
<line x1="936" y1="50.2" x2="936" y2="53" stroke="#333" stroke-width="1.0"/>
<line x1="89.8" y1="336.4" x2="89.8" y2="341.6" stroke="#333" stroke-width="1.3"/>
<line x1="163.3" y1="336.4" x2="163.3" y2="341.6" stroke="#333" stroke-width="1.3"/>
<line x1="236.8" y1="336.4" x2="236.8" y2="341.6" stroke="#333" stroke-width="1.3"/>
<line x1="310.3" y1="336.4" x2="310.3" y2="341.6" stroke="#333" stroke-width="1.3"/>
<line x1="383.8" y1="336.4" x2="383.8" y2="341.6" stroke="#333" stroke-width="1.3"/>
<line x1="457.3" y1="336.4" x2="457.3" y2="341.6" stroke="#333" stroke-width="1.3"/>
<line x1="528" y1="336.4" x2="528" y2="341.6" stroke="#333" stroke-width="1.3"/>
<line x1="601.6" y1="336.4" x2="601.6" y2="341.6" stroke="#333" stroke-width="1.3"/>
<line x1="675.2" y1="336.4" x2="675.2" y2="341.6" stroke="#333" stroke-width="1.3"/>
<line x1="748.8" y1="336.4" x2="748.8" y2="341.6" stroke="#333" stroke-width="1.3"/>
<line x1="822.4" y1="336.4" x2="822.4" y2="341.6" stroke="#333" stroke-width="1.3"/>
<line x1="896" y1="336.4" x2="896" y2="341.6" stroke="#333" stroke-width="1.3"/>
<line x1="126.5" y1="336.4" x2="126.5" y2="339.2" stroke="#333" stroke-width="1.0"/>
<line x1="200.1" y1="336.4" x2="200.1" y2="339.2" stroke="#333" stroke-width="1.0"/>
<line x1="273.6" y1="336.4" x2="273.6" y2="339.2" stroke="#333" stroke-width="1.0"/>
<line x1="347.1" y1="336.4" x2="347.1" y2="339.2" stroke="#333" stroke-width="1.0"/>
<line x1="420.6" y1="336.4" x2="420.6" y2="339.2" stroke="#333" stroke-width="1.0"/>
<line x1="494.1" y1="336.4" x2="494.1" y2="339.2" stroke="#333" stroke-width="1.0"/>
<line x1="568.5" y1="336.4" x2="568.5" y2="339.2" stroke="#333" stroke-width="1.0"/>
<line x1="642" y1="336.4" x2="642" y2="339.2" stroke="#333" stroke-width="1.0"/>
<line x1="715.5" y1="336.4" x2="715.5" y2="339.2" stroke="#333" stroke-width="1.0"/>
<line x1="789" y1="336.4" x2="789" y2="339.2" stroke="#333" stroke-width="1.0"/>
<line x1="862.5" y1="336.4" x2="862.5" y2="339.2" stroke="#333" stroke-width="1.0"/>
<line x1="936" y1="336.4" x2="936" y2="339.2" stroke="#333" stroke-width="1.0"/>
<line x1="89.8" y1="621.7" x2="89.8" y2="626.9" stroke="#333" stroke-width="1.3"/>
<line x1="163.3" y1="621.7" x2="163.3" y2="626.9" stroke="#333" stroke-width="1.3"/>
<line x1="236.8" y1="621.7" x2="236.8" y2="626.9" stroke="#333" stroke-width="1.3"/>
<line x1="310.3" y1="621.7" x2="310.3" y2="626.9" stroke="#333" stroke-width="1.3"/>
<line x1="383.8" y1="621.7" x2="383.8" y2="626.9" stroke="#333" stroke-width="1.3"/>
<line x1="457.3" y1="621.7" x2="457.3" y2="626.9" stroke="#333" stroke-width="1.3"/>
<line x1="528" y1="621.7" x2="528" y2="626.9" stroke="#333" stroke-width="1.3"/>
<line x1="601.6" y1="621.7" x2="601.6" y2="626.9" stroke="#333" stroke-width="1.3"/>
<line x1="675.2" y1="621.7" x2="675.2" y2="626.9" stroke="#333" stroke-width="1.3"/>
<line x1="748.8" y1="621.7" x2="748.8" y2="626.9" stroke="#333" stroke-width="1.3"/>
<line x1="822.4" y1="621.7" x2="822.4" y2="626.9" stroke="#333" stroke-width="1.3"/>
<line x1="896" y1="621.7" x2="896" y2="626.9" stroke="#333" stroke-width="1.3"/>
<line x1="126.5" y1="621.7" x2="126.5" y2="624.5" stroke="#333" stroke-width="1.0"/>
<line x1="200.1" y1="621.7" x2="200.1" y2="624.5" stroke="#333" stroke-width="1.0"/>
<line x1="273.6" y1="621.7" x2="273.6" y2="624.5" stroke="#333" stroke-width="1.0"/>
<line x1="347.1" y1="621.7" x2="347.1" y2="624.5" stroke="#333" stroke-width="1.0"/>
<line x1="420.6" y1="621.7" x2="420.6" y2="624.5" stroke="#333" stroke-width="1.0"/>
<line x1="494.1" y1="621.7" x2="494.1" y2="624.5" stroke="#333" stroke-width="1.0"/>
<line x1="568.5" y1="621.7" x2="568.5" y2="624.5" stroke="#333" stroke-width="1.0"/>
<line x1="642" y1="621.7" x2="642" y2="624.5" stroke="#333" stroke-width="1.0"/>
<line x1="715.5" y1="621.7" x2="715.5" y2="624.5" stroke="#333" stroke-width="1.0"/>
<line x1="789" y1="621.7" x2="789" y2="624.5" stroke="#333" stroke-width="1.0"/>
<line x1="862.5" y1="621.7" x2="862.5" y2="624.5" stroke="#333" stroke-width="1.0"/>
<line x1="936" y1="621.7" x2="936" y2="624.5" stroke="#333" stroke-width="1.0"/>
<line x1="86.8" y1="907.3" x2="86.8" y2="913.3" stroke="#333" stroke-width="1.2"/>
<line x1="149.7" y1="907.3" x2="149.7" y2="913.3" stroke="#333" stroke-width="1.2"/>
<line x1="212.6" y1="907.3" x2="212.6" y2="913.3" stroke="#333" stroke-width="1.2"/>
<line x1="275.5" y1="907.3" x2="275.5" y2="913.3" stroke="#333" stroke-width="1.2"/>
<line x1="338.4" y1="907.3" x2="338.4" y2="913.3" stroke="#333" stroke-width="1.2"/>
<line x1="401.3" y1="907.3" x2="401.3" y2="913.3" stroke="#333" stroke-width="1.2"/>
<line x1="464.2" y1="907.3" x2="464.2" y2="913.3" stroke="#333" stroke-width="1.2"/>
<line x1="672.6" y1="907.3" x2="672.6" y2="913.3" stroke="#333" stroke-width="1.2"/>
<line x1="731.5" y1="907.3" x2="731.5" y2="913.3" stroke="#333" stroke-width="1.2"/>
<line x1="790.3" y1="907.3" x2="790.3" y2="913.3" stroke="#333" stroke-width="1.2"/>
<line x1="849.1" y1="907.3" x2="849.1" y2="913.3" stroke="#333" stroke-width="1.2"/>
<line x1="908" y1="907.3" x2="908" y2="913.3" stroke="#333" stroke-width="1.2"/>
<line x1="118.2" y1="907.3" x2="118.2" y2="910.3" stroke="#333" stroke-width="1.0"/>
<line x1="181.1" y1="907.3" x2="181.1" y2="910.3" stroke="#333" stroke-width="1.0"/>
<line x1="244" y1="907.3" x2="244" y2="910.3" stroke="#333" stroke-width="1.0"/>
<line x1="306.9" y1="907.3" x2="306.9" y2="910.3" stroke="#333" stroke-width="1.0"/>
<line x1="369.8" y1="907.3" x2="369.8" y2="910.3" stroke="#333" stroke-width="1.0"/>
<line x1="432.8" y1="907.3" x2="432.8" y2="910.3" stroke="#333" stroke-width="1.0"/>
<line x1="643.1" y1="907.3" x2="643.1" y2="910.3" stroke="#333" stroke-width="1.0"/>
<line x1="702" y1="907.3" x2="702" y2="910.3" stroke="#333" stroke-width="1.0"/>
<line x1="760.9" y1="907.3" x2="760.9" y2="910.3" stroke="#333" stroke-width="1.0"/>
<line x1="819.7" y1="907.3" x2="819.7" y2="910.3" stroke="#333" stroke-width="1.0"/>
<line x1="878.5" y1="907.3" x2="878.5" y2="910.3" stroke="#333" stroke-width="1.0"/>
<line x1="86.8" y1="1193.2" x2="86.8" y2="1199.7" stroke="#333" stroke-width="1.2"/>
<line x1="149.7" y1="1193.2" x2="149.7" y2="1199.7" stroke="#333" stroke-width="1.2"/>
<line x1="212.6" y1="1193.2" x2="212.6" y2="1199.7" stroke="#333" stroke-width="1.2"/>
<line x1="275.5" y1="1193.2" x2="275.5" y2="1199.7" stroke="#333" stroke-width="1.2"/>
<line x1="338.4" y1="1193.2" x2="338.4" y2="1199.7" stroke="#333" stroke-width="1.2"/>
<line x1="401.3" y1="1193.2" x2="401.3" y2="1199.7" stroke="#333" stroke-width="1.2"/>
<line x1="464.2" y1="1193.2" x2="464.2" y2="1199.7" stroke="#333" stroke-width="1.2"/>
<line x1="672.6" y1="1193.2" x2="672.6" y2="1199.7" stroke="#333" stroke-width="1.2"/>
<line x1="731.5" y1="1193.2" x2="731.5" y2="1199.7" stroke="#333" stroke-width="1.2"/>
<line x1="790.3" y1="1193.2" x2="790.3" y2="1199.7" stroke="#333" stroke-width="1.2"/>
<line x1="849.1" y1="1193.2" x2="849.1" y2="1199.7" stroke="#333" stroke-width="1.2"/>
<line x1="908" y1="1193.2" x2="908" y2="1199.7" stroke="#333" stroke-width="1.2"/>
<line x1="118.2" y1="1193.2" x2="118.2" y2="1196.5" stroke="#333" stroke-width="1.0"/>
<line x1="181.1" y1="1193.2" x2="181.1" y2="1196.5" stroke="#333" stroke-width="1.0"/>
<line x1="244" y1="1193.2" x2="244" y2="1196.5" stroke="#333" stroke-width="1.0"/>
<line x1="306.9" y1="1193.2" x2="306.9" y2="1196.5" stroke="#333" stroke-width="1.0"/>
<line x1="369.8" y1="1193.2" x2="369.8" y2="1196.5" stroke="#333" stroke-width="1.0"/>
<line x1="432.8" y1="1193.2" x2="432.8" y2="1196.5" stroke="#333" stroke-width="1.0"/>
<line x1="643.1" y1="1193.2" x2="643.1" y2="1196.5" stroke="#333" stroke-width="1.0"/>
<line x1="702" y1="1193.2" x2="702" y2="1196.5" stroke="#333" stroke-width="1.0"/>
<line x1="760.9" y1="1193.2" x2="760.9" y2="1196.5" stroke="#333" stroke-width="1.0"/>
<line x1="819.7" y1="1193.2" x2="819.7" y2="1196.5" stroke="#333" stroke-width="1.0"/>
<line x1="878.5" y1="1193.2" x2="878.5" y2="1196.5" stroke="#333" stroke-width="1.0"/>
<line x1="64.5" y1="975.5" x2="71" y2="975.5" stroke="#333" stroke-width="1.1"/>
<line x1="64.5" y1="1032.4" x2="71" y2="1032.4" stroke="#333" stroke-width="1.1"/>
<line x1="64.5" y1="1089.4" x2="71" y2="1089.4" stroke="#333" stroke-width="1.1"/>
<line x1="64.5" y1="1146.6" x2="71" y2="1146.6" stroke="#333" stroke-width="1.1"/>
<line x1="1075.5" y1="58.1" x2="1075.5" y2="1191.1" stroke="#222" stroke-width="1.4"/>
<line x1="2066" y1="58.1" x2="2066" y2="1191.1" stroke="#222" stroke-width="1.4"/>
<line x1="1572.8" y1="58.1" x2="1572.8" y2="1191.1" stroke="#222" stroke-width="1.5"/>
<line x1="1075.5" y1="59" x2="1570.7" y2="59" stroke="#404040" stroke-width="1.7"/>
<line x1="1572" y1="59" x2="2066" y2="59" stroke="#404040" stroke-width="1.7"/>
<line x1="1075.5" y1="342" x2="2066" y2="342" stroke="#404040" stroke-width="1.2"/>
<line x1="1075.5" y1="622.8" x2="2066" y2="622.8" stroke="#404040" stroke-width="1.2"/>
<line x1="1075.5" y1="907" x2="2066" y2="907" stroke="#404040" stroke-width="1.2"/>
<line x1="1075.5" y1="1190.3" x2="2066" y2="1190.3" stroke="#404040" stroke-width="1.2"/>
<line x1="1124.6" y1="342" x2="1124.6" y2="348.5" stroke="#333" stroke-width="1.2"/>
<line x1="1223.6" y1="342" x2="1223.6" y2="348.5" stroke="#333" stroke-width="1.2"/>
<line x1="1322.5" y1="342" x2="1322.5" y2="348.5" stroke="#333" stroke-width="1.2"/>
<line x1="1421.5" y1="342" x2="1421.5" y2="348.5" stroke="#333" stroke-width="1.2"/>
<line x1="1520.5" y1="342" x2="1520.5" y2="348.5" stroke="#333" stroke-width="1.2"/>
<line x1="1588.7" y1="342" x2="1588.7" y2="348.5" stroke="#333" stroke-width="1.2"/>
<line x1="1694.7" y1="342" x2="1694.7" y2="348.5" stroke="#333" stroke-width="1.2"/>
<line x1="1800.7" y1="342" x2="1800.7" y2="348.5" stroke="#333" stroke-width="1.2"/>
<line x1="1907" y1="342" x2="1907" y2="348.5" stroke="#333" stroke-width="1.2"/>
<line x1="1124.6" y1="622.8" x2="1124.6" y2="629.3" stroke="#333" stroke-width="1.2"/>
<line x1="1223.6" y1="622.8" x2="1223.6" y2="629.3" stroke="#333" stroke-width="1.2"/>
<line x1="1322.5" y1="622.8" x2="1322.5" y2="629.3" stroke="#333" stroke-width="1.2"/>
<line x1="1421.5" y1="622.8" x2="1421.5" y2="629.3" stroke="#333" stroke-width="1.2"/>
<line x1="1520.5" y1="622.8" x2="1520.5" y2="629.3" stroke="#333" stroke-width="1.2"/>
<line x1="1619" y1="622.8" x2="1619" y2="629.3" stroke="#333" stroke-width="1.2"/>
<line x1="1718.2" y1="622.8" x2="1718.2" y2="629.3" stroke="#333" stroke-width="1.2"/>
<line x1="1817.3" y1="622.8" x2="1817.3" y2="629.3" stroke="#333" stroke-width="1.2"/>
<line x1="1916.5" y1="622.8" x2="1916.5" y2="629.3" stroke="#333" stroke-width="1.2"/>
<line x1="2015.6" y1="622.8" x2="2015.6" y2="629.3" stroke="#333" stroke-width="1.2"/>
<line x1="1124.6" y1="907" x2="1124.6" y2="913.5" stroke="#333" stroke-width="1.2"/>
<line x1="1223.6" y1="907" x2="1223.6" y2="913.5" stroke="#333" stroke-width="1.2"/>
<line x1="1322.5" y1="907" x2="1322.5" y2="913.5" stroke="#333" stroke-width="1.2"/>
<line x1="1421.5" y1="907" x2="1421.5" y2="913.5" stroke="#333" stroke-width="1.2"/>
<line x1="1520.5" y1="907" x2="1520.5" y2="913.5" stroke="#333" stroke-width="1.2"/>
<line x1="1619" y1="907" x2="1619" y2="913.5" stroke="#333" stroke-width="1.2"/>
<line x1="1718.2" y1="907" x2="1718.2" y2="913.5" stroke="#333" stroke-width="1.2"/>
<line x1="1817.3" y1="907" x2="1817.3" y2="913.5" stroke="#333" stroke-width="1.2"/>
<line x1="1916.5" y1="907" x2="1916.5" y2="913.5" stroke="#333" stroke-width="1.2"/>
<line x1="2015.6" y1="907" x2="2015.6" y2="913.5" stroke="#333" stroke-width="1.2"/>
<line x1="1124.6" y1="1190.3" x2="1124.6" y2="1197.3" stroke="#333" stroke-width="1.2"/>
<line x1="1223.6" y1="1190.3" x2="1223.6" y2="1197.3" stroke="#333" stroke-width="1.2"/>
<line x1="1322.5" y1="1190.3" x2="1322.5" y2="1197.3" stroke="#333" stroke-width="1.2"/>
<line x1="1421.5" y1="1190.3" x2="1421.5" y2="1197.3" stroke="#333" stroke-width="1.2"/>
<line x1="1520.5" y1="1190.3" x2="1520.5" y2="1197.3" stroke="#333" stroke-width="1.2"/>
<line x1="1619" y1="1190.3" x2="1619" y2="1197.3" stroke="#333" stroke-width="1.2"/>
<line x1="1718.2" y1="1190.3" x2="1718.2" y2="1197.3" stroke="#333" stroke-width="1.2"/>
<line x1="1817.3" y1="1190.3" x2="1817.3" y2="1197.3" stroke="#333" stroke-width="1.2"/>
<line x1="1916.5" y1="1190.3" x2="1916.5" y2="1197.3" stroke="#333" stroke-width="1.2"/>
<line x1="2015.6" y1="1190.3" x2="2015.6" y2="1197.3" stroke="#333" stroke-width="1.2"/>
<line x1="596.6" y1="1424.7" x2="596.6" y2="2538.6" stroke="#5c5c5c" stroke-width="1.4"/>
<line x1="1573.3" y1="1424.7" x2="1573.3" y2="1702.8" stroke="#5c5c5c" stroke-width="1.4"/>
<line x1="1570.8" y1="1702.8" x2="1570.8" y2="2538.6" stroke="#5c5c5c" stroke-width="1.4"/>
<rect x="1082.8" y="1424.7" width="4.2" height="278.1" fill="#8c8c8c"/>
<line x1="1083.4" y1="1424.7" x2="1083.4" y2="1702.8" stroke="#505050" stroke-width="1.3"/>
<line x1="1086.4" y1="1424.7" x2="1086.4" y2="1702.8" stroke="#505050" stroke-width="1.3"/>
<line x1="1084" y1="1702.8" x2="1084" y2="2538.6" stroke="#444" stroke-width="1.8"/>
<line x1="596.6" y1="1425.5" x2="1082.8" y2="1425.5" stroke="#5c5c5c" stroke-width="1.6"/>
<line x1="1087" y1="1425.5" x2="1574" y2="1425.5" stroke="#5c5c5c" stroke-width="1.6"/>
<line x1="596.6" y1="1702.8" x2="1573.3" y2="1702.8" stroke="#5c5c5c" stroke-width="1.1"/>
<line x1="1452" y1="1703.2" x2="1573.3" y2="1703.2" stroke="#f03030" stroke-width="1.3"/>
<line x1="596.6" y1="1982.3" x2="1570.8" y2="1982.3" stroke="#5c5c5c" stroke-width="1.1"/>
<line x1="596.6" y1="2259.5" x2="1570.8" y2="2259.5" stroke="#5c5c5c" stroke-width="1.1"/>
<line x1="596.6" y1="2538" x2="1570.8" y2="2538" stroke="#5c5c5c" stroke-width="1.1"/>
<line x1="694.3" y1="1425.5" x2="694.3" y2="1430.5" stroke="#333" stroke-width="1.1"/>
<line x1="808.8" y1="1425.5" x2="808.8" y2="1430.5" stroke="#333" stroke-width="1.1"/>
<line x1="923.3" y1="1425.5" x2="923.3" y2="1430.5" stroke="#333" stroke-width="1.1"/>
<line x1="1037.8" y1="1425.5" x2="1037.8" y2="1430.5" stroke="#333" stroke-width="1.1"/>
<line x1="1182.7" y1="1425.5" x2="1182.7" y2="1430.5" stroke="#333" stroke-width="1.1"/>
<line x1="1297.3" y1="1425.5" x2="1297.3" y2="1430.5" stroke="#333" stroke-width="1.1"/>
<line x1="1411.9" y1="1425.5" x2="1411.9" y2="1430.5" stroke="#333" stroke-width="1.1"/>
<line x1="1526.5" y1="1425.5" x2="1526.5" y2="1430.5" stroke="#333" stroke-width="1.1"/>
<line x1="637" y1="1425.5" x2="637" y2="1430.5" stroke="#333" stroke-width="1.1"/>
<line x1="751.5" y1="1425.5" x2="751.5" y2="1430.5" stroke="#333" stroke-width="1.1"/>
<line x1="866" y1="1425.5" x2="866" y2="1430.5" stroke="#333" stroke-width="1.1"/>
<line x1="980.5" y1="1425.5" x2="980.5" y2="1430.5" stroke="#333" stroke-width="1.1"/>
<line x1="1125.4" y1="1425.5" x2="1125.4" y2="1430.5" stroke="#333" stroke-width="1.1"/>
<line x1="1240" y1="1425.5" x2="1240" y2="1430.5" stroke="#333" stroke-width="1.1"/>
<line x1="1354.6" y1="1425.5" x2="1354.6" y2="1430.5" stroke="#333" stroke-width="1.1"/>
<line x1="1469.2" y1="1425.5" x2="1469.2" y2="1430.5" stroke="#333" stroke-width="1.1"/>
<line x1="694.3" y1="1702.8" x2="694.3" y2="1709.8" stroke="#333" stroke-width="1.2"/>
<line x1="808.8" y1="1702.8" x2="808.8" y2="1709.8" stroke="#333" stroke-width="1.2"/>
<line x1="923.3" y1="1702.8" x2="923.3" y2="1709.8" stroke="#333" stroke-width="1.2"/>
<line x1="1037.8" y1="1702.8" x2="1037.8" y2="1709.8" stroke="#333" stroke-width="1.2"/>
<line x1="1182.7" y1="1702.8" x2="1182.7" y2="1709.8" stroke="#333" stroke-width="1.2"/>
<line x1="1297.3" y1="1702.8" x2="1297.3" y2="1709.8" stroke="#333" stroke-width="1.2"/>
<line x1="1411.9" y1="1702.8" x2="1411.9" y2="1709.8" stroke="#333" stroke-width="1.2"/>
<line x1="1526.5" y1="1702.8" x2="1526.5" y2="1709.8" stroke="#333" stroke-width="1.2"/>
<line x1="637" y1="1702.8" x2="637" y2="1706.8" stroke="#333" stroke-width="1.0"/>
<line x1="751.5" y1="1702.8" x2="751.5" y2="1706.8" stroke="#333" stroke-width="1.0"/>
<line x1="866" y1="1702.8" x2="866" y2="1706.8" stroke="#333" stroke-width="1.0"/>
<line x1="980.5" y1="1702.8" x2="980.5" y2="1706.8" stroke="#333" stroke-width="1.0"/>
<line x1="1125.4" y1="1702.8" x2="1125.4" y2="1706.8" stroke="#333" stroke-width="1.0"/>
<line x1="1240" y1="1702.8" x2="1240" y2="1706.8" stroke="#333" stroke-width="1.0"/>
<line x1="1354.6" y1="1702.8" x2="1354.6" y2="1706.8" stroke="#333" stroke-width="1.0"/>
<line x1="1469.2" y1="1702.8" x2="1469.2" y2="1706.8" stroke="#333" stroke-width="1.0"/>
<line x1="694.3" y1="1982.3" x2="694.3" y2="1989.3" stroke="#333" stroke-width="1.2"/>
<line x1="808.8" y1="1982.3" x2="808.8" y2="1989.3" stroke="#333" stroke-width="1.2"/>
<line x1="923.3" y1="1982.3" x2="923.3" y2="1989.3" stroke="#333" stroke-width="1.2"/>
<line x1="1037.8" y1="1982.3" x2="1037.8" y2="1989.3" stroke="#333" stroke-width="1.2"/>
<line x1="1182.7" y1="1982.3" x2="1182.7" y2="1989.3" stroke="#333" stroke-width="1.2"/>
<line x1="1297.3" y1="1982.3" x2="1297.3" y2="1989.3" stroke="#333" stroke-width="1.2"/>
<line x1="1411.9" y1="1982.3" x2="1411.9" y2="1989.3" stroke="#333" stroke-width="1.2"/>
<line x1="1526.5" y1="1982.3" x2="1526.5" y2="1989.3" stroke="#333" stroke-width="1.2"/>
<line x1="637" y1="1982.3" x2="637" y2="1986.3" stroke="#333" stroke-width="1.0"/>
<line x1="751.5" y1="1982.3" x2="751.5" y2="1986.3" stroke="#333" stroke-width="1.0"/>
<line x1="866" y1="1982.3" x2="866" y2="1986.3" stroke="#333" stroke-width="1.0"/>
<line x1="980.5" y1="1982.3" x2="980.5" y2="1986.3" stroke="#333" stroke-width="1.0"/>
<line x1="1125.4" y1="1982.3" x2="1125.4" y2="1986.3" stroke="#333" stroke-width="1.0"/>
<line x1="1240" y1="1982.3" x2="1240" y2="1986.3" stroke="#333" stroke-width="1.0"/>
<line x1="1354.6" y1="1982.3" x2="1354.6" y2="1986.3" stroke="#333" stroke-width="1.0"/>
<line x1="1469.2" y1="1982.3" x2="1469.2" y2="1986.3" stroke="#333" stroke-width="1.0"/>
<line x1="694.3" y1="2259.5" x2="694.3" y2="2266.5" stroke="#333" stroke-width="1.2"/>
<line x1="808.8" y1="2259.5" x2="808.8" y2="2266.5" stroke="#333" stroke-width="1.2"/>
<line x1="923.3" y1="2259.5" x2="923.3" y2="2266.5" stroke="#333" stroke-width="1.2"/>
<line x1="1037.8" y1="2259.5" x2="1037.8" y2="2266.5" stroke="#333" stroke-width="1.2"/>
<line x1="1182.7" y1="2259.5" x2="1182.7" y2="2266.5" stroke="#333" stroke-width="1.2"/>
<line x1="1297.3" y1="2259.5" x2="1297.3" y2="2266.5" stroke="#333" stroke-width="1.2"/>
<line x1="1411.9" y1="2259.5" x2="1411.9" y2="2266.5" stroke="#333" stroke-width="1.2"/>
<line x1="1526.5" y1="2259.5" x2="1526.5" y2="2266.5" stroke="#333" stroke-width="1.2"/>
<line x1="637" y1="2259.5" x2="637" y2="2263.5" stroke="#333" stroke-width="1.0"/>
<line x1="751.5" y1="2259.5" x2="751.5" y2="2263.5" stroke="#333" stroke-width="1.0"/>
<line x1="866" y1="2259.5" x2="866" y2="2263.5" stroke="#333" stroke-width="1.0"/>
<line x1="980.5" y1="2259.5" x2="980.5" y2="2263.5" stroke="#333" stroke-width="1.0"/>
<line x1="1125.4" y1="2259.5" x2="1125.4" y2="2263.5" stroke="#333" stroke-width="1.0"/>
<line x1="1240" y1="2259.5" x2="1240" y2="2263.5" stroke="#333" stroke-width="1.0"/>
<line x1="1354.6" y1="2259.5" x2="1354.6" y2="2263.5" stroke="#333" stroke-width="1.0"/>
<line x1="1469.2" y1="2259.5" x2="1469.2" y2="2263.5" stroke="#333" stroke-width="1.0"/>
<line x1="694.3" y1="2538" x2="694.3" y2="2545" stroke="#333" stroke-width="1.2"/>
<line x1="808.8" y1="2538" x2="808.8" y2="2545" stroke="#333" stroke-width="1.2"/>
<line x1="923.3" y1="2538" x2="923.3" y2="2545" stroke="#333" stroke-width="1.2"/>
<line x1="1037.8" y1="2538" x2="1037.8" y2="2545" stroke="#333" stroke-width="1.2"/>
<line x1="1182.7" y1="2538" x2="1182.7" y2="2545" stroke="#333" stroke-width="1.2"/>
<line x1="1297.3" y1="2538" x2="1297.3" y2="2545" stroke="#333" stroke-width="1.2"/>
<line x1="1411.9" y1="2538" x2="1411.9" y2="2545" stroke="#333" stroke-width="1.2"/>
<line x1="1526.5" y1="2538" x2="1526.5" y2="2545" stroke="#333" stroke-width="1.2"/>
<line x1="637" y1="2538" x2="637" y2="2542" stroke="#333" stroke-width="1.0"/>
<line x1="751.5" y1="2538" x2="751.5" y2="2542" stroke="#333" stroke-width="1.0"/>
<line x1="866" y1="2538" x2="866" y2="2542" stroke="#333" stroke-width="1.0"/>
<line x1="980.5" y1="2538" x2="980.5" y2="2542" stroke="#333" stroke-width="1.0"/>
<line x1="1125.4" y1="2538" x2="1125.4" y2="2542" stroke="#333" stroke-width="1.0"/>
<line x1="1240" y1="2538" x2="1240" y2="2542" stroke="#333" stroke-width="1.0"/>
<line x1="1354.6" y1="2538" x2="1354.6" y2="2542" stroke="#333" stroke-width="1.0"/>
<line x1="1469.2" y1="2538" x2="1469.2" y2="2542" stroke="#333" stroke-width="1.0"/>
<text x="9.5" y="47.2" font-family='"Liberation Serif", "Times New Roman", serif' font-size="51" text-anchor="start" >a)</text>
<text x="257.8" y="30.9" font-family='"Liberation Sans", Arial, sans-serif' font-size="36" text-anchor="middle" >LP30</text>
<text x="745.7" y="30.9" font-family='"Liberation Sans", Arial, sans-serif' font-size="36" text-anchor="middle" >AR25</text>
<rect x="105.2" y="73.8" width="53" height="25.5" fill="#ff0000" stroke="#666" stroke-opacity="0.7" stroke-width="0.7"/>
<rect x="105.2" y="103.8" width="53" height="25.4" fill="#00ffff" stroke="#666" stroke-opacity="0.7" stroke-width="0.7"/>
<rect x="105.2" y="133.8" width="53" height="25.6" fill="#008080" stroke="#666" stroke-opacity="0.7" stroke-width="0.7"/>
<rect x="105.2" y="169" width="53" height="25.7" fill="#00ff00" stroke="#666" stroke-opacity="0.7" stroke-width="0.7"/>
<text transform="translate(166,93.9) scale(1.08,1)" font-family='"Liberation Sans", Arial, sans-serif' font-size="22.3" text-anchor="start" >C-C</text>
<text transform="translate(166,124.1) scale(1.08,1)" font-family='"Liberation Sans", Arial, sans-serif' font-size="22.3" text-anchor="start" >C-H</text>
<text transform="translate(166,154.1) scale(1.08,1)" font-family='"Liberation Sans", Arial, sans-serif' font-size="22.3" text-anchor="start" >binder(CH<tspan font-size="14.5" dy="5.5">2</tspan><tspan dy="-5.5">)/C-O</tspan></text>
<text transform="translate(166,189.1) scale(1.08,1)" font-family='"Liberation Sans", Arial, sans-serif' font-size="22.3" text-anchor="start" >binder(CF<tspan font-size="14.5" dy="5.5">2</tspan><tspan dy="-5.5">)/CO</tspan><tspan font-size="14.5" dy="5.5">3</tspan></text>
<text x="225.6" y="251.2" font-family='"Liberation Sans", Arial, sans-serif' font-size="32.5" text-anchor="middle" >0.6 V</text>
<text x="698" y="193.3" font-family='"Liberation Sans", Arial, sans-serif' font-size="32.5" text-anchor="middle" >0.6 V</text>
<text x="144.3" y="394.6" font-family='"Liberation Sans", Arial, sans-serif' font-size="32.5" text-anchor="middle" >0.21 V</text>
<text x="790.5" y="424.4" font-family='"Liberation Sans", Arial, sans-serif' font-size="32.5" text-anchor="middle" >0.21 V</text>
<text x="176.6" y="731.5" font-family='"Liberation Sans", Arial, sans-serif' font-size="32.5" text-anchor="middle" >0.17 V</text>
<text x="638.8" y="713.3" font-family='"Liberation Sans", Arial, sans-serif' font-size="32.5" text-anchor="middle" >0.17 V</text>
<text x="205.2" y="971" font-family='"Liberation Sans", Arial, sans-serif' font-size="32.4" text-anchor="middle" >2 full cycles</text>
<text x="622.3" y="986" font-family='"Liberation Sans", Arial, sans-serif' font-size="32.4" text-anchor="middle" >2 full cycles</text>
<text transform="translate(87.1,1221.6) scale(1.09,1)" font-family='"Liberation Sans", Arial, sans-serif' font-size="23.8" text-anchor="middle" >295</text>
<text transform="translate(150,1221.6) scale(1.09,1)" font-family='"Liberation Sans", Arial, sans-serif' font-size="23.8" text-anchor="middle" >293</text>
<text transform="translate(212.9,1221.6) scale(1.09,1)" font-family='"Liberation Sans", Arial, sans-serif' font-size="23.8" text-anchor="middle" >291</text>
<text transform="translate(275.8,1221.6) scale(1.09,1)" font-family='"Liberation Sans", Arial, sans-serif' font-size="23.8" text-anchor="middle" >289</text>
<text transform="translate(338.7,1221.6) scale(1.09,1)" font-family='"Liberation Sans", Arial, sans-serif' font-size="23.8" text-anchor="middle" >287</text>
<text transform="translate(401.6,1221.6) scale(1.09,1)" font-family='"Liberation Sans", Arial, sans-serif' font-size="23.8" text-anchor="middle" >285</text>
<text transform="translate(464.5,1221.6) scale(1.09,1)" font-family='"Liberation Sans", Arial, sans-serif' font-size="23.8" text-anchor="middle" >283</text>
<text transform="translate(555.2,1221.6) scale(1.09,1)" font-family='"Liberation Sans", Arial, sans-serif' font-size="23.8" text-anchor="middle" >295</text>
<text transform="translate(614,1221.6) scale(1.09,1)" font-family='"Liberation Sans", Arial, sans-serif' font-size="23.8" text-anchor="middle" >293</text>
<text transform="translate(672.9,1221.6) scale(1.09,1)" font-family='"Liberation Sans", Arial, sans-serif' font-size="23.8" text-anchor="middle" >291</text>
<text transform="translate(731.8,1221.6) scale(1.09,1)" font-family='"Liberation Sans", Arial, sans-serif' font-size="23.8" text-anchor="middle" >289</text>
<text transform="translate(790.6,1221.6) scale(1.09,1)" font-family='"Liberation Sans", Arial, sans-serif' font-size="23.8" text-anchor="middle" >287</text>
<text transform="translate(849.4,1221.6) scale(1.09,1)" font-family='"Liberation Sans", Arial, sans-serif' font-size="23.8" text-anchor="middle" >285</text>
<text transform="translate(908.3,1221.6) scale(1.09,1)" font-family='"Liberation Sans", Arial, sans-serif' font-size="23.8" text-anchor="middle" >283</text>
<text x="285.2" y="1267.5" font-family='"Liberation Sans", Arial, sans-serif' font-size="32.3" text-anchor="middle" >Binding energy [eV]</text>
<text x="725.3" y="1267.5" font-family='"Liberation Sans", Arial, sans-serif' font-size="32.3" text-anchor="middle" >Binding energy [eV]</text>
<text transform="translate(30,598.2) rotate(-90)" font-family='"Liberation Sans", Arial, sans-serif' font-size="36.8" text-anchor="middle">Normalized Intensity [arb. units]</text>
<text x="1016.2" y="47.4" font-family='"Liberation Serif", "Times New Roman", serif' font-size="51" text-anchor="start" >b)</text>
<text x="1289.9" y="34.8" font-family='"Liberation Sans", Arial, sans-serif' font-size="40.5" text-anchor="middle" >LP30</text>
<text x="1838" y="34.8" font-family='"Liberation Sans", Arial, sans-serif' font-size="40.7" text-anchor="middle" >AR25</text>
<rect x="1094" y="82.4" width="74.2" height="36.9" fill="#00ffff" stroke="#444" stroke-width="0.7"/>
<rect x="1094" y="132.1" width="74.4" height="36.7" fill="#008000" stroke="#444" stroke-width="0.8"/>
<rect x="1094" y="132.1" width="74.4" height="36.7" fill="url(#hatch)"/>
<text x="1179" y="112.7" font-family='"Liberation Sans", Arial, sans-serif' font-size="34.6" text-anchor="start" >CO<tspan font-size="22.5" dy="8">3</tspan></text>
<text x="1179" y="161.7" font-family='"Liberation Sans", Arial, sans-serif' font-size="34.6" text-anchor="start" >C-O</text>
<text x="1175.3" y="248.3" font-family='"Liberation Sans", Arial, sans-serif' font-size="37" text-anchor="middle" >0.6 V</text>
<text x="1664.4" y="142.6" font-family='"Liberation Sans", Arial, sans-serif' font-size="37" text-anchor="middle" >0.6 V</text>
<text x="1226.2" y="460.7" font-family='"Liberation Sans", Arial, sans-serif' font-size="37" text-anchor="middle" >0.21 V</text>
<text x="1698.2" y="452.2" font-family='"Liberation Sans", Arial, sans-serif' font-size="37" text-anchor="middle" >0.21 V</text>
<text x="1189.7" y="743.4" font-family='"Liberation Sans", Arial, sans-serif' font-size="37" text-anchor="middle" >0.17 V</text>
<text x="1695.8" y="732.2" font-family='"Liberation Sans", Arial, sans-serif' font-size="37" text-anchor="middle" >0.17 V</text>
<text x="1214.5" y="983.9" font-family='"Liberation Sans", Arial, sans-serif' font-size="34.2" text-anchor="middle" >2 full cycles</text>
<text x="1711.2" y="1017.8" font-family='"Liberation Sans", Arial, sans-serif' font-size="34.2" text-anchor="middle" >2 full cycles</text>
<text transform="translate(1124.6,1219.8) scale(1.05,1)" font-family='"Liberation Sans", Arial, sans-serif' font-size="25" text-anchor="middle" >538</text>
<text transform="translate(1223.6,1219.8) scale(1.05,1)" font-family='"Liberation Sans", Arial, sans-serif' font-size="25" text-anchor="middle" >536</text>
<text transform="translate(1322.5,1219.8) scale(1.05,1)" font-family='"Liberation Sans", Arial, sans-serif' font-size="25" text-anchor="middle" >534</text>
<text transform="translate(1421.5,1219.8) scale(1.05,1)" font-family='"Liberation Sans", Arial, sans-serif' font-size="25" text-anchor="middle" >532</text>
<text transform="translate(1520.5,1219.8) scale(1.05,1)" font-family='"Liberation Sans", Arial, sans-serif' font-size="25" text-anchor="middle" >530</text>
<text transform="translate(1619,1219.8) scale(1.05,1)" font-family='"Liberation Sans", Arial, sans-serif' font-size="25" text-anchor="middle" >538</text>
<text transform="translate(1718.2,1219.8) scale(1.05,1)" font-family='"Liberation Sans", Arial, sans-serif' font-size="25" text-anchor="middle" >536</text>
<text transform="translate(1817.3,1219.8) scale(1.05,1)" font-family='"Liberation Sans", Arial, sans-serif' font-size="25" text-anchor="middle" >534</text>
<text transform="translate(1916.5,1219.8) scale(1.05,1)" font-family='"Liberation Sans", Arial, sans-serif' font-size="25" text-anchor="middle" >532</text>
<text transform="translate(2015.6,1219.8) scale(1.05,1)" font-family='"Liberation Sans", Arial, sans-serif' font-size="25" text-anchor="middle" >530</text>
<text x="1322.8" y="1267.7" font-family='"Liberation Sans", Arial, sans-serif' font-size="34.2" text-anchor="middle" >Binding energy [eV]</text>
<text x="1817.2" y="1267.7" font-family='"Liberation Sans", Arial, sans-serif' font-size="34.2" text-anchor="middle" >Binding energy [eV]</text>
<text transform="translate(1033.7,668.3) rotate(-90)" font-family='"Liberation Sans", Arial, sans-serif' font-size="41.1" text-anchor="middle">Normalized Intensity [arb. unit]</text>
<text x="522.2" y="1419" font-family='"Liberation Serif", "Times New Roman", serif' font-size="51" text-anchor="start" >c)</text>
<text x="828.1" y="1384" font-family='"Liberation Sans", Arial, sans-serif' font-size="40" text-anchor="middle" >LP30</text>
<text x="1368.5" y="1384" font-family='"Liberation Sans", Arial, sans-serif' font-size="40.3" text-anchor="middle" >AR25</text>
<rect x="643.1" y="1456.3" width="55" height="26.4" fill="#000080"/>
<rect x="643.1" y="1486.7" width="55" height="27" fill="#808080" stroke="#444" stroke-width="0.8"/>
<rect x="643.1" y="1486.7" width="55" height="27" fill="url(#hatch)"/>
<text x="707.6" y="1478.1" font-family='"Liberation Sans", Arial, sans-serif' font-size="23.5" text-anchor="start" >P-F</text>
<text x="707.6" y="1508.6" font-family='"Liberation Sans", Arial, sans-serif' font-size="23.5" text-anchor="start" >LiF</text>
<text x="961" y="1531" font-family='"Liberation Sans", Arial, sans-serif' font-size="36.3" text-anchor="middle" >0.6 V</text>
<text x="1445.2" y="1518" font-family='"Liberation Sans", Arial, sans-serif' font-size="36.3" text-anchor="middle" >0.6 V</text>
<text x="1017" y="1845.8" font-family='"Liberation Sans", Arial, sans-serif' font-size="36.3" text-anchor="middle" >0.21 V</text>
<text x="1483" y="1811.7" font-family='"Liberation Sans", Arial, sans-serif' font-size="36.3" text-anchor="middle" >0.21 V</text>
<text x="1000.2" y="2084.7" font-family='"Liberation Sans", Arial, sans-serif' font-size="36.3" text-anchor="middle" >0.17 V</text>
<text x="1481.2" y="2093.5" font-family='"Liberation Sans", Arial, sans-serif' font-size="36.3" text-anchor="middle" >0.17 V</text>
<text x="957.7" y="2374.2" font-family='"Liberation Sans", Arial, sans-serif' font-size="33.9" text-anchor="middle" >2 full cycles</text>
<text x="1451.4" y="2380.6" font-family='"Liberation Sans", Arial, sans-serif' font-size="33.9" text-anchor="middle" >2 full cycles</text>
<text x="693.7" y="2569.5" font-family='"Liberation Sans", Arial, sans-serif' font-size="25" text-anchor="middle" >691</text>
<text x="808.4" y="2569.5" font-family='"Liberation Sans", Arial, sans-serif' font-size="25" text-anchor="middle" >689</text>
<text x="922.3" y="2569.5" font-family='"Liberation Sans", Arial, sans-serif' font-size="25" text-anchor="middle" >687</text>
<text x="1037.2" y="2569.5" font-family='"Liberation Sans", Arial, sans-serif' font-size="25" text-anchor="middle" >685</text>
<text x="1181" y="2569.5" font-family='"Liberation Sans", Arial, sans-serif' font-size="25" text-anchor="middle" >691</text>
<text x="1295.6" y="2569.5" font-family='"Liberation Sans", Arial, sans-serif' font-size="25" text-anchor="middle" >689</text>
<text x="1409.8" y="2569.5" font-family='"Liberation Sans", Arial, sans-serif' font-size="25" text-anchor="middle" >687</text>
<text x="1524.6" y="2569.5" font-family='"Liberation Sans", Arial, sans-serif' font-size="25" text-anchor="middle" >685</text>
<text x="841" y="2616.4" font-family='"Liberation Sans", Arial, sans-serif' font-size="33.6" text-anchor="middle" >Binding energy [eV]</text>
<text x="1327" y="2616.4" font-family='"Liberation Sans", Arial, sans-serif' font-size="33.6" text-anchor="middle" >Binding energy [eV]</text>
<text transform="translate(557,2049.2) rotate(-90)" font-family='"Liberation Sans", Arial, sans-serif' font-size="40.8" text-anchor="middle">Normalized Intensity [arb. unit]</text></svg></body></html>
